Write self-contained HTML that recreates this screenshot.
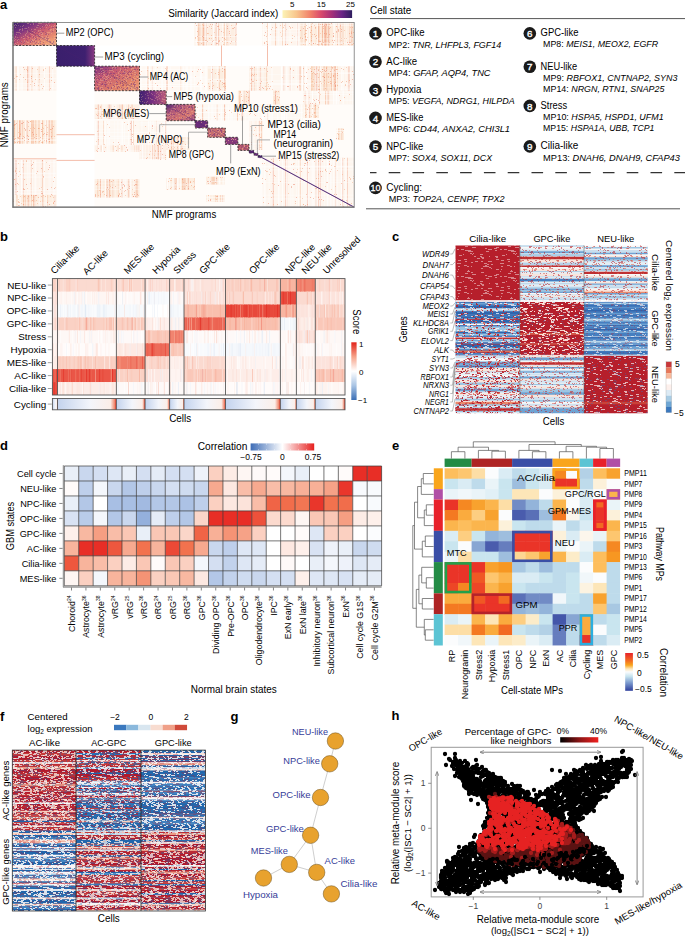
<!DOCTYPE html>
<html><head><meta charset="utf-8"><style>
html,body{margin:0;padding:0;background:#fff;width:685px;height:938px;overflow:hidden}
svg{display:block;font-family:"Liberation Sans",sans-serif}
</style></head><body>
<svg width="685" height="938" viewBox="0 0 685 938">
<text x="0.0" y="9.0" font-size="13" font-weight="bold" fill="#000">a</text>
<defs>
<linearGradient id="magma" x1="0" x2="1" y1="0" y2="0">
<stop offset="0" stop-color="#fcf3b6"/><stop offset="0.2" stop-color="#f8c58c"/>
<stop offset="0.4" stop-color="#f1806a"/><stop offset="0.55" stop-color="#da4a6c"/>
<stop offset="0.7" stop-color="#a83078"/><stop offset="0.85" stop-color="#6a2486"/>
<stop offset="1" stop-color="#2d1d5e"/></linearGradient>
</defs>
<rect x="282.50" y="10.20" width="69.60" height="7.80" fill="url(#magma)"/>
<text x="168.3" y="16.8" font-size="10" textLength="110.0" lengthAdjust="spacingAndGlyphs">Similarity (Jaccard index)</text>
<text x="292.3" y="7.3" font-size="8" text-anchor="middle">5</text>
<text x="321.2" y="7.3" font-size="8" text-anchor="middle">15</text>
<text x="350.5" y="7.3" font-size="8" text-anchor="middle">25</text>
<text x="370.0" y="13.7" font-size="10" textLength="41.3" lengthAdjust="spacingAndGlyphs">Cell state</text>
<line x1="370.00" y1="18.60" x2="685.00" y2="18.60" stroke="#555" stroke-width="1"/>
<circle cx="375.5" cy="33.4" r="6.3" fill="#1a1a1a"/>
<text x="375.5" y="37.1" font-size="9.8" text-anchor="middle" fill="#fff" stroke="#fff" stroke-width="0.35">1</text>
<text x="386.3" y="36.3" font-size="10" textLength="38.3" lengthAdjust="spacingAndGlyphs">OPC-like</text>
<text x="388.8" y="47.5" font-size="9.7" textLength="112.5" lengthAdjust="spacingAndGlyphs">MP2: <tspan font-style="italic">TNR, LHFPL3, FGF14</tspan></text>
<circle cx="375.5" cy="61.7" r="6.3" fill="#1a1a1a"/>
<text x="375.5" y="65.4" font-size="9.8" text-anchor="middle" fill="#fff" stroke="#fff" stroke-width="0.35">2</text>
<text x="386.3" y="64.6" font-size="10" textLength="30.8" lengthAdjust="spacingAndGlyphs">AC-like</text>
<text x="388.8" y="75.6" font-size="9.7" textLength="101.8" lengthAdjust="spacingAndGlyphs">MP4: <tspan font-style="italic">GFAP, AQP4, TNC</tspan></text>
<circle cx="375.5" cy="90.1" r="6.3" fill="#1a1a1a"/>
<text x="375.5" y="93.8" font-size="9.8" text-anchor="middle" fill="#fff" stroke="#fff" stroke-width="0.35">3</text>
<text x="386.3" y="93.0" font-size="10" textLength="35.0" lengthAdjust="spacingAndGlyphs">Hypoxia</text>
<text x="388.8" y="104.4" font-size="9.7" textLength="125.8" lengthAdjust="spacingAndGlyphs">MP5: <tspan font-style="italic">VEGFA, NDRG1, HILPDA</tspan></text>
<circle cx="375.5" cy="117.9" r="6.3" fill="#1a1a1a"/>
<text x="375.5" y="121.6" font-size="9.8" text-anchor="middle" fill="#fff" stroke="#fff" stroke-width="0.35">4</text>
<text x="386.3" y="120.8" font-size="10" textLength="37.0" lengthAdjust="spacingAndGlyphs">MES-like</text>
<text x="388.8" y="132.0" font-size="9.7" textLength="121.3" lengthAdjust="spacingAndGlyphs">MP6: <tspan font-style="italic">CD44, ANXA2, CHI3L1</tspan></text>
<circle cx="375.5" cy="146.6" r="6.3" fill="#1a1a1a"/>
<text x="375.5" y="150.3" font-size="9.8" text-anchor="middle" fill="#fff" stroke="#fff" stroke-width="0.35">5</text>
<text x="386.3" y="149.5" font-size="10" textLength="37.0" lengthAdjust="spacingAndGlyphs">NPC-like</text>
<text x="388.8" y="160.8" font-size="9.7" textLength="103.3" lengthAdjust="spacingAndGlyphs">MP7: <tspan font-style="italic">SOX4, SOX11, DCX</tspan></text>
<circle cx="529.8" cy="33.4" r="6.3" fill="#1a1a1a"/>
<text x="529.8" y="37.1" font-size="9.8" text-anchor="middle" fill="#fff" stroke="#fff" stroke-width="0.35">6</text>
<text x="540.6" y="36.3" font-size="10" textLength="37.8" lengthAdjust="spacingAndGlyphs">GPC-like</text>
<text x="543.1" y="47.2" font-size="9.7" textLength="115.0" lengthAdjust="spacingAndGlyphs">MP8: <tspan font-style="italic">MEIS1, MEOX2, EGFR</tspan></text>
<circle cx="529.8" cy="66.7" r="6.3" fill="#1a1a1a"/>
<text x="529.8" y="70.4" font-size="9.8" text-anchor="middle" fill="#fff" stroke="#fff" stroke-width="0.35">7</text>
<text x="540.6" y="69.6" font-size="10" textLength="36.5" lengthAdjust="spacingAndGlyphs">NEU-like</text>
<text x="543.1" y="81.2" font-size="9.7" textLength="134.3" lengthAdjust="spacingAndGlyphs">MP9: <tspan font-style="italic">RBFOX1, CNTNAP2, SYN3</tspan></text>
<text x="543.1" y="92.0" font-size="9.7" textLength="121.3" lengthAdjust="spacingAndGlyphs">MP14: <tspan font-style="italic">NRGN, RTN1, SNAP25</tspan></text>
<circle cx="529.8" cy="105.9" r="6.3" fill="#1a1a1a"/>
<text x="529.8" y="109.6" font-size="9.8" text-anchor="middle" fill="#fff" stroke="#fff" stroke-width="0.35">8</text>
<text x="540.6" y="108.8" font-size="10" textLength="26.5" lengthAdjust="spacingAndGlyphs">Stress</text>
<text x="543.1" y="120.0" font-size="9.7" textLength="120.5" lengthAdjust="spacingAndGlyphs">MP10: <tspan font-style="italic">HSPA5, HSPD1, UFM1</tspan></text>
<text x="543.1" y="131.3" font-size="9.7" textLength="111.3" lengthAdjust="spacingAndGlyphs">MP15: <tspan font-style="italic">HSPA1A, UBB, TCP1</tspan></text>
<circle cx="529.8" cy="146.4" r="6.3" fill="#1a1a1a"/>
<text x="529.8" y="150.1" font-size="9.8" text-anchor="middle" fill="#fff" stroke="#fff" stroke-width="0.35">9</text>
<text x="540.6" y="149.3" font-size="10" textLength="37.8" lengthAdjust="spacingAndGlyphs">Cilia-like</text>
<text x="543.1" y="160.5" font-size="9.7" textLength="136.8" lengthAdjust="spacingAndGlyphs">MP13: <tspan font-style="italic">DNAH6, DNAH9, CFAP43</tspan></text>
<line x1="370.00" y1="172.60" x2="685.00" y2="172.60" stroke="#333" stroke-width="1.1" stroke-dasharray="11.6 12.2" stroke-dashoffset="5.1"/>
<circle cx="375.5" cy="187.9" r="6.3" fill="#1a1a1a"/>
<text x="375.5" y="191.4" font-size="9" text-anchor="middle" textLength="10.0" lengthAdjust="spacingAndGlyphs" fill="#fff" stroke="#fff" stroke-width="0.3">10</text>
<text x="386.3" y="190.8" font-size="10" textLength="35.8" lengthAdjust="spacingAndGlyphs">Cycling:</text>
<text x="388.8" y="202.1" font-size="9.7" textLength="115.8" lengthAdjust="spacingAndGlyphs">MP3: <tspan font-style="italic">TOP2A, CENPF, TPX2</tspan></text>
<line x1="366.00" y1="208.80" x2="680.00" y2="208.80" stroke="#555" stroke-width="1"/>
<rect x="13.00" y="66.20" width="43.50" height="141.00" fill="#f8c8a0" fill-opacity="0.06"/>
<rect x="94.60" y="22.40" width="259.60" height="23.10" fill="#f8c8a0" fill-opacity="0.04"/>
<rect x="94.60" y="66.20" width="259.60" height="141.00" fill="#f8c8a0" fill-opacity="0.06"/>
<rect x="194.50" y="22.40" width="42.50" height="23.10" fill="#f8c8a0" fill-opacity="0.28"/>
<rect x="262.00" y="22.40" width="38.00" height="23.10" fill="#f8c8a0" fill-opacity="0.14"/>
<rect x="300.00" y="22.40" width="54.00" height="23.10" fill="#f8c8a0" fill-opacity="0.35"/>
<rect x="13.00" y="66.20" width="43.50" height="24.50" fill="#f8c8a0" fill-opacity="0.14"/>
<rect x="207.70" y="66.20" width="18.30" height="24.50" fill="#f8c8a0" fill-opacity="0.28"/>
<rect x="249.00" y="66.20" width="19.00" height="24.50" fill="#f8c8a0" fill-opacity="0.22"/>
<rect x="268.00" y="66.20" width="43.00" height="24.50" fill="#f8c8a0" fill-opacity="0.11"/>
<rect x="311.00" y="66.20" width="27.00" height="24.50" fill="#f8c8a0" fill-opacity="0.42"/>
<rect x="338.00" y="66.20" width="16.00" height="24.50" fill="#f8c8a0" fill-opacity="0.14"/>
<rect x="139.50" y="66.20" width="67.50" height="24.50" fill="#f8c8a0" fill-opacity="0.07"/>
<rect x="237.90" y="90.70" width="11.70" height="13.70" fill="#f8c8a0" fill-opacity="0.35"/>
<rect x="273.00" y="90.70" width="7.00" height="13.70" fill="#f8c8a0" fill-opacity="0.35"/>
<rect x="303.00" y="90.70" width="51.00" height="13.70" fill="#f8c8a0" fill-opacity="0.11"/>
<rect x="94.60" y="104.40" width="44.90" height="14.60" fill="#f8c8a0" fill-opacity="0.22"/>
<rect x="303.50" y="104.40" width="15.50" height="13.60" fill="#f8c8a0" fill-opacity="0.28"/>
<rect x="195.00" y="104.40" width="108.00" height="16.30" fill="#f8c8a0" fill-opacity="0.08"/>
<rect x="13.00" y="120.20" width="43.50" height="23.70" fill="#f8c8a0" fill-opacity="0.35"/>
<rect x="94.60" y="120.70" width="44.90" height="24.30" fill="#f8c8a0" fill-opacity="0.08"/>
<rect x="139.50" y="120.70" width="26.70" height="24.30" fill="#f8c8a0" fill-opacity="0.10"/>
<rect x="166.20" y="137.00" width="23.80" height="13.00" fill="#f8c8a0" fill-opacity="0.28"/>
<rect x="336.00" y="128.00" width="8.00" height="12.00" fill="#f8c8a0" fill-opacity="0.28"/>
<rect x="249.00" y="120.70" width="13.00" height="29.30" fill="#f8c8a0" fill-opacity="0.17"/>
<rect x="139.50" y="145.00" width="26.70" height="15.00" fill="#f8c8a0" fill-opacity="0.21"/>
<rect x="94.60" y="145.00" width="44.90" height="7.00" fill="#f8c8a0" fill-opacity="0.17"/>
<rect x="13.00" y="160.00" width="43.50" height="35.00" fill="#f8c8a0" fill-opacity="0.14"/>
<rect x="13.00" y="195.00" width="43.50" height="12.20" fill="#f8c8a0" fill-opacity="0.28"/>
<rect x="94.60" y="179.30" width="44.90" height="18.40" fill="#f8c8a0" fill-opacity="0.28"/>
<rect x="166.20" y="178.00" width="28.80" height="12.00" fill="#f8c8a0" fill-opacity="0.28"/>
<rect x="206.00" y="176.70" width="18.70" height="7.90" fill="#f8c8a0" fill-opacity="0.25"/>
<rect x="206.00" y="195.00" width="18.70" height="6.70" fill="#f8c8a0" fill-opacity="0.25"/>
<rect x="262.00" y="157.70" width="92.00" height="49.50" fill="#f8c8a0" fill-opacity="0.11"/>
<path d="M213.4 22.4h1v23.1h-1zM195.8 22.4h1v23.1h-1zM204.2 22.4h1v23.1h-1zM194.7 22.4h0.7v23.1h-0.7zM289.5 22.4h1v23.1h-1zM277.7 22.4h1v23.1h-1zM270.5 22.4h0.7v23.1h-0.7zM262.6 22.4h1v23.1h-1zM275.5 22.4h1v23.1h-1zM263.3 22.4h0.7v23.1h-0.7zM262.8 22.4h0.7v23.1h-0.7zM264.5 22.4h1v23.1h-1zM347.7 22.4h1v23.1h-1zM307.2 22.4h1v23.1h-1zM306 22.4h1v23.1h-1zM349.2 22.4h1v23.1h-1zM316.8 22.4h1v23.1h-1zM304 22.4h0.7v23.1h-0.7zM337.7 22.4h1v23.1h-1zM336.4 22.4h0.7v23.1h-0.7zM313.6 22.4h0.7v23.1h-0.7zM44 66.2h1v24.5h-1zM21.6 66.2h1v24.5h-1zM20.4 66.2h0.7v24.5h-0.7zM212.5 66.2h1v24.5h-1zM210.9 66.2h0.7v24.5h-0.7zM211.4 66.2h0.7v24.5h-0.7zM218.5 66.2h0.7v24.5h-0.7zM263.5 66.2h0.7v24.5h-0.7zM252.7 66.2h0.7v24.5h-0.7zM258.6 66.2h0.7v24.5h-0.7zM257.1 66.2h1v24.5h-1zM303.4 66.2h0.7v24.5h-0.7zM285.9 66.2h1v24.5h-1zM295.6 66.2h1v24.5h-1zM291.2 66.2h0.7v24.5h-0.7zM295.6 66.2h0.7v24.5h-0.7zM280.8 66.2h1v24.5h-1zM305.2 66.2h0.7v24.5h-0.7zM295.7 66.2h1v24.5h-1zM286.6 66.2h1v24.5h-1zM290.4 66.2h1v24.5h-1zM327.2 66.2h0.7v24.5h-0.7zM332.1 66.2h0.7v24.5h-0.7zM320.8 66.2h0.7v24.5h-0.7zM318.7 66.2h0.7v24.5h-0.7zM351.9 66.2h0.7v24.5h-0.7zM345.5 66.2h1v24.5h-1zM152.4 66.2h0.7v24.5h-0.7zM168.4 66.2h0.7v24.5h-0.7zM194.3 66.2h1v24.5h-1zM205.2 66.2h0.7v24.5h-0.7zM161.6 66.2h1v24.5h-1zM164.7 66.2h1v24.5h-1zM194.5 66.2h0.7v24.5h-0.7zM167.3 66.2h1v24.5h-1zM145.6 66.2h1v24.5h-1zM170.4 66.2h0.7v24.5h-0.7zM149.2 66.2h0.7v24.5h-0.7zM243.6 90.7h1v13.7h-1zM242 90.7h1v13.7h-1zM275 90.7h0.7v13.7h-0.7zM318.4 90.7h1v13.7h-1zM346.7 90.7h0.7v13.7h-0.7zM337.9 90.7h1v13.7h-1zM307 90.7h0.7v13.7h-0.7zM309.1 90.7h0.7v13.7h-0.7zM336.4 90.7h1v13.7h-1zM335.1 90.7h0.7v13.7h-0.7zM312 90.7h1v13.7h-1zM108.5 104.4h1v14.6h-1zM111.9 104.4h1v14.6h-1zM124.6 104.4h0.7v14.6h-0.7zM105.8 104.4h0.7v14.6h-0.7zM115 104.4h0.7v14.6h-0.7zM109.7 104.4h0.7v14.6h-0.7zM132.5 104.4h0.7v14.6h-0.7zM129.6 104.4h0.7v14.6h-0.7zM115.2 104.4h1v14.6h-1zM114.3 104.4h0.7v14.6h-0.7zM103.6 104.4h1v14.6h-1zM306.8 104.4h1v13.6h-1zM270.1 104.4h0.7v16.3h-0.7zM207.9 104.4h0.7v16.3h-0.7zM224.2 104.4h1v16.3h-1zM285.8 104.4h1v16.3h-1zM197.5 104.4h1v16.3h-1zM290.6 104.4h1v16.3h-1zM245.3 104.4h1v16.3h-1zM283.9 104.4h1v16.3h-1zM281.2 104.4h1v16.3h-1zM211.1 104.4h0.7v16.3h-0.7zM283.3 104.4h1v16.3h-1zM232.2 104.4h0.7v16.3h-0.7zM283.4 104.4h0.7v16.3h-0.7zM226.5 104.4h1v16.3h-1zM264.3 104.4h1v16.3h-1zM212.4 104.4h1v16.3h-1zM200.7 104.4h1v16.3h-1zM249.4 104.4h1v16.3h-1zM271.7 104.4h1v16.3h-1zM214.8 104.4h0.7v16.3h-0.7zM257.8 104.4h0.7v16.3h-0.7zM268.7 104.4h1v16.3h-1zM262.7 104.4h1v16.3h-1zM252.7 104.4h0.7v16.3h-0.7zM286.7 104.4h0.7v16.3h-0.7zM18.1 120.2h0.7v23.7h-0.7zM46.8 120.2h1v23.7h-1zM26.1 120.2h0.7v23.7h-0.7zM30.2 120.2h1v23.7h-1zM37.6 120.2h0.7v23.7h-0.7zM40.2 120.2h1v23.7h-1zM117.4 120.7h1v24.3h-1zM103.7 120.7h0.7v24.3h-0.7zM131.4 120.7h0.7v24.3h-0.7zM132 120.7h1v24.3h-1zM124.1 120.7h1v24.3h-1zM106.9 120.7h1v24.3h-1zM121.5 120.7h1v24.3h-1zM162.7 120.7h1v24.3h-1zM156.8 120.7h0.7v24.3h-0.7zM141.4 120.7h0.7v24.3h-0.7zM168.2 137h1v13h-1zM169.8 137h0.7v13h-0.7zM252.1 120.7h1v29.3h-1zM256.9 120.7h1v29.3h-1zM253.8 120.7h0.7v29.3h-0.7zM157.7 145h1v15h-1zM162.1 145h1v15h-1zM140.3 145h1v15h-1zM144.7 145h1v15h-1zM147.9 145h0.7v15h-0.7zM160.8 145h1v15h-1zM154.8 145h1v15h-1zM118.9 145h1v7h-1zM101.3 145h1v7h-1zM106.6 145h1v7h-1zM136.2 145h0.7v7h-0.7zM127.7 145h1v7h-1zM129.3 145h0.7v7h-0.7zM114.6 145h1v7h-1zM54.7 160h0.7v35h-0.7zM17.7 160h1v35h-1zM53.9 160h0.7v35h-0.7zM28.9 160h0.7v35h-0.7zM48.6 160h1v35h-1zM27.3 160h1v35h-1zM13.6 160h0.7v35h-0.7zM43.9 160h1v35h-1zM21.6 160h0.7v35h-0.7zM32.3 160h0.7v35h-0.7zM50.4 160h0.7v35h-0.7zM54.2 195h0.7v12.2h-0.7zM33.7 195h1v12.2h-1zM38.8 195h1v12.2h-1zM14.7 195h0.7v12.2h-0.7zM54.8 195h0.7v12.2h-0.7zM14 195h1v12.2h-1zM39.1 195h0.7v12.2h-0.7zM20.1 195h0.7v12.2h-0.7zM129.8 179.3h1v18.4h-1zM106.1 179.3h1v18.4h-1zM126.6 179.3h0.7v18.4h-0.7zM135.4 179.3h0.7v18.4h-0.7zM101.4 179.3h1v18.4h-1zM123.2 179.3h0.7v18.4h-0.7zM167.7 178h1v12h-1zM177.4 178h0.7v12h-0.7zM173.7 178h0.7v12h-0.7zM184.8 178h0.7v12h-0.7zM215.1 176.7h0.7v7.9h-0.7zM208.6 176.7h0.7v7.9h-0.7zM209.4 195h0.7v6.7h-0.7zM211.8 195h0.7v6.7h-0.7zM218.6 195h0.7v6.7h-0.7zM291.6 157.7h1v49.5h-1zM323.9 157.7h0.7v49.5h-0.7zM263.9 157.7h0.7v49.5h-0.7zM262.3 157.7h1v49.5h-1zM285.8 157.7h0.7v49.5h-0.7zM290.3 157.7h0.7v49.5h-0.7zM304.8 157.7h0.7v49.5h-0.7zM327.5 157.7h0.7v49.5h-0.7zM314.5 157.7h0.7v49.5h-0.7zM264 157.7h1v49.5h-1zM303.6 157.7h0.7v49.5h-0.7zM320.3 157.7h0.7v49.5h-0.7zM326.7 157.7h0.7v49.5h-0.7zM268.6 157.7h1v49.5h-1z" fill="#fff" fill-opacity="0.55"/>
<path d="M215.7 22.4h0.7v23.1h-0.7zM220.1 22.4h0.7v23.1h-0.7zM213.1 22.4h0.7v23.1h-0.7zM195.1 22.4h0.7v23.1h-0.7zM226.5 22.4h1v23.1h-1zM229.8 22.4h1v23.1h-1zM234.5 22.4h0.7v23.1h-0.7zM264.9 22.4h0.7v23.1h-0.7zM266.1 22.4h1v23.1h-1zM281.3 22.4h0.7v23.1h-0.7zM278.6 22.4h0.7v23.1h-0.7zM283.3 22.4h0.7v23.1h-0.7zM295.9 22.4h1v23.1h-1zM349.5 22.4h1v23.1h-1zM317.4 22.4h1v23.1h-1zM333.7 22.4h0.7v23.1h-0.7zM320.5 22.4h1v23.1h-1zM303.4 22.4h1v23.1h-1zM307.2 22.4h1v23.1h-1zM301.3 22.4h1v23.1h-1zM328.5 22.4h1v23.1h-1zM328.5 22.4h0.7v23.1h-0.7zM43.6 66.2h1v24.5h-1zM22.2 66.2h0.7v24.5h-0.7zM52.1 66.2h1v24.5h-1zM26.5 66.2h1v24.5h-1zM22.3 66.2h0.7v24.5h-0.7zM18.7 66.2h0.7v24.5h-0.7zM46.7 66.2h0.7v24.5h-0.7zM30.2 66.2h0.7v24.5h-0.7zM55.6 66.2h0.7v24.5h-0.7zM33.6 66.2h0.7v24.5h-0.7zM45.5 66.2h1v24.5h-1zM21.1 66.2h0.7v24.5h-0.7zM223.2 66.2h0.7v24.5h-0.7zM224.9 66.2h0.7v24.5h-0.7zM215.5 66.2h0.7v24.5h-0.7zM262.1 66.2h1v24.5h-1zM265.6 66.2h0.7v24.5h-0.7zM260 66.2h0.7v24.5h-0.7zM260.4 66.2h1v24.5h-1zM282.5 66.2h0.7v24.5h-0.7zM302.2 66.2h1v24.5h-1zM287.6 66.2h0.7v24.5h-0.7zM305.8 66.2h0.7v24.5h-0.7zM283.3 66.2h1v24.5h-1zM330.8 66.2h1v24.5h-1zM320.5 66.2h0.7v24.5h-0.7zM322 66.2h1v24.5h-1zM352.5 66.2h1v24.5h-1zM350 66.2h1v24.5h-1zM348.9 66.2h1v24.5h-1zM169.3 66.2h1v24.5h-1zM146.3 66.2h0.7v24.5h-0.7zM184.7 66.2h0.7v24.5h-0.7zM179 66.2h0.7v24.5h-0.7zM154.6 66.2h0.7v24.5h-0.7zM148.8 66.2h0.7v24.5h-0.7zM202.5 66.2h0.7v24.5h-0.7zM204.4 66.2h0.7v24.5h-0.7zM185.2 66.2h1v24.5h-1zM190.1 66.2h1v24.5h-1zM247.8 90.7h1v13.7h-1zM247.5 90.7h0.7v13.7h-0.7zM278.5 90.7h1v13.7h-1zM275.2 90.7h0.7v13.7h-0.7zM328.9 90.7h1v13.7h-1zM336.5 90.7h1v13.7h-1zM306.7 90.7h0.7v13.7h-0.7zM315.6 90.7h0.7v13.7h-0.7zM317.3 90.7h0.7v13.7h-0.7zM312 90.7h0.7v13.7h-0.7zM342.7 90.7h0.7v13.7h-0.7zM334.2 90.7h1v13.7h-1zM349.6 90.7h1v13.7h-1zM342.1 90.7h0.7v13.7h-0.7zM125.1 104.4h1v14.6h-1zM125.4 104.4h0.7v14.6h-0.7zM116.2 104.4h0.7v14.6h-0.7zM127.4 104.4h0.7v14.6h-0.7zM105.2 104.4h0.7v14.6h-0.7zM113.3 104.4h0.7v14.6h-0.7zM108.2 104.4h0.7v14.6h-0.7zM111.3 104.4h0.7v14.6h-0.7zM113.1 104.4h0.7v14.6h-0.7zM308.6 104.4h0.7v13.6h-0.7zM307.9 104.4h0.7v13.6h-0.7zM305.3 104.4h1v13.6h-1zM272.1 104.4h1v16.3h-1zM198.3 104.4h0.7v16.3h-0.7zM239.5 104.4h1v16.3h-1zM298.6 104.4h1v16.3h-1zM248.1 104.4h1v16.3h-1zM219.5 104.4h0.7v16.3h-0.7zM250.8 104.4h1v16.3h-1zM237.5 104.4h0.7v16.3h-0.7zM234.3 104.4h1v16.3h-1zM270.7 104.4h0.7v16.3h-0.7zM277.8 104.4h1v16.3h-1zM271.7 104.4h1v16.3h-1zM270.8 104.4h1v16.3h-1zM295.1 104.4h0.7v16.3h-0.7zM211.9 104.4h0.7v16.3h-0.7zM21.1 120.2h1v23.7h-1zM48.6 120.2h0.7v23.7h-0.7zM28.3 120.2h1v23.7h-1zM35 120.2h0.7v23.7h-0.7zM15.7 120.2h1v23.7h-1zM45.7 120.2h1v23.7h-1zM51.4 120.2h0.7v23.7h-0.7zM17 120.2h1v23.7h-1zM44.7 120.2h0.7v23.7h-0.7zM114 120.7h1v24.3h-1zM97.8 120.7h1v24.3h-1zM128.6 120.7h0.7v24.3h-0.7zM130.4 120.7h0.7v24.3h-0.7zM109.3 120.7h1v24.3h-1zM102.6 120.7h1v24.3h-1zM121.2 120.7h0.7v24.3h-0.7zM120.2 120.7h0.7v24.3h-0.7zM157.5 120.7h0.7v24.3h-0.7zM150.4 120.7h1v24.3h-1zM156.5 120.7h1v24.3h-1zM141.8 120.7h1v24.3h-1zM149.2 120.7h1v24.3h-1zM186 137h0.7v13h-0.7zM174.3 137h0.7v13h-0.7zM173.1 137h0.7v13h-0.7zM174.3 137h0.7v13h-0.7zM179.8 137h1v13h-1zM189 137h1v13h-1zM179 137h1v13h-1zM336.7 128h1v12h-1zM249.6 120.7h0.7v29.3h-0.7zM250.1 120.7h0.7v29.3h-0.7zM253 120.7h1v29.3h-1zM157.4 145h0.7v15h-0.7zM143.1 145h0.7v15h-0.7zM98.9 145h0.7v7h-0.7zM138.1 145h1v7h-1zM130.2 145h1v7h-1zM105.6 145h0.7v7h-0.7zM100.4 145h1v7h-1zM126.6 145h0.7v7h-0.7zM22.4 160h1v35h-1zM33.9 160h1v35h-1zM16.7 160h0.7v35h-0.7zM38.8 160h0.7v35h-0.7zM40.8 160h1v35h-1zM19.3 195h0.7v12.2h-0.7zM44 195h0.7v12.2h-0.7zM24.2 195h0.7v12.2h-0.7zM40.9 195h0.7v12.2h-0.7zM52.4 195h0.7v12.2h-0.7zM15.2 195h0.7v12.2h-0.7zM20.4 195h0.7v12.2h-0.7zM14.1 195h1v12.2h-1zM33.2 195h1v12.2h-1zM129.9 179.3h0.7v18.4h-0.7zM132.8 179.3h0.7v18.4h-0.7zM132.9 179.3h1v18.4h-1zM126 179.3h0.7v18.4h-0.7zM133.6 179.3h1v18.4h-1zM115.2 179.3h0.7v18.4h-0.7zM109.1 179.3h0.7v18.4h-0.7zM167.5 178h0.7v12h-0.7zM169.6 178h1v12h-1zM208.8 176.7h0.7v7.9h-0.7zM223.1 176.7h1v7.9h-1zM209.2 195h0.7v6.7h-0.7zM220.7 195h1v6.7h-1zM330 157.7h0.7v49.5h-0.7zM316.7 157.7h1v49.5h-1zM334.3 157.7h1v49.5h-1zM277.8 157.7h0.7v49.5h-0.7zM295.9 157.7h1v49.5h-1zM352.4 157.7h0.7v49.5h-0.7zM300.9 157.7h1v49.5h-1zM340.6 157.7h1v49.5h-1zM310.5 157.7h0.7v49.5h-0.7zM346.1 157.7h0.7v49.5h-0.7zM282.4 157.7h0.7v49.5h-0.7zM293.4 157.7h0.7v49.5h-0.7z" fill="#fff" fill-opacity="0.35"/>
<path d="M228 22.4h1v23.1h-1zM217 22.4h0.7v23.1h-0.7zM235.5 22.4h1v23.1h-1zM225.3 22.4h0.7v23.1h-0.7zM196 22.4h0.7v23.1h-0.7zM212.9 22.4h0.7v23.1h-0.7zM221.8 22.4h1v23.1h-1zM236 22.4h0.7v23.1h-0.7zM205.1 22.4h0.7v23.1h-0.7zM206.6 22.4h0.7v23.1h-0.7zM267.9 22.4h0.7v23.1h-0.7zM297.3 22.4h1v23.1h-1zM269.9 22.4h0.7v23.1h-0.7zM268.6 22.4h1v23.1h-1zM286.4 22.4h0.7v23.1h-0.7zM307.6 22.4h0.7v23.1h-0.7zM309 22.4h1v23.1h-1zM344.5 22.4h0.7v23.1h-0.7zM333.3 22.4h1v23.1h-1zM346.4 22.4h0.7v23.1h-0.7zM334.5 22.4h0.7v23.1h-0.7zM341.5 22.4h0.7v23.1h-0.7zM306.1 22.4h0.7v23.1h-0.7zM312 22.4h1v23.1h-1zM29 66.2h1v24.5h-1zM39.3 66.2h0.7v24.5h-0.7zM35.8 66.2h0.7v24.5h-0.7zM17.1 66.2h1v24.5h-1zM17.9 66.2h1v24.5h-1zM52.6 66.2h0.7v24.5h-0.7zM211.5 66.2h1v24.5h-1zM216.7 66.2h1v24.5h-1zM249.8 66.2h0.7v24.5h-0.7zM301.9 66.2h1v24.5h-1zM304.9 66.2h0.7v24.5h-0.7zM271.5 66.2h1v24.5h-1zM281.1 66.2h0.7v24.5h-0.7zM306.2 66.2h1v24.5h-1zM281.4 66.2h1v24.5h-1zM319.9 66.2h1v24.5h-1zM314.6 66.2h1v24.5h-1zM332.1 66.2h0.7v24.5h-0.7zM336.1 66.2h0.7v24.5h-0.7zM317.4 66.2h0.7v24.5h-0.7zM316.4 66.2h1v24.5h-1zM341.2 66.2h1v24.5h-1zM342.7 66.2h0.7v24.5h-0.7zM342.6 66.2h1v24.5h-1zM200.9 66.2h1v24.5h-1zM161.6 66.2h1v24.5h-1zM140.5 66.2h1v24.5h-1zM186.2 66.2h0.7v24.5h-0.7zM182.9 66.2h0.7v24.5h-0.7zM190.6 66.2h1v24.5h-1zM155.1 66.2h0.7v24.5h-0.7zM187.1 66.2h0.7v24.5h-0.7zM148.6 66.2h1v24.5h-1zM199.8 66.2h0.7v24.5h-0.7zM200.5 66.2h0.7v24.5h-0.7zM205.7 66.2h1v24.5h-1zM241.1 90.7h1v13.7h-1zM312.1 90.7h0.7v13.7h-0.7zM343.3 90.7h0.7v13.7h-0.7zM352.3 90.7h1v13.7h-1zM333.1 90.7h1v13.7h-1zM336 90.7h0.7v13.7h-0.7zM317.6 90.7h0.7v13.7h-0.7zM333.5 90.7h0.7v13.7h-0.7zM101.7 104.4h0.7v14.6h-0.7zM103.6 104.4h0.7v14.6h-0.7zM304.1 104.4h0.7v13.6h-0.7zM312.8 104.4h0.7v13.6h-0.7zM311.7 104.4h1v13.6h-1zM282.4 104.4h0.7v16.3h-0.7zM262.3 104.4h1v16.3h-1zM220.7 104.4h1v16.3h-1zM277 104.4h0.7v16.3h-0.7zM281.4 104.4h0.7v16.3h-0.7zM261.6 104.4h1v16.3h-1zM301 104.4h0.7v16.3h-0.7zM228.3 104.4h1v16.3h-1zM230.8 104.4h0.7v16.3h-0.7zM283.8 104.4h1v16.3h-1zM208.4 104.4h1v16.3h-1zM266.8 104.4h0.7v16.3h-0.7zM215.8 104.4h1v16.3h-1zM230.4 104.4h0.7v16.3h-0.7zM55.5 120.2h1v23.7h-1zM49.6 120.2h0.7v23.7h-0.7zM29.6 120.2h1v23.7h-1zM41.1 120.2h1v23.7h-1zM24.9 120.2h1v23.7h-1zM44.7 120.2h1v23.7h-1zM103.2 120.7h1v24.3h-1zM105.1 120.7h0.7v24.3h-0.7zM97.8 120.7h0.7v24.3h-0.7zM122.3 120.7h0.7v24.3h-0.7zM95.3 120.7h1v24.3h-1zM108.5 120.7h1v24.3h-1zM128.4 120.7h0.7v24.3h-0.7zM148.1 120.7h1v24.3h-1zM164.2 120.7h1v24.3h-1zM150.2 120.7h0.7v24.3h-0.7zM160.8 120.7h0.7v24.3h-0.7zM152.6 120.7h1v24.3h-1zM179.3 137h0.7v13h-0.7zM185.8 137h0.7v13h-0.7zM336.8 128h1v12h-1zM336.4 128h1v12h-1zM338.3 128h0.7v12h-0.7zM142 145h1v15h-1zM150.8 145h1v15h-1zM159.7 145h0.7v15h-0.7zM158.7 145h0.7v15h-0.7zM101.8 145h0.7v7h-0.7zM102 145h1v7h-1zM108.9 145h0.7v7h-0.7zM118.3 145h1v7h-1zM107.5 145h1v7h-1zM101.7 145h0.7v7h-0.7zM98.5 145h0.7v7h-0.7zM97 145h1v7h-1zM126.8 145h1v7h-1zM52.9 160h0.7v35h-0.7zM14.4 160h0.7v35h-0.7zM15 160h1v35h-1zM20.9 160h1v35h-1zM35.3 160h1v35h-1zM26.1 195h0.7v12.2h-0.7zM18.2 195h1v12.2h-1zM45.6 195h1v12.2h-1zM24.1 195h1v12.2h-1zM130.5 179.3h1v18.4h-1zM105.4 179.3h0.7v18.4h-0.7zM123.6 179.3h1v18.4h-1zM121.5 179.3h1v18.4h-1zM108.3 179.3h0.7v18.4h-0.7zM125.2 179.3h1v18.4h-1zM122.1 179.3h0.7v18.4h-0.7zM119.7 179.3h1v18.4h-1zM104.8 179.3h0.7v18.4h-0.7zM166.7 178h0.7v12h-0.7zM177.1 178h1v12h-1zM169.2 178h0.7v12h-0.7zM179.8 178h1v12h-1zM172.4 178h1v12h-1zM167.1 178h0.7v12h-0.7zM178.4 178h0.7v12h-0.7zM166.9 178h1v12h-1zM218.6 176.7h1v7.9h-1zM219.5 176.7h1v7.9h-1zM219.5 176.7h1v7.9h-1zM222.5 176.7h1v7.9h-1zM214.7 176.7h1v7.9h-1zM217.4 195h0.7v6.7h-0.7zM207 195h0.7v6.7h-0.7zM217.2 195h1v6.7h-1zM222.4 195h1v6.7h-1zM327.5 157.7h0.7v49.5h-0.7zM344.9 157.7h0.7v49.5h-0.7zM286.9 157.7h0.7v49.5h-0.7zM333.1 157.7h0.7v49.5h-0.7zM311.7 157.7h1v49.5h-1zM336.5 157.7h1v49.5h-1zM286.2 157.7h1v49.5h-1zM264.9 157.7h0.7v49.5h-0.7zM341.2 157.7h1v49.5h-1zM298.2 157.7h0.7v49.5h-0.7zM272 157.7h1v49.5h-1zM341 157.7h1v49.5h-1zM313.3 157.7h1v49.5h-1zM331.5 157.7h0.7v49.5h-0.7zM329.9 157.7h0.7v49.5h-0.7zM307.5 157.7h1v49.5h-1zM311.6 157.7h1v49.5h-1zM282.1 157.7h0.7v49.5h-0.7zM278.2 157.7h0.7v49.5h-0.7zM278.8 157.7h0.7v49.5h-0.7z" fill="#fff" fill-opacity="0.75"/>
<path d="M203.2 22.4h0.7v23.1h-0.7zM218.1 22.4h0.7v23.1h-0.7zM215.7 22.4h0.7v23.1h-0.7zM324.1 22.4h0.7v23.1h-0.7zM318.2 22.4h1v23.1h-1zM327.8 22.4h1v23.1h-1zM325.2 22.4h0.7v23.1h-0.7zM27 66.2h1v24.5h-1zM49.1 66.2h0.7v24.5h-0.7zM224 66.2h0.7v24.5h-0.7zM251.1 66.2h1v24.5h-1zM334.9 66.2h1v24.5h-1zM316.7 66.2h0.7v24.5h-0.7zM348.4 66.2h0.7v24.5h-0.7zM166.4 66.2h0.7v24.5h-0.7zM274.9 90.7h1v13.7h-1zM327.6 90.7h0.7v13.7h-0.7zM319.3 90.7h0.7v13.7h-0.7zM97.8 104.4h1v14.6h-1zM122 104.4h0.7v14.6h-0.7zM108.9 104.4h0.7v14.6h-0.7zM309.1 104.4h1v13.6h-1zM242.4 104.4h0.7v16.3h-0.7zM224 104.4h0.7v16.3h-0.7zM26.7 120.2h0.7v23.7h-0.7zM33.2 120.2h0.7v23.7h-0.7zM48.8 120.2h1v23.7h-1zM19.5 120.2h1v23.7h-1zM97.8 120.7h1v24.3h-1zM130.8 120.7h1v24.3h-1zM177.5 137h0.7v13h-0.7zM181.3 137h1v13h-1zM157.6 145h0.7v15h-0.7zM14.9 160h0.7v35h-0.7zM28.2 195h1v12.2h-1zM33.5 195h0.7v12.2h-0.7zM42.3 195h1v12.2h-1zM100 179.3h1v18.4h-1zM121.7 179.3h0.7v18.4h-0.7zM187.8 178h1v12h-1zM183.4 178h0.7v12h-0.7zM216.4 176.7h0.7v7.9h-0.7zM222.4 195h0.7v6.7h-0.7zM319.9 157.7h0.7v49.5h-0.7zM318.1 157.7h0.7v49.5h-0.7zM285 157.7h0.7v49.5h-0.7zM347.3 157.7h0.7v49.5h-0.7zM307 157.7h0.7v49.5h-0.7zM272.7 157.7h1v49.5h-1z" fill="#ec8060" fill-opacity="0.4"/>
<path d="M235.4 22.4h1v23.1h-1zM297.1 22.4h0.7v23.1h-0.7zM285.2 22.4h1v23.1h-1zM337.1 22.4h0.7v23.1h-0.7zM328.6 22.4h1v23.1h-1zM342.6 22.4h0.7v23.1h-0.7zM325 22.4h1v23.1h-1zM340.3 22.4h1v23.1h-1zM350.8 22.4h0.7v23.1h-0.7zM351.5 22.4h1v23.1h-1zM301.5 22.4h0.7v23.1h-0.7zM322 22.4h1v23.1h-1zM28.4 66.2h1v24.5h-1zM212.1 66.2h1v24.5h-1zM259.9 66.2h1v24.5h-1zM253.9 66.2h0.7v24.5h-0.7zM283.3 66.2h1v24.5h-1zM299.2 66.2h1v24.5h-1zM289.8 66.2h0.7v24.5h-0.7zM319.1 66.2h0.7v24.5h-0.7zM313.8 66.2h0.7v24.5h-0.7zM315.8 66.2h1v24.5h-1zM323.7 66.2h1v24.5h-1zM323.6 66.2h0.7v24.5h-0.7zM333.9 66.2h1v24.5h-1zM349.3 66.2h0.7v24.5h-0.7zM151.9 66.2h0.7v24.5h-0.7zM248.8 90.7h1v13.7h-1zM275 90.7h0.7v13.7h-0.7zM304.8 90.7h0.7v13.7h-0.7zM119.6 104.4h0.7v14.6h-0.7zM110.5 104.4h0.7v14.6h-0.7zM108.4 104.4h1v14.6h-1zM202.2 104.4h1v16.3h-1zM267.4 104.4h0.7v16.3h-0.7zM241.4 104.4h0.7v16.3h-0.7zM46.3 120.2h0.7v23.7h-0.7zM165.2 120.7h1v24.3h-1zM180.4 137h0.7v13h-0.7zM171.5 137h0.7v13h-0.7zM173 137h0.7v13h-0.7zM173.1 137h0.7v13h-0.7zM341.3 128h1v12h-1zM259 120.7h1v29.3h-1zM154.4 145h1v15h-1zM151.9 145h1v15h-1zM158.4 145h0.7v15h-0.7zM160.3 145h1v15h-1zM138.2 145h1v7h-1zM22.9 160h1v35h-1zM42.2 160h0.7v35h-0.7zM16 160h0.7v35h-0.7zM30.9 160h0.7v35h-0.7zM54.4 195h1v12.2h-1zM107.4 179.3h1v18.4h-1zM128 179.3h0.7v18.4h-0.7zM109 179.3h0.7v18.4h-0.7zM136.9 179.3h1v18.4h-1zM112.5 179.3h0.7v18.4h-0.7zM128.2 179.3h1v18.4h-1zM174.5 178h1v12h-1zM175.8 178h1v12h-1zM194 178h0.7v12h-0.7zM211.4 176.7h0.7v7.9h-0.7zM335.4 157.7h0.7v49.5h-0.7zM342.2 157.7h1v49.5h-1zM315.6 157.7h0.7v49.5h-0.7z" fill="#ec8060" fill-opacity="0.25"/>
<path d="M198.1 22.4h1v23.1h-1zM224 22.4h0.7v23.1h-0.7zM227.7 22.4h0.7v23.1h-0.7zM203.4 22.4h1v23.1h-1zM267.1 22.4h0.7v23.1h-0.7zM282.3 22.4h0.7v23.1h-0.7zM275.1 22.4h1v23.1h-1zM304.6 22.4h1v23.1h-1zM311.3 22.4h1v23.1h-1zM318.5 22.4h0.7v23.1h-0.7zM348.9 22.4h0.7v23.1h-0.7zM321.9 22.4h0.7v23.1h-0.7zM326.1 22.4h0.7v23.1h-0.7zM38.8 66.2h0.7v24.5h-0.7zM219 66.2h0.7v24.5h-0.7zM218.9 66.2h0.7v24.5h-0.7zM224.7 66.2h1v24.5h-1zM266.3 66.2h0.7v24.5h-0.7zM331.3 66.2h0.7v24.5h-0.7zM311.4 66.2h1v24.5h-1zM326.4 66.2h1v24.5h-1zM167 66.2h0.7v24.5h-0.7zM147.4 66.2h1v24.5h-1zM239.3 90.7h1v13.7h-1zM325.1 90.7h1v13.7h-1zM128.4 104.4h0.7v14.6h-0.7zM131.6 104.4h1v14.6h-1zM315 104.4h1v13.6h-1zM305.3 104.4h1v13.6h-1zM313.8 104.4h0.7v13.6h-0.7zM237 104.4h1v16.3h-1zM224.4 104.4h0.7v16.3h-0.7zM19.1 120.2h1v23.7h-1zM13.9 120.2h1v23.7h-1zM41.9 120.2h1v23.7h-1zM35.4 120.2h0.7v23.7h-0.7zM51.9 120.2h0.7v23.7h-0.7zM30.9 120.2h1v23.7h-1zM38.6 120.2h0.7v23.7h-0.7zM32.1 120.2h0.7v23.7h-0.7zM103.3 120.7h0.7v24.3h-0.7zM170.9 137h0.7v13h-0.7zM338.3 128h1v12h-1zM261.2 120.7h1v29.3h-1zM136.5 145h0.7v7h-0.7zM112.8 145h0.7v7h-0.7zM117.8 145h0.7v7h-0.7zM121.6 145h0.7v7h-0.7zM100.8 145h0.7v7h-0.7zM33 195h1v12.2h-1zM23 195h1v12.2h-1zM25.1 195h0.7v12.2h-0.7zM16.6 195h0.7v12.2h-0.7zM31.2 195h0.7v12.2h-0.7zM109.3 179.3h1v18.4h-1zM97.5 179.3h0.7v18.4h-0.7zM135.7 179.3h1v18.4h-1zM106.4 179.3h0.7v18.4h-0.7zM184.5 178h0.7v12h-0.7zM182 178h1v12h-1zM214.3 176.7h1v7.9h-1zM212.8 176.7h1v7.9h-1zM216.8 195h1v6.7h-1zM216.8 195h1v6.7h-1zM299.9 157.7h0.7v49.5h-0.7z" fill="#f0905e" fill-opacity="0.4"/>
<path d="M226.1 22.4h0.7v23.1h-0.7zM199.4 22.4h1v23.1h-1zM205.8 22.4h1v23.1h-1zM202.3 22.4h0.7v23.1h-0.7zM324.7 22.4h0.7v23.1h-0.7zM15.6 66.2h1v24.5h-1zM31.4 66.2h1v24.5h-1zM303.3 66.2h0.7v24.5h-0.7zM300 66.2h1v24.5h-1zM331.6 66.2h0.7v24.5h-0.7zM180.5 66.2h0.7v24.5h-0.7zM248.5 90.7h1v13.7h-1zM243.8 90.7h1v13.7h-1zM328.3 90.7h1v13.7h-1zM308.7 90.7h0.7v13.7h-0.7zM121.4 104.4h1v14.6h-1zM101.3 104.4h0.7v14.6h-0.7zM216.6 104.4h1v16.3h-1zM201.9 104.4h1v16.3h-1zM21.8 120.2h1v23.7h-1zM17 120.2h0.7v23.7h-0.7zM50.9 120.2h1v23.7h-1zM133 120.7h1v24.3h-1zM156.4 120.7h0.7v24.3h-0.7zM158.1 145h1v15h-1zM134.4 145h0.7v7h-0.7zM97.3 145h0.7v7h-0.7zM41.8 160h0.7v35h-0.7zM23.9 195h1v12.2h-1zM34.3 195h1v12.2h-1zM26.6 195h1v12.2h-1zM47.1 195h1v12.2h-1zM117.9 179.3h0.7v18.4h-0.7zM184.7 178h1v12h-1zM212.3 176.7h0.7v7.9h-0.7zM215 195h1v6.7h-1zM220.1 195h1v6.7h-1zM286.7 157.7h0.7v49.5h-0.7z" fill="#f0905e" fill-opacity="0.25"/>
<path d="M194.5 40.9h42.5v1h-42.5zM194.5 24.1h42.5v0.7h-42.5zM194.5 42.7h42.5v0.7h-42.5zM262 36h38v0.7h-38zM262 32.2h38v0.7h-38zM300 24.8h54v1h-54zM300 43h54v0.7h-54zM300 23.2h54v0.7h-54zM13 87.4h43.5v1h-43.5zM13 72.8h43.5v0.7h-43.5zM13 85.5h43.5v1h-43.5zM13 84.3h43.5v1h-43.5zM13 73.4h43.5v0.7h-43.5zM207.7 66.8h18.3v0.7h-18.3zM207.7 67.4h18.3v1h-18.3zM249 70.7h19v0.7h-19zM249 87h19v0.7h-19zM249 66.8h19v0.7h-19zM249 71.5h19v1h-19zM249 84.1h19v0.7h-19zM268 81.6h43v1h-43zM268 80h43v1h-43zM268 74.1h43v1h-43zM268 87.5h43v0.7h-43zM268 81.2h43v0.7h-43zM268 83.9h43v1h-43zM311 69.9h27v1h-27zM311 78.4h27v0.7h-27zM311 79.8h27v0.7h-27zM311 71h27v0.7h-27zM311 68.2h27v1h-27zM311 87.3h27v1h-27zM338 86.7h16v1h-16zM338 84.5h16v0.7h-16zM338 88.8h16v1h-16zM139.5 78.5h67.5v1h-67.5zM139.5 79.7h67.5v1h-67.5zM139.5 81.4h67.5v0.7h-67.5zM139.5 75.8h67.5v1h-67.5zM237.9 93.6h11.7v1h-11.7zM237.9 102.4h11.7v0.7h-11.7zM237.9 92.3h11.7v1h-11.7zM237.9 94.5h11.7v1h-11.7zM273 93.3h7v0.7h-7zM273 90.9h7v0.7h-7zM273 93.2h7v0.7h-7zM303 91.4h51v1h-51zM94.6 114.4h44.9v1h-44.9zM303.5 112.9h15.5v0.7h-15.5zM303.5 113.9h15.5v1h-15.5zM195 107.2h108v1h-108zM195 116.9h108v1h-108zM13 137.1h43.5v1h-43.5zM13 137.1h43.5v1h-43.5zM13 122.7h43.5v0.7h-43.5zM13 143h43.5v0.7h-43.5zM94.6 123.8h44.9v0.7h-44.9zM94.6 128.8h44.9v1h-44.9zM94.6 123.6h44.9v1h-44.9zM94.6 136.6h44.9v1h-44.9zM94.6 142.6h44.9v1h-44.9zM139.5 136h26.7v0.7h-26.7zM139.5 139.3h26.7v0.7h-26.7zM139.5 123h26.7v0.7h-26.7zM336 128.1h8v1h-8zM249 138.9h13v0.7h-13zM249 132.6h13v0.7h-13zM249 143h13v1h-13zM249 146.3h13v0.7h-13zM249 148h13v1h-13zM139.5 151.9h26.7v0.7h-26.7zM139.5 152.1h26.7v0.7h-26.7zM139.5 159.1h26.7v1h-26.7zM94.6 145.2h44.9v0.7h-44.9zM13 173h43.5v1h-43.5zM13 176.3h43.5v0.7h-43.5zM13 177.1h43.5v1h-43.5zM13 174.5h43.5v0.7h-43.5zM13 164.7h43.5v0.7h-43.5zM13 187.5h43.5v1h-43.5zM13 166.6h43.5v0.7h-43.5zM13 198.6h43.5v1h-43.5zM13 206.2h43.5v0.7h-43.5zM94.6 182.7h44.9v1h-44.9zM94.6 187.5h44.9v1h-44.9zM94.6 196.8h44.9v1h-44.9zM166.2 183.6h28.8v0.7h-28.8zM166.2 187.4h28.8v1h-28.8zM206 181.1h18.7v0.7h-18.7zM262 176.7h92v0.7h-92zM262 182.1h92v1h-92zM262 179.5h92v1h-92zM262 161.5h92v0.7h-92zM262 166.9h92v1h-92zM262 198.8h92v1h-92zM262 165.6h92v0.7h-92zM262 169.5h92v1h-92zM262 161.9h92v0.7h-92zM262 198.9h92v0.7h-92zM262 168.9h92v0.7h-92zM262 179.6h92v1h-92zM262 161.3h92v0.7h-92z" fill="#fff" fill-opacity="0.3"/>
<path d="M194.5 22.7h42.5v1h-42.5zM194.5 36.3h42.5v0.7h-42.5zM194.5 41h42.5v0.7h-42.5zM194.5 26.5h42.5v0.7h-42.5zM262 36.7h38v1h-38zM262 38.6h38v1h-38zM262 29.3h38v0.7h-38zM262 22.9h38v0.7h-38zM262 39.8h38v1h-38zM300 42.5h54v1h-54zM300 22.7h54v1h-54zM300 38.5h54v0.7h-54zM300 24.7h54v0.7h-54zM13 78.2h43.5v1h-43.5zM13 87.4h43.5v1h-43.5zM13 83.3h43.5v0.7h-43.5zM207.7 88.6h18.3v1h-18.3zM207.7 78.7h18.3v1h-18.3zM207.7 78.8h18.3v1h-18.3zM207.7 79.5h18.3v1h-18.3zM207.7 81.2h18.3v1h-18.3zM207.7 67.5h18.3v1h-18.3zM249 66.4h19v1h-19zM249 81.2h19v1h-19zM249 77.5h19v0.7h-19zM268 83.1h43v1h-43zM268 84.3h43v1h-43zM311 83.1h27v0.7h-27zM311 72.3h27v0.7h-27zM338 73.2h16v0.7h-16zM338 73.1h16v1h-16zM338 72.3h16v0.7h-16zM338 83.5h16v1h-16zM338 88.6h16v1h-16zM139.5 77.3h67.5v1h-67.5zM139.5 84h67.5v1h-67.5zM139.5 86.1h67.5v1h-67.5zM139.5 69h67.5v0.7h-67.5zM273 94.8h7v1h-7zM303 99.7h51v1h-51zM303 91.8h51v0.7h-51zM303 94h51v0.7h-51zM94.6 111.5h44.9v1h-44.9zM94.6 116.5h44.9v1h-44.9zM94.6 110h44.9v1h-44.9zM303.5 107h15.5v0.7h-15.5zM303.5 110.5h15.5v1h-15.5zM195 119.9h108v0.7h-108zM195 111.9h108v1h-108zM195 107.7h108v1h-108zM13 140.1h43.5v0.7h-43.5zM13 139.2h43.5v0.7h-43.5zM13 140.1h43.5v1h-43.5zM94.6 132.3h44.9v0.7h-44.9zM94.6 138.2h44.9v0.7h-44.9zM94.6 135.7h44.9v1h-44.9zM139.5 122.3h26.7v1h-26.7zM139.5 132.4h26.7v0.7h-26.7zM139.5 124.6h26.7v1h-26.7zM139.5 138.9h26.7v0.7h-26.7zM139.5 131.7h26.7v0.7h-26.7zM166.2 144.6h23.8v1h-23.8zM166.2 139.7h23.8v0.7h-23.8zM166.2 146.7h23.8v1h-23.8zM166.2 144.9h23.8v1h-23.8zM336 132.1h8v1h-8zM336 130.3h8v0.7h-8zM336 130.1h8v0.7h-8zM249 138.5h13v0.7h-13zM249 137.2h13v0.7h-13zM249 131.5h13v1h-13zM249 143.5h13v1h-13zM139.5 158.9h26.7v1h-26.7zM139.5 155.7h26.7v0.7h-26.7zM94.6 150.6h44.9v1h-44.9zM13 162.3h43.5v0.7h-43.5zM13 192.8h43.5v1h-43.5zM13 190.2h43.5v1h-43.5zM13 172.7h43.5v0.7h-43.5zM13 204.8h43.5v0.7h-43.5zM13 202.4h43.5v1h-43.5zM94.6 180.4h44.9v0.7h-44.9zM94.6 189h44.9v0.7h-44.9zM94.6 186.4h44.9v0.7h-44.9zM166.2 184.6h28.8v1h-28.8zM166.2 184.5h28.8v1h-28.8zM206 181.4h18.7v0.7h-18.7zM206 200.1h18.7v0.7h-18.7zM206 197.1h18.7v0.7h-18.7zM262 194.8h92v0.7h-92zM262 197.9h92v0.7h-92zM262 165.9h92v1h-92z" fill="#fff" fill-opacity="0.5"/>
<path d="M219 41h1M207 33h1M222 41h1M201 43h1M235 35h1M211 35h1M236 24h1M211 28h1M229 31h1M219 40h1M195 23h1M224 38h1M215 37h1M218 26h1M203 37h1M232 28h1M205 40h1M195 37h1M280 25h1M264 35h1M290 27h1M292 27h1M272 27h1M266 41h1M283 27h1M264 42h1M292 38h1M266 36h1M291 42h1M320 24h1M338 31h1M321 44h1M315 36h1M311 30h1M305 39h1M341 31h1M353 32h1M316 35h1M319 41h1M306 25h1M351 32h1M313 43h1M326 25h1M350 42h1M333 36h1M323 42h1M321 43h1M311 40h1M311 36h1M349 33h1M352 27h1M329 28h1M304 34h1M326 33h1M338 29h1M353 43h1M323 28h1M330 27h1M329 34h1M333 35h1M305 33h1M323 26h1M337 44h1M311 26h1M24 69h1M25 79h1M43 70h1M23 77h1M27 70h1M50 88h1M31 76h1M51 80h1M39 74h1M16 76h1M42 88h1M34 85h1M31 76h1M20 74h1M43 86h1M14 78h1M41 84h1M35 79h1M225 86h1M213 85h1M217 80h1M218 74h1M222 82h1M218 72h1M220 81h1M222 71h1M215 73h1M212 69h1M209 88h1M252 74h1M251 75h1M260 83h1M253 75h1M254 74h1M250 68h1M259 89h1M253 81h1M254 67h1M256 80h1M290 69h1M307 78h1M270 86h1M297 87h1M304 76h1M306 83h1M304 83h1M301 76h1M322 71h1M334 70h1M337 85h1M330 81h1M320 81h1M335 82h1M331 83h1M325 88h1M321 72h1M324 83h1M314 69h1M311 71h1M316 82h1M318 89h1M318 77h1M320 71h1M328 82h1M337 78h1M313 72h1M322 69h1M342 81h1M346 81h1M345 85h1M352 71h1M341 82h1M349 80h1M341 68h1M343 69h1M140 74h1M200 69h1M141 71h1M160 88h1M174 76h1M148 78h1M155 83h1M248 97h1M240 92h1M247 92h1M242 100h1M241 96h1M247 92h1M246 96h1M276 91h1M279 97h1M278 91h1M274 100h1M278 99h1M319 102h1M340 100h1M318 92h1M315 103h1M340 100h1M344 97h1M349 94h1M130 109h1M130 117h1M138 109h1M95 108h1M115 114h1M318 107h1M316 116h1M306 114h1M314 112h1M312 108h1M251 108h1M251 108h1M225 114h1M261 119h1M214 116h1M206 110h1M196 113h1M299 119h1M258 106h1M245 110h1M15 142h1M23 136h1M34 137h1M50 129h1M34 128h1M15 124h1M15 138h1M25 129h1M42 142h1M14 124h1M18 137h1M24 140h1M36 134h1M44 133h1M49 141h1M38 128h1M14 125h1M25 130h1M18 138h1M17 142h1M48 139h1M30 121h1M127 124h1M131 139h1M128 130h1M124 122h1M146 134h1M163 124h1M149 133h1M145 126h1M185 144h1M167 142h1M171 147h1M168 145h1M177 147h1M342 132h1M338 134h1M338 138h1M343 129h1M260 147h1M255 127h1M259 134h1M260 123h1M149 154h1M165 157h1M162 145h1M158 151h1M160 159h1M156 158h1M162 148h1M125 151h1M127 149h1M115 146h1M23 189h1M33 162h1M24 179h1M15 171h1M49 165h1M53 181h1M23 188h1M30 183h1M54 177h1M26 161h1M32 168h1M48 169h1M51 187h1M24 196h1M28 196h1M41 196h1M18 202h1M53 203h1M45 196h1M53 202h1M50 196h1M19 202h1M38 197h1M18 201h1M119 194h1M95 196h1M120 196h1M120 189h1M129 188h1M111 181h1M136 184h1M110 195h1M95 194h1M124 186h1M103 191h1M121 193h1M113 180h1M133 196h1M118 195h1M127 189h1M118 195h1M115 186h1M134 192h1M168 181h1M186 185h1M190 181h1M169 178h1M191 185h1M179 188h1M194 186h1M175 183h1M184 188h1M167 189h1M220 177h1M215 182h1M208 181h1M216 196h1M208 195h1M291 186h1M272 193h1M263 202h1M296 172h1M351 203h1M341 183h1M271 191h1M309 160h1M265 170h1M322 171h1M305 159h1M306 194h1M295 201h1M281 201h1M279 160h1M262 178h1M271 159h1M265 179h1M316 178h1M303 180h1M293 164h1M353 178h1M329 161h1M263 197h1M266 171h1M349 177h1M313 198h1M316 188h1M269 174h1M326 182h1M323 200h1M334 166h1M264 163h1M277 204h1M325 170h1M314 161h1M303 204h1M280 181h1M293 163h1M330 171h1M318 161h1M350 179h1M307 204h1M302 168h1M311 192h1M271 197h1M329 164h1M309 168h1" stroke="#ee9068" stroke-width="1" stroke-opacity="0.45" transform="translate(0 0.5)"/>
<path d="M227 26h1M197 31h1M202 36h1M218 41h1M231 41h1M212 41h1M219 29h1M216 23h1M216 43h1M196 25h1M221 31h1M234 27h1M207 27h1M233 28h1M197 36h1M207 41h1M217 43h1M211 44h1M236 23h1M217 26h1M210 24h1M229 33h1M222 37h1M227 28h1M212 24h1M270 34h1M285 44h1M267 44h1M289 26h1M276 27h1M262 23h1M271 29h1M265 32h1M264 43h1M326 24h1M315 27h1M332 40h1M333 33h1M306 30h1M338 30h1M333 42h1M350 36h1M317 44h1M309 43h1M340 25h1M316 38h1M351 33h1M300 30h1M336 26h1M306 39h1M310 32h1M302 38h1M307 28h1M333 36h1M347 42h1M352 37h1M303 28h1M336 31h1M349 42h1M324 25h1M348 44h1M341 29h1M334 40h1M331 23h1M313 43h1M320 41h1M309 27h1M322 24h1M305 36h1M314 34h1M324 33h1M32 68h1M34 83h1M31 78h1M23 67h1M54 82h1M212 88h1M224 83h1M209 86h1M220 89h1M222 68h1M224 69h1M211 72h1M223 83h1M219 88h1M252 81h1M259 87h1M252 68h1M262 87h1M264 68h1M263 88h1M251 79h1M261 81h1M267 71h1M269 88h1M306 72h1M287 86h1M303 68h1M297 86h1M306 87h1M288 86h1M293 77h1M293 70h1M319 89h1M322 69h1M330 71h1M335 86h1M325 71h1M332 67h1M324 77h1M328 73h1M333 75h1M336 69h1M315 74h1M334 83h1M311 71h1M324 77h1M335 85h1M337 75h1M326 68h1M330 77h1M323 76h1M324 80h1M324 70h1M330 83h1M337 73h1M326 70h1M318 70h1M350 84h1M353 74h1M352 79h1M197 84h1M172 87h1M157 85h1M202 72h1M148 88h1M204 86h1M192 71h1M198 69h1M248 100h1M246 91h1M275 95h1M316 99h1M304 95h1M305 95h1M310 103h1M312 103h1M314 100h1M318 100h1M339 95h1M96 108h1M133 118h1M97 115h1M133 108h1M100 116h1M100 107h1M106 114h1M138 114h1M125 112h1M104 109h1M124 113h1M128 108h1M108 109h1M130 107h1M105 111h1M134 108h1M138 113h1M315 105h1M307 109h1M264 112h1M195 117h1M271 111h1M229 110h1M260 118h1M200 119h1M225 112h1M255 115h1M264 116h1M274 109h1M250 113h1M28 139h1M28 136h1M20 134h1M16 123h1M28 122h1M53 126h1M41 131h1M52 128h1M40 137h1M29 130h1M41 129h1M33 134h1M36 138h1M19 136h1M32 132h1M13 136h1M23 122h1M42 123h1M27 135h1M14 139h1M24 137h1M24 128h1M51 136h1M49 139h1M43 134h1M28 139h1M22 138h1M41 123h1M46 134h1M21 123h1M22 123h1M46 140h1M104 135h1M132 142h1M132 134h1M130 123h1M118 142h1M135 125h1M130 129h1M154 144h1M152 125h1M151 142h1M152 126h1M182 141h1M177 143h1M178 137h1M168 147h1M171 143h1M181 140h1M188 147h1M182 148h1M188 138h1M336 138h1M251 142h1M260 137h1M257 148h1M251 144h1M256 135h1M157 145h1M165 155h1M160 151h1M146 158h1M162 154h1M116 150h1M127 150h1M104 151h1M124 145h1M97 151h1M126 147h1M98 148h1M37 171h1M24 189h1M16 173h1M47 189h1M32 164h1M17 183h1M49 167h1M15 184h1M26 184h1M54 188h1M42 160h1M41 168h1M42 193h1M31 165h1M51 194h1M17 191h1M41 193h1M43 176h1M45 206h1M32 200h1M54 201h1M47 202h1M13 201h1M31 195h1M18 205h1M23 204h1M49 204h1M36 195h1M43 206h1M35 195h1M134 194h1M129 186h1M123 184h1M97 183h1M122 187h1M121 182h1M124 185h1M106 195h1M135 184h1M109 180h1M107 187h1M96 184h1M133 196h1M112 187h1M134 180h1M125 190h1M95 195h1M137 194h1M118 196h1M134 185h1M135 196h1M182 179h1M188 188h1M170 188h1M190 182h1M186 183h1M216 178h1M208 183h1M210 181h1M207 181h1M208 200h1M210 199h1M217 196h1M210 200h1M322 161h1M273 161h1M319 199h1M318 197h1M294 184h1M320 171h1M327 182h1M278 158h1M288 184h1M304 165h1M307 162h1M343 206h1M329 173h1M349 205h1M262 183h1M293 169h1M305 205h1M329 163h1M334 194h1M301 171h1M336 194h1M278 185h1M325 169h1M293 184h1M291 187h1M274 175h1M268 203h1M329 164h1M310 197h1M321 199h1M291 164h1M321 176h1M340 204h1M296 197h1M344 180h1M305 163h1M342 199h1M262 163h1" stroke="#e87860" stroke-width="1" stroke-opacity="0.45" transform="translate(0 0.5)"/>
<path d="M195 38h1M197 42h1M213 40h1M203 28h1M218 26h1M214 32h1M211 26h1M209 38h1M231 25h1M235 41h1M208 33h1M223 44h1M227 42h1M225 39h1M209 38h1M230 35h1M206 40h1M230 37h1M202 24h1M209 26h1M203 25h1M236 34h1M230 43h1M223 32h1M211 38h1M294 36h1M287 44h1M287 44h1M284 25h1M280 32h1M286 29h1M290 28h1M266 26h1M292 35h1M281 36h1M315 28h1M344 30h1M304 26h1M341 38h1M312 34h1M315 43h1M326 34h1M329 34h1M343 43h1M336 26h1M340 26h1M344 38h1M351 31h1M346 38h1M312 23h1M329 42h1M320 33h1M322 31h1M336 32h1M305 37h1M307 37h1M306 33h1M300 38h1M341 44h1M329 24h1M303 44h1M306 40h1M340 28h1M352 44h1M311 38h1M314 25h1M305 30h1M341 40h1M327 37h1M332 44h1M350 27h1M300 37h1M43 69h1M44 78h1M17 76h1M32 81h1M26 69h1M45 68h1M39 79h1M51 77h1M27 82h1M30 84h1M38 85h1M37 69h1M52 68h1M19 79h1M224 79h1M222 84h1M212 79h1M212 82h1M210 80h1M225 88h1M220 80h1M212 86h1M208 83h1M223 86h1M217 87h1M267 82h1M265 86h1M267 88h1M250 83h1M260 68h1M266 89h1M256 74h1M308 69h1M310 68h1M272 81h1M268 86h1M271 67h1M299 85h1M268 84h1M290 68h1M272 89h1M290 68h1M307 88h1M282 77h1M333 76h1M326 83h1M322 76h1M334 79h1M321 83h1M312 81h1M337 69h1M314 73h1M313 86h1M314 83h1M326 67h1M333 75h1M333 76h1M313 79h1M317 73h1M316 68h1M318 69h1M328 77h1M337 73h1M311 78h1M332 68h1M312 73h1M318 86h1M328 76h1M346 67h1M345 84h1M200 80h1M157 67h1M197 71h1M202 83h1M167 77h1M165 68h1M198 82h1M157 76h1M195 76h1M150 80h1M166 69h1M198 83h1M147 70h1M246 101h1M239 102h1M240 91h1M246 94h1M241 94h1M277 96h1M278 100h1M313 99h1M320 94h1M303 101h1M309 97h1M102 111h1M102 114h1M114 106h1M96 114h1M128 112h1M106 117h1M101 114h1M134 109h1M118 117h1M126 116h1M104 113h1M128 110h1M100 106h1M126 114h1M314 113h1M305 115h1M311 116h1M315 107h1M312 114h1M308 107h1M305 115h1M215 118h1M242 112h1M295 106h1M219 114h1M231 112h1M239 114h1M254 114h1M241 109h1M286 111h1M282 109h1M251 111h1M249 114h1M198 117h1M197 107h1M196 115h1M44 140h1M36 136h1M43 128h1M30 128h1M19 128h1M42 127h1M18 141h1M47 127h1M20 133h1M17 137h1M38 128h1M13 136h1M45 125h1M50 129h1M14 128h1M51 137h1M47 134h1M51 129h1M40 140h1M18 132h1M27 121h1M39 141h1M47 132h1M28 141h1M51 132h1M28 126h1M13 125h1M42 131h1M49 141h1M41 142h1M46 141h1M33 127h1M39 128h1M30 121h1M54 136h1M35 141h1M109 136h1M113 142h1M98 139h1M119 144h1M97 131h1M109 127h1M132 136h1M130 139h1M104 144h1M107 124h1M96 141h1M149 142h1M163 143h1M152 128h1M149 132h1M161 123h1M165 132h1M162 126h1M173 138h1M181 143h1M169 149h1M167 144h1M174 147h1M183 141h1M178 142h1M337 133h1M251 130h1M261 137h1M254 130h1M253 134h1M258 125h1M250 126h1M155 150h1M147 157h1M156 157h1M150 151h1M140 150h1M165 159h1M157 145h1M154 155h1M155 151h1M119 148h1M96 150h1M105 147h1M46 162h1M19 171h1M44 171h1M55 187h1M22 167h1M18 163h1M20 174h1M18 184h1M13 171h1M15 170h1M27 188h1M23 164h1M18 176h1M39 188h1M41 191h1M14 179h1M16 168h1M14 179h1M26 160h1M41 187h1M43 177h1M36 173h1M53 203h1M13 199h1M53 197h1M36 200h1M33 199h1M37 203h1M43 195h1M19 205h1M18 199h1M40 201h1M52 195h1M20 196h1M27 198h1M21 203h1M99 190h1M132 189h1M98 195h1M108 189h1M110 195h1M132 194h1M104 194h1M119 193h1M106 189h1M124 191h1M102 191h1M125 195h1M110 186h1M138 195h1M102 192h1M100 194h1M122 188h1M193 187h1M171 187h1M183 182h1M171 180h1M190 182h1M170 180h1M175 188h1M171 178h1M193 181h1M222 177h1M208 177h1M216 199h1M344 158h1M335 166h1M319 191h1M304 206h1M326 171h1M315 188h1M294 163h1M275 176h1M267 171h1M269 169h1M318 178h1M331 165h1M297 169h1M346 200h1M331 189h1M273 191h1M303 204h1M274 184h1M336 197h1M318 174h1M331 169h1M337 170h1M325 186h1M350 178h1M308 172h1M295 203h1M335 186h1M352 182h1M302 198h1M344 189h1M273 204h1M269 189h1M307 162h1M336 161h1M304 163h1M353 176h1M348 204h1M288 193h1M272 183h1M270 172h1M342 174h1" stroke="#f4a880" stroke-width="1" stroke-opacity="0.45" transform="translate(0 0.5)"/>
<line x1="56.5" y1="134.7" x2="94.6" y2="134.7" stroke="#ec8a6a" stroke-width="0.7" stroke-opacity="0.8"/>
<line x1="56.5" y1="160.4" x2="94.6" y2="160.4" stroke="#ec8a6a" stroke-width="0.7" stroke-opacity="0.8"/>
<line x1="221.5" y1="45.5" x2="221.5" y2="66.2" stroke="#ec8a6a" stroke-width="0.7" stroke-opacity="0.8"/>
<line x1="267.5" y1="45.5" x2="267.5" y2="66.2" stroke="#ec8a6a" stroke-width="0.7" stroke-opacity="0.8"/>
<line x1="13" y1="158.8" x2="56.5" y2="158.8" stroke="#ec8a6a" stroke-width="0.7" stroke-opacity="0.8"/>
<defs>
<linearGradient id="bMP2" x1="0" y1="0" x2="1" y2="1"><stop offset="0" stop-color="#34206c"/><stop offset="0.28" stop-color="#7e3580"/><stop offset="0.5" stop-color="#c85a70"/><stop offset="0.78" stop-color="#ec9270"/><stop offset="1" stop-color="#f4b48a"/></linearGradient>
<linearGradient id="bMP3" x1="0" y1="0" x2="1" y2="0"><stop offset="0" stop-color="#3a1f6c"/><stop offset="0.75" stop-color="#3e2070"/><stop offset="1" stop-color="#8a3a82"/></linearGradient>
<linearGradient id="bMP4" x1="0" y1="0" x2="1" y2="1"><stop offset="0" stop-color="#7a3080"/><stop offset="0.3" stop-color="#c45a72"/><stop offset="0.7" stop-color="#e08068"/><stop offset="1" stop-color="#f0a07a"/></linearGradient>
<linearGradient id="bMP5" x1="0" y1="0" x2="1" y2="0"><stop offset="0" stop-color="#3c2070"/><stop offset="0.5" stop-color="#7a3080"/><stop offset="1" stop-color="#c0607a"/></linearGradient>
<linearGradient id="bMP6" x1="0" y1="0" x2="1" y2="1"><stop offset="0" stop-color="#4a2474"/><stop offset="0.3" stop-color="#b05878"/><stop offset="0.7" stop-color="#d87870"/><stop offset="1" stop-color="#8a3a80"/></linearGradient>
</defs>
<rect x="13.00" y="22.40" width="43.50" height="23.10" fill="url(#bMP2)"/>
<rect x="56.50" y="45.50" width="38.10" height="20.70" fill="url(#bMP3)"/>
<rect x="94.60" y="66.20" width="44.90" height="24.50" fill="url(#bMP4)"/>
<rect x="139.50" y="90.70" width="26.70" height="13.70" fill="url(#bMP5)"/>
<rect x="166.20" y="104.40" width="28.90" height="16.30" fill="url(#bMP6)"/>
<rect x="195.10" y="120.70" width="12.60" height="7.30" fill="#6a2c7a"/>
<rect x="207.70" y="128.00" width="17.60" height="9.30" fill="#c86e70"/>
<rect x="225.30" y="137.30" width="12.60" height="7.10" fill="#8a3a7a"/>
<rect x="237.90" y="144.40" width="11.10" height="6.00" fill="#c0606e"/>
<rect x="249.00" y="150.40" width="5.00" height="2.80" fill="#5a2876"/>
<rect x="254.00" y="153.20" width="4.00" height="2.30" fill="#6a2c7a"/>
<rect x="258.00" y="155.50" width="4.00" height="2.20" fill="#4a2270"/>
<defs><pattern id="mP" width="29" height="23" patternUnits="userSpaceOnUse"><path d="M10 16h1v1h-1zM19 0h1v1h-1zM8 4h1v1h-1zM26 6h1v1h-1zM8 2h1v1h-1zM6 16h1v1h-1zM1 19h1v1h-1zM6 16h1v1h-1zM0 22h1v1h-1zM16 11h1v1h-1zM26 14h1v1h-1zM24 4h1v1h-1zM11 20h1v1h-1zM5 1h1v1h-1zM11 19h1v1h-1zM0 12h1v1h-1zM20 18h1v1h-1zM6 4h1v1h-1zM10 13h1v1h-1zM14 3h1v1h-1zM21 0h1v1h-1zM7 19h1v1h-1zM4 4h1v1h-1zM7 16h1v1h-1zM11 9h1v1h-1zM18 0h1v1h-1zM8 11h1v1h-1zM6 12h1v1h-1zM0 2h1v1h-1zM3 7h1v1h-1zM3 9h1v1h-1zM4 13h1v1h-1zM15 15h1v1h-1zM24 18h1v1h-1zM19 11h1v1h-1zM9 3h1v1h-1zM6 9h1v1h-1zM19 6h1v1h-1zM5 18h1v1h-1zM14 15h1v1h-1zM17 10h1v1h-1zM8 3h1v1h-1zM21 19h1v1h-1zM24 19h1v1h-1zM8 22h1v1h-1zM23 0h1v1h-1zM1 6h1v1h-1zM7 15h1v1h-1zM10 22h1v1h-1zM26 16h1v1h-1zM26 16h1v1h-1zM27 9h1v1h-1zM7 8h1v1h-1zM27 4h1v1h-1zM1 15h1v1h-1zM17 14h1v1h-1zM7 4h1v1h-1zM19 2h1v1h-1zM6 20h1v1h-1zM14 8h1v1h-1zM26 14h1v1h-1zM13 8h1v1h-1zM9 12h1v1h-1zM17 10h1v1h-1zM19 15h1v1h-1zM17 15h1v1h-1zM0 13h1v1h-1zM6 14h1v1h-1zM9 20h1v1h-1zM18 16h1v1h-1zM21 9h1v1h-1zM21 0h1v1h-1zM1 13h1v1h-1zM13 2h1v1h-1zM10 7h1v1h-1zM10 19h1v1h-1zM26 22h1v1h-1zM4 14h1v1h-1zM21 18h1v1h-1zM17 11h1v1h-1zM18 15h1v1h-1zM1 9h1v1h-1zM12 3h1v1h-1zM18 17h1v1h-1zM23 20h1v1h-1zM9 9h1v1h-1zM27 17h1v1h-1zM16 9h1v1h-1zM23 20h1v1h-1zM0 8h1v1h-1zM12 10h1v1h-1zM13 21h1v1h-1zM27 8h1v1h-1zM11 18h1v1h-1zM3 18h1v1h-1zM14 19h1v1h-1zM15 2h1v1h-1zM23 8h1v1h-1zM15 5h1v1h-1zM15 21h1v1h-1zM18 13h1v1h-1zM12 5h1v1h-1zM14 21h1v1h-1zM15 14h1v1h-1zM4 19h1v1h-1zM26 4h1v1h-1zM1 18h1v1h-1zM2 17h1v1h-1zM23 14h1v1h-1zM7 4h1v1h-1zM20 5h1v1h-1zM6 14h1v1h-1zM24 0h1v1h-1zM11 4h1v1h-1zM0 15h1v1h-1zM28 22h1v1h-1zM4 4h1v1h-1zM23 4h1v1h-1zM20 21h1v1h-1zM0 15h1v1h-1z" fill="#6a2c80"/></pattern></defs>
<defs><pattern id="mO" width="31" height="19" patternUnits="userSpaceOnUse"><path d="M2 5h1v1h-1zM11 17h1v1h-1zM19 11h1v1h-1zM9 4h1v1h-1zM22 10h1v1h-1zM7 12h1v1h-1zM4 0h1v1h-1zM22 7h1v1h-1zM14 0h1v1h-1zM14 2h1v1h-1zM24 9h1v1h-1zM2 16h1v1h-1zM10 0h1v1h-1zM27 13h1v1h-1zM28 8h1v1h-1zM8 11h1v1h-1zM11 7h1v1h-1zM11 15h1v1h-1zM20 7h1v1h-1zM11 18h1v1h-1zM15 5h1v1h-1zM9 13h1v1h-1zM28 18h1v1h-1zM10 4h1v1h-1zM14 6h1v1h-1zM1 1h1v1h-1zM10 13h1v1h-1zM1 12h1v1h-1zM2 4h1v1h-1zM9 1h1v1h-1zM30 14h1v1h-1zM15 1h1v1h-1zM27 17h1v1h-1zM15 17h1v1h-1zM27 12h1v1h-1zM7 3h1v1h-1zM25 15h1v1h-1zM17 2h1v1h-1zM8 14h1v1h-1zM10 15h1v1h-1zM1 2h1v1h-1zM9 9h1v1h-1zM22 11h1v1h-1zM7 6h1v1h-1zM25 16h1v1h-1zM8 4h1v1h-1zM24 3h1v1h-1zM13 0h1v1h-1zM1 15h1v1h-1zM6 18h1v1h-1zM0 10h1v1h-1zM6 6h1v1h-1zM3 10h1v1h-1zM26 14h1v1h-1zM7 11h1v1h-1zM18 6h1v1h-1zM24 0h1v1h-1zM16 15h1v1h-1zM28 4h1v1h-1zM12 3h1v1h-1zM19 10h1v1h-1zM22 9h1v1h-1zM15 18h1v1h-1zM5 8h1v1h-1zM0 15h1v1h-1zM5 16h1v1h-1zM16 13h1v1h-1zM12 0h1v1h-1zM11 2h1v1h-1zM6 16h1v1h-1zM18 13h1v1h-1zM11 14h1v1h-1zM1 17h1v1h-1zM23 6h1v1h-1zM19 10h1v1h-1zM23 0h1v1h-1zM22 11h1v1h-1zM21 18h1v1h-1zM24 2h1v1h-1zM4 3h1v1h-1zM13 1h1v1h-1zM3 1h1v1h-1zM10 17h1v1h-1zM20 10h1v1h-1zM27 11h1v1h-1zM23 0h1v1h-1zM18 1h1v1h-1zM16 6h1v1h-1zM21 3h1v1h-1zM6 8h1v1h-1zM27 12h1v1h-1zM2 2h1v1h-1zM26 9h1v1h-1zM7 4h1v1h-1zM0 3h1v1h-1zM4 10h1v1h-1zM30 0h1v1h-1zM23 17h1v1h-1zM10 2h1v1h-1zM17 4h1v1h-1zM14 2h1v1h-1zM20 7h1v1h-1zM20 14h1v1h-1zM3 13h1v1h-1zM26 3h1v1h-1zM17 13h1v1h-1zM17 18h1v1h-1zM25 16h1v1h-1zM25 9h1v1h-1zM19 13h1v1h-1zM9 11h1v1h-1zM27 4h1v1h-1zM30 5h1v1h-1zM13 3h1v1h-1zM3 18h1v1h-1zM8 16h1v1h-1zM15 8h1v1h-1z" fill="#f9c89a"/></pattern></defs>
<rect x="13" y="22.4" width="43.5" height="23.1" fill="url(#mP)" opacity="0.35"/>
<rect x="13" y="22.4" width="43.5" height="23.1" fill="url(#mO)" opacity="0.35"/>
<rect x="94.6" y="66.2" width="44.9" height="24.5" fill="url(#mP)" opacity="0.45"/>
<rect x="94.6" y="66.2" width="44.9" height="24.5" fill="url(#mO)" opacity="0.35"/>
<rect x="139.5" y="90.7" width="26.7" height="13.7" fill="url(#mP)" opacity="0.25"/>
<rect x="139.5" y="90.7" width="26.7" height="13.7" fill="url(#mO)" opacity="0.3"/>
<rect x="166.2" y="104.4" width="28.9" height="16.3" fill="url(#mP)" opacity="0.45"/>
<rect x="166.2" y="104.4" width="28.9" height="16.3" fill="url(#mO)" opacity="0.3"/>
<rect x="195.1" y="120.7" width="12.6" height="7.3" fill="url(#mP)" opacity="0.3"/>
<rect x="195.1" y="120.7" width="12.6" height="7.3" fill="url(#mO)" opacity="0.5"/>
<rect x="207.7" y="128" width="17.6" height="9.3" fill="url(#mP)" opacity="0.5"/>
<rect x="207.7" y="128" width="17.6" height="9.3" fill="url(#mO)" opacity="0.4"/>
<rect x="225.3" y="137.3" width="12.6" height="7.1" fill="url(#mP)" opacity="0.3"/>
<rect x="225.3" y="137.3" width="12.6" height="7.1" fill="url(#mO)" opacity="0.6"/>
<rect x="237.9" y="144.4" width="11.1" height="6.0" fill="url(#mP)" opacity="0.4"/>
<rect x="237.9" y="144.4" width="11.1" height="6.0" fill="url(#mO)" opacity="0.5"/>
<line x1="13" y1="22.4" x2="354.2" y2="207.2" stroke="#4a2070" stroke-width="0.5" stroke-opacity="0.6"/>
<line x1="262" y1="157.7" x2="354.2" y2="207.2" stroke="#4a2070" stroke-width="0.9"/>
<rect x="13.0" y="22.4" width="43.5" height="23.1" fill="none" stroke="#222" stroke-width="0.8" stroke-dasharray="2 1.4"/>
<rect x="56.5" y="45.5" width="38.1" height="20.7" fill="none" stroke="#222" stroke-width="0.8" stroke-dasharray="2 1.4"/>
<rect x="94.6" y="66.2" width="44.9" height="24.5" fill="none" stroke="#222" stroke-width="0.8" stroke-dasharray="2 1.4"/>
<rect x="139.5" y="90.7" width="26.7" height="13.7" fill="none" stroke="#222" stroke-width="0.8" stroke-dasharray="2 1.4"/>
<rect x="166.2" y="104.4" width="28.9" height="16.3" fill="none" stroke="#222" stroke-width="0.8" stroke-dasharray="2 1.4"/>
<rect x="195.1" y="120.7" width="12.6" height="7.3" fill="none" stroke="#222" stroke-width="0.8" stroke-dasharray="2 1.4"/>
<rect x="207.7" y="128.0" width="17.6" height="9.3" fill="none" stroke="#222" stroke-width="0.8" stroke-dasharray="2 1.4"/>
<rect x="225.3" y="137.3" width="12.6" height="7.1" fill="none" stroke="#222" stroke-width="0.8" stroke-dasharray="2 1.4"/>
<rect x="237.9" y="144.4" width="11.1" height="6.0" fill="none" stroke="#222" stroke-width="0.8" stroke-dasharray="2 1.4"/>
<rect x="249.0" y="150.4" width="5.0" height="2.8" fill="none" stroke="#222" stroke-width="0.5" stroke-dasharray="2 1.4"/>
<rect x="254.0" y="153.2" width="4.0" height="2.3" fill="none" stroke="#222" stroke-width="0.5" stroke-dasharray="2 1.4"/>
<rect x="258.0" y="155.5" width="4.0" height="2.2" fill="none" stroke="#222" stroke-width="0.5" stroke-dasharray="2 1.4"/>
<rect x="13" y="22.4" width="341.2" height="184.8" fill="none" stroke="#777" stroke-width="0.8"/>
<line x1="13.00" y1="22.40" x2="13.00" y2="207.70" stroke="#777" stroke-width="1.3"/>
<line x1="12.50" y1="207.20" x2="354.20" y2="207.20" stroke="#777" stroke-width="1.3"/>
<text x="184.0" y="217.8" font-size="10.5" text-anchor="middle" textLength="64.5" lengthAdjust="spacingAndGlyphs">NMF programs</text>
<text x="8.2" y="114.8" font-size="10.5" text-anchor="middle" textLength="65.0" lengthAdjust="spacingAndGlyphs" transform="rotate(-90 8.2 114.8)">NMF programs</text>
<text x="65.7" y="36.3" font-size="10" textLength="47.8" lengthAdjust="spacingAndGlyphs">MP2 (OPC)</text>
<line x1="56.80" y1="33.20" x2="64.30" y2="33.20" stroke="#888" stroke-width="0.8"/>
<text x="104.6" y="60.2" font-size="10" textLength="59.5" lengthAdjust="spacingAndGlyphs">MP3 (cycling)</text>
<line x1="94.90" y1="57.00" x2="103.20" y2="57.00" stroke="#888" stroke-width="0.8"/>
<text x="149.8" y="80.1" font-size="10" textLength="38.5" lengthAdjust="spacingAndGlyphs">MP4 (AC)</text>
<line x1="139.80" y1="77.00" x2="148.40" y2="77.00" stroke="#888" stroke-width="0.8"/>
<text x="173.5" y="99.8" font-size="10" textLength="60.5" lengthAdjust="spacingAndGlyphs">MP5 (hypoxia)</text>
<line x1="166.50" y1="96.60" x2="172.20" y2="96.60" stroke="#888" stroke-width="0.8"/>
<text x="103.1" y="116.8" font-size="10" textLength="46.0" lengthAdjust="spacingAndGlyphs">MP6 (MES)</text>
<line x1="149.30" y1="113.60" x2="166.00" y2="113.60" stroke="#888" stroke-width="0.8"/>
<text x="136.8" y="142.5" font-size="10" textLength="45.5" lengthAdjust="spacingAndGlyphs">MP7 (NPC)</text>
<polyline points="159.6,132.5 159.6,124.7 195,124.7" fill="none" stroke="#999" stroke-width="0.8"/>
<text x="168.8" y="157.6" font-size="10" textLength="45.0" lengthAdjust="spacingAndGlyphs">MP8 (GPC)</text>
<polyline points="188.5,148.3 188.5,132.2 207.7,132.2" fill="none" stroke="#999" stroke-width="0.8"/>
<text x="216.1" y="174.7" font-size="10" textLength="44.5" lengthAdjust="spacingAndGlyphs">MP9 (ExN)</text>
<line x1="230.70" y1="144.40" x2="230.70" y2="163.40" stroke="#888" stroke-width="0.8"/>
<text x="233.9" y="111.9" font-size="10" textLength="64.0" lengthAdjust="spacingAndGlyphs">MP10 (stress1)</text>
<line x1="242.50" y1="116.30" x2="242.50" y2="144.40" stroke="#888" stroke-width="0.8"/>
<text x="267.4" y="128.2" font-size="10" textLength="53.5" lengthAdjust="spacingAndGlyphs">MP13 (cilia)</text>
<polyline points="251.7,150.4 251.7,125.5 264,125.5" fill="none" stroke="#999" stroke-width="0.8"/>
<text x="273.5" y="138.4" font-size="10" textLength="22.5" lengthAdjust="spacingAndGlyphs">MP14</text>
<text x="273.5" y="147.4" font-size="10" textLength="59.5" lengthAdjust="spacingAndGlyphs">(neurogranin)</text>
<polyline points="257.4,153.2 257.4,139.9 270,139.9" fill="none" stroke="#999" stroke-width="0.8"/>
<text x="278.2" y="159.3" font-size="10" textLength="61.0" lengthAdjust="spacingAndGlyphs">MP15 (stress2)</text>
<line x1="262.00" y1="156.20" x2="276.00" y2="156.20" stroke="#888" stroke-width="0.8"/>
<text x="0.0" y="241.2" font-size="13" font-weight="bold" fill="#000">b</text>
<rect x="52.40" y="278.60" width="5.10" height="13.43" fill="#fad1c4"/>
<rect x="52.40" y="291.53" width="5.10" height="13.43" fill="#fce3dc"/>
<rect x="52.40" y="304.47" width="5.10" height="13.43" fill="#fce3dc"/>
<rect x="52.40" y="317.40" width="5.10" height="13.43" fill="#fce3dc"/>
<rect x="52.40" y="330.33" width="5.10" height="13.43" fill="#fef6f3"/>
<rect x="52.40" y="343.27" width="5.10" height="13.43" fill="#fef6f3"/>
<rect x="52.40" y="356.20" width="5.10" height="13.43" fill="#fdede8"/>
<rect x="52.40" y="369.13" width="5.10" height="13.43" fill="#ec6352"/>
<rect x="52.40" y="382.07" width="5.10" height="12.93" fill="#e8493c"/>
<rect x="57.50" y="278.60" width="58.90" height="13.43" fill="#fbdad0"/>
<rect x="57.50" y="291.53" width="58.90" height="13.43" fill="#fef6f3"/>
<rect x="57.50" y="304.47" width="58.90" height="13.43" fill="#f6f9fc"/>
<rect x="57.50" y="317.40" width="58.90" height="13.43" fill="#fad1c4"/>
<rect x="57.50" y="330.33" width="58.90" height="13.43" fill="#fef8f6"/>
<rect x="57.50" y="343.27" width="58.90" height="13.43" fill="#fffbfa"/>
<rect x="57.50" y="356.20" width="58.90" height="13.43" fill="#fad1c4"/>
<rect x="57.50" y="369.13" width="58.90" height="13.43" fill="#ea5647"/>
<rect x="57.50" y="382.07" width="58.90" height="12.93" fill="#fdede8"/>
<rect x="116.40" y="278.60" width="28.70" height="13.43" fill="#fbdad0"/>
<rect x="116.40" y="291.53" width="28.70" height="13.43" fill="#fef9f8"/>
<rect x="116.40" y="304.47" width="28.70" height="13.43" fill="#f6f9fc"/>
<rect x="116.40" y="317.40" width="28.70" height="13.43" fill="#fad1c4"/>
<rect x="116.40" y="330.33" width="28.70" height="13.43" fill="#fef9f8"/>
<rect x="116.40" y="343.27" width="28.70" height="13.43" fill="#fde9e3"/>
<rect x="116.40" y="356.20" width="28.70" height="13.43" fill="#f07d68"/>
<rect x="116.40" y="369.13" width="28.70" height="13.43" fill="#fad1c4"/>
<rect x="116.40" y="382.07" width="28.70" height="12.93" fill="#fef9f8"/>
<rect x="145.10" y="278.60" width="24.50" height="13.43" fill="#fce3dc"/>
<rect x="145.10" y="291.53" width="24.50" height="13.43" fill="#f8fafd"/>
<rect x="145.10" y="304.47" width="24.50" height="13.43" fill="#ffffff"/>
<rect x="145.10" y="317.40" width="24.50" height="13.43" fill="#fef0ec"/>
<rect x="145.10" y="330.33" width="24.50" height="13.43" fill="#fac8b9"/>
<rect x="145.10" y="343.27" width="24.50" height="13.43" fill="#ed6b59"/>
<rect x="145.10" y="356.20" width="24.50" height="13.43" fill="#fbd7cc"/>
<rect x="145.10" y="369.13" width="24.50" height="13.43" fill="#fde7e1"/>
<rect x="145.10" y="382.07" width="24.50" height="12.93" fill="#fef9f8"/>
<rect x="169.60" y="278.60" width="14.40" height="13.43" fill="#fbdad0"/>
<rect x="169.60" y="291.53" width="14.40" height="13.43" fill="#fef9f8"/>
<rect x="169.60" y="304.47" width="14.40" height="13.43" fill="#f6f9fc"/>
<rect x="169.60" y="317.40" width="14.40" height="13.43" fill="#fef6f3"/>
<rect x="169.60" y="330.33" width="14.40" height="13.43" fill="#f1846f"/>
<rect x="169.60" y="343.27" width="14.40" height="13.43" fill="#fac8b9"/>
<rect x="169.60" y="356.20" width="14.40" height="13.43" fill="#fef0ec"/>
<rect x="169.60" y="369.13" width="14.40" height="13.43" fill="#fef4f1"/>
<rect x="169.60" y="382.07" width="14.40" height="12.93" fill="#fef9f8"/>
<rect x="184.00" y="278.60" width="41.50" height="13.43" fill="#fce3dc"/>
<rect x="184.00" y="291.53" width="41.50" height="13.43" fill="#fce3dc"/>
<rect x="184.00" y="304.47" width="41.50" height="13.43" fill="#f9bfad"/>
<rect x="184.00" y="317.40" width="41.50" height="13.43" fill="#ec6352"/>
<rect x="184.00" y="330.33" width="41.50" height="13.43" fill="#fef9f8"/>
<rect x="184.00" y="343.27" width="41.50" height="13.43" fill="#f8fafd"/>
<rect x="184.00" y="356.20" width="41.50" height="13.43" fill="#fbdad0"/>
<rect x="184.00" y="369.13" width="41.50" height="13.43" fill="#fac8b9"/>
<rect x="184.00" y="382.07" width="41.50" height="12.93" fill="#fef9f8"/>
<rect x="225.50" y="278.60" width="54.90" height="13.43" fill="#fad1c4"/>
<rect x="225.50" y="291.53" width="54.90" height="13.43" fill="#fbdad0"/>
<rect x="225.50" y="304.47" width="54.90" height="13.43" fill="#e8493c"/>
<rect x="225.50" y="317.40" width="54.90" height="13.43" fill="#f9bfad"/>
<rect x="225.50" y="330.33" width="54.90" height="13.43" fill="#fef9f8"/>
<rect x="225.50" y="343.27" width="54.90" height="13.43" fill="#f5f8fc"/>
<rect x="225.50" y="356.20" width="54.90" height="13.43" fill="#fef4f1"/>
<rect x="225.50" y="369.13" width="54.90" height="13.43" fill="#fdede8"/>
<rect x="225.50" y="382.07" width="54.90" height="12.93" fill="#fffbfa"/>
<rect x="280.40" y="278.60" width="16.00" height="13.43" fill="#f8b5a1"/>
<rect x="280.40" y="291.53" width="16.00" height="13.43" fill="#e8493c"/>
<rect x="280.40" y="304.47" width="16.00" height="13.43" fill="#f8b5a1"/>
<rect x="280.40" y="317.40" width="16.00" height="13.43" fill="#f6f9fc"/>
<rect x="280.40" y="330.33" width="16.00" height="13.43" fill="#fef8f6"/>
<rect x="280.40" y="343.27" width="16.00" height="13.43" fill="#fef9f8"/>
<rect x="280.40" y="356.20" width="16.00" height="13.43" fill="#fef9f8"/>
<rect x="280.40" y="369.13" width="16.00" height="13.43" fill="#fef4f1"/>
<rect x="280.40" y="382.07" width="16.00" height="12.93" fill="#fffbfa"/>
<rect x="296.40" y="278.60" width="18.90" height="13.43" fill="#f1846f"/>
<rect x="296.40" y="291.53" width="18.90" height="13.43" fill="#fbdad0"/>
<rect x="296.40" y="304.47" width="18.90" height="13.43" fill="#fce3dc"/>
<rect x="296.40" y="317.40" width="18.90" height="13.43" fill="#fdede8"/>
<rect x="296.40" y="330.33" width="18.90" height="13.43" fill="#fce3dc"/>
<rect x="296.40" y="343.27" width="18.90" height="13.43" fill="#fef9f8"/>
<rect x="296.40" y="356.20" width="18.90" height="13.43" fill="#fef4f1"/>
<rect x="296.40" y="369.13" width="18.90" height="13.43" fill="#fef6f3"/>
<rect x="296.40" y="382.07" width="18.90" height="12.93" fill="#fffbfa"/>
<rect x="315.30" y="278.60" width="29.70" height="13.43" fill="#fbdad0"/>
<rect x="315.30" y="291.53" width="29.70" height="13.43" fill="#fce3dc"/>
<rect x="315.30" y="304.47" width="29.70" height="13.43" fill="#fad1c4"/>
<rect x="315.30" y="317.40" width="29.70" height="13.43" fill="#fac8b9"/>
<rect x="315.30" y="330.33" width="29.70" height="13.43" fill="#fef8f6"/>
<rect x="315.30" y="343.27" width="29.70" height="13.43" fill="#fef9f8"/>
<rect x="315.30" y="356.20" width="29.70" height="13.43" fill="#fce3dc"/>
<rect x="315.30" y="369.13" width="29.70" height="13.43" fill="#fac8b9"/>
<rect x="315.30" y="382.07" width="29.70" height="12.93" fill="#fef6f3"/>
<path d="M55.1 278.6h0.8v12.9h-0.8zM55.7 291.5h0.8v12.9h-0.8zM54.5 317.4h0.8v12.9h-0.8zM55.8 343.3h0.8v12.9h-0.8zM53 343.3h0.8v12.9h-0.8zM109.5 278.6h0.8v12.9h-0.8zM92.6 278.6h0.8v12.9h-0.8zM57.7 278.6h0.8v12.9h-0.8zM85.5 278.6h0.8v12.9h-0.8zM101.1 278.6h0.8v12.9h-0.8zM103.3 278.6h0.8v12.9h-0.8zM78.8 278.6h0.8v12.9h-0.8zM60.2 278.6h0.8v12.9h-0.8zM101.5 278.6h0.8v12.9h-0.8zM78.1 278.6h0.8v12.9h-0.8zM88 278.6h0.8v12.9h-0.8zM103.9 278.6h0.8v12.9h-0.8zM112.5 278.6h0.8v12.9h-0.8zM75.9 278.6h0.8v12.9h-0.8zM66.2 278.6h0.8v12.9h-0.8zM60.3 278.6h0.8v12.9h-0.8zM106.3 291.5h0.8v12.9h-0.8zM112.8 291.5h0.8v12.9h-0.8zM115.7 291.5h0.8v12.9h-0.8zM108 291.5h0.8v12.9h-0.8zM74.6 291.5h0.8v12.9h-0.8zM89.2 317.4h0.8v12.9h-0.8zM77.9 317.4h0.8v12.9h-0.8zM79.4 317.4h0.8v12.9h-0.8zM92.2 317.4h0.8v12.9h-0.8zM74.2 317.4h0.8v12.9h-0.8zM83.3 317.4h0.8v12.9h-0.8zM111.9 317.4h0.8v12.9h-0.8zM115 317.4h0.8v12.9h-0.8zM77.1 330.3h0.8v12.9h-0.8zM84 330.3h0.8v12.9h-0.8zM68.9 330.3h0.8v12.9h-0.8zM114.5 330.3h0.8v12.9h-0.8zM112.9 330.3h0.8v12.9h-0.8zM95.6 343.3h0.8v12.9h-0.8zM85.5 343.3h0.8v12.9h-0.8zM60.6 343.3h0.8v12.9h-0.8zM97.1 343.3h0.8v12.9h-0.8zM70.5 343.3h0.8v12.9h-0.8zM96.2 343.3h0.8v12.9h-0.8zM71.2 356.2h0.8v12.9h-0.8zM80.5 356.2h0.8v12.9h-0.8zM72.3 356.2h0.8v12.9h-0.8zM71.2 356.2h0.8v12.9h-0.8zM96.7 356.2h0.8v12.9h-0.8zM96.4 356.2h0.8v12.9h-0.8zM74.4 356.2h0.8v12.9h-0.8zM75.6 356.2h0.8v12.9h-0.8zM62.3 382.1h0.8v12.9h-0.8zM71.8 382.1h0.8v12.9h-0.8zM91.1 382.1h0.8v12.9h-0.8zM60.3 382.1h0.8v12.9h-0.8zM63.2 382.1h0.8v12.9h-0.8zM83.2 382.1h0.8v12.9h-0.8zM78.6 382.1h0.8v12.9h-0.8zM76.7 382.1h0.8v12.9h-0.8zM99.8 382.1h0.8v12.9h-0.8zM67.5 382.1h0.8v12.9h-0.8zM103.8 382.1h0.8v12.9h-0.8zM119.3 278.6h0.8v12.9h-0.8zM139.2 278.6h0.8v12.9h-0.8zM143.8 278.6h0.8v12.9h-0.8zM127.4 278.6h0.8v12.9h-0.8zM126.2 278.6h0.8v12.9h-0.8zM140.6 291.5h0.8v12.9h-0.8zM124.1 304.5h0.8v12.9h-0.8zM137.1 317.4h0.8v12.9h-0.8zM130.9 317.4h0.8v12.9h-0.8zM125 317.4h0.8v12.9h-0.8zM125.3 343.3h0.8v12.9h-0.8zM119 343.3h0.8v12.9h-0.8zM137 343.3h0.8v12.9h-0.8zM119.3 343.3h0.8v12.9h-0.8zM125.8 369.1h0.8v12.9h-0.8zM140.1 369.1h0.8v12.9h-0.8zM128.2 369.1h0.8v12.9h-0.8zM123.1 369.1h0.8v12.9h-0.8zM124 369.1h0.8v12.9h-0.8zM126.4 369.1h0.8v12.9h-0.8zM116.9 369.1h0.8v12.9h-0.8zM161 278.6h0.8v12.9h-0.8zM156 278.6h0.8v12.9h-0.8zM168 278.6h0.8v12.9h-0.8zM159.4 278.6h0.8v12.9h-0.8zM167 278.6h0.8v12.9h-0.8zM167.4 278.6h0.8v12.9h-0.8zM155.3 278.6h0.8v12.9h-0.8zM152.2 317.4h0.8v12.9h-0.8zM146.5 317.4h0.8v12.9h-0.8zM163.8 317.4h0.8v12.9h-0.8zM151.4 330.3h0.8v12.9h-0.8zM162.3 330.3h0.8v12.9h-0.8zM150.4 330.3h0.8v12.9h-0.8zM148.6 356.2h0.8v12.9h-0.8zM155.1 356.2h0.8v12.9h-0.8zM160.1 369.1h0.8v12.9h-0.8zM146.6 369.1h0.8v12.9h-0.8zM152.3 369.1h0.8v12.9h-0.8zM150.5 382.1h0.8v12.9h-0.8zM156.2 382.1h0.8v12.9h-0.8zM158 382.1h0.8v12.9h-0.8zM168.3 382.1h0.8v12.9h-0.8zM175.5 278.6h0.8v12.9h-0.8zM170.3 278.6h0.8v12.9h-0.8zM182.2 278.6h0.8v12.9h-0.8zM179.6 291.5h0.8v12.9h-0.8zM171.4 317.4h0.8v12.9h-0.8zM171.4 317.4h0.8v12.9h-0.8zM176.9 343.3h0.8v12.9h-0.8zM181 343.3h0.8v12.9h-0.8zM178.5 343.3h0.8v12.9h-0.8zM173.4 356.2h0.8v12.9h-0.8zM180 356.2h0.8v12.9h-0.8zM180.1 369.1h0.8v12.9h-0.8zM185.1 278.6h0.8v12.9h-0.8zM202.6 278.6h0.8v12.9h-0.8zM211.9 278.6h0.8v12.9h-0.8zM210.9 278.6h0.8v12.9h-0.8zM195.8 278.6h0.8v12.9h-0.8zM201.4 278.6h0.8v12.9h-0.8zM223.1 291.5h0.8v12.9h-0.8zM190.1 291.5h0.8v12.9h-0.8zM208.6 291.5h0.8v12.9h-0.8zM202.4 291.5h0.8v12.9h-0.8zM193.4 291.5h0.8v12.9h-0.8zM196 291.5h0.8v12.9h-0.8zM218.9 291.5h0.8v12.9h-0.8zM221.4 291.5h0.8v12.9h-0.8zM203.2 291.5h0.8v12.9h-0.8zM187.7 304.5h0.8v12.9h-0.8zM187.9 304.5h0.8v12.9h-0.8zM202.4 304.5h0.8v12.9h-0.8zM200.5 304.5h0.8v12.9h-0.8zM196.5 304.5h0.8v12.9h-0.8zM189.3 317.4h0.8v12.9h-0.8zM207.7 330.3h0.8v12.9h-0.8zM204.5 330.3h0.8v12.9h-0.8zM214.2 330.3h0.8v12.9h-0.8zM208.2 356.2h0.8v12.9h-0.8zM212.8 356.2h0.8v12.9h-0.8zM209.7 356.2h0.8v12.9h-0.8zM191.6 356.2h0.8v12.9h-0.8zM214.3 356.2h0.8v12.9h-0.8zM218.2 356.2h0.8v12.9h-0.8zM196.7 356.2h0.8v12.9h-0.8zM204.3 356.2h0.8v12.9h-0.8zM195 356.2h0.8v12.9h-0.8zM193.3 369.1h0.8v12.9h-0.8zM185.8 369.1h0.8v12.9h-0.8zM204.6 369.1h0.8v12.9h-0.8zM211.9 369.1h0.8v12.9h-0.8zM199 369.1h0.8v12.9h-0.8zM211.3 369.1h0.8v12.9h-0.8zM221.8 369.1h0.8v12.9h-0.8zM193.4 369.1h0.8v12.9h-0.8zM186.5 369.1h0.8v12.9h-0.8zM201.4 382.1h0.8v12.9h-0.8zM243.3 278.6h0.8v12.9h-0.8zM239.5 278.6h0.8v12.9h-0.8zM233.6 278.6h0.8v12.9h-0.8zM249.3 278.6h0.8v12.9h-0.8zM242.7 278.6h0.8v12.9h-0.8zM225.7 278.6h0.8v12.9h-0.8zM242.1 278.6h0.8v12.9h-0.8zM230 278.6h0.8v12.9h-0.8zM242.3 278.6h0.8v12.9h-0.8zM238.7 278.6h0.8v12.9h-0.8zM233.5 291.5h0.8v12.9h-0.8zM262.1 291.5h0.8v12.9h-0.8zM241.3 291.5h0.8v12.9h-0.8zM273.7 291.5h0.8v12.9h-0.8zM276.3 291.5h0.8v12.9h-0.8zM248.6 291.5h0.8v12.9h-0.8zM238.2 291.5h0.8v12.9h-0.8zM249.6 291.5h0.8v12.9h-0.8zM229.5 291.5h0.8v12.9h-0.8zM244.9 317.4h0.8v12.9h-0.8zM241.1 317.4h0.8v12.9h-0.8zM243 317.4h0.8v12.9h-0.8zM239.9 317.4h0.8v12.9h-0.8zM251 317.4h0.8v12.9h-0.8zM279 317.4h0.8v12.9h-0.8zM252.4 317.4h0.8v12.9h-0.8zM257.4 317.4h0.8v12.9h-0.8zM266 330.3h0.8v12.9h-0.8zM249.1 330.3h0.8v12.9h-0.8zM254.6 330.3h0.8v12.9h-0.8zM270.7 343.3h0.8v12.9h-0.8zM233.3 356.2h0.8v12.9h-0.8zM231.3 356.2h0.8v12.9h-0.8zM242.6 356.2h0.8v12.9h-0.8zM234.5 356.2h0.8v12.9h-0.8zM240 356.2h0.8v12.9h-0.8zM245.4 356.2h0.8v12.9h-0.8zM257.1 369.1h0.8v12.9h-0.8zM236 369.1h0.8v12.9h-0.8zM232.6 369.1h0.8v12.9h-0.8zM246.1 369.1h0.8v12.9h-0.8zM246.7 369.1h0.8v12.9h-0.8zM259.7 369.1h0.8v12.9h-0.8zM246.7 382.1h0.8v12.9h-0.8zM255.5 382.1h0.8v12.9h-0.8zM245.6 382.1h0.8v12.9h-0.8zM291.5 304.5h0.8v12.9h-0.8zM295.2 330.3h0.8v12.9h-0.8zM289.8 330.3h0.8v12.9h-0.8zM285.4 343.3h0.8v12.9h-0.8zM295.6 343.3h0.8v12.9h-0.8zM293.4 343.3h0.8v12.9h-0.8zM295.1 356.2h0.8v12.9h-0.8zM285.6 356.2h0.8v12.9h-0.8zM282 369.1h0.8v12.9h-0.8zM288.2 382.1h0.8v12.9h-0.8zM313.8 291.5h0.8v12.9h-0.8zM298.7 291.5h0.8v12.9h-0.8zM307.5 291.5h0.8v12.9h-0.8zM302.3 291.5h0.8v12.9h-0.8zM313.2 291.5h0.8v12.9h-0.8zM312.5 304.5h0.8v12.9h-0.8zM300.1 304.5h0.8v12.9h-0.8zM313.7 304.5h0.8v12.9h-0.8zM303.8 317.4h0.8v12.9h-0.8zM299.4 317.4h0.8v12.9h-0.8zM306.8 317.4h0.8v12.9h-0.8zM299.2 330.3h0.8v12.9h-0.8zM298.5 343.3h0.8v12.9h-0.8zM311.8 356.2h0.8v12.9h-0.8zM302.1 356.2h0.8v12.9h-0.8zM308.5 356.2h0.8v12.9h-0.8zM307.6 369.1h0.8v12.9h-0.8zM301.3 369.1h0.8v12.9h-0.8zM303 369.1h0.8v12.9h-0.8zM304.1 382.1h0.8v12.9h-0.8zM319.7 278.6h0.8v12.9h-0.8zM319.3 278.6h0.8v12.9h-0.8zM322.1 278.6h0.8v12.9h-0.8zM332.5 278.6h0.8v12.9h-0.8zM332.1 278.6h0.8v12.9h-0.8zM338.4 278.6h0.8v12.9h-0.8zM329.2 278.6h0.8v12.9h-0.8zM321 291.5h0.8v12.9h-0.8zM339.7 291.5h0.8v12.9h-0.8zM338.5 291.5h0.8v12.9h-0.8zM325.2 291.5h0.8v12.9h-0.8zM322.3 291.5h0.8v12.9h-0.8zM336.3 304.5h0.8v12.9h-0.8zM323 304.5h0.8v12.9h-0.8zM340.9 304.5h0.8v12.9h-0.8zM322.7 317.4h0.8v12.9h-0.8zM323.6 317.4h0.8v12.9h-0.8zM342.4 317.4h0.8v12.9h-0.8zM335.7 317.4h0.8v12.9h-0.8zM326.5 330.3h0.8v12.9h-0.8zM327.4 330.3h0.8v12.9h-0.8zM329.6 343.3h0.8v12.9h-0.8zM341.5 343.3h0.8v12.9h-0.8zM324 356.2h0.8v12.9h-0.8zM331 356.2h0.8v12.9h-0.8zM341.2 356.2h0.8v12.9h-0.8zM324.3 356.2h0.8v12.9h-0.8zM339.6 356.2h0.8v12.9h-0.8zM341.9 356.2h0.8v12.9h-0.8zM321.1 369.1h0.8v12.9h-0.8zM338.5 369.1h0.8v12.9h-0.8zM316.4 382.1h0.8v12.9h-0.8z" fill="#fbdad0" fill-opacity="0.6"/>
<path d="M56.5 278.6h0.8v12.9h-0.8zM56.6 304.5h0.8v12.9h-0.8zM71.3 291.5h0.8v12.9h-0.8zM86.2 291.5h0.8v12.9h-0.8zM82.8 291.5h0.8v12.9h-0.8zM83.9 291.5h0.8v12.9h-0.8zM85.9 291.5h0.8v12.9h-0.8zM113.4 291.5h0.8v12.9h-0.8zM77.2 291.5h0.8v12.9h-0.8zM62.7 291.5h0.8v12.9h-0.8zM91.3 291.5h0.8v12.9h-0.8zM58.2 291.5h0.8v12.9h-0.8zM96.6 291.5h0.8v12.9h-0.8zM84.4 304.5h0.8v12.9h-0.8zM93.8 304.5h0.8v12.9h-0.8zM59.1 304.5h0.8v12.9h-0.8zM95.3 304.5h0.8v12.9h-0.8zM84.9 304.5h0.8v12.9h-0.8zM65.3 304.5h0.8v12.9h-0.8zM76 304.5h0.8v12.9h-0.8zM59.6 304.5h0.8v12.9h-0.8zM91.8 304.5h0.8v12.9h-0.8zM71.3 304.5h0.8v12.9h-0.8zM105.9 304.5h0.8v12.9h-0.8zM63 304.5h0.8v12.9h-0.8zM105.1 317.4h0.8v12.9h-0.8zM114.1 317.4h0.8v12.9h-0.8zM101.8 330.3h0.8v12.9h-0.8zM78.5 330.3h0.8v12.9h-0.8zM100.9 330.3h0.8v12.9h-0.8zM72.2 330.3h0.8v12.9h-0.8zM98.7 330.3h0.8v12.9h-0.8zM110.6 330.3h0.8v12.9h-0.8zM106.2 330.3h0.8v12.9h-0.8zM97.9 330.3h0.8v12.9h-0.8zM86.5 330.3h0.8v12.9h-0.8zM103.6 330.3h0.8v12.9h-0.8zM99.6 330.3h0.8v12.9h-0.8zM60.3 330.3h0.8v12.9h-0.8zM66.9 343.3h0.8v12.9h-0.8zM79.6 343.3h0.8v12.9h-0.8zM79.3 343.3h0.8v12.9h-0.8zM60.7 343.3h0.8v12.9h-0.8zM94.2 343.3h0.8v12.9h-0.8zM93.6 343.3h0.8v12.9h-0.8zM101.2 343.3h0.8v12.9h-0.8zM62.5 343.3h0.8v12.9h-0.8zM64.8 343.3h0.8v12.9h-0.8zM92.1 343.3h0.8v12.9h-0.8zM76.3 343.3h0.8v12.9h-0.8zM99.7 343.3h0.8v12.9h-0.8zM104.3 356.2h0.8v12.9h-0.8zM109.3 356.2h0.8v12.9h-0.8zM79.3 356.2h0.8v12.9h-0.8zM82 382.1h0.8v12.9h-0.8zM109.7 382.1h0.8v12.9h-0.8zM113.1 382.1h0.8v12.9h-0.8zM104.8 382.1h0.8v12.9h-0.8zM61.2 382.1h0.8v12.9h-0.8zM65.1 382.1h0.8v12.9h-0.8zM128.6 278.6h0.8v12.9h-0.8zM140.2 291.5h0.8v12.9h-0.8zM120.4 291.5h0.8v12.9h-0.8zM139.7 291.5h0.8v12.9h-0.8zM121.1 291.5h0.8v12.9h-0.8zM119.2 291.5h0.8v12.9h-0.8zM138.7 291.5h0.8v12.9h-0.8zM130.7 291.5h0.8v12.9h-0.8zM127.3 291.5h0.8v12.9h-0.8zM127.1 291.5h0.8v12.9h-0.8zM131.4 304.5h0.8v12.9h-0.8zM135.2 304.5h0.8v12.9h-0.8zM141 330.3h0.8v12.9h-0.8zM141.7 330.3h0.8v12.9h-0.8zM143.5 330.3h0.8v12.9h-0.8zM132.2 330.3h0.8v12.9h-0.8zM121.7 330.3h0.8v12.9h-0.8zM142.3 343.3h0.8v12.9h-0.8zM122.8 343.3h0.8v12.9h-0.8zM128.8 382.1h0.8v12.9h-0.8zM124.2 382.1h0.8v12.9h-0.8zM143.1 382.1h0.8v12.9h-0.8zM127.4 382.1h0.8v12.9h-0.8zM117.1 382.1h0.8v12.9h-0.8zM144.4 382.1h0.8v12.9h-0.8zM138.3 382.1h0.8v12.9h-0.8zM146.9 278.6h0.8v12.9h-0.8zM151.4 291.5h0.8v12.9h-0.8zM168.1 291.5h0.8v12.9h-0.8zM162.5 291.5h0.8v12.9h-0.8zM161.9 291.5h0.8v12.9h-0.8zM145.3 291.5h0.8v12.9h-0.8zM159.6 304.5h0.8v12.9h-0.8zM157 304.5h0.8v12.9h-0.8zM167.1 304.5h0.8v12.9h-0.8zM167.4 304.5h0.8v12.9h-0.8zM149.1 304.5h0.8v12.9h-0.8zM153.5 317.4h0.8v12.9h-0.8zM156.9 317.4h0.8v12.9h-0.8zM155.9 317.4h0.8v12.9h-0.8zM154.3 317.4h0.8v12.9h-0.8zM166 330.3h0.8v12.9h-0.8zM166.5 356.2h0.8v12.9h-0.8zM154.2 369.1h0.8v12.9h-0.8zM151.3 369.1h0.8v12.9h-0.8zM166.4 382.1h0.8v12.9h-0.8zM155 382.1h0.8v12.9h-0.8zM167.6 382.1h0.8v12.9h-0.8zM155.5 382.1h0.8v12.9h-0.8zM174.8 278.6h0.8v12.9h-0.8zM174.1 278.6h0.8v12.9h-0.8zM179.8 291.5h0.8v12.9h-0.8zM171.9 291.5h0.8v12.9h-0.8zM181.3 304.5h0.8v12.9h-0.8zM179.5 304.5h0.8v12.9h-0.8zM171.3 304.5h0.8v12.9h-0.8zM170.2 343.3h0.8v12.9h-0.8zM179.8 356.2h0.8v12.9h-0.8zM179.7 356.2h0.8v12.9h-0.8zM173.2 356.2h0.8v12.9h-0.8zM178 382.1h0.8v12.9h-0.8zM170.5 382.1h0.8v12.9h-0.8zM170.8 382.1h0.8v12.9h-0.8zM175.5 382.1h0.8v12.9h-0.8zM190.8 278.6h0.8v12.9h-0.8zM192.9 278.6h0.8v12.9h-0.8zM200.4 278.6h0.8v12.9h-0.8zM219.1 278.6h0.8v12.9h-0.8zM216.4 278.6h0.8v12.9h-0.8zM191.8 278.6h0.8v12.9h-0.8zM218 291.5h0.8v12.9h-0.8zM221.5 291.5h0.8v12.9h-0.8zM187.8 291.5h0.8v12.9h-0.8zM209 330.3h0.8v12.9h-0.8zM202.5 330.3h0.8v12.9h-0.8zM210.9 330.3h0.8v12.9h-0.8zM197.8 330.3h0.8v12.9h-0.8zM222.1 330.3h0.8v12.9h-0.8zM205.5 330.3h0.8v12.9h-0.8zM193 330.3h0.8v12.9h-0.8zM189 330.3h0.8v12.9h-0.8zM194.1 330.3h0.8v12.9h-0.8zM190.9 330.3h0.8v12.9h-0.8zM191.2 343.3h0.8v12.9h-0.8zM196.4 343.3h0.8v12.9h-0.8zM195.5 343.3h0.8v12.9h-0.8zM202.7 343.3h0.8v12.9h-0.8zM188.9 343.3h0.8v12.9h-0.8zM199 343.3h0.8v12.9h-0.8zM214.4 343.3h0.8v12.9h-0.8zM193.3 343.3h0.8v12.9h-0.8zM192.4 343.3h0.8v12.9h-0.8zM196.3 356.2h0.8v12.9h-0.8zM190.6 356.2h0.8v12.9h-0.8zM215.7 382.1h0.8v12.9h-0.8zM219.1 382.1h0.8v12.9h-0.8zM212.5 382.1h0.8v12.9h-0.8zM197.6 382.1h0.8v12.9h-0.8zM206.9 382.1h0.8v12.9h-0.8zM204.4 382.1h0.8v12.9h-0.8zM211.2 382.1h0.8v12.9h-0.8zM267 278.6h0.8v12.9h-0.8zM264.9 291.5h0.8v12.9h-0.8zM266.9 330.3h0.8v12.9h-0.8zM237.2 330.3h0.8v12.9h-0.8zM257 330.3h0.8v12.9h-0.8zM252.6 330.3h0.8v12.9h-0.8zM260.8 330.3h0.8v12.9h-0.8zM240 330.3h0.8v12.9h-0.8zM262.5 330.3h0.8v12.9h-0.8zM234.7 330.3h0.8v12.9h-0.8zM245 330.3h0.8v12.9h-0.8zM269.7 330.3h0.8v12.9h-0.8zM243.3 330.3h0.8v12.9h-0.8zM271.5 343.3h0.8v12.9h-0.8zM277 343.3h0.8v12.9h-0.8zM245.5 343.3h0.8v12.9h-0.8zM270.1 343.3h0.8v12.9h-0.8zM272.4 343.3h0.8v12.9h-0.8zM258.5 343.3h0.8v12.9h-0.8zM236.9 356.2h0.8v12.9h-0.8zM265.1 356.2h0.8v12.9h-0.8zM240.3 356.2h0.8v12.9h-0.8zM237.5 356.2h0.8v12.9h-0.8zM270.8 356.2h0.8v12.9h-0.8zM278.4 356.2h0.8v12.9h-0.8zM248.9 356.2h0.8v12.9h-0.8zM262.3 356.2h0.8v12.9h-0.8zM239.3 356.2h0.8v12.9h-0.8zM237.8 356.2h0.8v12.9h-0.8zM273.4 356.2h0.8v12.9h-0.8zM227.2 369.1h0.8v12.9h-0.8zM240.1 369.1h0.8v12.9h-0.8zM262.8 369.1h0.8v12.9h-0.8zM279.7 369.1h0.8v12.9h-0.8zM268.3 369.1h0.8v12.9h-0.8zM255.4 369.1h0.8v12.9h-0.8zM261.5 369.1h0.8v12.9h-0.8zM270.3 369.1h0.8v12.9h-0.8zM270.7 369.1h0.8v12.9h-0.8zM268.8 369.1h0.8v12.9h-0.8zM240.6 382.1h0.8v12.9h-0.8zM255.8 382.1h0.8v12.9h-0.8zM243.3 382.1h0.8v12.9h-0.8zM259.5 382.1h0.8v12.9h-0.8zM261.7 382.1h0.8v12.9h-0.8zM233.4 382.1h0.8v12.9h-0.8zM250 382.1h0.8v12.9h-0.8zM288.8 317.4h0.8v12.9h-0.8zM292.7 317.4h0.8v12.9h-0.8zM289.2 317.4h0.8v12.9h-0.8zM288.7 330.3h0.8v12.9h-0.8zM288.8 330.3h0.8v12.9h-0.8zM291.1 330.3h0.8v12.9h-0.8zM286 330.3h0.8v12.9h-0.8zM283 343.3h0.8v12.9h-0.8zM286.8 343.3h0.8v12.9h-0.8zM284.1 343.3h0.8v12.9h-0.8zM283.6 356.2h0.8v12.9h-0.8zM289.7 356.2h0.8v12.9h-0.8zM290.7 356.2h0.8v12.9h-0.8zM282.7 369.1h0.8v12.9h-0.8zM291.5 382.1h0.8v12.9h-0.8zM291.9 382.1h0.8v12.9h-0.8zM307.9 304.5h0.8v12.9h-0.8zM309.5 304.5h0.8v12.9h-0.8zM309.3 317.4h0.8v12.9h-0.8zM302.7 330.3h0.8v12.9h-0.8zM310.3 343.3h0.8v12.9h-0.8zM306.3 343.3h0.8v12.9h-0.8zM297.7 343.3h0.8v12.9h-0.8zM302.4 343.3h0.8v12.9h-0.8zM314.1 343.3h0.8v12.9h-0.8zM298.6 356.2h0.8v12.9h-0.8zM304.2 356.2h0.8v12.9h-0.8zM296.5 356.2h0.8v12.9h-0.8zM300 369.1h0.8v12.9h-0.8zM305.2 369.1h0.8v12.9h-0.8zM314.2 369.1h0.8v12.9h-0.8zM300.3 369.1h0.8v12.9h-0.8zM303.1 382.1h0.8v12.9h-0.8zM304.7 382.1h0.8v12.9h-0.8zM307 382.1h0.8v12.9h-0.8zM305.2 382.1h0.8v12.9h-0.8zM298.7 382.1h0.8v12.9h-0.8zM304.8 382.1h0.8v12.9h-0.8zM339.8 278.6h0.8v12.9h-0.8zM335.4 291.5h0.8v12.9h-0.8zM321.7 291.5h0.8v12.9h-0.8zM340.5 291.5h0.8v12.9h-0.8zM339.4 291.5h0.8v12.9h-0.8zM330.4 291.5h0.8v12.9h-0.8zM342 291.5h0.8v12.9h-0.8zM320.9 291.5h0.8v12.9h-0.8zM339.5 304.5h0.8v12.9h-0.8zM327.7 304.5h0.8v12.9h-0.8zM325 304.5h0.8v12.9h-0.8zM317.6 330.3h0.8v12.9h-0.8zM333.9 330.3h0.8v12.9h-0.8zM325.3 330.3h0.8v12.9h-0.8zM319.1 330.3h0.8v12.9h-0.8zM343.4 330.3h0.8v12.9h-0.8zM320.1 343.3h0.8v12.9h-0.8zM340.7 343.3h0.8v12.9h-0.8zM336.1 343.3h0.8v12.9h-0.8zM317.3 343.3h0.8v12.9h-0.8zM323.6 343.3h0.8v12.9h-0.8zM329.5 343.3h0.8v12.9h-0.8zM330.7 343.3h0.8v12.9h-0.8zM333.1 356.2h0.8v12.9h-0.8zM338.6 356.2h0.8v12.9h-0.8zM331.7 382.1h0.8v12.9h-0.8zM341.4 382.1h0.8v12.9h-0.8zM338.8 382.1h0.8v12.9h-0.8zM331.2 382.1h0.8v12.9h-0.8zM339.7 382.1h0.8v12.9h-0.8z" fill="#ffffff" fill-opacity="0.6"/>
<path d="M54.4 291.5h0.8v12.9h-0.8zM52.5 330.3h0.8v12.9h-0.8zM56.4 330.3h0.8v12.9h-0.8zM55.1 356.2h0.8v12.9h-0.8zM56.2 356.2h0.8v12.9h-0.8zM113.8 278.6h0.8v12.9h-0.8zM75.5 278.6h0.8v12.9h-0.8zM105.1 278.6h0.8v12.9h-0.8zM101.1 278.6h0.8v12.9h-0.8zM62.8 278.6h0.8v12.9h-0.8zM75.7 278.6h0.8v12.9h-0.8zM92.1 291.5h0.8v12.9h-0.8zM60.7 291.5h0.8v12.9h-0.8zM94.2 291.5h0.8v12.9h-0.8zM66.2 291.5h0.8v12.9h-0.8zM81 291.5h0.8v12.9h-0.8zM115 291.5h0.8v12.9h-0.8zM78.5 291.5h0.8v12.9h-0.8zM96.1 291.5h0.8v12.9h-0.8zM97.7 291.5h0.8v12.9h-0.8zM77.9 304.5h0.8v12.9h-0.8zM114.3 304.5h0.8v12.9h-0.8zM67.2 304.5h0.8v12.9h-0.8zM79.3 304.5h0.8v12.9h-0.8zM81.7 317.4h0.8v12.9h-0.8zM58.3 317.4h0.8v12.9h-0.8zM95 317.4h0.8v12.9h-0.8zM64.4 317.4h0.8v12.9h-0.8zM58.3 330.3h0.8v12.9h-0.8zM74.8 330.3h0.8v12.9h-0.8zM102.9 330.3h0.8v12.9h-0.8zM110.5 330.3h0.8v12.9h-0.8zM89.5 330.3h0.8v12.9h-0.8zM91.6 330.3h0.8v12.9h-0.8zM104.7 330.3h0.8v12.9h-0.8zM105.2 330.3h0.8v12.9h-0.8zM106.5 330.3h0.8v12.9h-0.8zM99 330.3h0.8v12.9h-0.8zM110.9 330.3h0.8v12.9h-0.8zM93.7 343.3h0.8v12.9h-0.8zM61.7 343.3h0.8v12.9h-0.8zM100.7 343.3h0.8v12.9h-0.8zM108.6 343.3h0.8v12.9h-0.8zM75.8 343.3h0.8v12.9h-0.8zM86.9 343.3h0.8v12.9h-0.8zM87.6 343.3h0.8v12.9h-0.8zM79.1 343.3h0.8v12.9h-0.8zM100.4 343.3h0.8v12.9h-0.8zM105.3 343.3h0.8v12.9h-0.8zM78.1 343.3h0.8v12.9h-0.8zM92 356.2h0.8v12.9h-0.8zM82.4 356.2h0.8v12.9h-0.8zM67 356.2h0.8v12.9h-0.8zM105.2 382.1h0.8v12.9h-0.8zM69.1 382.1h0.8v12.9h-0.8zM99.9 382.1h0.8v12.9h-0.8zM79.8 382.1h0.8v12.9h-0.8zM67.4 382.1h0.8v12.9h-0.8zM72.8 382.1h0.8v12.9h-0.8zM102 382.1h0.8v12.9h-0.8zM60.4 382.1h0.8v12.9h-0.8zM93.1 382.1h0.8v12.9h-0.8zM105.6 382.1h0.8v12.9h-0.8zM119.7 278.6h0.8v12.9h-0.8zM117.3 278.6h0.8v12.9h-0.8zM141.1 278.6h0.8v12.9h-0.8zM132.1 278.6h0.8v12.9h-0.8zM133.8 291.5h0.8v12.9h-0.8zM125.3 291.5h0.8v12.9h-0.8zM139.2 304.5h0.8v12.9h-0.8zM137.7 304.5h0.8v12.9h-0.8zM136.4 304.5h0.8v12.9h-0.8zM143.2 304.5h0.8v12.9h-0.8zM139.9 317.4h0.8v12.9h-0.8zM133.6 317.4h0.8v12.9h-0.8zM136.4 317.4h0.8v12.9h-0.8zM131.2 330.3h0.8v12.9h-0.8zM133.4 330.3h0.8v12.9h-0.8zM119.6 330.3h0.8v12.9h-0.8zM143.2 343.3h0.8v12.9h-0.8zM119.2 343.3h0.8v12.9h-0.8zM120.7 343.3h0.8v12.9h-0.8zM137.6 343.3h0.8v12.9h-0.8zM143.4 343.3h0.8v12.9h-0.8zM122.2 343.3h0.8v12.9h-0.8zM139.5 382.1h0.8v12.9h-0.8zM137.6 382.1h0.8v12.9h-0.8zM150.3 278.6h0.8v12.9h-0.8zM155.1 278.6h0.8v12.9h-0.8zM147.2 291.5h0.8v12.9h-0.8zM154 291.5h0.8v12.9h-0.8zM145.6 304.5h0.8v12.9h-0.8zM167.7 304.5h0.8v12.9h-0.8zM167.3 304.5h0.8v12.9h-0.8zM162.6 304.5h0.8v12.9h-0.8zM158.2 317.4h0.8v12.9h-0.8zM148.5 317.4h0.8v12.9h-0.8zM168.1 317.4h0.8v12.9h-0.8zM162.7 317.4h0.8v12.9h-0.8zM161.5 356.2h0.8v12.9h-0.8zM147.7 356.2h0.8v12.9h-0.8zM151.3 356.2h0.8v12.9h-0.8zM163.4 369.1h0.8v12.9h-0.8zM165.2 369.1h0.8v12.9h-0.8zM168.2 369.1h0.8v12.9h-0.8zM154.8 369.1h0.8v12.9h-0.8zM152 382.1h0.8v12.9h-0.8zM147.8 382.1h0.8v12.9h-0.8zM180.7 278.6h0.8v12.9h-0.8zM182.5 278.6h0.8v12.9h-0.8zM177.9 291.5h0.8v12.9h-0.8zM171.4 291.5h0.8v12.9h-0.8zM171 291.5h0.8v12.9h-0.8zM182.2 317.4h0.8v12.9h-0.8zM178.6 317.4h0.8v12.9h-0.8zM177.6 356.2h0.8v12.9h-0.8zM173.8 356.2h0.8v12.9h-0.8zM175.7 356.2h0.8v12.9h-0.8zM181.1 369.1h0.8v12.9h-0.8zM169.8 369.1h0.8v12.9h-0.8zM175.6 369.1h0.8v12.9h-0.8zM169.9 369.1h0.8v12.9h-0.8zM180.5 369.1h0.8v12.9h-0.8zM174.7 382.1h0.8v12.9h-0.8zM196.2 278.6h0.8v12.9h-0.8zM220 278.6h0.8v12.9h-0.8zM197.4 278.6h0.8v12.9h-0.8zM198.9 278.6h0.8v12.9h-0.8zM187.9 278.6h0.8v12.9h-0.8zM189.9 278.6h0.8v12.9h-0.8zM191 291.5h0.8v12.9h-0.8zM205.9 291.5h0.8v12.9h-0.8zM193 291.5h0.8v12.9h-0.8zM213.8 291.5h0.8v12.9h-0.8zM215.8 291.5h0.8v12.9h-0.8zM198.1 304.5h0.8v12.9h-0.8zM217.4 330.3h0.8v12.9h-0.8zM185.9 330.3h0.8v12.9h-0.8zM191.8 330.3h0.8v12.9h-0.8zM221.6 330.3h0.8v12.9h-0.8zM218.7 343.3h0.8v12.9h-0.8zM196.9 343.3h0.8v12.9h-0.8zM209.9 343.3h0.8v12.9h-0.8zM190.1 343.3h0.8v12.9h-0.8zM219.6 356.2h0.8v12.9h-0.8zM203 356.2h0.8v12.9h-0.8zM198.1 356.2h0.8v12.9h-0.8zM210.7 356.2h0.8v12.9h-0.8zM198.3 356.2h0.8v12.9h-0.8zM184.8 369.1h0.8v12.9h-0.8zM194.5 369.1h0.8v12.9h-0.8zM205.9 369.1h0.8v12.9h-0.8zM212.7 369.1h0.8v12.9h-0.8zM222.3 369.1h0.8v12.9h-0.8zM197.2 369.1h0.8v12.9h-0.8zM213.1 382.1h0.8v12.9h-0.8zM223.1 382.1h0.8v12.9h-0.8zM210 382.1h0.8v12.9h-0.8zM186 382.1h0.8v12.9h-0.8zM185.7 382.1h0.8v12.9h-0.8zM196.2 382.1h0.8v12.9h-0.8zM207.2 382.1h0.8v12.9h-0.8zM233.6 278.6h0.8v12.9h-0.8zM279 278.6h0.8v12.9h-0.8zM248.6 278.6h0.8v12.9h-0.8zM276.9 278.6h0.8v12.9h-0.8zM279.5 278.6h0.8v12.9h-0.8zM262 291.5h0.8v12.9h-0.8zM261.9 291.5h0.8v12.9h-0.8zM270.9 291.5h0.8v12.9h-0.8zM229 291.5h0.8v12.9h-0.8zM268 291.5h0.8v12.9h-0.8zM251.7 291.5h0.8v12.9h-0.8zM273.5 291.5h0.8v12.9h-0.8zM278.5 317.4h0.8v12.9h-0.8zM266.7 330.3h0.8v12.9h-0.8zM278.9 330.3h0.8v12.9h-0.8zM255.2 330.3h0.8v12.9h-0.8zM258.4 330.3h0.8v12.9h-0.8zM266.2 330.3h0.8v12.9h-0.8zM226.9 330.3h0.8v12.9h-0.8zM246.6 330.3h0.8v12.9h-0.8zM229.3 343.3h0.8v12.9h-0.8zM254.1 343.3h0.8v12.9h-0.8zM245.2 343.3h0.8v12.9h-0.8zM279 356.2h0.8v12.9h-0.8zM236.2 356.2h0.8v12.9h-0.8zM262.6 356.2h0.8v12.9h-0.8zM275.2 356.2h0.8v12.9h-0.8zM234.6 356.2h0.8v12.9h-0.8zM233.2 356.2h0.8v12.9h-0.8zM229.6 356.2h0.8v12.9h-0.8zM253.8 356.2h0.8v12.9h-0.8zM250.7 356.2h0.8v12.9h-0.8zM254.8 356.2h0.8v12.9h-0.8zM277.2 369.1h0.8v12.9h-0.8zM276.4 369.1h0.8v12.9h-0.8zM277 369.1h0.8v12.9h-0.8zM243.9 369.1h0.8v12.9h-0.8zM231 369.1h0.8v12.9h-0.8zM239.1 369.1h0.8v12.9h-0.8zM265.9 369.1h0.8v12.9h-0.8zM265.1 369.1h0.8v12.9h-0.8zM256.8 369.1h0.8v12.9h-0.8zM268.3 369.1h0.8v12.9h-0.8zM245.9 382.1h0.8v12.9h-0.8zM258.5 382.1h0.8v12.9h-0.8zM234.2 382.1h0.8v12.9h-0.8zM272.5 382.1h0.8v12.9h-0.8zM255.6 382.1h0.8v12.9h-0.8zM252.4 382.1h0.8v12.9h-0.8zM260.3 382.1h0.8v12.9h-0.8zM256 382.1h0.8v12.9h-0.8zM275.5 382.1h0.8v12.9h-0.8zM277.4 382.1h0.8v12.9h-0.8zM227.6 382.1h0.8v12.9h-0.8zM236.1 382.1h0.8v12.9h-0.8zM290.7 330.3h0.8v12.9h-0.8zM286.3 343.3h0.8v12.9h-0.8zM282.4 356.2h0.8v12.9h-0.8zM282.6 356.2h0.8v12.9h-0.8zM291.9 369.1h0.8v12.9h-0.8zM291.1 369.1h0.8v12.9h-0.8zM286 369.1h0.8v12.9h-0.8zM284.7 369.1h0.8v12.9h-0.8zM283 369.1h0.8v12.9h-0.8zM291.6 382.1h0.8v12.9h-0.8zM281.9 382.1h0.8v12.9h-0.8zM311.7 291.5h0.8v12.9h-0.8zM310.1 291.5h0.8v12.9h-0.8zM308.1 304.5h0.8v12.9h-0.8zM314.5 304.5h0.8v12.9h-0.8zM304.7 304.5h0.8v12.9h-0.8zM312.8 304.5h0.8v12.9h-0.8zM300 304.5h0.8v12.9h-0.8zM308.1 317.4h0.8v12.9h-0.8zM308.4 317.4h0.8v12.9h-0.8zM303.8 317.4h0.8v12.9h-0.8zM306.6 330.3h0.8v12.9h-0.8zM309 330.3h0.8v12.9h-0.8zM313.8 343.3h0.8v12.9h-0.8zM301.7 343.3h0.8v12.9h-0.8zM299.6 343.3h0.8v12.9h-0.8zM297.4 343.3h0.8v12.9h-0.8zM306.3 356.2h0.8v12.9h-0.8zM298.5 356.2h0.8v12.9h-0.8zM305.6 369.1h0.8v12.9h-0.8zM297 369.1h0.8v12.9h-0.8zM300 382.1h0.8v12.9h-0.8zM324.5 278.6h0.8v12.9h-0.8zM330.7 278.6h0.8v12.9h-0.8zM316.5 278.6h0.8v12.9h-0.8zM325 291.5h0.8v12.9h-0.8zM322.2 291.5h0.8v12.9h-0.8zM316.3 291.5h0.8v12.9h-0.8zM343.4 304.5h0.8v12.9h-0.8zM342.5 304.5h0.8v12.9h-0.8zM316.1 317.4h0.8v12.9h-0.8zM317.1 317.4h0.8v12.9h-0.8zM328.8 330.3h0.8v12.9h-0.8zM326.5 330.3h0.8v12.9h-0.8zM325.2 330.3h0.8v12.9h-0.8zM325.9 330.3h0.8v12.9h-0.8zM341.7 330.3h0.8v12.9h-0.8zM341.3 330.3h0.8v12.9h-0.8zM343.7 343.3h0.8v12.9h-0.8zM321.3 343.3h0.8v12.9h-0.8zM317.4 343.3h0.8v12.9h-0.8zM331.1 343.3h0.8v12.9h-0.8zM321 356.2h0.8v12.9h-0.8zM338.1 356.2h0.8v12.9h-0.8zM320.8 356.2h0.8v12.9h-0.8zM325 356.2h0.8v12.9h-0.8zM323.8 356.2h0.8v12.9h-0.8zM333.4 369.1h0.8v12.9h-0.8zM324.9 369.1h0.8v12.9h-0.8zM338.4 382.1h0.8v12.9h-0.8zM320.6 382.1h0.8v12.9h-0.8zM323.5 382.1h0.8v12.9h-0.8zM343.2 382.1h0.8v12.9h-0.8zM316.2 382.1h0.8v12.9h-0.8zM325.5 382.1h0.8v12.9h-0.8z" fill="#fdede8" fill-opacity="0.6"/>
<path d="M52.9 304.5h0.8v12.9h-0.8zM114.9 291.5h0.8v12.9h-0.8zM82 291.5h0.8v12.9h-0.8zM74.4 291.5h0.8v12.9h-0.8zM97.9 291.5h0.8v12.9h-0.8zM98.5 291.5h0.8v12.9h-0.8zM73.8 291.5h0.8v12.9h-0.8zM88.3 304.5h0.8v12.9h-0.8zM97.7 304.5h0.8v12.9h-0.8zM82 304.5h0.8v12.9h-0.8zM70.2 304.5h0.8v12.9h-0.8zM81.1 304.5h0.8v12.9h-0.8zM73.7 304.5h0.8v12.9h-0.8zM74.8 330.3h0.8v12.9h-0.8zM89.3 330.3h0.8v12.9h-0.8zM91 330.3h0.8v12.9h-0.8zM79.9 330.3h0.8v12.9h-0.8zM66.2 343.3h0.8v12.9h-0.8zM72.8 343.3h0.8v12.9h-0.8zM90.9 382.1h0.8v12.9h-0.8zM98.8 382.1h0.8v12.9h-0.8zM116.7 291.5h0.8v12.9h-0.8zM129.7 304.5h0.8v12.9h-0.8zM135.2 304.5h0.8v12.9h-0.8zM133 304.5h0.8v12.9h-0.8zM135.4 304.5h0.8v12.9h-0.8zM118.6 304.5h0.8v12.9h-0.8zM118.8 304.5h0.8v12.9h-0.8zM136.4 304.5h0.8v12.9h-0.8zM121.1 330.3h0.8v12.9h-0.8zM122.7 330.3h0.8v12.9h-0.8zM118.2 330.3h0.8v12.9h-0.8zM136.8 330.3h0.8v12.9h-0.8zM133 330.3h0.8v12.9h-0.8zM136.8 330.3h0.8v12.9h-0.8zM129.7 343.3h0.8v12.9h-0.8zM136.4 343.3h0.8v12.9h-0.8zM119.1 369.1h0.8v12.9h-0.8zM117.9 382.1h0.8v12.9h-0.8zM133 382.1h0.8v12.9h-0.8zM141.7 382.1h0.8v12.9h-0.8zM117.4 382.1h0.8v12.9h-0.8zM140.9 382.1h0.8v12.9h-0.8zM163.5 291.5h0.8v12.9h-0.8zM161.8 291.5h0.8v12.9h-0.8zM150.8 291.5h0.8v12.9h-0.8zM158.1 291.5h0.8v12.9h-0.8zM157.1 304.5h0.8v12.9h-0.8zM146 304.5h0.8v12.9h-0.8zM152.2 304.5h0.8v12.9h-0.8zM157.7 317.4h0.8v12.9h-0.8zM160.1 369.1h0.8v12.9h-0.8zM147.9 369.1h0.8v12.9h-0.8zM162.2 369.1h0.8v12.9h-0.8zM177.5 291.5h0.8v12.9h-0.8zM173.1 291.5h0.8v12.9h-0.8zM171.8 304.5h0.8v12.9h-0.8zM177.6 304.5h0.8v12.9h-0.8zM173.1 304.5h0.8v12.9h-0.8zM177.7 304.5h0.8v12.9h-0.8zM173.5 317.4h0.8v12.9h-0.8zM169.6 317.4h0.8v12.9h-0.8zM180.6 369.1h0.8v12.9h-0.8zM181 369.1h0.8v12.9h-0.8zM221.4 278.6h0.8v12.9h-0.8zM191.8 278.6h0.8v12.9h-0.8zM214.9 291.5h0.8v12.9h-0.8zM201.4 291.5h0.8v12.9h-0.8zM194.4 330.3h0.8v12.9h-0.8zM196.5 330.3h0.8v12.9h-0.8zM185.9 330.3h0.8v12.9h-0.8zM194.4 330.3h0.8v12.9h-0.8zM213.4 343.3h0.8v12.9h-0.8zM221.2 343.3h0.8v12.9h-0.8zM207.4 343.3h0.8v12.9h-0.8zM208.2 343.3h0.8v12.9h-0.8zM184.2 343.3h0.8v12.9h-0.8zM211.1 343.3h0.8v12.9h-0.8zM213.8 343.3h0.8v12.9h-0.8zM202.1 369.1h0.8v12.9h-0.8zM210.6 382.1h0.8v12.9h-0.8zM190 382.1h0.8v12.9h-0.8zM214.8 382.1h0.8v12.9h-0.8zM211.2 382.1h0.8v12.9h-0.8zM223.6 382.1h0.8v12.9h-0.8zM204.1 382.1h0.8v12.9h-0.8zM240.3 330.3h0.8v12.9h-0.8zM225.6 330.3h0.8v12.9h-0.8zM257.4 330.3h0.8v12.9h-0.8zM252.1 330.3h0.8v12.9h-0.8zM236 330.3h0.8v12.9h-0.8zM252.5 343.3h0.8v12.9h-0.8zM274.5 343.3h0.8v12.9h-0.8zM273.4 343.3h0.8v12.9h-0.8zM265.1 343.3h0.8v12.9h-0.8zM274.6 343.3h0.8v12.9h-0.8zM258.6 343.3h0.8v12.9h-0.8zM277.3 343.3h0.8v12.9h-0.8zM236.5 343.3h0.8v12.9h-0.8zM259.7 343.3h0.8v12.9h-0.8zM245.8 343.3h0.8v12.9h-0.8zM239.5 343.3h0.8v12.9h-0.8zM255.8 343.3h0.8v12.9h-0.8zM262.1 343.3h0.8v12.9h-0.8zM256.1 343.3h0.8v12.9h-0.8zM271.9 343.3h0.8v12.9h-0.8zM266.9 343.3h0.8v12.9h-0.8zM255.1 356.2h0.8v12.9h-0.8zM225.8 369.1h0.8v12.9h-0.8zM279.5 369.1h0.8v12.9h-0.8zM264.8 369.1h0.8v12.9h-0.8zM274.2 382.1h0.8v12.9h-0.8zM241.6 382.1h0.8v12.9h-0.8zM273.1 382.1h0.8v12.9h-0.8zM252.1 382.1h0.8v12.9h-0.8zM290 317.4h0.8v12.9h-0.8zM292.6 317.4h0.8v12.9h-0.8zM292.4 343.3h0.8v12.9h-0.8zM293.7 356.2h0.8v12.9h-0.8zM285.1 369.1h0.8v12.9h-0.8zM287.3 382.1h0.8v12.9h-0.8zM285.9 382.1h0.8v12.9h-0.8zM306.6 317.4h0.8v12.9h-0.8zM308 330.3h0.8v12.9h-0.8zM304.2 330.3h0.8v12.9h-0.8zM311.2 369.1h0.8v12.9h-0.8zM303.8 382.1h0.8v12.9h-0.8zM309.2 382.1h0.8v12.9h-0.8zM319.3 304.5h0.8v12.9h-0.8zM341 330.3h0.8v12.9h-0.8zM334.5 330.3h0.8v12.9h-0.8zM316.2 343.3h0.8v12.9h-0.8zM341.2 343.3h0.8v12.9h-0.8zM322.2 343.3h0.8v12.9h-0.8zM328.3 382.1h0.8v12.9h-0.8zM321.8 382.1h0.8v12.9h-0.8zM319.5 382.1h0.8v12.9h-0.8z" fill="#eef3fa" fill-opacity="0.6"/>
<path d="M54.9 317.4h0.8v12.9h-0.8zM67.2 278.6h0.8v12.9h-0.8zM66 278.6h0.8v12.9h-0.8zM58.8 278.6h0.8v12.9h-0.8zM68 278.6h0.8v12.9h-0.8zM111.6 278.6h0.8v12.9h-0.8zM110.9 278.6h0.8v12.9h-0.8zM77.3 278.6h0.8v12.9h-0.8zM97.6 278.6h0.8v12.9h-0.8zM109.5 317.4h0.8v12.9h-0.8zM90.4 317.4h0.8v12.9h-0.8zM74.5 317.4h0.8v12.9h-0.8zM93.7 317.4h0.8v12.9h-0.8zM103 317.4h0.8v12.9h-0.8zM63.1 356.2h0.8v12.9h-0.8zM59.8 356.2h0.8v12.9h-0.8zM57.5 356.2h0.8v12.9h-0.8zM84.6 356.2h0.8v12.9h-0.8zM66.8 356.2h0.8v12.9h-0.8zM74.2 356.2h0.8v12.9h-0.8zM111.3 356.2h0.8v12.9h-0.8zM85 356.2h0.8v12.9h-0.8zM69.2 356.2h0.8v12.9h-0.8zM62.1 356.2h0.8v12.9h-0.8zM95.1 369.1h0.8v12.9h-0.8zM71.8 382.1h0.8v12.9h-0.8zM89.9 382.1h0.8v12.9h-0.8zM112.7 382.1h0.8v12.9h-0.8zM142.6 278.6h0.8v12.9h-0.8zM122 278.6h0.8v12.9h-0.8zM139.9 291.5h0.8v12.9h-0.8zM141.5 317.4h0.8v12.9h-0.8zM121.4 317.4h0.8v12.9h-0.8zM142.3 343.3h0.8v12.9h-0.8zM131.6 369.1h0.8v12.9h-0.8zM127.2 369.1h0.8v12.9h-0.8zM126.5 369.1h0.8v12.9h-0.8zM130.9 369.1h0.8v12.9h-0.8zM143.7 369.1h0.8v12.9h-0.8zM151.9 278.6h0.8v12.9h-0.8zM166.2 278.6h0.8v12.9h-0.8zM160 317.4h0.8v12.9h-0.8zM147.9 330.3h0.8v12.9h-0.8zM167.7 330.3h0.8v12.9h-0.8zM161.4 330.3h0.8v12.9h-0.8zM159.9 356.2h0.8v12.9h-0.8zM160.6 356.2h0.8v12.9h-0.8zM156.8 356.2h0.8v12.9h-0.8zM166.8 356.2h0.8v12.9h-0.8zM163.8 356.2h0.8v12.9h-0.8zM146.6 369.1h0.8v12.9h-0.8zM163.9 382.1h0.8v12.9h-0.8zM157.9 382.1h0.8v12.9h-0.8zM182.2 278.6h0.8v12.9h-0.8zM179.6 330.3h0.8v12.9h-0.8zM180.4 343.3h0.8v12.9h-0.8zM172.4 343.3h0.8v12.9h-0.8zM169.9 382.1h0.8v12.9h-0.8zM222.9 278.6h0.8v12.9h-0.8zM215.4 278.6h0.8v12.9h-0.8zM188.3 278.6h0.8v12.9h-0.8zM189 291.5h0.8v12.9h-0.8zM205.2 291.5h0.8v12.9h-0.8zM210 291.5h0.8v12.9h-0.8zM186.9 304.5h0.8v12.9h-0.8zM195.8 304.5h0.8v12.9h-0.8zM212 304.5h0.8v12.9h-0.8zM193.3 304.5h0.8v12.9h-0.8zM195.7 304.5h0.8v12.9h-0.8zM207.2 304.5h0.8v12.9h-0.8zM186.8 317.4h0.8v12.9h-0.8zM222.4 317.4h0.8v12.9h-0.8zM216.2 330.3h0.8v12.9h-0.8zM186.7 330.3h0.8v12.9h-0.8zM192.4 356.2h0.8v12.9h-0.8zM208.5 356.2h0.8v12.9h-0.8zM210.3 356.2h0.8v12.9h-0.8zM206.9 356.2h0.8v12.9h-0.8zM190.1 369.1h0.8v12.9h-0.8zM211.2 369.1h0.8v12.9h-0.8zM214.8 369.1h0.8v12.9h-0.8zM213.5 369.1h0.8v12.9h-0.8zM195.3 382.1h0.8v12.9h-0.8zM232 278.6h0.8v12.9h-0.8zM244.7 278.6h0.8v12.9h-0.8zM233.3 278.6h0.8v12.9h-0.8zM248.5 278.6h0.8v12.9h-0.8zM265.5 278.6h0.8v12.9h-0.8zM267.6 278.6h0.8v12.9h-0.8zM238.4 278.6h0.8v12.9h-0.8zM227.1 291.5h0.8v12.9h-0.8zM226.1 291.5h0.8v12.9h-0.8zM242.5 291.5h0.8v12.9h-0.8zM252.2 291.5h0.8v12.9h-0.8zM256.8 291.5h0.8v12.9h-0.8zM274 291.5h0.8v12.9h-0.8zM262.4 291.5h0.8v12.9h-0.8zM257 317.4h0.8v12.9h-0.8zM273.7 317.4h0.8v12.9h-0.8zM258.6 317.4h0.8v12.9h-0.8zM270.6 317.4h0.8v12.9h-0.8zM239.7 317.4h0.8v12.9h-0.8zM266.7 317.4h0.8v12.9h-0.8zM277.3 317.4h0.8v12.9h-0.8zM254 317.4h0.8v12.9h-0.8zM271.9 356.2h0.8v12.9h-0.8zM287.2 278.6h0.8v12.9h-0.8zM287.5 304.5h0.8v12.9h-0.8zM287.9 330.3h0.8v12.9h-0.8zM286.6 382.1h0.8v12.9h-0.8zM311.6 317.4h0.8v12.9h-0.8zM308.8 330.3h0.8v12.9h-0.8zM313.8 330.3h0.8v12.9h-0.8zM306.6 330.3h0.8v12.9h-0.8zM302.7 356.2h0.8v12.9h-0.8zM338.7 278.6h0.8v12.9h-0.8zM319.3 278.6h0.8v12.9h-0.8zM339.2 278.6h0.8v12.9h-0.8zM337 278.6h0.8v12.9h-0.8zM328.9 291.5h0.8v12.9h-0.8zM327.7 304.5h0.8v12.9h-0.8zM326.9 304.5h0.8v12.9h-0.8zM319.7 304.5h0.8v12.9h-0.8zM336.5 317.4h0.8v12.9h-0.8zM324.2 317.4h0.8v12.9h-0.8zM341.5 317.4h0.8v12.9h-0.8zM341.3 317.4h0.8v12.9h-0.8zM326.1 317.4h0.8v12.9h-0.8zM326.8 317.4h0.8v12.9h-0.8zM339.7 356.2h0.8v12.9h-0.8zM337 356.2h0.8v12.9h-0.8zM329.8 356.2h0.8v12.9h-0.8zM342.5 369.1h0.8v12.9h-0.8zM340.8 369.1h0.8v12.9h-0.8zM321.2 369.1h0.8v12.9h-0.8zM333.4 369.1h0.8v12.9h-0.8z" fill="#fac8b9" fill-opacity="0.6"/>
<path d="M53.3 369.1h0.8v12.9h-0.8zM112 369.1h0.8v12.9h-0.8zM80.6 369.1h0.8v12.9h-0.8zM81.2 369.1h0.8v12.9h-0.8zM75.3 369.1h0.8v12.9h-0.8zM89 369.1h0.8v12.9h-0.8zM70.5 369.1h0.8v12.9h-0.8zM102.5 369.1h0.8v12.9h-0.8zM142.1 356.2h0.8v12.9h-0.8zM135.9 356.2h0.8v12.9h-0.8zM147.3 343.3h0.8v12.9h-0.8zM165.2 343.3h0.8v12.9h-0.8zM151.3 343.3h0.8v12.9h-0.8zM153.5 343.3h0.8v12.9h-0.8zM178.7 330.3h0.8v12.9h-0.8zM208.1 317.4h0.8v12.9h-0.8zM185.7 317.4h0.8v12.9h-0.8zM244.2 304.5h0.8v12.9h-0.8zM234.8 304.5h0.8v12.9h-0.8zM266.3 304.5h0.8v12.9h-0.8zM248.7 304.5h0.8v12.9h-0.8zM236 304.5h0.8v12.9h-0.8zM227.5 304.5h0.8v12.9h-0.8zM240.6 304.5h0.8v12.9h-0.8zM273.4 304.5h0.8v12.9h-0.8zM249.3 304.5h0.8v12.9h-0.8zM287.5 291.5h0.8v12.9h-0.8z" fill="#e63d30" fill-opacity="0.6"/>
<path d="M56.2 369.1h0.8v12.9h-0.8zM53.7 382.1h0.8v12.9h-0.8zM99.3 369.1h0.8v12.9h-0.8zM112.2 369.1h0.8v12.9h-0.8zM57.9 369.1h0.8v12.9h-0.8zM89.4 369.1h0.8v12.9h-0.8zM63 369.1h0.8v12.9h-0.8zM86.1 369.1h0.8v12.9h-0.8zM130.3 356.2h0.8v12.9h-0.8zM152.2 343.3h0.8v12.9h-0.8zM199.9 317.4h0.8v12.9h-0.8zM200.4 317.4h0.8v12.9h-0.8zM245.7 304.5h0.8v12.9h-0.8zM257.8 304.5h0.8v12.9h-0.8zM230.7 304.5h0.8v12.9h-0.8zM266.3 304.5h0.8v12.9h-0.8zM277.1 304.5h0.8v12.9h-0.8zM268.4 304.5h0.8v12.9h-0.8zM234 304.5h0.8v12.9h-0.8zM290.1 291.5h0.8v12.9h-0.8zM282.6 291.5h0.8v12.9h-0.8zM282.7 291.5h0.8v12.9h-0.8zM287 291.5h0.8v12.9h-0.8z" fill="#e2231a" fill-opacity="0.6"/>
<path d="M55.4 382.1h0.8v12.9h-0.8zM67 369.1h0.8v12.9h-0.8zM61 369.1h0.8v12.9h-0.8zM77.9 369.1h0.8v12.9h-0.8zM60.4 369.1h0.8v12.9h-0.8zM114 369.1h0.8v12.9h-0.8zM88.4 369.1h0.8v12.9h-0.8zM62.4 369.1h0.8v12.9h-0.8zM64.2 369.1h0.8v12.9h-0.8zM126.9 356.2h0.8v12.9h-0.8zM160.5 343.3h0.8v12.9h-0.8zM151.4 343.3h0.8v12.9h-0.8zM175.4 330.3h0.8v12.9h-0.8zM169.6 330.3h0.8v12.9h-0.8zM188.4 317.4h0.8v12.9h-0.8zM197.6 317.4h0.8v12.9h-0.8zM209.3 317.4h0.8v12.9h-0.8zM199.1 317.4h0.8v12.9h-0.8zM273.2 304.5h0.8v12.9h-0.8zM247.9 304.5h0.8v12.9h-0.8zM250.4 304.5h0.8v12.9h-0.8zM268.3 304.5h0.8v12.9h-0.8zM235.5 317.4h0.8v12.9h-0.8zM294.7 291.5h0.8v12.9h-0.8zM300.1 278.6h0.8v12.9h-0.8zM311.2 278.6h0.8v12.9h-0.8zM301.8 278.6h0.8v12.9h-0.8zM312.5 278.6h0.8v12.9h-0.8zM304.4 278.6h0.8v12.9h-0.8z" fill="#ea5647" fill-opacity="0.6"/>
<path d="M69.4 278.6h0.8v12.9h-0.8zM113.3 317.4h0.8v12.9h-0.8zM94.9 317.4h0.8v12.9h-0.8zM79 317.4h0.8v12.9h-0.8zM90.3 317.4h0.8v12.9h-0.8zM113.2 317.4h0.8v12.9h-0.8zM93.3 317.4h0.8v12.9h-0.8zM109.4 317.4h0.8v12.9h-0.8zM66.5 317.4h0.8v12.9h-0.8zM85.1 317.4h0.8v12.9h-0.8zM77.8 356.2h0.8v12.9h-0.8zM80 356.2h0.8v12.9h-0.8zM95.2 356.2h0.8v12.9h-0.8zM87.6 356.2h0.8v12.9h-0.8zM84.9 356.2h0.8v12.9h-0.8zM66.4 356.2h0.8v12.9h-0.8zM79 356.2h0.8v12.9h-0.8zM80.8 356.2h0.8v12.9h-0.8zM131.3 278.6h0.8v12.9h-0.8zM123.2 278.6h0.8v12.9h-0.8zM127.4 317.4h0.8v12.9h-0.8zM127.2 317.4h0.8v12.9h-0.8zM131.9 317.4h0.8v12.9h-0.8zM122.4 317.4h0.8v12.9h-0.8zM141.5 317.4h0.8v12.9h-0.8zM126.9 356.2h0.8v12.9h-0.8zM127.1 369.1h0.8v12.9h-0.8zM128.2 382.1h0.8v12.9h-0.8zM149.8 278.6h0.8v12.9h-0.8zM149.3 330.3h0.8v12.9h-0.8zM158.5 330.3h0.8v12.9h-0.8zM156.9 330.3h0.8v12.9h-0.8zM157.9 356.2h0.8v12.9h-0.8zM151.4 356.2h0.8v12.9h-0.8zM174.3 330.3h0.8v12.9h-0.8zM182.9 343.3h0.8v12.9h-0.8zM172.7 343.3h0.8v12.9h-0.8zM187.3 291.5h0.8v12.9h-0.8zM202.1 304.5h0.8v12.9h-0.8zM202.3 304.5h0.8v12.9h-0.8zM198 304.5h0.8v12.9h-0.8zM188 304.5h0.8v12.9h-0.8zM202.5 304.5h0.8v12.9h-0.8zM212.3 317.4h0.8v12.9h-0.8zM191.1 317.4h0.8v12.9h-0.8zM191.9 356.2h0.8v12.9h-0.8zM184.8 356.2h0.8v12.9h-0.8zM187.2 356.2h0.8v12.9h-0.8zM259.6 278.6h0.8v12.9h-0.8zM251.4 278.6h0.8v12.9h-0.8zM240.1 278.6h0.8v12.9h-0.8zM251.7 291.5h0.8v12.9h-0.8zM229.2 291.5h0.8v12.9h-0.8zM232.8 291.5h0.8v12.9h-0.8zM275.6 291.5h0.8v12.9h-0.8zM274.7 291.5h0.8v12.9h-0.8zM240 304.5h0.8v12.9h-0.8zM262.4 304.5h0.8v12.9h-0.8zM243.3 317.4h0.8v12.9h-0.8zM239.3 317.4h0.8v12.9h-0.8zM261.9 317.4h0.8v12.9h-0.8zM274.7 317.4h0.8v12.9h-0.8zM263.5 317.4h0.8v12.9h-0.8zM245.6 317.4h0.8v12.9h-0.8zM256.7 317.4h0.8v12.9h-0.8zM265.1 317.4h0.8v12.9h-0.8zM294.1 278.6h0.8v12.9h-0.8zM291.2 278.6h0.8v12.9h-0.8zM294.5 278.6h0.8v12.9h-0.8zM291.1 278.6h0.8v12.9h-0.8zM295.5 278.6h0.8v12.9h-0.8zM301.9 278.6h0.8v12.9h-0.8zM306.8 291.5h0.8v12.9h-0.8zM307.1 291.5h0.8v12.9h-0.8zM310.6 291.5h0.8v12.9h-0.8zM297.7 317.4h0.8v12.9h-0.8zM307 330.3h0.8v12.9h-0.8zM328.9 278.6h0.8v12.9h-0.8zM337.7 304.5h0.8v12.9h-0.8zM331.8 304.5h0.8v12.9h-0.8zM323.8 304.5h0.8v12.9h-0.8zM334 304.5h0.8v12.9h-0.8zM327.3 317.4h0.8v12.9h-0.8zM316.1 317.4h0.8v12.9h-0.8zM330.7 317.4h0.8v12.9h-0.8zM343.9 317.4h0.8v12.9h-0.8zM321.5 369.1h0.8v12.9h-0.8zM331.8 369.1h0.8v12.9h-0.8zM318.9 369.1h0.8v12.9h-0.8zM338.4 369.1h0.8v12.9h-0.8z" fill="#f8b5a1" fill-opacity="0.6"/>
<path d="M98.5 278.6h0.8v12.9h-0.8zM110.7 317.4h0.8v12.9h-0.8zM105.6 317.4h0.8v12.9h-0.8zM111.1 369.1h0.8v12.9h-0.8zM75.4 369.1h0.8v12.9h-0.8zM129.3 278.6h0.8v12.9h-0.8zM134.7 317.4h0.8v12.9h-0.8zM118.7 356.2h0.8v12.9h-0.8zM119.7 356.2h0.8v12.9h-0.8zM119.7 356.2h0.8v12.9h-0.8zM129.8 356.2h0.8v12.9h-0.8zM138.5 356.2h0.8v12.9h-0.8zM139.1 369.1h0.8v12.9h-0.8zM148.4 330.3h0.8v12.9h-0.8zM145.3 330.3h0.8v12.9h-0.8zM165.8 330.3h0.8v12.9h-0.8zM182.5 330.3h0.8v12.9h-0.8zM201.4 304.5h0.8v12.9h-0.8zM219.9 304.5h0.8v12.9h-0.8zM191.2 317.4h0.8v12.9h-0.8zM195.3 317.4h0.8v12.9h-0.8zM215.4 369.1h0.8v12.9h-0.8zM205.4 369.1h0.8v12.9h-0.8zM276.6 278.6h0.8v12.9h-0.8zM276.8 278.6h0.8v12.9h-0.8zM250.7 278.6h0.8v12.9h-0.8zM243 291.5h0.8v12.9h-0.8zM258.8 304.5h0.8v12.9h-0.8zM229.6 317.4h0.8v12.9h-0.8zM258 317.4h0.8v12.9h-0.8zM244.4 317.4h0.8v12.9h-0.8zM252 369.1h0.8v12.9h-0.8zM295.6 278.6h0.8v12.9h-0.8zM287.1 291.5h0.8v12.9h-0.8zM286.5 304.5h0.8v12.9h-0.8zM295.1 304.5h0.8v12.9h-0.8zM292.7 304.5h0.8v12.9h-0.8zM311.4 278.6h0.8v12.9h-0.8zM330.2 369.1h0.8v12.9h-0.8zM341.8 369.1h0.8v12.9h-0.8zM322.8 369.1h0.8v12.9h-0.8z" fill="#f6a38a" fill-opacity="0.6"/>
<path d="M83.9 291.5h0.8v12.9h-0.8zM103.9 304.5h0.8v12.9h-0.8zM77.7 304.5h0.8v12.9h-0.8zM105.7 304.5h0.8v12.9h-0.8zM97.6 304.5h0.8v12.9h-0.8zM67.5 304.5h0.8v12.9h-0.8zM102.9 304.5h0.8v12.9h-0.8zM99.4 304.5h0.8v12.9h-0.8zM59.9 304.5h0.8v12.9h-0.8zM84.6 304.5h0.8v12.9h-0.8zM92.4 343.3h0.8v12.9h-0.8zM122 291.5h0.8v12.9h-0.8zM143.9 304.5h0.8v12.9h-0.8zM118.1 330.3h0.8v12.9h-0.8zM153.9 291.5h0.8v12.9h-0.8zM153.9 304.5h0.8v12.9h-0.8zM147.7 382.1h0.8v12.9h-0.8zM170.8 304.5h0.8v12.9h-0.8zM178.4 317.4h0.8v12.9h-0.8zM175.4 317.4h0.8v12.9h-0.8zM178.1 382.1h0.8v12.9h-0.8zM172.4 382.1h0.8v12.9h-0.8zM213.8 343.3h0.8v12.9h-0.8zM223 343.3h0.8v12.9h-0.8zM196 343.3h0.8v12.9h-0.8zM186.6 382.1h0.8v12.9h-0.8zM262.3 330.3h0.8v12.9h-0.8zM269.3 330.3h0.8v12.9h-0.8zM261.5 330.3h0.8v12.9h-0.8zM243.9 330.3h0.8v12.9h-0.8zM238.6 343.3h0.8v12.9h-0.8zM268.3 343.3h0.8v12.9h-0.8zM231.7 343.3h0.8v12.9h-0.8zM240.2 343.3h0.8v12.9h-0.8zM275.9 356.2h0.8v12.9h-0.8zM250.4 382.1h0.8v12.9h-0.8zM236.2 382.1h0.8v12.9h-0.8zM281.5 317.4h0.8v12.9h-0.8zM293.6 317.4h0.8v12.9h-0.8zM284.2 317.4h0.8v12.9h-0.8zM299.6 356.2h0.8v12.9h-0.8zM323.7 330.3h0.8v12.9h-0.8zM321.9 382.1h0.8v12.9h-0.8z" fill="#dde7f4" fill-opacity="0.6"/>
<path d="M85.3 304.5h0.8v12.9h-0.8zM148.7 291.5h0.8v12.9h-0.8zM236.8 382.1h0.8v12.9h-0.8zM263.8 382.1h0.8v12.9h-0.8z" fill="#cbdcef" fill-opacity="0.6"/>
<path d="M86.4 317.4h0.8v12.9h-0.8zM86.1 317.4h0.8v12.9h-0.8zM60.1 369.1h0.8v12.9h-0.8zM67.9 369.1h0.8v12.9h-0.8zM70 369.1h0.8v12.9h-0.8zM58.5 369.1h0.8v12.9h-0.8zM79.4 369.1h0.8v12.9h-0.8zM110.6 369.1h0.8v12.9h-0.8zM131.6 317.4h0.8v12.9h-0.8zM135.5 356.2h0.8v12.9h-0.8zM118.4 356.2h0.8v12.9h-0.8zM137.7 356.2h0.8v12.9h-0.8zM127.1 356.2h0.8v12.9h-0.8zM166.6 343.3h0.8v12.9h-0.8zM178 330.3h0.8v12.9h-0.8zM187.6 304.5h0.8v12.9h-0.8zM202.8 304.5h0.8v12.9h-0.8zM204.5 304.5h0.8v12.9h-0.8zM187.3 317.4h0.8v12.9h-0.8zM210.8 317.4h0.8v12.9h-0.8zM185.4 317.4h0.8v12.9h-0.8zM202 369.1h0.8v12.9h-0.8zM264.3 278.6h0.8v12.9h-0.8zM234.7 304.5h0.8v12.9h-0.8zM292.4 304.5h0.8v12.9h-0.8zM292.9 304.5h0.8v12.9h-0.8zM313.6 278.6h0.8v12.9h-0.8zM300 278.6h0.8v12.9h-0.8z" fill="#f28974" fill-opacity="0.6"/>
<path d="M84.7 369.1h0.8v12.9h-0.8zM90.8 369.1h0.8v12.9h-0.8zM137.2 356.2h0.8v12.9h-0.8zM166.3 343.3h0.8v12.9h-0.8zM160.4 343.3h0.8v12.9h-0.8zM157.4 343.3h0.8v12.9h-0.8zM150.3 343.3h0.8v12.9h-0.8zM147.2 343.3h0.8v12.9h-0.8zM180.5 330.3h0.8v12.9h-0.8zM195.9 304.5h0.8v12.9h-0.8zM218.3 317.4h0.8v12.9h-0.8zM203.4 317.4h0.8v12.9h-0.8zM197 317.4h0.8v12.9h-0.8zM220.1 317.4h0.8v12.9h-0.8zM214.5 317.4h0.8v12.9h-0.8zM237.5 304.5h0.8v12.9h-0.8zM241.6 304.5h0.8v12.9h-0.8zM241.9 304.5h0.8v12.9h-0.8zM251.9 304.5h0.8v12.9h-0.8zM257.4 304.5h0.8v12.9h-0.8zM248.1 304.5h0.8v12.9h-0.8zM261.1 317.4h0.8v12.9h-0.8zM289.5 278.6h0.8v12.9h-0.8zM281.5 291.5h0.8v12.9h-0.8zM285.7 304.5h0.8v12.9h-0.8zM304.5 278.6h0.8v12.9h-0.8zM333.3 369.1h0.8v12.9h-0.8z" fill="#ee705d" fill-opacity="0.6"/>
<line x1="57.50" y1="278.60" x2="57.50" y2="395.00" stroke="#444" stroke-width="0.8"/>
<line x1="116.40" y1="278.60" x2="116.40" y2="395.00" stroke="#444" stroke-width="0.8"/>
<line x1="145.10" y1="278.60" x2="145.10" y2="395.00" stroke="#444" stroke-width="0.8"/>
<line x1="169.60" y1="278.60" x2="169.60" y2="395.00" stroke="#444" stroke-width="0.8"/>
<line x1="184.00" y1="278.60" x2="184.00" y2="395.00" stroke="#444" stroke-width="0.8"/>
<line x1="225.50" y1="278.60" x2="225.50" y2="395.00" stroke="#444" stroke-width="0.8"/>
<line x1="280.40" y1="278.60" x2="280.40" y2="395.00" stroke="#444" stroke-width="0.8"/>
<line x1="296.40" y1="278.60" x2="296.40" y2="395.00" stroke="#444" stroke-width="0.8"/>
<line x1="315.30" y1="278.60" x2="315.30" y2="395.00" stroke="#444" stroke-width="0.8"/>
<rect x="52.4" y="278.6" width="292.6" height="116.4" fill="none" stroke="#555" stroke-width="0.9"/>
<text x="46.2" y="288.5" font-size="9.9" text-anchor="end">NEU-like</text>
<line x1="47.80" y1="285.07" x2="51.80" y2="285.07" stroke="#888" stroke-width="0.8"/>
<text x="46.2" y="301.4" font-size="9.9" text-anchor="end">NPC-like</text>
<line x1="47.80" y1="298.00" x2="51.80" y2="298.00" stroke="#888" stroke-width="0.8"/>
<text x="46.2" y="314.3" font-size="9.9" text-anchor="end">OPC-like</text>
<line x1="47.80" y1="310.93" x2="51.80" y2="310.93" stroke="#888" stroke-width="0.8"/>
<text x="46.2" y="327.3" font-size="9.9" text-anchor="end">GPC-like</text>
<line x1="47.80" y1="323.87" x2="51.80" y2="323.87" stroke="#888" stroke-width="0.8"/>
<text x="46.2" y="340.2" font-size="9.9" text-anchor="end">Stress</text>
<line x1="47.80" y1="336.80" x2="51.80" y2="336.80" stroke="#888" stroke-width="0.8"/>
<text x="46.2" y="353.1" font-size="9.9" text-anchor="end">Hypoxia</text>
<line x1="47.80" y1="349.73" x2="51.80" y2="349.73" stroke="#888" stroke-width="0.8"/>
<text x="46.2" y="366.1" font-size="9.9" text-anchor="end">MES-like</text>
<line x1="47.80" y1="362.67" x2="51.80" y2="362.67" stroke="#888" stroke-width="0.8"/>
<text x="46.2" y="379.0" font-size="9.9" text-anchor="end">AC-like</text>
<line x1="47.80" y1="375.60" x2="51.80" y2="375.60" stroke="#888" stroke-width="0.8"/>
<text x="46.2" y="391.9" font-size="9.9" text-anchor="end">Cilia-like</text>
<line x1="47.80" y1="388.53" x2="51.80" y2="388.53" stroke="#888" stroke-width="0.8"/>
<text x="54.5" y="274.5" font-size="9.6" transform="rotate(-45 54.5 274.5)">Cilia-like</text>
<text x="86.7" y="275.6" font-size="9.6" transform="rotate(-45 86.7 275.6)">AC-like</text>
<text x="127.7" y="274.5" font-size="9.6" transform="rotate(-45 127.7 274.5)">MES-like</text>
<text x="156.3" y="274.5" font-size="9.6" transform="rotate(-45 156.3 274.5)">Hypoxia</text>
<text x="177.3" y="274.5" font-size="9.6" transform="rotate(-45 177.3 274.5)">Stress</text>
<text x="203.3" y="274.5" font-size="9.6" transform="rotate(-45 203.3 274.5)">GPC-like</text>
<text x="252.9" y="274.5" font-size="9.6" transform="rotate(-45 252.9 274.5)">OPC-like</text>
<text x="288.9" y="274.5" font-size="9.6" transform="rotate(-45 288.9 274.5)">NPC-like</text>
<text x="305.6" y="274.5" font-size="9.6" transform="rotate(-45 305.6 274.5)">NEU-like</text>
<text x="326.7" y="274.5" font-size="9.6" transform="rotate(-45 326.7 274.5)">Unresolved</text>
<defs><linearGradient id="cyc" x1="0" x2="1" y1="0" y2="0"><stop offset="0" stop-color="#c3d3ee"/><stop offset="0.55" stop-color="#f3f5fb"/><stop offset="0.9" stop-color="#fbeee8"/><stop offset="0.97" stop-color="#f08a70"/><stop offset="1" stop-color="#e0261c"/></linearGradient></defs>
<rect x="52.40" y="398.50" width="5.10" height="11.30" fill="url(#cyc)"/>
<rect x="57.50" y="398.50" width="58.90" height="11.30" fill="url(#cyc)"/>
<rect x="116.40" y="398.50" width="28.70" height="11.30" fill="url(#cyc)"/>
<rect x="145.10" y="398.50" width="24.50" height="11.30" fill="url(#cyc)"/>
<rect x="169.60" y="398.50" width="14.40" height="11.30" fill="url(#cyc)"/>
<rect x="184.00" y="398.50" width="41.50" height="11.30" fill="url(#cyc)"/>
<rect x="225.50" y="398.50" width="54.90" height="11.30" fill="url(#cyc)"/>
<rect x="280.40" y="398.50" width="16.00" height="11.30" fill="url(#cyc)"/>
<rect x="296.40" y="398.50" width="18.90" height="11.30" fill="url(#cyc)"/>
<rect x="315.30" y="398.50" width="29.70" height="11.30" fill="url(#cyc)"/>
<line x1="57.50" y1="398.50" x2="57.50" y2="409.80" stroke="#444" stroke-width="0.8"/>
<line x1="116.40" y1="398.50" x2="116.40" y2="409.80" stroke="#444" stroke-width="0.8"/>
<line x1="145.10" y1="398.50" x2="145.10" y2="409.80" stroke="#444" stroke-width="0.8"/>
<line x1="169.60" y1="398.50" x2="169.60" y2="409.80" stroke="#444" stroke-width="0.8"/>
<line x1="184.00" y1="398.50" x2="184.00" y2="409.80" stroke="#444" stroke-width="0.8"/>
<line x1="225.50" y1="398.50" x2="225.50" y2="409.80" stroke="#444" stroke-width="0.8"/>
<line x1="280.40" y1="398.50" x2="280.40" y2="409.80" stroke="#444" stroke-width="0.8"/>
<line x1="296.40" y1="398.50" x2="296.40" y2="409.80" stroke="#444" stroke-width="0.8"/>
<line x1="315.30" y1="398.50" x2="315.30" y2="409.80" stroke="#444" stroke-width="0.8"/>
<rect x="52.4" y="398.5" width="292.6" height="11.3" fill="none" stroke="#555" stroke-width="0.9"/>
<text x="46.2" y="407.5" font-size="9.9" text-anchor="end">Cycling</text>
<line x1="47.80" y1="404.10" x2="51.80" y2="404.10" stroke="#888" stroke-width="0.8"/>
<text x="180.2" y="421.9" font-size="10.2" text-anchor="middle" textLength="22.0" lengthAdjust="spacingAndGlyphs">Cells</text>
<defs><linearGradient id="score" x1="0" x2="0" y1="0" y2="1"><stop offset="0" stop-color="#e2231a"/><stop offset="0.25" stop-color="#f6a38a"/><stop offset="0.5" stop-color="#ffffff"/><stop offset="0.75" stop-color="#a9c4e4"/><stop offset="1" stop-color="#3b6fb6"/></linearGradient></defs>
<rect x="351.30" y="342.30" width="5.30" height="57.70" fill="url(#score)"/>
<text x="359.0" y="347.0" font-size="8">1</text>
<text x="359.0" y="374.5" font-size="8">0</text>
<text x="358.0" y="402.5" font-size="8">−1</text>
<text x="352.5" y="321.8" font-size="10.2" text-anchor="middle" textLength="25.0" lengthAdjust="spacingAndGlyphs" transform="rotate(90 352.5 321.8)">Score</text>
<defs><pattern id="pW" width="37" height="29" patternUnits="userSpaceOnUse"><path d="M36 27h2v1h-2zM16 3h1v1h-1zM28 15h3v1h-3zM13 3h3v1h-3zM1 28h3v1h-3zM27 19h3v1h-3zM28 8h1v1h-1zM6 28h2v1h-2zM1 0h2v1h-2zM34 0h1v1h-1zM13 13h3v1h-3zM33 7h1v1h-1zM31 17h3v1h-3zM22 7h2v1h-2zM29 9h2v1h-2zM26 26h1v1h-1zM11 20h1v1h-1zM7 23h2v1h-2zM32 13h2v1h-2zM19 9h2v1h-2zM32 12h3v1h-3zM30 7h1v1h-1zM26 21h3v1h-3zM23 17h2v1h-2zM5 14h2v1h-2zM10 16h1v1h-1zM23 15h3v1h-3zM30 1h1v1h-1zM25 20h2v1h-2zM10 16h2v1h-2zM0 24h2v1h-2zM34 27h2v1h-2zM25 16h2v1h-2zM36 11h2v1h-2zM17 21h3v1h-3zM24 25h1v1h-1zM33 24h2v1h-2zM27 1h2v1h-2zM23 18h3v1h-3zM32 13h2v1h-2zM22 13h3v1h-3zM0 17h2v1h-2zM29 19h2v1h-2zM14 20h1v1h-1zM35 18h2v1h-2zM5 25h2v1h-2zM2 26h2v1h-2zM5 27h1v1h-1zM28 0h1v1h-1zM15 8h2v1h-2zM11 11h1v1h-1zM4 5h2v1h-2zM16 16h2v1h-2zM17 20h2v1h-2zM29 22h2v1h-2zM31 15h2v1h-2zM1 9h1v1h-1zM21 13h3v1h-3zM16 3h2v1h-2zM32 6h2v1h-2zM1 7h3v1h-3zM25 4h1v1h-1zM10 14h1v1h-1zM34 26h3v1h-3zM33 14h2v1h-2zM33 20h2v1h-2zM25 21h1v1h-1zM27 1h2v1h-2zM8 6h2v1h-2zM19 2h1v1h-1zM19 9h1v1h-1zM26 18h2v1h-2zM8 0h2v1h-2zM13 28h1v1h-1zM10 26h3v1h-3zM24 6h1v1h-1zM6 6h2v1h-2zM12 15h3v1h-3zM24 9h1v1h-1zM1 10h3v1h-3zM18 0h3v1h-3zM12 27h2v1h-2zM36 25h2v1h-2zM21 13h2v1h-2zM17 21h2v1h-2zM24 17h1v1h-1zM34 15h2v1h-2zM4 23h2v1h-2zM5 4h1v1h-1zM10 17h2v1h-2zM17 24h2v1h-2zM32 26h2v1h-2zM23 10h2v1h-2zM7 9h2v1h-2zM31 4h2v1h-2zM20 1h1v1h-1zM4 12h3v1h-3zM8 10h2v1h-2zM24 2h1v1h-1zM36 2h2v1h-2zM23 28h2v1h-2zM36 17h2v1h-2zM29 28h1v1h-1zM6 25h2v1h-2zM18 0h1v1h-1zM5 13h1v1h-1zM2 6h1v1h-1zM26 5h2v1h-2zM28 5h1v1h-1zM10 23h2v1h-2zM27 12h1v1h-1zM35 8h2v1h-2zM20 3h3v1h-3zM20 1h2v1h-2zM0 25h1v1h-1zM20 14h2v1h-2zM20 12h3v1h-3zM4 10h1v1h-1z" fill="#ffffff"/></pattern></defs>
<defs><pattern id="pW2" width="41" height="31" patternUnits="userSpaceOnUse"><path d="M5 2h1v1h-1zM10 23h2v1h-2zM16 19h2v1h-2zM38 1h2v1h-2zM27 20h2v1h-2zM32 30h3v1h-3zM34 29h2v1h-2zM32 8h3v1h-3zM1 11h1v1h-1zM20 29h3v1h-3zM27 28h3v1h-3zM35 5h2v1h-2zM14 0h2v1h-2zM20 5h2v1h-2zM32 16h2v1h-2zM32 21h2v1h-2zM28 25h2v1h-2zM33 29h3v1h-3zM37 11h2v1h-2zM28 5h2v1h-2zM29 20h3v1h-3zM31 8h2v1h-2zM32 16h3v1h-3zM29 28h2v1h-2zM22 18h3v1h-3zM31 21h3v1h-3zM20 26h2v1h-2zM39 8h2v1h-2zM19 9h3v1h-3zM19 23h3v1h-3zM31 16h2v1h-2zM39 28h2v1h-2zM21 23h1v1h-1zM12 23h1v1h-1zM3 18h1v1h-1zM17 18h1v1h-1zM6 24h2v1h-2zM17 7h2v1h-2zM3 13h2v1h-2zM3 11h1v1h-1zM11 7h2v1h-2zM5 3h1v1h-1zM1 1h1v1h-1zM23 8h1v1h-1zM10 23h2v1h-2zM33 22h2v1h-2zM24 18h1v1h-1zM15 4h1v1h-1zM0 11h1v1h-1zM18 10h1v1h-1zM1 9h3v1h-3zM35 24h3v1h-3zM16 24h1v1h-1zM39 22h3v1h-3zM30 30h2v1h-2zM5 21h2v1h-2zM6 0h2v1h-2zM8 16h3v1h-3zM31 16h3v1h-3zM9 27h2v1h-2zM16 8h2v1h-2zM1 22h3v1h-3zM3 8h2v1h-2zM8 5h1v1h-1zM6 14h2v1h-2zM32 29h2v1h-2zM15 7h1v1h-1zM4 8h3v1h-3zM37 7h1v1h-1zM16 21h2v1h-2zM17 16h3v1h-3zM9 1h1v1h-1zM26 5h3v1h-3zM32 23h1v1h-1zM15 3h1v1h-1zM1 5h1v1h-1zM6 6h2v1h-2zM33 21h1v1h-1zM29 9h3v1h-3zM13 21h3v1h-3zM27 13h2v1h-2zM37 18h1v1h-1zM26 29h1v1h-1zM6 21h2v1h-2zM23 0h3v1h-3zM39 11h1v1h-1zM23 9h2v1h-2zM26 3h1v1h-1zM19 6h1v1h-1zM28 1h1v1h-1zM40 15h3v1h-3zM13 28h3v1h-3zM0 9h1v1h-1zM23 9h1v1h-1zM14 24h1v1h-1zM12 3h3v1h-3zM25 22h2v1h-2zM8 24h3v1h-3zM25 28h2v1h-2zM16 3h1v1h-1zM5 19h1v1h-1zM25 30h2v1h-2zM6 0h2v1h-2zM2 23h3v1h-3zM18 11h3v1h-3zM9 25h3v1h-3zM17 15h2v1h-2zM26 29h3v1h-3zM18 12h3v1h-3zM10 15h2v1h-2zM35 13h2v1h-2zM37 23h1v1h-1zM4 11h1v1h-1zM34 4h2v1h-2z" fill="#fbe3da"/></pattern></defs>
<defs><pattern id="pR" width="43" height="27" patternUnits="userSpaceOnUse"><path d="M37 17h2v1h-2zM23 19h2v1h-2zM40 18h3v1h-3zM38 0h1v1h-1zM16 17h3v1h-3zM12 22h2v1h-2zM34 26h3v1h-3zM25 20h3v1h-3zM14 20h2v1h-2zM33 12h2v1h-2zM42 24h1v1h-1zM10 24h1v1h-1zM19 24h1v1h-1zM17 15h1v1h-1zM27 12h3v1h-3zM8 11h3v1h-3zM2 4h1v1h-1zM13 8h3v1h-3zM40 9h3v1h-3zM32 26h3v1h-3zM36 11h3v1h-3zM37 7h3v1h-3zM1 8h2v1h-2zM20 17h2v1h-2zM41 6h1v1h-1zM18 3h2v1h-2zM30 20h1v1h-1zM5 11h3v1h-3zM26 4h1v1h-1zM18 13h1v1h-1zM7 1h3v1h-3zM24 22h1v1h-1zM35 8h2v1h-2zM2 9h2v1h-2zM4 3h1v1h-1zM12 13h1v1h-1zM39 8h2v1h-2zM2 10h2v1h-2zM23 4h2v1h-2zM24 14h3v1h-3zM41 19h3v1h-3zM39 25h1v1h-1zM27 20h2v1h-2zM19 13h2v1h-2zM33 9h2v1h-2zM0 25h2v1h-2zM37 10h3v1h-3zM24 19h1v1h-1zM3 20h2v1h-2zM29 11h2v1h-2zM38 22h2v1h-2zM31 0h2v1h-2zM1 11h1v1h-1zM40 14h2v1h-2zM37 19h2v1h-2zM11 11h2v1h-2zM20 24h2v1h-2zM38 8h2v1h-2zM24 3h2v1h-2zM36 21h1v1h-1zM19 16h2v1h-2zM41 25h2v1h-2zM15 10h2v1h-2zM27 20h2v1h-2zM6 19h1v1h-1zM21 21h2v1h-2zM28 25h2v1h-2zM5 10h2v1h-2zM36 14h2v1h-2zM14 25h2v1h-2zM2 16h1v1h-1zM20 25h2v1h-2zM17 10h2v1h-2zM39 11h1v1h-1zM26 9h2v1h-2zM29 11h2v1h-2zM18 13h3v1h-3zM2 13h3v1h-3zM12 0h2v1h-2zM39 16h3v1h-3zM35 22h3v1h-3zM2 23h2v1h-2zM42 23h3v1h-3zM34 10h2v1h-2zM4 18h2v1h-2zM7 25h2v1h-2zM2 1h2v1h-2zM27 18h2v1h-2zM0 15h1v1h-1zM10 16h1v1h-1zM15 21h2v1h-2zM33 17h1v1h-1zM3 19h3v1h-3zM21 4h1v1h-1zM34 15h2v1h-2zM22 7h1v1h-1zM7 17h2v1h-2zM10 7h1v1h-1zM8 26h2v1h-2zM31 20h1v1h-1zM3 24h3v1h-3zM15 8h2v1h-2zM3 15h3v1h-3zM0 1h2v1h-2zM2 3h2v1h-2zM4 15h1v1h-1zM5 16h1v1h-1zM20 5h3v1h-3zM4 11h2v1h-2zM41 12h3v1h-3zM23 8h2v1h-2zM21 13h2v1h-2zM8 17h1v1h-1zM24 25h1v1h-1zM36 5h1v1h-1zM23 14h1v1h-1zM40 25h3v1h-3zM39 13h1v1h-1zM23 20h1v1h-1zM20 13h3v1h-3zM29 0h3v1h-3zM13 17h2v1h-2zM37 2h2v1h-2zM14 13h3v1h-3zM1 10h2v1h-2zM35 25h2v1h-2zM7 14h2v1h-2z" fill="#b2182b"/></pattern></defs>
<defs><pattern id="pR2" width="39" height="33" patternUnits="userSpaceOnUse"><path d="M19 6h2v1h-2zM30 9h3v1h-3zM4 1h1v1h-1zM35 18h3v1h-3zM14 23h1v1h-1zM11 6h2v1h-2zM13 1h2v1h-2zM17 12h2v1h-2zM19 18h2v1h-2zM5 21h2v1h-2zM32 15h3v1h-3zM15 30h2v1h-2zM5 19h2v1h-2zM18 19h1v1h-1zM26 27h2v1h-2zM27 28h2v1h-2zM14 19h2v1h-2zM2 5h2v1h-2zM29 17h1v1h-1zM21 9h3v1h-3zM4 26h2v1h-2zM28 17h2v1h-2zM22 27h2v1h-2zM35 12h2v1h-2zM6 3h2v1h-2zM17 15h2v1h-2zM21 11h1v1h-1zM29 1h2v1h-2zM22 5h1v1h-1zM20 1h2v1h-2zM18 20h2v1h-2zM26 4h2v1h-2zM12 28h2v1h-2zM8 16h2v1h-2zM38 10h3v1h-3zM36 0h2v1h-2zM2 29h2v1h-2zM23 23h2v1h-2zM36 6h2v1h-2zM13 27h3v1h-3zM7 3h2v1h-2zM3 10h1v1h-1zM38 2h2v1h-2zM37 15h3v1h-3zM2 7h2v1h-2zM26 12h2v1h-2zM12 15h3v1h-3zM26 31h3v1h-3zM14 26h1v1h-1zM15 27h3v1h-3zM31 12h2v1h-2zM2 16h1v1h-1zM15 13h2v1h-2zM26 16h2v1h-2zM20 3h2v1h-2zM36 7h2v1h-2zM2 31h3v1h-3zM5 27h3v1h-3zM36 10h2v1h-2zM18 30h2v1h-2zM26 13h2v1h-2zM21 25h2v1h-2zM4 17h3v1h-3zM2 25h2v1h-2zM17 3h2v1h-2zM29 30h2v1h-2zM24 13h3v1h-3zM13 10h1v1h-1zM16 7h1v1h-1zM24 14h3v1h-3zM12 10h1v1h-1zM35 30h2v1h-2zM1 5h3v1h-3zM38 7h1v1h-1zM35 16h3v1h-3zM2 23h2v1h-2zM33 0h1v1h-1zM22 4h2v1h-2zM34 29h1v1h-1zM13 19h3v1h-3zM14 31h3v1h-3zM6 4h3v1h-3zM23 32h1v1h-1zM26 28h3v1h-3zM12 19h1v1h-1zM27 7h3v1h-3zM23 10h2v1h-2zM9 20h2v1h-2zM21 16h3v1h-3zM10 0h1v1h-1zM7 7h2v1h-2zM38 30h3v1h-3zM33 15h1v1h-1zM18 22h3v1h-3zM11 0h2v1h-2zM20 29h1v1h-1z" fill="#d6604d"/></pattern></defs>
<defs><pattern id="pB" width="35" height="31" patternUnits="userSpaceOnUse"><path d="M22 25h2v1h-2zM29 24h1v1h-1zM3 28h2v1h-2zM7 11h2v1h-2zM15 12h3v1h-3zM15 0h1v1h-1zM26 8h2v1h-2zM24 5h2v1h-2zM8 19h1v1h-1zM8 4h3v1h-3zM0 6h1v1h-1zM10 27h2v1h-2zM18 10h2v1h-2zM34 28h2v1h-2zM11 30h2v1h-2zM24 9h2v1h-2zM23 13h1v1h-1zM9 8h2v1h-2zM21 9h1v1h-1zM21 2h1v1h-1zM22 26h2v1h-2zM30 22h2v1h-2zM11 15h2v1h-2zM11 1h3v1h-3zM1 30h2v1h-2zM25 0h2v1h-2zM23 12h3v1h-3zM28 1h1v1h-1zM12 3h2v1h-2zM29 11h2v1h-2zM33 8h2v1h-2zM6 18h3v1h-3zM18 1h2v1h-2zM5 6h3v1h-3zM32 19h2v1h-2zM9 10h2v1h-2zM34 2h2v1h-2zM20 9h2v1h-2zM5 20h2v1h-2zM19 15h2v1h-2zM3 2h2v1h-2zM2 7h3v1h-3zM16 14h2v1h-2zM9 1h3v1h-3zM31 10h1v1h-1zM8 23h2v1h-2zM26 3h2v1h-2zM27 11h2v1h-2zM3 27h2v1h-2zM18 4h3v1h-3zM10 16h3v1h-3zM31 22h3v1h-3zM30 8h2v1h-2zM30 12h2v1h-2zM7 12h2v1h-2zM31 27h2v1h-2zM11 2h2v1h-2zM17 16h3v1h-3zM4 25h2v1h-2zM2 24h2v1h-2zM23 17h2v1h-2zM31 8h2v1h-2zM21 20h2v1h-2zM0 15h2v1h-2zM20 21h2v1h-2zM29 9h2v1h-2zM22 8h2v1h-2zM26 11h2v1h-2zM28 11h2v1h-2zM33 4h2v1h-2zM12 26h2v1h-2zM30 9h2v1h-2zM26 5h1v1h-1zM19 19h3v1h-3zM1 6h2v1h-2zM28 19h2v1h-2zM14 24h2v1h-2zM2 15h2v1h-2zM10 1h2v1h-2zM7 10h2v1h-2zM30 6h2v1h-2zM26 14h1v1h-1zM24 21h2v1h-2zM13 7h1v1h-1zM0 11h2v1h-2zM17 27h3v1h-3zM7 22h3v1h-3zM2 17h2v1h-2zM6 9h2v1h-2zM18 30h2v1h-2zM8 13h2v1h-2zM34 11h3v1h-3zM9 5h3v1h-3zM30 30h3v1h-3zM8 19h2v1h-2zM22 26h1v1h-1zM24 3h1v1h-1zM34 4h2v1h-2zM24 13h2v1h-2zM14 15h3v1h-3zM30 22h2v1h-2zM24 30h3v1h-3zM16 23h2v1h-2zM31 8h2v1h-2zM1 10h3v1h-3zM31 29h2v1h-2zM9 15h2v1h-2zM7 21h1v1h-1zM15 9h3v1h-3zM8 26h1v1h-1zM0 15h3v1h-3zM15 29h2v1h-2zM2 7h3v1h-3zM17 27h3v1h-3zM18 9h2v1h-2zM30 16h3v1h-3zM1 24h1v1h-1zM19 9h2v1h-2zM18 23h2v1h-2z" fill="#2f6db3"/></pattern></defs>
<defs><pattern id="pB2" width="47" height="23" patternUnits="userSpaceOnUse"><path d="M31 8h1v1h-1zM0 4h1v1h-1zM23 10h3v1h-3zM17 15h1v1h-1zM46 13h2v1h-2zM12 18h1v1h-1zM42 19h2v1h-2zM27 10h1v1h-1zM23 13h1v1h-1zM28 22h2v1h-2zM12 22h1v1h-1zM6 1h2v1h-2zM41 11h2v1h-2zM12 16h3v1h-3zM40 11h1v1h-1zM38 13h2v1h-2zM22 18h2v1h-2zM5 16h1v1h-1zM7 19h2v1h-2zM19 6h2v1h-2zM30 7h3v1h-3zM38 6h2v1h-2zM12 5h1v1h-1zM41 10h1v1h-1zM23 12h2v1h-2zM18 4h3v1h-3zM3 5h3v1h-3zM38 12h3v1h-3zM28 7h1v1h-1zM38 21h1v1h-1zM28 12h3v1h-3zM33 13h1v1h-1zM19 22h3v1h-3zM5 6h3v1h-3zM28 15h2v1h-2zM1 0h2v1h-2zM16 18h1v1h-1zM12 8h2v1h-2zM21 16h3v1h-3zM26 13h2v1h-2zM17 19h3v1h-3zM42 15h3v1h-3zM9 12h3v1h-3zM19 20h3v1h-3zM20 11h3v1h-3zM39 12h2v1h-2zM20 20h2v1h-2zM31 5h3v1h-3zM35 0h2v1h-2zM3 5h3v1h-3zM39 18h1v1h-1zM43 22h1v1h-1zM23 15h2v1h-2zM12 4h1v1h-1zM39 0h2v1h-2zM33 15h3v1h-3zM30 7h1v1h-1zM23 11h1v1h-1zM43 20h2v1h-2zM38 10h2v1h-2zM2 20h2v1h-2zM45 3h1v1h-1zM41 15h1v1h-1zM46 2h3v1h-3zM44 17h1v1h-1zM39 2h2v1h-2zM39 20h2v1h-2zM41 14h2v1h-2zM44 0h3v1h-3zM12 14h2v1h-2zM28 14h3v1h-3zM30 22h2v1h-2zM18 11h1v1h-1zM23 1h2v1h-2zM32 8h1v1h-1zM17 15h2v1h-2zM28 11h3v1h-3zM45 2h1v1h-1zM38 20h2v1h-2zM34 1h2v1h-2zM21 11h2v1h-2z" fill="#8cb8dc"/></pattern></defs>
<text x="392.0" y="241.2" font-size="13" font-weight="bold" fill="#000">c</text>
<path d="M455.5 245.4h64.4v1.6h-64.4zM455.5 246.6h64.4v2.4h-64.4zM455.5 248.6h64.4v1.9h-64.4zM455.5 250.1h64.4v1.6h-64.4zM455.5 251.3h64.4v1.9h-64.4zM455.5 252.8h64.4v1.4h-64.4zM455.5 253.8h64.4v2.4h-64.4zM455.5 255.8h64.4v1.4h-64.4zM455.5 256.8h64.4v2.4h-64.4zM455.5 258.8h64.4v2.4h-64.4zM455.5 260.8h64.4v1.4h-64.4zM455.5 261.8h64.4v1.6h-64.4zM455.5 263h64.4v1.9h-64.4zM455.5 264.5h64.4v1.4h-64.4zM455.5 265.5h64.4v1.6h-64.4zM455.5 266.7h64.4v2.4h-64.4zM455.5 268.7h64.4v2.4h-64.4zM455.5 270.7h64.4v1.4h-64.4zM455.5 271.7h64.4v2.4h-64.4zM455.5 273.7h64.4v2.4h-64.4zM455.5 275.7h64.4v1.9h-64.4zM455.5 277.2h64.4v1.9h-64.4zM455.5 278.7h64.4v2.4h-64.4zM455.5 280.7h64.4v1.6h-64.4zM455.5 281.9h64.4v1.6h-64.4zM455.5 283.1h64.4v1.6h-64.4zM455.5 284.3h64.4v2.4h-64.4zM455.5 286.3h64.4v1.6h-64.4zM455.5 287.5h64.4v1.4h-64.4zM455.5 288.5h64.4v1.6h-64.4zM455.5 289.7h64.4v2.4h-64.4zM455.5 291.7h64.4v1.4h-64.4zM455.5 292.7h64.4v1.9h-64.4zM455.5 294.2h64.4v1.6h-64.4zM455.5 295.4h64.4v1.4h-64.4zM455.5 296.4h64.4v2.4h-64.4zM455.5 298.4h64.4v1.4h-64.4zM455.5 299.4h64.4v2.3h-64.4zM519.9 301.3h64.1v1.4h-64.1zM519.9 302.3h64.1v2.4h-64.1zM519.9 304.3h64.1v1.9h-64.1zM519.9 305.8h64.1v1.4h-64.1zM519.9 306.8h64.1v1.4h-64.1zM519.9 307.8h64.1v2.4h-64.1zM519.9 309.8h64.1v1.9h-64.1zM519.9 311.3h64.1v1.9h-64.1zM519.9 312.8h64.1v1.9h-64.1zM519.9 314.3h64.1v2.4h-64.1zM519.9 316.3h64.1v1.9h-64.1zM519.9 317.8h64.1v1.4h-64.1zM455.5 318.8h64.4v1.6h-64.4zM519.9 318.8h64.1v1.6h-64.1zM519.9 320h64.1v2.4h-64.1zM519.9 322h64.1v1.4h-64.1zM519.9 323h64.1v2.4h-64.1zM519.9 325h64.1v1.6h-64.1zM519.9 326.2h64.1v2.4h-64.1zM519.9 328.2h64.1v1.9h-64.1zM519.9 329.7h64.1v1.6h-64.1zM519.9 330.9h64.1v1.4h-64.1zM519.9 331.9h64.1v1.6h-64.1zM519.9 334.3h64.1v1.6h-64.1zM519.9 335.5h64.1v1.4h-64.1zM519.9 336.5h64.1v1.4h-64.1zM519.9 337.5h64.1v1.4h-64.1zM519.9 338.5h64.1v1.4h-64.1zM519.9 339.5h64.1v1.6h-64.1zM519.9 340.7h64.1v1.9h-64.1zM519.9 342.2h64.1v1.6h-64.1zM519.9 344.6h64.1v1.6h-64.1zM519.9 345.8h64.1v1.9h-64.1zM519.9 347.3h64.1v2.4h-64.1zM519.9 349.3h64.1v1.6h-64.1zM519.9 350.5h64.1v1.4h-64.1zM519.9 351.5h64.1v1.6h-64.1zM519.9 352.7h64.1v1.9h-64.1zM519.9 354.2h64.1v1.5h-64.1zM584 355.3h63.7v1.9h-63.7zM584 356.8h63.7v1.4h-63.7zM584 357.8h63.7v2.4h-63.7zM584 359.8h63.7v1.4h-63.7zM584 360.8h63.7v1.9h-63.7zM584 362.3h63.7v2.4h-63.7zM584 364.3h63.7v1.6h-63.7zM584 365.5h63.7v1.4h-63.7zM584 366.5h63.7v1.9h-63.7zM584 368h63.7v2.4h-63.7zM584 370h63.7v1.6h-63.7zM584 371.2h63.7v1.6h-63.7zM584 372.4h63.7v1.4h-63.7zM584 373.4h63.7v1.6h-63.7zM584 374.6h63.7v1.4h-63.7zM584 375.6h63.7v1.4h-63.7zM584 376.6h63.7v2.4h-63.7zM584 378.6h63.7v1.9h-63.7zM584 380.1h63.7v2.4h-63.7zM584 382.1h63.7v1.9h-63.7zM584 383.6h63.7v1.9h-63.7zM584 385.1h63.7v1.9h-63.7zM584 386.6h63.7v1.6h-63.7zM584 387.8h63.7v1.4h-63.7zM584 388.8h63.7v2.4h-63.7zM584 390.8h63.7v1.9h-63.7zM584 392.3h63.7v1.6h-63.7zM584 393.5h63.7v1.6h-63.7zM584 394.7h63.7v2.4h-63.7zM584 396.7h63.7v1.9h-63.7zM584 398.2h63.7v1.6h-63.7zM584 399.4h63.7v1.6h-63.7zM584 400.6h63.7v1.6h-63.7zM584 403.8h63.7v2.4h-63.7zM584 405.8h63.7v1.4h-63.7zM584 406.8h63.7v1.9h-63.7zM584 408.3h63.7v2.4h-63.7zM584 410.3h63.7v2.4h-63.7zM584 412.3h63.7v0.9h-63.7z" fill="#b61f2b"/>
<path d="M519.9 245.4h64.1v1.6h-64.1zM584 246.6h63.7v2.4h-63.7zM584 250.1h63.7v1.6h-63.7zM519.9 253.8h64.1v2.4h-64.1zM584 258.8h63.7v2.4h-63.7zM519.9 263h64.1v1.9h-64.1zM584 264.5h63.7v1.4h-63.7zM584 268.7h63.7v2.4h-63.7zM519.9 270.7h64.1v1.4h-64.1zM584 277.2h63.7v1.9h-63.7zM519.9 280.7h64.1v1.6h-64.1zM519.9 283.1h64.1v1.6h-64.1zM519.9 286.3h64.1v1.6h-64.1zM584 286.3h63.7v1.6h-63.7zM519.9 289.7h64.1v2.4h-64.1zM584 295.4h63.7v1.4h-63.7zM584 296.4h63.7v2.4h-63.7zM519.9 298.4h64.1v1.4h-64.1zM584 302.3h63.7v2.4h-63.7zM455.5 309.8h64.4v1.9h-64.4zM455.5 326.2h64.4v2.4h-64.4zM455.5 328.2h64.4v1.9h-64.4zM455.5 329.7h64.4v1.6h-64.4zM455.5 333.1h64.4v1.6h-64.4zM455.5 334.3h64.4v1.6h-64.4zM455.5 340.7h64.4v1.9h-64.4zM584 343.4h63.7v1.6h-63.7zM455.5 347.3h64.4v2.4h-64.4zM519.9 356.8h64.1v1.4h-64.1zM455.5 360.8h64.4v1.9h-64.4zM455.5 364.3h64.4v1.6h-64.4zM455.5 366.5h64.4v1.9h-64.4zM455.5 371.2h64.4v1.6h-64.4zM455.5 376.6h64.4v2.4h-64.4zM455.5 382.1h64.4v1.9h-64.4zM455.5 383.6h64.4v1.9h-64.4zM519.9 383.6h64.1v1.9h-64.1zM519.9 388.8h64.1v2.4h-64.1zM519.9 390.8h64.1v1.9h-64.1zM455.5 398.2h64.4v1.6h-64.4zM455.5 399.4h64.4v1.6h-64.4zM519.9 399.4h64.1v1.6h-64.1zM519.9 400.6h64.1v1.6h-64.1zM455.5 403.8h64.4v2.4h-64.4zM455.5 406.8h64.4v1.9h-64.4zM519.9 406.8h64.1v1.9h-64.1zM455.5 410.3h64.4v2.4h-64.4z" fill="#9dc5e2"/>
<path d="M584 245.4h63.7v1.6h-63.7zM519.9 246.6h64.1v2.4h-64.1zM584 248.6h63.7v1.9h-63.7zM584 253.8h63.7v2.4h-63.7zM519.9 266.7h64.1v2.4h-64.1zM584 273.7h63.7v2.4h-63.7zM584 288.5h63.7v1.6h-63.7zM519.9 292.7h64.1v1.9h-64.1zM584 299.4h63.7v2.3h-63.7zM455.5 323h64.4v2.4h-64.4zM584 335.5h63.7v1.4h-63.7zM455.5 336.5h64.4v1.4h-64.4zM455.5 357.8h64.4v2.4h-64.4zM455.5 359.8h64.4v1.4h-64.4zM519.9 360.8h64.1v1.9h-64.1zM519.9 368h64.1v2.4h-64.1zM455.5 372.4h64.4v1.4h-64.4zM455.5 374.6h64.4v1.4h-64.4zM519.9 374.6h64.1v1.4h-64.1zM455.5 375.6h64.4v1.4h-64.4zM455.5 392.3h64.4v1.6h-64.4zM455.5 400.6h64.4v1.6h-64.4zM519.9 401.8h64.1v2.4h-64.1z" fill="#f7f7f7"/>
<path d="M519.9 248.6h64.1v1.9h-64.1zM519.9 252.8h64.1v1.4h-64.1zM584 261.8h63.7v1.6h-63.7zM584 263h63.7v1.9h-63.7zM584 270.7h63.7v1.4h-63.7zM519.9 271.7h64.1v2.4h-64.1zM519.9 277.2h64.1v1.9h-64.1zM584 280.7h63.7v1.6h-63.7zM519.9 281.9h64.1v1.6h-64.1zM519.9 284.3h64.1v2.4h-64.1zM584 287.5h63.7v1.4h-63.7zM519.9 359.8h64.1v1.4h-64.1zM519.9 372.4h64.1v1.4h-64.1zM455.5 373.4h64.4v1.6h-64.4zM519.9 382.1h64.1v1.9h-64.1zM519.9 385.1h64.1v1.9h-64.1zM455.5 394.7h64.4v2.4h-64.4zM455.5 396.7h64.4v1.9h-64.4zM455.5 405.8h64.4v1.4h-64.4zM455.5 412.3h64.4v0.9h-64.4z" fill="#e4eef4"/>
<path d="M519.9 250.1h64.1v1.6h-64.1zM584 251.3h63.7v1.9h-63.7zM519.9 255.8h64.1v1.4h-64.1zM584 260.8h63.7v1.4h-63.7zM519.9 261.8h64.1v1.6h-64.1zM519.9 264.5h64.1v1.4h-64.1zM584 266.7h63.7v2.4h-63.7zM519.9 275.7h64.1v1.9h-64.1zM584 284.3h63.7v2.4h-63.7zM519.9 287.5h64.1v1.4h-64.1zM519.9 294.2h64.1v1.6h-64.1zM584 294.2h63.7v1.6h-63.7zM519.9 296.4h64.1v2.4h-64.1zM584 298.4h63.7v1.4h-63.7zM519.9 299.4h64.1v2.3h-64.1zM455.5 307.8h64.4v2.4h-64.4zM455.5 338.5h64.4v1.4h-64.4zM455.5 355.3h64.4v1.9h-64.4zM455.5 356.8h64.4v1.4h-64.4zM519.9 364.3h64.1v1.6h-64.1zM519.9 370h64.1v1.6h-64.1zM519.9 373.4h64.1v1.6h-64.1zM519.9 375.6h64.1v1.4h-64.1zM455.5 378.6h64.4v1.9h-64.4zM519.9 380.1h64.1v2.4h-64.1zM455.5 386.6h64.4v1.6h-64.4zM455.5 387.8h64.4v1.4h-64.4zM519.9 387.8h64.1v1.4h-64.1zM455.5 390.8h64.4v1.9h-64.4zM519.9 396.7h64.1v1.9h-64.1zM519.9 398.2h64.1v1.6h-64.1zM519.9 403.8h64.1v2.4h-64.1z" fill="#cee2f0"/>
<path d="M519.9 251.3h64.1v1.9h-64.1zM584 252.8h63.7v1.4h-63.7zM584 256.8h63.7v2.4h-63.7zM584 265.5h63.7v1.6h-63.7zM584 278.7h63.7v2.4h-63.7zM584 283.1h63.7v1.6h-63.7zM519.9 288.5h64.1v1.6h-64.1zM519.9 291.7h64.1v1.4h-64.1zM584 292.7h63.7v1.9h-63.7zM455.5 302.3h64.4v2.4h-64.4zM584 306.8h63.7v1.4h-63.7zM584 312.8h63.7v1.9h-63.7zM455.5 317.8h64.4v1.4h-64.4zM584 317.8h63.7v1.4h-63.7zM584 320h63.7v2.4h-63.7zM584 323h63.7v2.4h-63.7zM455.5 330.9h64.4v1.4h-64.4zM584 330.9h63.7v1.4h-63.7zM584 331.9h63.7v1.6h-63.7zM584 338.5h63.7v1.4h-63.7zM455.5 339.5h64.4v1.6h-64.4zM584 345.8h63.7v1.9h-63.7zM584 347.3h63.7v2.4h-63.7zM584 354.2h63.7v1.5h-63.7zM519.9 357.8h64.1v2.4h-64.1zM455.5 362.3h64.4v2.4h-64.4zM519.9 366.5h64.1v1.9h-64.1zM519.9 371.2h64.1v1.6h-64.1zM519.9 376.6h64.1v2.4h-64.1zM455.5 388.8h64.4v2.4h-64.4zM519.9 392.3h64.1v1.6h-64.1zM519.9 393.5h64.1v1.6h-64.1zM519.9 408.3h64.1v2.4h-64.1zM519.9 410.3h64.1v2.4h-64.1zM519.9 412.3h64.1v0.9h-64.1z" fill="#6ea2d2"/>
<path d="M584 255.8h63.7v1.4h-63.7zM519.9 258.8h64.1v2.4h-64.1zM519.9 260.8h64.1v1.4h-64.1zM519.9 268.7h64.1v2.4h-64.1zM519.9 273.7h64.1v2.4h-64.1zM584 275.7h63.7v1.9h-63.7zM584 281.9h63.7v1.6h-63.7zM584 289.7h63.7v2.4h-63.7zM519.9 295.4h64.1v1.4h-64.1zM519.9 355.3h64.1v1.9h-64.1zM519.9 365.5h64.1v1.4h-64.1zM455.5 368h64.4v2.4h-64.4zM455.5 370h64.4v1.6h-64.4zM519.9 378.6h64.1v1.9h-64.1zM455.5 380.1h64.4v2.4h-64.4zM455.5 385.1h64.4v1.9h-64.4zM519.9 386.6h64.1v1.6h-64.1zM455.5 393.5h64.4v1.6h-64.4zM519.9 394.7h64.1v2.4h-64.1zM519.9 405.8h64.1v1.4h-64.1z" fill="#f8e4db"/>
<path d="M519.9 256.8h64.1v2.4h-64.1zM519.9 265.5h64.1v1.6h-64.1zM584 271.7h63.7v2.4h-63.7zM455.5 337.5h64.4v1.4h-64.4zM455.5 343.4h64.4v1.6h-64.4zM455.5 351.5h64.4v1.6h-64.4zM519.9 362.3h64.1v2.4h-64.1zM455.5 408.3h64.4v2.4h-64.4z" fill="#c03132"/>
<path d="M519.9 278.7h64.1v2.4h-64.1zM584 301.3h63.7v1.4h-63.7zM455.5 304.3h64.4v1.9h-64.4zM584 305.8h63.7v1.4h-63.7zM584 307.8h63.7v2.4h-63.7zM584 311.3h63.7v1.9h-63.7zM584 316.3h63.7v1.9h-63.7zM455.5 322h64.4v1.4h-64.4zM584 322h63.7v1.4h-63.7zM455.5 325h64.4v1.6h-64.4zM584 326.2h63.7v2.4h-63.7zM584 329.7h63.7v1.6h-63.7zM584 333.1h63.7v1.6h-63.7zM584 334.3h63.7v1.6h-63.7zM455.5 335.5h64.4v1.4h-64.4zM584 337.5h63.7v1.4h-63.7zM584 339.5h63.7v1.6h-63.7zM584 342.2h63.7v1.6h-63.7zM584 350.5h63.7v1.4h-63.7zM455.5 352.7h64.4v1.9h-64.4zM455.5 365.5h64.4v1.4h-64.4z" fill="#467fc0"/>
<path d="M584 291.7h63.7v1.4h-63.7zM455.5 401.8h64.4v2.4h-64.4z" fill="#e98a6d"/>
<path d="M455.5 301.3h64.4v1.4h-64.4zM455.5 305.8h64.4v1.4h-64.4zM455.5 306.8h64.4v1.4h-64.4zM584 309.8h63.7v1.9h-63.7zM455.5 311.3h64.4v1.9h-64.4zM455.5 312.8h64.4v1.9h-64.4zM455.5 316.3h64.4v1.9h-64.4zM455.5 320h64.4v2.4h-64.4zM584 328.2h63.7v1.9h-63.7zM455.5 331.9h64.4v1.6h-64.4zM455.5 342.2h64.4v1.6h-64.4zM455.5 344.6h64.4v1.6h-64.4zM455.5 345.8h64.4v1.9h-64.4zM455.5 354.2h64.4v1.5h-64.4z" fill="#2f66ae"/>
<path d="M584 304.3h63.7v1.9h-63.7zM455.5 314.3h64.4v2.4h-64.4zM584 314.3h63.7v2.4h-63.7zM584 325h63.7v1.6h-63.7zM584 336.5h63.7v1.4h-63.7zM584 344.6h63.7v1.6h-63.7zM455.5 349.3h64.4v1.6h-64.4zM584 351.5h63.7v1.6h-63.7zM584 352.7h63.7v1.9h-63.7z" fill="#3a72b7"/>
<path d="M584 318.8h63.7v1.6h-63.7zM584 340.7h63.7v1.9h-63.7zM584 349.3h63.7v1.6h-63.7z" fill="#b6d4e9"/>
<path d="M519.9 333.1h64.1v1.6h-64.1z" fill="#d45543"/>
<path d="M519.9 343.4h64.1v1.6h-64.1zM584 401.8h63.7v2.4h-63.7z" fill="#ca4239"/>
<path d="M455.5 350.5h64.4v1.4h-64.4z" fill="#de7058"/>
<defs><pattern id="cR" width="41" height="29" patternUnits="userSpaceOnUse"><path d="M35 27h1v1h-1zM28 16h1v1h-1zM12 5h2v1h-2zM30 20h2v1h-2zM11 3h2v1h-2zM19 4h1v1h-1zM34 25h1v1h-1zM40 1h2v1h-2zM25 14h2v1h-2zM39 20h2v1h-2zM39 0h1v1h-1zM4 1h2v1h-2zM12 28h1v1h-1zM38 0h1v1h-1zM20 14h1v1h-1zM12 16h2v1h-2zM40 9h1v1h-1zM0 21h1v1h-1zM29 20h1v1h-1zM26 17h1v1h-1zM16 10h1v1h-1zM32 9h1v1h-1zM4 18h1v1h-1zM25 3h1v1h-1zM24 2h1v1h-1zM0 6h1v1h-1zM3 15h1v1h-1zM25 13h1v1h-1zM36 20h1v1h-1zM17 10h1v1h-1zM19 10h1v1h-1zM26 24h1v1h-1zM8 7h1v1h-1zM6 0h2v1h-2zM29 25h1v1h-1zM11 21h1v1h-1zM12 14h2v1h-2zM12 23h2v1h-2zM26 20h1v1h-1zM7 12h1v1h-1zM13 0h1v1h-1zM37 9h1v1h-1zM13 5h1v1h-1zM38 20h1v1h-1zM6 1h2v1h-2zM13 14h1v1h-1zM0 24h1v1h-1zM21 26h2v1h-2zM24 2h1v1h-1zM5 6h1v1h-1zM40 7h2v1h-2zM38 11h1v1h-1zM39 14h1v1h-1zM37 15h1v1h-1zM8 27h2v1h-2zM11 20h1v1h-1zM19 7h1v1h-1zM15 23h2v1h-2zM10 23h1v1h-1zM35 6h2v1h-2zM24 28h2v1h-2zM38 2h1v1h-1zM3 3h1v1h-1zM2 16h1v1h-1zM15 23h1v1h-1zM25 8h2v1h-2zM38 15h1v1h-1zM33 5h1v1h-1zM4 4h2v1h-2zM30 17h1v1h-1zM39 19h2v1h-2zM17 6h1v1h-1zM1 2h1v1h-1zM26 14h1v1h-1zM3 1h1v1h-1zM18 11h1v1h-1zM36 4h2v1h-2zM23 4h1v1h-1zM21 21h1v1h-1zM33 18h2v1h-2zM37 1h1v1h-1zM30 11h1v1h-1zM19 1h2v1h-2zM38 20h1v1h-1zM30 2h1v1h-1zM19 10h2v1h-2zM4 2h1v1h-1zM34 11h1v1h-1zM2 28h2v1h-2zM8 25h2v1h-2zM22 2h1v1h-1zM30 28h2v1h-2zM26 25h1v1h-1zM31 18h1v1h-1zM39 21h1v1h-1zM24 18h1v1h-1zM38 2h1v1h-1zM5 20h1v1h-1zM16 28h1v1h-1zM21 12h1v1h-1zM37 14h2v1h-2zM29 26h1v1h-1zM5 16h2v1h-2zM1 9h2v1h-2zM5 15h2v1h-2zM14 22h1v1h-1zM31 24h1v1h-1zM31 8h2v1h-2zM23 9h1v1h-1zM39 6h1v1h-1zM10 24h2v1h-2zM28 15h1v1h-1zM20 12h1v1h-1zM16 6h2v1h-2zM27 25h2v1h-2zM13 12h1v1h-1zM37 10h1v1h-1zM8 4h1v1h-1z" fill="#b61f2b"/></pattern></defs>
<defs><pattern id="cR2" width="37" height="31" patternUnits="userSpaceOnUse"><path d="M17 21h2v1h-2zM9 12h2v1h-2zM23 15h1v1h-1zM29 22h2v1h-2zM35 0h1v1h-1zM28 11h1v1h-1zM21 28h1v1h-1zM3 18h1v1h-1zM4 16h1v1h-1zM25 25h2v1h-2zM1 29h1v1h-1zM32 7h1v1h-1zM27 30h1v1h-1zM7 21h2v1h-2zM8 17h2v1h-2zM35 5h2v1h-2zM35 5h1v1h-1zM25 19h1v1h-1zM30 15h2v1h-2zM34 0h2v1h-2zM12 25h1v1h-1zM22 30h2v1h-2zM24 21h2v1h-2zM7 8h2v1h-2zM21 11h1v1h-1zM32 18h2v1h-2zM1 12h1v1h-1zM2 16h2v1h-2zM14 21h1v1h-1zM2 12h2v1h-2zM6 24h1v1h-1zM11 2h1v1h-1zM2 13h2v1h-2zM31 11h2v1h-2zM32 14h1v1h-1zM13 10h2v1h-2zM29 15h2v1h-2zM15 30h2v1h-2zM29 29h1v1h-1zM11 6h2v1h-2zM0 30h1v1h-1zM21 5h2v1h-2zM0 16h1v1h-1zM15 19h1v1h-1zM23 17h1v1h-1zM1 29h1v1h-1zM17 20h2v1h-2zM14 25h1v1h-1zM31 20h2v1h-2zM16 21h2v1h-2zM10 14h2v1h-2zM2 8h2v1h-2zM32 20h2v1h-2zM13 23h2v1h-2zM33 8h2v1h-2zM0 22h1v1h-1zM8 17h1v1h-1z" fill="#e06a58"/></pattern></defs>
<defs><pattern id="cW" width="43" height="27" patternUnits="userSpaceOnUse"><path d="M18 21h2v1h-2zM11 20h3v1h-3zM42 4h1v1h-1zM41 23h1v1h-1zM8 2h1v1h-1zM13 23h3v1h-3zM1 13h2v1h-2zM38 0h1v1h-1zM9 2h2v1h-2zM28 23h2v1h-2zM8 25h2v1h-2zM22 7h2v1h-2zM35 18h2v1h-2zM42 11h2v1h-2zM40 10h2v1h-2zM7 11h3v1h-3zM40 8h3v1h-3zM28 17h3v1h-3zM8 14h3v1h-3zM28 17h3v1h-3zM18 6h1v1h-1zM33 11h1v1h-1zM23 14h2v1h-2zM38 8h2v1h-2zM8 18h2v1h-2zM35 7h2v1h-2zM15 6h3v1h-3zM23 4h3v1h-3zM27 20h1v1h-1zM29 12h3v1h-3zM27 1h1v1h-1zM9 15h1v1h-1zM28 20h3v1h-3zM10 23h2v1h-2zM16 24h2v1h-2zM12 22h2v1h-2zM23 16h3v1h-3zM42 4h3v1h-3zM38 7h3v1h-3zM31 6h3v1h-3zM2 18h3v1h-3zM37 1h3v1h-3zM37 23h2v1h-2zM21 5h3v1h-3zM12 5h2v1h-2zM35 3h3v1h-3zM10 2h1v1h-1zM41 19h2v1h-2zM34 22h3v1h-3zM28 26h1v1h-1zM41 2h2v1h-2zM0 4h3v1h-3zM7 13h2v1h-2zM17 18h2v1h-2zM4 15h3v1h-3zM23 26h3v1h-3zM0 10h1v1h-1zM9 15h2v1h-2zM34 16h3v1h-3zM14 21h2v1h-2zM18 25h1v1h-1zM24 16h1v1h-1zM10 23h3v1h-3zM16 13h1v1h-1zM13 8h3v1h-3zM37 7h2v1h-2zM15 18h2v1h-2zM27 6h2v1h-2zM22 13h3v1h-3z" fill="#ffffff"/></pattern></defs>
<defs><pattern id="cB" width="39" height="33" patternUnits="userSpaceOnUse"><path d="M33 15h1v1h-1zM16 18h2v1h-2zM28 19h1v1h-1zM25 25h2v1h-2zM16 14h1v1h-1zM22 16h2v1h-2zM33 9h2v1h-2zM35 17h1v1h-1zM0 4h1v1h-1zM38 21h1v1h-1zM5 17h1v1h-1zM24 25h1v1h-1zM38 6h2v1h-2zM37 23h1v1h-1zM6 31h1v1h-1zM17 28h1v1h-1zM31 18h1v1h-1zM6 7h2v1h-2zM17 17h1v1h-1zM1 10h1v1h-1zM7 5h2v1h-2zM30 10h2v1h-2zM29 19h2v1h-2zM29 27h2v1h-2zM38 6h2v1h-2zM30 25h2v1h-2zM28 31h1v1h-1zM36 9h1v1h-1zM17 28h2v1h-2zM25 27h1v1h-1zM22 23h1v1h-1zM16 22h2v1h-2zM33 12h2v1h-2zM35 30h1v1h-1zM6 24h2v1h-2zM2 12h1v1h-1zM1 0h2v1h-2zM33 22h2v1h-2zM7 2h2v1h-2zM12 0h1v1h-1zM16 32h1v1h-1zM11 15h2v1h-2zM38 21h1v1h-1zM23 2h2v1h-2zM32 12h1v1h-1zM31 24h2v1h-2zM24 20h1v1h-1zM2 15h2v1h-2zM30 21h2v1h-2zM16 6h1v1h-1zM12 3h1v1h-1zM13 16h1v1h-1zM28 8h2v1h-2zM3 6h2v1h-2zM23 27h2v1h-2zM8 28h2v1h-2zM5 9h1v1h-1zM9 1h1v1h-1zM22 2h1v1h-1zM29 17h2v1h-2zM20 4h2v1h-2zM3 6h2v1h-2zM27 7h1v1h-1zM10 4h1v1h-1zM19 2h1v1h-1zM24 9h1v1h-1zM28 29h1v1h-1zM33 1h2v1h-2zM5 17h2v1h-2zM18 32h1v1h-1zM35 15h1v1h-1zM22 7h1v1h-1zM25 24h1v1h-1zM18 22h2v1h-2zM1 16h2v1h-2zM18 19h1v1h-1zM33 28h1v1h-1zM4 28h1v1h-1zM36 24h2v1h-2zM16 26h2v1h-2zM1 24h1v1h-1zM15 24h2v1h-2zM14 15h1v1h-1zM16 4h1v1h-1zM5 29h1v1h-1zM1 12h1v1h-1zM27 29h2v1h-2zM4 4h1v1h-1zM23 29h1v1h-1zM24 6h1v1h-1z" fill="#3a70b8"/></pattern></defs>
<rect x="455.5" y="245.4" width="64.4" height="55.9" fill="url(#cW)" opacity="0.45"/>
<rect x="519.9" y="245.4" width="64.1" height="55.9" fill="url(#cR)" opacity="0.55"/>
<rect x="519.9" y="245.4" width="64.1" height="55.9" fill="url(#cR2)" opacity="0.6"/>
<rect x="584" y="245.4" width="63.7" height="55.9" fill="url(#cR)" opacity="0.55"/>
<rect x="584" y="245.4" width="63.7" height="55.9" fill="url(#cR2)" opacity="0.6"/>
<rect x="455.5" y="301.3" width="64.4" height="54" fill="url(#cR)" opacity="0.9"/>
<rect x="455.5" y="301.3" width="64.4" height="54" fill="url(#cR2)" opacity="0.8"/>
<rect x="455.5" y="301.3" width="64.4" height="54" fill="url(#cW)" opacity="0.7"/>
<rect x="519.9" y="301.3" width="64.1" height="54" fill="url(#pW2)" opacity="0.95"/>
<rect x="519.9" y="301.3" width="64.1" height="54" fill="url(#cW)" opacity="0.6"/>
<rect x="519.9" y="301.3" width="64.1" height="54" fill="url(#cB)" opacity="0.3"/>
<rect x="584" y="301.3" width="63.7" height="54" fill="url(#cR)" opacity="0.3"/>
<rect x="584" y="301.3" width="63.7" height="54" fill="url(#cW)" opacity="0.6"/>
<rect x="455.5" y="355.3" width="64.4" height="57.9" fill="url(#cR)" opacity="0.95"/>
<rect x="455.5" y="355.3" width="64.4" height="57.9" fill="url(#cR2)" opacity="0.8"/>
<rect x="455.5" y="355.3" width="64.4" height="57.9" fill="url(#pR)" opacity="0.5"/>
<rect x="519.9" y="355.3" width="64.1" height="57.9" fill="url(#cR)" opacity="0.55"/>
<rect x="519.9" y="355.3" width="64.1" height="57.9" fill="url(#cR2)" opacity="0.6"/>
<rect x="584" y="355.3" width="63.7" height="57.9" fill="url(#cW)" opacity="0.65"/>
<rect x="584" y="355.3" width="63.7" height="57.9" fill="url(#cB)" opacity="0.4"/>
<line x1="455.50" y1="300.80" x2="647.70" y2="300.80" stroke="#fff" stroke-width="1.2"/>
<line x1="519.90" y1="245.40" x2="519.90" y2="413.20" stroke="#555" stroke-width="0.5"/>
<line x1="584.00" y1="245.40" x2="584.00" y2="413.20" stroke="#555" stroke-width="0.5"/>
<line x1="455.50" y1="301.30" x2="647.70" y2="301.30" stroke="#fff" stroke-width="0.8"/>
<line x1="455.50" y1="355.30" x2="647.70" y2="355.30" stroke="#fff" stroke-width="0.6"/>
<text x="487.7" y="241.6" font-size="9.5" text-anchor="middle" textLength="37.0" lengthAdjust="spacingAndGlyphs">Cilia-like</text>
<text x="551.9" y="241.6" font-size="9.5" text-anchor="middle" textLength="37.0" lengthAdjust="spacingAndGlyphs">GPC-like</text>
<text x="615.8" y="241.6" font-size="9.5" text-anchor="middle" textLength="37.0" lengthAdjust="spacingAndGlyphs">NEU-like</text>
<text x="449.0" y="257.0" font-size="9" text-anchor="end" textLength="27.0" lengthAdjust="spacingAndGlyphs" font-style="italic">WDR49</text>
<polyline points="450.3,254.0 452.5,254.0 455,249.0" fill="none" stroke="#777" stroke-width="0.5"/>
<text x="449.0" y="267.6" font-size="9" text-anchor="end" textLength="26.4" lengthAdjust="spacingAndGlyphs" font-style="italic">DNAH7</text>
<polyline points="450.3,264.6 452.5,264.6 455,262.0" fill="none" stroke="#777" stroke-width="0.5"/>
<text x="449.0" y="278.0" font-size="9" text-anchor="end" textLength="27.0" lengthAdjust="spacingAndGlyphs" font-style="italic">DNAH6</text>
<polyline points="450.3,275.0 452.5,275.0 455,280.0" fill="none" stroke="#777" stroke-width="0.5"/>
<text x="449.0" y="289.0" font-size="9" text-anchor="end" textLength="29.0" lengthAdjust="spacingAndGlyphs" font-style="italic">CFAP54</text>
<polyline points="450.3,286.0 452.5,286.0 455,289.0" fill="none" stroke="#777" stroke-width="0.5"/>
<text x="449.0" y="299.6" font-size="9" text-anchor="end" textLength="29.0" lengthAdjust="spacingAndGlyphs" font-style="italic">CFAP43</text>
<polyline points="450.3,296.6 452.5,296.6 455,300.0" fill="none" stroke="#777" stroke-width="0.5"/>
<text x="449.0" y="309.0" font-size="9" text-anchor="end" textLength="26.6" lengthAdjust="spacingAndGlyphs" font-style="italic">MEOX2</text>
<polyline points="450.3,306.0 452.5,306.0 455,303.0" fill="none" stroke="#777" stroke-width="0.5"/>
<text x="449.0" y="317.0" font-size="9" text-anchor="end" textLength="21.4" lengthAdjust="spacingAndGlyphs" font-style="italic">MEIS1</text>
<polyline points="450.3,314.0 452.5,314.0 455,307.0" fill="none" stroke="#777" stroke-width="0.5"/>
<text x="449.0" y="326.0" font-size="9" text-anchor="end" textLength="36.0" lengthAdjust="spacingAndGlyphs" font-style="italic">KLHDC8A</text>
<polyline points="450.3,323.0 452.5,323.0 455,311.0" fill="none" stroke="#777" stroke-width="0.5"/>
<text x="449.0" y="334.3" font-size="9" text-anchor="end" textLength="21.0" lengthAdjust="spacingAndGlyphs" font-style="italic">GRIK1</text>
<polyline points="450.3,331.3 452.5,331.3 455,321.0" fill="none" stroke="#777" stroke-width="0.5"/>
<text x="449.0" y="343.6" font-size="9" text-anchor="end" textLength="28.0" lengthAdjust="spacingAndGlyphs" font-style="italic">ELOVL2</text>
<polyline points="450.3,340.6 452.5,340.6 455,331.0" fill="none" stroke="#777" stroke-width="0.5"/>
<text x="449.0" y="353.0" font-size="9" text-anchor="end" textLength="15.0" lengthAdjust="spacingAndGlyphs" font-style="italic">ALK</text>
<polyline points="450.3,350.0 452.5,350.0 455,353.0" fill="none" stroke="#777" stroke-width="0.5"/>
<text x="449.0" y="362.0" font-size="9" text-anchor="end" textLength="17.4" lengthAdjust="spacingAndGlyphs" font-style="italic">SYT1</text>
<polyline points="450.3,359.0 452.5,359.0 455,358.0" fill="none" stroke="#777" stroke-width="0.5"/>
<text x="449.0" y="371.0" font-size="9" text-anchor="end" textLength="20.0" lengthAdjust="spacingAndGlyphs" font-style="italic">SYN3</text>
<polyline points="450.3,368.0 452.5,368.0 455,362.0" fill="none" stroke="#777" stroke-width="0.5"/>
<text x="449.0" y="380.0" font-size="9" text-anchor="end" textLength="28.4" lengthAdjust="spacingAndGlyphs" font-style="italic">RBFOX1</text>
<polyline points="450.3,377.0 452.5,377.0 455,364.0" fill="none" stroke="#777" stroke-width="0.5"/>
<text x="449.0" y="388.2" font-size="9" text-anchor="end" textLength="26.0" lengthAdjust="spacingAndGlyphs" font-style="italic">NRXN3</text>
<polyline points="450.3,385.2 452.5,385.2 455,366.0" fill="none" stroke="#777" stroke-width="0.5"/>
<text x="449.0" y="396.5" font-size="9" text-anchor="end" textLength="20.0" lengthAdjust="spacingAndGlyphs" font-style="italic">NRG1</text>
<polyline points="450.3,393.5 452.5,393.5 455,368.0" fill="none" stroke="#777" stroke-width="0.5"/>
<text x="449.0" y="405.0" font-size="9" text-anchor="end" textLength="24.0" lengthAdjust="spacingAndGlyphs" font-style="italic">NEGR1</text>
<polyline points="450.3,402.0 452.5,402.0 455,372.0" fill="none" stroke="#777" stroke-width="0.5"/>
<text x="449.0" y="414.0" font-size="9" text-anchor="end" textLength="35.4" lengthAdjust="spacingAndGlyphs" font-style="italic">CNTNAP2</text>
<polyline points="450.3,411.0 452.5,411.0 455,399.0" fill="none" stroke="#777" stroke-width="0.5"/>
<text x="407.5" y="329.3" font-size="10.2" text-anchor="middle" textLength="26.0" lengthAdjust="spacingAndGlyphs" transform="rotate(-90 407.5 329.3)">Genes</text>
<text x="652.0" y="272.5" font-size="9.5" text-anchor="middle" textLength="37.0" lengthAdjust="spacingAndGlyphs" transform="rotate(90 652.0 272.5)">Cilia-like</text>
<text x="652.0" y="328.4" font-size="9.5" text-anchor="middle" textLength="36.5" lengthAdjust="spacingAndGlyphs" transform="rotate(90 652.0 328.4)">GPC-like</text>
<text x="652.0" y="384.5" font-size="9.5" text-anchor="middle" textLength="37.0" lengthAdjust="spacingAndGlyphs" transform="rotate(90 652.0 384.5)">NEU-like</text>
<text x="666" y="295.6" font-size="9.5" text-anchor="middle" transform="rotate(90 666 295.6)" textLength="111" lengthAdjust="spacingAndGlyphs">Centered log<tspan font-size="6.5" dy="2">2</tspan><tspan dy="-2"> expression</tspan></text>
<rect x="666.00" y="361.80" width="5.60" height="5.69" fill="#c8373a"/>
<rect x="666.00" y="367.44" width="5.60" height="5.69" fill="#e8785a"/>
<rect x="666.00" y="373.09" width="5.60" height="5.69" fill="#f8b89a"/>
<rect x="666.00" y="378.73" width="5.60" height="5.69" fill="#ffffff"/>
<rect x="666.00" y="384.38" width="5.60" height="5.69" fill="#fdf0ec"/>
<rect x="666.00" y="390.02" width="5.60" height="5.69" fill="#dceaf4"/>
<rect x="666.00" y="395.67" width="5.60" height="5.69" fill="#a8cce4"/>
<rect x="666.00" y="401.31" width="5.60" height="5.69" fill="#6ea6d4"/>
<rect x="666.00" y="406.96" width="5.60" height="5.69" fill="#3a78be"/>
<rect x="666" y="361.8" width="5.6" height="50.8" fill="none" stroke="#999" stroke-width="0.3"/>
<text x="675.0" y="366.5" font-size="8.5">5</text>
<text x="674.0" y="415.5" font-size="8.5">−5</text>
<text x="0.0" y="450.0" font-size="13" font-weight="bold" fill="#000">d</text>
<rect x="64.30" y="466.00" width="14.47" height="15.02" fill="#e9eff8"/>
<rect x="78.72" y="466.00" width="14.47" height="15.02" fill="#c9d7ee"/>
<rect x="93.15" y="466.00" width="14.47" height="15.02" fill="#d4dff2"/>
<rect x="107.57" y="466.00" width="14.47" height="15.02" fill="#dee7f5"/>
<rect x="121.99" y="466.00" width="14.47" height="15.02" fill="#e9eff8"/>
<rect x="136.41" y="466.00" width="14.47" height="15.02" fill="#d4dff2"/>
<rect x="150.84" y="466.00" width="14.47" height="15.02" fill="#e5ecf7"/>
<rect x="165.26" y="466.00" width="14.47" height="15.02" fill="#d4dff2"/>
<rect x="179.68" y="466.00" width="14.47" height="15.02" fill="#d4dff2"/>
<rect x="194.10" y="466.00" width="14.47" height="15.02" fill="#eef2fa"/>
<rect x="208.53" y="466.00" width="14.47" height="15.02" fill="#fbd0c1"/>
<rect x="222.95" y="466.00" width="14.47" height="15.02" fill="#fdece6"/>
<rect x="237.37" y="466.00" width="14.47" height="15.02" fill="#fef6f3"/>
<rect x="251.80" y="466.00" width="14.47" height="15.02" fill="#fef9f8"/>
<rect x="266.22" y="466.00" width="14.47" height="15.02" fill="#fffbfa"/>
<rect x="280.64" y="466.00" width="14.47" height="15.02" fill="#f4f7fc"/>
<rect x="295.06" y="466.00" width="14.47" height="15.02" fill="#e9eff8"/>
<rect x="309.49" y="466.00" width="14.47" height="15.02" fill="#ffffff"/>
<rect x="323.91" y="466.00" width="14.47" height="15.02" fill="#ffffff"/>
<rect x="338.33" y="466.00" width="14.47" height="15.02" fill="#fffbfa"/>
<rect x="352.75" y="466.00" width="14.47" height="15.02" fill="#e82e26"/>
<rect x="367.18" y="466.00" width="14.47" height="15.02" fill="#e82e26"/>
<rect x="64.30" y="480.98" width="14.47" height="15.02" fill="#fffbfa"/>
<rect x="78.72" y="480.98" width="14.47" height="15.02" fill="#becfeb"/>
<rect x="93.15" y="480.98" width="14.47" height="15.02" fill="#f4f7fc"/>
<rect x="107.57" y="480.98" width="14.47" height="15.02" fill="#c9d7ee"/>
<rect x="121.99" y="480.98" width="14.47" height="15.02" fill="#b3c7e7"/>
<rect x="136.41" y="480.98" width="14.47" height="15.02" fill="#becfeb"/>
<rect x="150.84" y="480.98" width="14.47" height="15.02" fill="#c9d7ee"/>
<rect x="165.26" y="480.98" width="14.47" height="15.02" fill="#d4dff2"/>
<rect x="179.68" y="480.98" width="14.47" height="15.02" fill="#cfdcf0"/>
<rect x="194.10" y="480.98" width="14.47" height="15.02" fill="#c9d7ee"/>
<rect x="208.53" y="480.98" width="14.47" height="15.02" fill="#f7a98f"/>
<rect x="222.95" y="480.98" width="14.47" height="15.02" fill="#fde8e1"/>
<rect x="237.37" y="480.98" width="14.47" height="15.02" fill="#f9bda8"/>
<rect x="251.80" y="480.98" width="14.47" height="15.02" fill="#f7a98f"/>
<rect x="266.22" y="480.98" width="14.47" height="15.02" fill="#f9bda8"/>
<rect x="280.64" y="480.98" width="14.47" height="15.02" fill="#f8b8a1"/>
<rect x="295.06" y="480.98" width="14.47" height="15.02" fill="#f8b097"/>
<rect x="309.49" y="480.98" width="14.47" height="15.02" fill="#f8b097"/>
<rect x="323.91" y="480.98" width="14.47" height="15.02" fill="#f6a287"/>
<rect x="338.33" y="480.98" width="14.47" height="15.02" fill="#e9362b"/>
<rect x="352.75" y="480.98" width="14.47" height="15.02" fill="#f8fafd"/>
<rect x="367.18" y="480.98" width="14.47" height="15.02" fill="#f8fafd"/>
<rect x="64.30" y="495.95" width="14.47" height="15.02" fill="#e9eff8"/>
<rect x="78.72" y="495.95" width="14.47" height="15.02" fill="#b3c7e7"/>
<rect x="93.15" y="495.95" width="14.47" height="15.02" fill="#ffffff"/>
<rect x="107.57" y="495.95" width="14.47" height="15.02" fill="#a8bfe4"/>
<rect x="121.99" y="495.95" width="14.47" height="15.02" fill="#a8bfe4"/>
<rect x="136.41" y="495.95" width="14.47" height="15.02" fill="#a2bae1"/>
<rect x="150.84" y="495.95" width="14.47" height="15.02" fill="#b3c7e7"/>
<rect x="165.26" y="495.95" width="14.47" height="15.02" fill="#b3c7e7"/>
<rect x="179.68" y="495.95" width="14.47" height="15.02" fill="#acc2e5"/>
<rect x="194.10" y="495.95" width="14.47" height="15.02" fill="#becfeb"/>
<rect x="208.53" y="495.95" width="14.47" height="15.02" fill="#fbd0c1"/>
<rect x="222.95" y="495.95" width="14.47" height="15.02" fill="#fde8e1"/>
<rect x="237.37" y="495.95" width="14.47" height="15.02" fill="#fce3da"/>
<rect x="251.80" y="495.95" width="14.47" height="15.02" fill="#f9bda8"/>
<rect x="266.22" y="495.95" width="14.47" height="15.02" fill="#f06446"/>
<rect x="280.64" y="495.95" width="14.47" height="15.02" fill="#f16d4b"/>
<rect x="295.06" y="495.95" width="14.47" height="15.02" fill="#f27653"/>
<rect x="309.49" y="495.95" width="14.47" height="15.02" fill="#e9362b"/>
<rect x="323.91" y="495.95" width="14.47" height="15.02" fill="#f2724e"/>
<rect x="338.33" y="495.95" width="14.47" height="15.02" fill="#f16d4b"/>
<rect x="352.75" y="495.95" width="14.47" height="15.02" fill="#ffffff"/>
<rect x="367.18" y="495.95" width="14.47" height="15.02" fill="#f8fafd"/>
<rect x="64.30" y="510.92" width="14.47" height="15.02" fill="#d8e2f3"/>
<rect x="78.72" y="510.92" width="14.47" height="15.02" fill="#b9cce9"/>
<rect x="93.15" y="510.92" width="14.47" height="15.02" fill="#f4f7fc"/>
<rect x="107.57" y="510.92" width="14.47" height="15.02" fill="#b3c7e7"/>
<rect x="121.99" y="510.92" width="14.47" height="15.02" fill="#c9d7ee"/>
<rect x="136.41" y="510.92" width="14.47" height="15.02" fill="#94b0dc"/>
<rect x="150.84" y="510.92" width="14.47" height="15.02" fill="#e5ecf7"/>
<rect x="165.26" y="510.92" width="14.47" height="15.02" fill="#becfeb"/>
<rect x="179.68" y="510.92" width="14.47" height="15.02" fill="#b3c7e7"/>
<rect x="194.10" y="510.92" width="14.47" height="15.02" fill="#fbd6c9"/>
<rect x="208.53" y="510.92" width="14.47" height="15.02" fill="#e82e26"/>
<rect x="222.95" y="510.92" width="14.47" height="15.02" fill="#e82e26"/>
<rect x="237.37" y="510.92" width="14.47" height="15.02" fill="#e82e26"/>
<rect x="251.80" y="510.92" width="14.47" height="15.02" fill="#ed513b"/>
<rect x="266.22" y="510.92" width="14.47" height="15.02" fill="#fcdace"/>
<rect x="280.64" y="510.92" width="14.47" height="15.02" fill="#fcdace"/>
<rect x="295.06" y="510.92" width="14.47" height="15.02" fill="#fef6f3"/>
<rect x="309.49" y="510.92" width="14.47" height="15.02" fill="#fac7b5"/>
<rect x="323.91" y="510.92" width="14.47" height="15.02" fill="#fac7b5"/>
<rect x="338.33" y="510.92" width="14.47" height="15.02" fill="#f69e82"/>
<rect x="352.75" y="510.92" width="14.47" height="15.02" fill="#fdece6"/>
<rect x="367.18" y="510.92" width="14.47" height="15.02" fill="#fef0eb"/>
<rect x="64.30" y="525.90" width="14.47" height="15.02" fill="#fef0eb"/>
<rect x="78.72" y="525.90" width="14.47" height="15.02" fill="#f8b8a1"/>
<rect x="93.15" y="525.90" width="14.47" height="15.02" fill="#f69e82"/>
<rect x="107.57" y="525.90" width="14.47" height="15.02" fill="#f9bda8"/>
<rect x="121.99" y="525.90" width="14.47" height="15.02" fill="#fac7b5"/>
<rect x="136.41" y="525.90" width="14.47" height="15.02" fill="#e9eff8"/>
<rect x="150.84" y="525.90" width="14.47" height="15.02" fill="#fac7b5"/>
<rect x="165.26" y="525.90" width="14.47" height="15.02" fill="#fac7b5"/>
<rect x="179.68" y="525.90" width="14.47" height="15.02" fill="#fbd6c9"/>
<rect x="194.10" y="525.90" width="14.47" height="15.02" fill="#f06446"/>
<rect x="208.53" y="525.90" width="14.47" height="15.02" fill="#f8b097"/>
<rect x="222.95" y="525.90" width="14.47" height="15.02" fill="#f59375"/>
<rect x="237.37" y="525.90" width="14.47" height="15.02" fill="#f6a287"/>
<rect x="251.80" y="525.90" width="14.47" height="15.02" fill="#fbd0c1"/>
<rect x="266.22" y="525.90" width="14.47" height="15.02" fill="#ffffff"/>
<rect x="280.64" y="525.90" width="14.47" height="15.02" fill="#ffffff"/>
<rect x="295.06" y="525.90" width="14.47" height="15.02" fill="#fffbfa"/>
<rect x="309.49" y="525.90" width="14.47" height="15.02" fill="#dee7f5"/>
<rect x="323.91" y="525.90" width="14.47" height="15.02" fill="#fbd0c1"/>
<rect x="338.33" y="525.90" width="14.47" height="15.02" fill="#fbd0c1"/>
<rect x="352.75" y="525.90" width="14.47" height="15.02" fill="#ffffff"/>
<rect x="367.18" y="525.90" width="14.47" height="15.02" fill="#fbfcfe"/>
<rect x="64.30" y="540.88" width="14.47" height="15.02" fill="#f8b49c"/>
<rect x="78.72" y="540.88" width="14.47" height="15.02" fill="#e82e26"/>
<rect x="93.15" y="540.88" width="14.47" height="15.02" fill="#e82e26"/>
<rect x="107.57" y="540.88" width="14.47" height="15.02" fill="#ee573e"/>
<rect x="121.99" y="540.88" width="14.47" height="15.02" fill="#f7a98f"/>
<rect x="136.41" y="540.88" width="14.47" height="15.02" fill="#f2724e"/>
<rect x="150.84" y="540.88" width="14.47" height="15.02" fill="#f8b49c"/>
<rect x="165.26" y="540.88" width="14.47" height="15.02" fill="#ec4936"/>
<rect x="179.68" y="540.88" width="14.47" height="15.02" fill="#f2724e"/>
<rect x="194.10" y="540.88" width="14.47" height="15.02" fill="#f7a98f"/>
<rect x="208.53" y="540.88" width="14.47" height="15.02" fill="#c9d7ee"/>
<rect x="222.95" y="540.88" width="14.47" height="15.02" fill="#becfeb"/>
<rect x="237.37" y="540.88" width="14.47" height="15.02" fill="#dee7f5"/>
<rect x="251.80" y="540.88" width="14.47" height="15.02" fill="#dee7f5"/>
<rect x="266.22" y="540.88" width="14.47" height="15.02" fill="#ffffff"/>
<rect x="280.64" y="540.88" width="14.47" height="15.02" fill="#fde8e1"/>
<rect x="295.06" y="540.88" width="14.47" height="15.02" fill="#fef0eb"/>
<rect x="309.49" y="540.88" width="14.47" height="15.02" fill="#d8e2f3"/>
<rect x="323.91" y="540.88" width="14.47" height="15.02" fill="#eef2fa"/>
<rect x="338.33" y="540.88" width="14.47" height="15.02" fill="#e9eff8"/>
<rect x="352.75" y="540.88" width="14.47" height="15.02" fill="#c9d7ee"/>
<rect x="367.18" y="540.88" width="14.47" height="15.02" fill="#cfdcf0"/>
<rect x="64.30" y="555.85" width="14.47" height="15.02" fill="#ee573e"/>
<rect x="78.72" y="555.85" width="14.47" height="15.02" fill="#f8b49c"/>
<rect x="93.15" y="555.85" width="14.47" height="15.02" fill="#f9bda8"/>
<rect x="107.57" y="555.85" width="14.47" height="15.02" fill="#fbd0c1"/>
<rect x="121.99" y="555.85" width="14.47" height="15.02" fill="#fdece6"/>
<rect x="136.41" y="555.85" width="14.47" height="15.02" fill="#fac7b5"/>
<rect x="150.84" y="555.85" width="14.47" height="15.02" fill="#fffbfa"/>
<rect x="165.26" y="555.85" width="14.47" height="15.02" fill="#fac7b5"/>
<rect x="179.68" y="555.85" width="14.47" height="15.02" fill="#fbd0c1"/>
<rect x="194.10" y="555.85" width="14.47" height="15.02" fill="#f4f7fc"/>
<rect x="208.53" y="555.85" width="14.47" height="15.02" fill="#d4dff2"/>
<rect x="222.95" y="555.85" width="14.47" height="15.02" fill="#c2d2ec"/>
<rect x="237.37" y="555.85" width="14.47" height="15.02" fill="#dee7f5"/>
<rect x="251.80" y="555.85" width="14.47" height="15.02" fill="#e5ecf7"/>
<rect x="266.22" y="555.85" width="14.47" height="15.02" fill="#ffffff"/>
<rect x="280.64" y="555.85" width="14.47" height="15.02" fill="#fef9f8"/>
<rect x="295.06" y="555.85" width="14.47" height="15.02" fill="#ffffff"/>
<rect x="309.49" y="555.85" width="14.47" height="15.02" fill="#e9eff8"/>
<rect x="323.91" y="555.85" width="14.47" height="15.02" fill="#f4f7fc"/>
<rect x="338.33" y="555.85" width="14.47" height="15.02" fill="#eef2fa"/>
<rect x="352.75" y="555.85" width="14.47" height="15.02" fill="#dee7f5"/>
<rect x="367.18" y="555.85" width="14.47" height="15.02" fill="#e5ecf7"/>
<rect x="64.30" y="570.82" width="14.47" height="15.02" fill="#fef6f3"/>
<rect x="78.72" y="570.82" width="14.47" height="15.02" fill="#fbd0c1"/>
<rect x="93.15" y="570.82" width="14.47" height="15.02" fill="#f4f7fc"/>
<rect x="107.57" y="570.82" width="14.47" height="15.02" fill="#f8b49c"/>
<rect x="121.99" y="570.82" width="14.47" height="15.02" fill="#f8b49c"/>
<rect x="136.41" y="570.82" width="14.47" height="15.02" fill="#f59375"/>
<rect x="150.84" y="570.82" width="14.47" height="15.02" fill="#fbd0c1"/>
<rect x="165.26" y="570.82" width="14.47" height="15.02" fill="#fac7b5"/>
<rect x="179.68" y="570.82" width="14.47" height="15.02" fill="#f8b8a1"/>
<rect x="194.10" y="570.82" width="14.47" height="15.02" fill="#fde8e1"/>
<rect x="208.53" y="570.82" width="14.47" height="15.02" fill="#b3c7e7"/>
<rect x="222.95" y="570.82" width="14.47" height="15.02" fill="#c2d2ec"/>
<rect x="237.37" y="570.82" width="14.47" height="15.02" fill="#cfdcf0"/>
<rect x="251.80" y="570.82" width="14.47" height="15.02" fill="#c9d7ee"/>
<rect x="266.22" y="570.82" width="14.47" height="15.02" fill="#d4dff2"/>
<rect x="280.64" y="570.82" width="14.47" height="15.02" fill="#d4dff2"/>
<rect x="295.06" y="570.82" width="14.47" height="15.02" fill="#fef0eb"/>
<rect x="309.49" y="570.82" width="14.47" height="15.02" fill="#dee7f5"/>
<rect x="323.91" y="570.82" width="14.47" height="15.02" fill="#dee7f5"/>
<rect x="338.33" y="570.82" width="14.47" height="15.02" fill="#d8e2f3"/>
<rect x="352.75" y="570.82" width="14.47" height="15.02" fill="#e5ecf7"/>
<rect x="367.18" y="570.82" width="14.47" height="15.02" fill="#e5ecf7"/>
<path d="M64.30 466.00V585.80M78.72 466.00V585.80M93.15 466.00V585.80M107.57 466.00V585.80M121.99 466.00V585.80M136.41 466.00V585.80M150.84 466.00V585.80M165.26 466.00V585.80M179.68 466.00V585.80M194.10 466.00V585.80M208.53 466.00V585.80M222.95 466.00V585.80M237.37 466.00V585.80M251.80 466.00V585.80M266.22 466.00V585.80M280.64 466.00V585.80M295.06 466.00V585.80M309.49 466.00V585.80M323.91 466.00V585.80M338.33 466.00V585.80M352.75 466.00V585.80M367.18 466.00V585.80M381.60 466.00V585.80M64.30 466.00H381.60M64.30 480.98H381.60M64.30 495.95H381.60M64.30 510.92H381.60M64.30 525.90H381.60M64.30 540.88H381.60M64.30 555.85H381.60M64.30 570.82H381.60M64.30 585.80H381.60" stroke="#3a3a3a" stroke-width="0.7" fill="none"/>
<line x1="63.40" y1="465.20" x2="63.40" y2="587.20" stroke="#999" stroke-width="1.3"/>
<line x1="63.00" y1="587.00" x2="381.60" y2="587.00" stroke="#999" stroke-width="1.3"/>
<text x="56.4" y="476.8" font-size="9.2" text-anchor="end">Cell cycle</text>
<line x1="59.30" y1="473.49" x2="62.60" y2="473.49" stroke="#666" stroke-width="0.8"/>
<text x="56.4" y="491.8" font-size="9.2" text-anchor="end">NEU-like</text>
<line x1="59.30" y1="488.46" x2="62.60" y2="488.46" stroke="#666" stroke-width="0.8"/>
<text x="56.4" y="506.7" font-size="9.2" text-anchor="end">NPC-like</text>
<line x1="59.30" y1="503.44" x2="62.60" y2="503.44" stroke="#666" stroke-width="0.8"/>
<text x="56.4" y="521.7" font-size="9.2" text-anchor="end">OPC-like</text>
<line x1="59.30" y1="518.41" x2="62.60" y2="518.41" stroke="#666" stroke-width="0.8"/>
<text x="56.4" y="536.7" font-size="9.2" text-anchor="end">GPC-like</text>
<line x1="59.30" y1="533.39" x2="62.60" y2="533.39" stroke="#666" stroke-width="0.8"/>
<text x="56.4" y="551.7" font-size="9.2" text-anchor="end">AC-like</text>
<line x1="59.30" y1="548.36" x2="62.60" y2="548.36" stroke="#666" stroke-width="0.8"/>
<text x="56.4" y="566.6" font-size="9.2" text-anchor="end">Cilia-like</text>
<line x1="59.30" y1="563.34" x2="62.60" y2="563.34" stroke="#666" stroke-width="0.8"/>
<text x="56.4" y="581.6" font-size="9.2" text-anchor="end">MES-like</text>
<line x1="59.30" y1="578.31" x2="62.60" y2="578.31" stroke="#666" stroke-width="0.8"/>
<text x="14.2" y="526.0" font-size="10.2" text-anchor="middle" textLength="48.5" lengthAdjust="spacingAndGlyphs" transform="rotate(-90 14.2 526.0)">GBM states</text>
<line x1="71.51" y1="587.50" x2="71.51" y2="590.50" stroke="#666" stroke-width="0.8"/>
<text x="74.8" y="595.5" font-size="8.8" text-anchor="end" transform="rotate(-90 74.8 595.5)">Choroid<tspan font-size="5" dy="-3.5">24</tspan></text>
<line x1="85.93" y1="587.50" x2="85.93" y2="590.50" stroke="#666" stroke-width="0.8"/>
<text x="89.2" y="595.5" font-size="8.8" text-anchor="end" transform="rotate(-90 89.2 595.5)">Astrocyte<tspan font-size="5" dy="-3.5">36</tspan></text>
<line x1="100.36" y1="587.50" x2="100.36" y2="590.50" stroke="#666" stroke-width="0.8"/>
<text x="103.7" y="595.5" font-size="8.8" text-anchor="end" transform="rotate(-90 103.7 595.5)">Astrocyte<tspan font-size="5" dy="-3.5">38</tspan></text>
<line x1="114.78" y1="587.50" x2="114.78" y2="590.50" stroke="#666" stroke-width="0.8"/>
<text x="118.1" y="595.5" font-size="8.8" text-anchor="end" transform="rotate(-90 118.1 595.5)">vRG<tspan font-size="5" dy="-3.5">24</tspan></text>
<line x1="129.20" y1="587.50" x2="129.20" y2="590.50" stroke="#666" stroke-width="0.8"/>
<text x="132.5" y="595.5" font-size="8.8" text-anchor="end" transform="rotate(-90 132.5 595.5)">vRG<tspan font-size="5" dy="-3.5">25</tspan></text>
<line x1="143.62" y1="587.50" x2="143.62" y2="590.50" stroke="#666" stroke-width="0.8"/>
<text x="146.9" y="595.5" font-size="8.8" text-anchor="end" transform="rotate(-90 146.9 595.5)">vRG<tspan font-size="5" dy="-3.5">36</tspan></text>
<line x1="158.05" y1="587.50" x2="158.05" y2="590.50" stroke="#666" stroke-width="0.8"/>
<text x="161.3" y="595.5" font-size="8.8" text-anchor="end" transform="rotate(-90 161.3 595.5)">oRG<tspan font-size="5" dy="-3.5">24</tspan></text>
<line x1="172.47" y1="587.50" x2="172.47" y2="590.50" stroke="#666" stroke-width="0.8"/>
<text x="175.8" y="595.5" font-size="8.8" text-anchor="end" transform="rotate(-90 175.8 595.5)">oRG<tspan font-size="5" dy="-3.5">25</tspan></text>
<line x1="186.89" y1="587.50" x2="186.89" y2="590.50" stroke="#666" stroke-width="0.8"/>
<text x="190.2" y="595.5" font-size="8.8" text-anchor="end" transform="rotate(-90 190.2 595.5)">oRG<tspan font-size="5" dy="-3.5">36</tspan></text>
<line x1="201.32" y1="587.50" x2="201.32" y2="590.50" stroke="#666" stroke-width="0.8"/>
<text x="204.6" y="595.5" font-size="8.8" text-anchor="end" transform="rotate(-90 204.6 595.5)">GPC<tspan font-size="5" dy="-3.5">36</tspan></text>
<line x1="215.74" y1="587.50" x2="215.74" y2="590.50" stroke="#666" stroke-width="0.8"/>
<text x="219.0" y="595.5" font-size="8.8" text-anchor="end" transform="rotate(-90 219.0 595.5)">Dividing OPC<tspan font-size="5" dy="-3.5">36</tspan></text>
<line x1="230.16" y1="587.50" x2="230.16" y2="590.50" stroke="#666" stroke-width="0.8"/>
<text x="233.5" y="595.5" font-size="8.8" text-anchor="end" transform="rotate(-90 233.5 595.5)">Pre-OPC<tspan font-size="5" dy="-3.5">36</tspan></text>
<line x1="244.58" y1="587.50" x2="244.58" y2="590.50" stroke="#666" stroke-width="0.8"/>
<text x="247.9" y="595.5" font-size="8.8" text-anchor="end" transform="rotate(-90 247.9 595.5)">OPC<tspan font-size="5" dy="-3.5">36</tspan></text>
<line x1="259.01" y1="587.50" x2="259.01" y2="590.50" stroke="#666" stroke-width="0.8"/>
<text x="262.3" y="595.5" font-size="8.8" text-anchor="end" transform="rotate(-90 262.3 595.5)">Oligodendrocyte<tspan font-size="5" dy="-3.5">36</tspan></text>
<line x1="273.43" y1="587.50" x2="273.43" y2="590.50" stroke="#666" stroke-width="0.8"/>
<text x="276.7" y="595.5" font-size="8.8" text-anchor="end" transform="rotate(-90 276.7 595.5)">IPC<tspan font-size="5" dy="-3.5">36</tspan></text>
<line x1="287.85" y1="587.50" x2="287.85" y2="590.50" stroke="#666" stroke-width="0.8"/>
<text x="291.2" y="595.5" font-size="8.8" text-anchor="end" transform="rotate(-90 291.2 595.5)">ExN early<tspan font-size="5" dy="-3.5">36</tspan></text>
<line x1="302.28" y1="587.50" x2="302.28" y2="590.50" stroke="#666" stroke-width="0.8"/>
<text x="305.6" y="595.5" font-size="8.8" text-anchor="end" transform="rotate(-90 305.6 595.5)">ExN late<tspan font-size="5" dy="-3.5">36</tspan></text>
<line x1="316.70" y1="587.50" x2="316.70" y2="590.50" stroke="#666" stroke-width="0.8"/>
<text x="320.0" y="595.5" font-size="8.8" text-anchor="end" transform="rotate(-90 320.0 595.5)">Inhibitory neuron<tspan font-size="5" dy="-3.5">36</tspan></text>
<line x1="331.12" y1="587.50" x2="331.12" y2="590.50" stroke="#666" stroke-width="0.8"/>
<text x="334.4" y="595.5" font-size="8.8" text-anchor="end" transform="rotate(-90 334.4 595.5)">Subcortical neuron<tspan font-size="5" dy="-3.5">36</tspan></text>
<line x1="345.54" y1="587.50" x2="345.54" y2="590.50" stroke="#666" stroke-width="0.8"/>
<text x="348.8" y="595.5" font-size="8.8" text-anchor="end" transform="rotate(-90 348.8 595.5)">ExN<tspan font-size="5" dy="-3.5">36</tspan></text>
<line x1="359.97" y1="587.50" x2="359.97" y2="590.50" stroke="#666" stroke-width="0.8"/>
<text x="363.3" y="595.5" font-size="8.8" text-anchor="end" transform="rotate(-90 363.3 595.5)">Cell cycle G1S<tspan font-size="5" dy="-3.5">36</tspan></text>
<line x1="374.39" y1="587.50" x2="374.39" y2="590.50" stroke="#666" stroke-width="0.8"/>
<text x="377.7" y="595.5" font-size="8.8" text-anchor="end" transform="rotate(-90 377.7 595.5)">Cell cycle G2M<tspan font-size="5" dy="-3.5">36</tspan></text>
<text x="233.8" y="693.4" font-size="10.2" text-anchor="middle" textLength="86.0" lengthAdjust="spacingAndGlyphs">Normal brain states</text>
<defs><linearGradient id="corrd" x1="0" x2="1" y1="0" y2="0"><stop offset="0" stop-color="#3d6cb6"/><stop offset="0.5" stop-color="#ffffff"/><stop offset="1" stop-color="#e6201e"/></linearGradient></defs>
<rect x="250.60" y="443.40" width="63.60" height="7.10" fill="url(#corrd)"/>
<line x1="258.50" y1="443.40" x2="258.50" y2="444.80" stroke="#fff" stroke-width="0.4"/>
<line x1="258.50" y1="449.10" x2="258.50" y2="450.50" stroke="#fff" stroke-width="0.4"/>
<line x1="266.50" y1="443.40" x2="266.50" y2="444.80" stroke="#fff" stroke-width="0.4"/>
<line x1="266.50" y1="449.10" x2="266.50" y2="450.50" stroke="#fff" stroke-width="0.4"/>
<line x1="274.50" y1="443.40" x2="274.50" y2="444.80" stroke="#fff" stroke-width="0.4"/>
<line x1="274.50" y1="449.10" x2="274.50" y2="450.50" stroke="#fff" stroke-width="0.4"/>
<line x1="290.50" y1="443.40" x2="290.50" y2="444.80" stroke="#fff" stroke-width="0.4"/>
<line x1="290.50" y1="449.10" x2="290.50" y2="450.50" stroke="#fff" stroke-width="0.4"/>
<line x1="298.50" y1="443.40" x2="298.50" y2="444.80" stroke="#fff" stroke-width="0.4"/>
<line x1="298.50" y1="449.10" x2="298.50" y2="450.50" stroke="#fff" stroke-width="0.4"/>
<line x1="306.50" y1="443.40" x2="306.50" y2="444.80" stroke="#fff" stroke-width="0.4"/>
<line x1="306.50" y1="449.10" x2="306.50" y2="450.50" stroke="#fff" stroke-width="0.4"/>
<text x="197.7" y="449.5" font-size="10.2" textLength="49.7" lengthAdjust="spacingAndGlyphs">Correlation</text>
<text x="251.0" y="460.0" font-size="8.5" text-anchor="middle">−0.75</text>
<text x="282.4" y="460.0" font-size="8.5" text-anchor="middle">0</text>
<text x="313.0" y="460.0" font-size="8.5" text-anchor="middle">0.75</text>
<text x="392.0" y="449.5" font-size="13" font-weight="bold" fill="#000">e</text>
<rect x="444.60" y="468.30" width="14.00" height="10.92" fill="#fdbe5d"/>
<rect x="458.10" y="468.30" width="14.00" height="10.92" fill="#fdc66f"/>
<rect x="471.60" y="468.30" width="14.00" height="10.92" fill="#fddea6"/>
<rect x="485.10" y="468.30" width="14.00" height="10.92" fill="#fbfcfd"/>
<rect x="498.60" y="468.30" width="14.00" height="10.92" fill="#daecf4"/>
<rect x="512.10" y="468.30" width="14.00" height="10.92" fill="#bedbeb"/>
<rect x="525.60" y="468.30" width="14.00" height="10.92" fill="#c9e5ef"/>
<rect x="539.10" y="468.30" width="14.00" height="10.92" fill="#daecf4"/>
<rect x="552.60" y="468.30" width="14.00" height="10.92" fill="#f58822"/>
<rect x="566.10" y="468.30" width="14.00" height="10.92" fill="#fbfcfd"/>
<rect x="579.60" y="468.30" width="14.00" height="10.92" fill="#b3d1e6"/>
<rect x="593.10" y="468.30" width="14.00" height="10.92" fill="#fdbe5d"/>
<rect x="606.60" y="468.30" width="13.50" height="10.92" fill="#f8a22e"/>
<rect x="444.60" y="478.72" width="14.00" height="10.92" fill="#c9e5ef"/>
<rect x="458.10" y="478.72" width="14.00" height="10.92" fill="#daecf4"/>
<rect x="471.60" y="478.72" width="14.00" height="10.92" fill="#bedbeb"/>
<rect x="485.10" y="478.72" width="14.00" height="10.92" fill="#eaf4f8"/>
<rect x="498.60" y="478.72" width="14.00" height="10.92" fill="#c9e5ef"/>
<rect x="512.10" y="478.72" width="14.00" height="10.92" fill="#9ebede"/>
<rect x="525.60" y="478.72" width="14.00" height="10.92" fill="#c9e5ef"/>
<rect x="539.10" y="478.72" width="14.00" height="10.92" fill="#daecf4"/>
<rect x="552.60" y="478.72" width="14.00" height="10.92" fill="#ea3428"/>
<rect x="566.10" y="478.72" width="14.00" height="10.92" fill="#ea3428"/>
<rect x="579.60" y="478.72" width="14.00" height="10.92" fill="#bedbeb"/>
<rect x="593.10" y="478.72" width="14.00" height="10.92" fill="#fcf1da"/>
<rect x="606.60" y="478.72" width="13.50" height="10.92" fill="#fbfcfd"/>
<rect x="444.60" y="489.14" width="14.00" height="10.92" fill="#eaf4f8"/>
<rect x="458.10" y="489.14" width="14.00" height="10.92" fill="#f1f7fa"/>
<rect x="471.60" y="489.14" width="14.00" height="10.92" fill="#eaf4f8"/>
<rect x="485.10" y="489.14" width="14.00" height="10.92" fill="#e1f0f6"/>
<rect x="498.60" y="489.14" width="14.00" height="10.92" fill="#c9e5ef"/>
<rect x="512.10" y="489.14" width="14.00" height="10.92" fill="#fde6b8"/>
<rect x="525.60" y="489.14" width="14.00" height="10.92" fill="#fde6b8"/>
<rect x="539.10" y="489.14" width="14.00" height="10.92" fill="#fbfcfd"/>
<rect x="552.60" y="489.14" width="14.00" height="10.92" fill="#fcf1da"/>
<rect x="566.10" y="489.14" width="14.00" height="10.92" fill="#fbfcfd"/>
<rect x="579.60" y="489.14" width="14.00" height="10.92" fill="#daecf4"/>
<rect x="593.10" y="489.14" width="14.00" height="10.92" fill="#fbfcfd"/>
<rect x="606.60" y="489.14" width="13.50" height="10.92" fill="#fbb54d"/>
<rect x="444.60" y="499.56" width="14.00" height="10.92" fill="#ea3428"/>
<rect x="458.10" y="499.56" width="14.00" height="10.92" fill="#f58822"/>
<rect x="471.60" y="499.56" width="14.00" height="10.92" fill="#f8a22e"/>
<rect x="485.10" y="499.56" width="14.00" height="10.92" fill="#fbb54d"/>
<rect x="498.60" y="499.56" width="14.00" height="10.92" fill="#fddea6"/>
<rect x="512.10" y="499.56" width="14.00" height="10.92" fill="#718bc5"/>
<rect x="525.60" y="499.56" width="14.00" height="10.92" fill="#93b4da"/>
<rect x="539.10" y="499.56" width="14.00" height="10.92" fill="#bedbeb"/>
<rect x="552.60" y="499.56" width="14.00" height="10.92" fill="#fbb54d"/>
<rect x="566.10" y="499.56" width="14.00" height="10.92" fill="#fbfcfd"/>
<rect x="579.60" y="499.56" width="14.00" height="10.92" fill="#daecf4"/>
<rect x="593.10" y="499.56" width="14.00" height="10.92" fill="#ea3428"/>
<rect x="606.60" y="499.56" width="13.50" height="10.92" fill="#eaf4f8"/>
<rect x="444.60" y="509.98" width="14.00" height="10.92" fill="#f47922"/>
<rect x="458.10" y="509.98" width="14.00" height="10.92" fill="#faab3e"/>
<rect x="471.60" y="509.98" width="14.00" height="10.92" fill="#fdce81"/>
<rect x="485.10" y="509.98" width="14.00" height="10.92" fill="#f8a22e"/>
<rect x="498.60" y="509.98" width="14.00" height="10.92" fill="#fbfcfd"/>
<rect x="512.10" y="509.98" width="14.00" height="10.92" fill="#4a5cad"/>
<rect x="525.60" y="509.98" width="14.00" height="10.92" fill="#5a70b7"/>
<rect x="539.10" y="509.98" width="14.00" height="10.92" fill="#9ebede"/>
<rect x="552.60" y="509.98" width="14.00" height="10.92" fill="#f47922"/>
<rect x="566.10" y="509.98" width="14.00" height="10.92" fill="#fcf6ec"/>
<rect x="579.60" y="509.98" width="14.00" height="10.92" fill="#c9e5ef"/>
<rect x="593.10" y="509.98" width="14.00" height="10.92" fill="#ea3428"/>
<rect x="606.60" y="509.98" width="13.50" height="10.92" fill="#fcf1da"/>
<rect x="444.60" y="520.40" width="14.00" height="10.92" fill="#fbb54d"/>
<rect x="458.10" y="520.40" width="14.00" height="10.92" fill="#fdbe5d"/>
<rect x="471.60" y="520.40" width="14.00" height="10.92" fill="#fbb54d"/>
<rect x="485.10" y="520.40" width="14.00" height="10.92" fill="#fbb54d"/>
<rect x="498.60" y="520.40" width="14.00" height="10.92" fill="#fcf1da"/>
<rect x="512.10" y="520.40" width="14.00" height="10.92" fill="#c9e5ef"/>
<rect x="525.60" y="520.40" width="14.00" height="10.92" fill="#bedbeb"/>
<rect x="539.10" y="520.40" width="14.00" height="10.92" fill="#bedbeb"/>
<rect x="552.60" y="520.40" width="14.00" height="10.92" fill="#eaf4f8"/>
<rect x="566.10" y="520.40" width="14.00" height="10.92" fill="#bedbeb"/>
<rect x="579.60" y="520.40" width="14.00" height="10.92" fill="#daecf4"/>
<rect x="593.10" y="520.40" width="14.00" height="10.92" fill="#ea3428"/>
<rect x="606.60" y="520.40" width="13.50" height="10.92" fill="#fbb54d"/>
<rect x="444.60" y="530.82" width="14.00" height="10.92" fill="#daecf4"/>
<rect x="458.10" y="530.82" width="14.00" height="10.92" fill="#fdce81"/>
<rect x="471.60" y="530.82" width="14.00" height="10.92" fill="#c9e5ef"/>
<rect x="485.10" y="530.82" width="14.00" height="10.92" fill="#93b4da"/>
<rect x="498.60" y="530.82" width="14.00" height="10.92" fill="#9ebede"/>
<rect x="512.10" y="530.82" width="14.00" height="10.92" fill="#ea3428"/>
<rect x="525.60" y="530.82" width="14.00" height="10.92" fill="#ea3428"/>
<rect x="539.10" y="530.82" width="14.00" height="10.92" fill="#ea3428"/>
<rect x="552.60" y="530.82" width="14.00" height="10.92" fill="#fcf1da"/>
<rect x="566.10" y="530.82" width="14.00" height="10.92" fill="#daecf4"/>
<rect x="579.60" y="530.82" width="14.00" height="10.92" fill="#fcf6ec"/>
<rect x="593.10" y="530.82" width="14.00" height="10.92" fill="#eaf4f8"/>
<rect x="606.60" y="530.82" width="13.50" height="10.92" fill="#fdc66f"/>
<rect x="444.60" y="541.24" width="14.00" height="10.92" fill="#c9e5ef"/>
<rect x="458.10" y="541.24" width="14.00" height="10.92" fill="#fbfcfd"/>
<rect x="471.60" y="541.24" width="14.00" height="10.92" fill="#88a6d3"/>
<rect x="485.10" y="541.24" width="14.00" height="10.92" fill="#4a5cad"/>
<rect x="498.60" y="541.24" width="14.00" height="10.92" fill="#667dbe"/>
<rect x="512.10" y="541.24" width="14.00" height="10.92" fill="#ea3428"/>
<rect x="525.60" y="541.24" width="14.00" height="10.92" fill="#ea3428"/>
<rect x="539.10" y="541.24" width="14.00" height="10.92" fill="#ea3428"/>
<rect x="552.60" y="541.24" width="14.00" height="10.92" fill="#eaf4f8"/>
<rect x="566.10" y="541.24" width="14.00" height="10.92" fill="#fbfcfd"/>
<rect x="579.60" y="541.24" width="14.00" height="10.92" fill="#eaf4f8"/>
<rect x="593.10" y="541.24" width="14.00" height="10.92" fill="#bedbeb"/>
<rect x="606.60" y="541.24" width="13.50" height="10.92" fill="#f58822"/>
<rect x="444.60" y="551.66" width="14.00" height="10.92" fill="#eaf4f8"/>
<rect x="458.10" y="551.66" width="14.00" height="10.92" fill="#fddea6"/>
<rect x="471.60" y="551.66" width="14.00" height="10.92" fill="#c9e5ef"/>
<rect x="485.10" y="551.66" width="14.00" height="10.92" fill="#c9e5ef"/>
<rect x="498.60" y="551.66" width="14.00" height="10.92" fill="#9ebede"/>
<rect x="512.10" y="551.66" width="14.00" height="10.92" fill="#fdd693"/>
<rect x="525.60" y="551.66" width="14.00" height="10.92" fill="#fdc66f"/>
<rect x="539.10" y="551.66" width="14.00" height="10.92" fill="#f8a22e"/>
<rect x="552.60" y="551.66" width="14.00" height="10.92" fill="#fbb54d"/>
<rect x="566.10" y="551.66" width="14.00" height="10.92" fill="#fcecc9"/>
<rect x="579.60" y="551.66" width="14.00" height="10.92" fill="#daecf4"/>
<rect x="593.10" y="551.66" width="14.00" height="10.92" fill="#fdbe5d"/>
<rect x="606.60" y="551.66" width="13.50" height="10.92" fill="#f79722"/>
<rect x="444.60" y="562.08" width="14.00" height="10.92" fill="#ea3428"/>
<rect x="458.10" y="562.08" width="14.00" height="10.92" fill="#ea3428"/>
<rect x="471.60" y="562.08" width="14.00" height="10.92" fill="#ea3428"/>
<rect x="485.10" y="562.08" width="14.00" height="10.92" fill="#f8a22e"/>
<rect x="498.60" y="562.08" width="14.00" height="10.92" fill="#f79722"/>
<rect x="512.10" y="562.08" width="14.00" height="10.92" fill="#a8c8e2"/>
<rect x="525.60" y="562.08" width="14.00" height="10.92" fill="#bedbeb"/>
<rect x="539.10" y="562.08" width="14.00" height="10.92" fill="#9ebede"/>
<rect x="552.60" y="562.08" width="14.00" height="10.92" fill="#bedbeb"/>
<rect x="566.10" y="562.08" width="14.00" height="10.92" fill="#bedbeb"/>
<rect x="579.60" y="562.08" width="14.00" height="10.92" fill="#fbfcfd"/>
<rect x="593.10" y="562.08" width="14.00" height="10.92" fill="#fdbe5d"/>
<rect x="606.60" y="562.08" width="13.50" height="10.92" fill="#bedbeb"/>
<rect x="444.60" y="572.50" width="14.00" height="10.92" fill="#ea3428"/>
<rect x="458.10" y="572.50" width="14.00" height="10.92" fill="#ea3428"/>
<rect x="471.60" y="572.50" width="14.00" height="10.92" fill="#f05824"/>
<rect x="485.10" y="572.50" width="14.00" height="10.92" fill="#fdc66f"/>
<rect x="498.60" y="572.50" width="14.00" height="10.92" fill="#fbb54d"/>
<rect x="512.10" y="572.50" width="14.00" height="10.92" fill="#daecf4"/>
<rect x="525.60" y="572.50" width="14.00" height="10.92" fill="#daecf4"/>
<rect x="539.10" y="572.50" width="14.00" height="10.92" fill="#c9e5ef"/>
<rect x="552.60" y="572.50" width="14.00" height="10.92" fill="#bedbeb"/>
<rect x="566.10" y="572.50" width="14.00" height="10.92" fill="#c9e5ef"/>
<rect x="579.60" y="572.50" width="14.00" height="10.92" fill="#f1f7fa"/>
<rect x="593.10" y="572.50" width="14.00" height="10.92" fill="#fbfcfd"/>
<rect x="606.60" y="572.50" width="13.50" height="10.92" fill="#bedbeb"/>
<rect x="444.60" y="582.92" width="14.00" height="10.92" fill="#ed4626"/>
<rect x="458.10" y="582.92" width="14.00" height="10.92" fill="#f58822"/>
<rect x="471.60" y="582.92" width="14.00" height="10.92" fill="#ed4626"/>
<rect x="485.10" y="582.92" width="14.00" height="10.92" fill="#fbb54d"/>
<rect x="498.60" y="582.92" width="14.00" height="10.92" fill="#f8a22e"/>
<rect x="512.10" y="582.92" width="14.00" height="10.92" fill="#c9e5ef"/>
<rect x="525.60" y="582.92" width="14.00" height="10.92" fill="#bedbeb"/>
<rect x="539.10" y="582.92" width="14.00" height="10.92" fill="#bedbeb"/>
<rect x="552.60" y="582.92" width="14.00" height="10.92" fill="#bedbeb"/>
<rect x="566.10" y="582.92" width="14.00" height="10.92" fill="#c9e5ef"/>
<rect x="579.60" y="582.92" width="14.00" height="10.92" fill="#fcf3e1"/>
<rect x="593.10" y="582.92" width="14.00" height="10.92" fill="#fde6b8"/>
<rect x="606.60" y="582.92" width="13.50" height="10.92" fill="#bedbeb"/>
<rect x="444.60" y="593.34" width="14.00" height="10.92" fill="#faab3e"/>
<rect x="458.10" y="593.34" width="14.00" height="10.92" fill="#faab3e"/>
<rect x="471.60" y="593.34" width="14.00" height="10.92" fill="#f05824"/>
<rect x="485.10" y="593.34" width="14.00" height="10.92" fill="#ea3428"/>
<rect x="498.60" y="593.34" width="14.00" height="10.92" fill="#f26a22"/>
<rect x="512.10" y="593.34" width="14.00" height="10.92" fill="#5a70b7"/>
<rect x="525.60" y="593.34" width="14.00" height="10.92" fill="#718bc5"/>
<rect x="539.10" y="593.34" width="14.00" height="10.92" fill="#718bc5"/>
<rect x="552.60" y="593.34" width="14.00" height="10.92" fill="#f1f7fa"/>
<rect x="566.10" y="593.34" width="14.00" height="10.92" fill="#c9e5ef"/>
<rect x="579.60" y="593.34" width="14.00" height="10.92" fill="#bedbeb"/>
<rect x="593.10" y="593.34" width="14.00" height="10.92" fill="#f8a22e"/>
<rect x="606.60" y="593.34" width="13.50" height="10.92" fill="#bedbeb"/>
<rect x="444.60" y="603.76" width="14.00" height="10.92" fill="#f47922"/>
<rect x="458.10" y="603.76" width="14.00" height="10.92" fill="#f47922"/>
<rect x="471.60" y="603.76" width="14.00" height="10.92" fill="#ea3428"/>
<rect x="485.10" y="603.76" width="14.00" height="10.92" fill="#ea3428"/>
<rect x="498.60" y="603.76" width="14.00" height="10.92" fill="#ea3428"/>
<rect x="512.10" y="603.76" width="14.00" height="10.92" fill="#93b4da"/>
<rect x="525.60" y="603.76" width="14.00" height="10.92" fill="#9ebede"/>
<rect x="539.10" y="603.76" width="14.00" height="10.92" fill="#93b4da"/>
<rect x="552.60" y="603.76" width="14.00" height="10.92" fill="#bedbeb"/>
<rect x="566.10" y="603.76" width="14.00" height="10.92" fill="#bedbeb"/>
<rect x="579.60" y="603.76" width="14.00" height="10.92" fill="#bedbeb"/>
<rect x="593.10" y="603.76" width="14.00" height="10.92" fill="#fdc66f"/>
<rect x="606.60" y="603.76" width="13.50" height="10.92" fill="#a8c8e2"/>
<rect x="444.60" y="614.18" width="14.00" height="10.92" fill="#daecf4"/>
<rect x="458.10" y="614.18" width="14.00" height="10.92" fill="#eaf4f8"/>
<rect x="471.60" y="614.18" width="14.00" height="10.92" fill="#fbb54d"/>
<rect x="485.10" y="614.18" width="14.00" height="10.92" fill="#fde6b8"/>
<rect x="498.60" y="614.18" width="14.00" height="10.92" fill="#faab3e"/>
<rect x="512.10" y="614.18" width="14.00" height="10.92" fill="#fdce81"/>
<rect x="525.60" y="614.18" width="14.00" height="10.92" fill="#fcecc9"/>
<rect x="539.10" y="614.18" width="14.00" height="10.92" fill="#c9e5ef"/>
<rect x="552.60" y="614.18" width="14.00" height="10.92" fill="#4456a9"/>
<rect x="566.10" y="614.18" width="14.00" height="10.92" fill="#88a6d3"/>
<rect x="579.60" y="614.18" width="14.00" height="10.92" fill="#faab3e"/>
<rect x="593.10" y="614.18" width="14.00" height="10.92" fill="#bedbeb"/>
<rect x="606.60" y="614.18" width="13.50" height="10.92" fill="#c9e5ef"/>
<rect x="444.60" y="624.60" width="14.00" height="10.92" fill="#fddea6"/>
<rect x="458.10" y="624.60" width="14.00" height="10.92" fill="#fddea6"/>
<rect x="471.60" y="624.60" width="14.00" height="10.92" fill="#f47922"/>
<rect x="485.10" y="624.60" width="14.00" height="10.92" fill="#faab3e"/>
<rect x="498.60" y="624.60" width="14.00" height="10.92" fill="#f26a22"/>
<rect x="512.10" y="624.60" width="14.00" height="10.92" fill="#c9e5ef"/>
<rect x="525.60" y="624.60" width="14.00" height="10.92" fill="#bedbeb"/>
<rect x="539.10" y="624.60" width="14.00" height="10.92" fill="#b3d1e6"/>
<rect x="552.60" y="624.60" width="14.00" height="10.92" fill="#667dbe"/>
<rect x="566.10" y="624.60" width="14.00" height="10.92" fill="#bedbeb"/>
<rect x="579.60" y="624.60" width="14.00" height="10.92" fill="#faab3e"/>
<rect x="593.10" y="624.60" width="14.00" height="10.92" fill="#fbfcfd"/>
<rect x="606.60" y="624.60" width="13.50" height="10.92" fill="#c9e5ef"/>
<rect x="444.60" y="635.02" width="14.00" height="10.42" fill="#fbfcfd"/>
<rect x="458.10" y="635.02" width="14.00" height="10.42" fill="#f1f7fa"/>
<rect x="471.60" y="635.02" width="14.00" height="10.42" fill="#fde6b8"/>
<rect x="485.10" y="635.02" width="14.00" height="10.42" fill="#eaf4f8"/>
<rect x="498.60" y="635.02" width="14.00" height="10.42" fill="#fde6b8"/>
<rect x="512.10" y="635.02" width="14.00" height="10.42" fill="#fcecc9"/>
<rect x="525.60" y="635.02" width="14.00" height="10.42" fill="#eaf4f8"/>
<rect x="539.10" y="635.02" width="14.00" height="10.42" fill="#daecf4"/>
<rect x="552.60" y="635.02" width="14.00" height="10.42" fill="#667dbe"/>
<rect x="566.10" y="635.02" width="14.00" height="10.42" fill="#bedbeb"/>
<rect x="579.60" y="635.02" width="14.00" height="10.42" fill="#ea3428"/>
<rect x="593.10" y="635.02" width="14.00" height="10.42" fill="#bedbeb"/>
<rect x="606.60" y="635.02" width="13.50" height="10.42" fill="#daecf4"/>
<rect x="596.50" y="502.16" width="6.70" height="5.22" fill="#f26a22"/>
<rect x="596.50" y="523.00" width="6.70" height="5.22" fill="#f26a22"/>
<rect x="444.60" y="458.60" width="27.05" height="8.30" fill="#238b45"/>
<rect x="471.60" y="458.60" width="40.55" height="8.30" fill="#ae2424"/>
<rect x="512.10" y="458.60" width="40.55" height="8.30" fill="#3a4ea6"/>
<rect x="552.60" y="458.60" width="27.05" height="8.30" fill="#f9a51b"/>
<rect x="579.60" y="458.60" width="13.55" height="8.30" fill="#5cc4d4"/>
<rect x="593.10" y="458.60" width="13.55" height="8.30" fill="#e8212a"/>
<rect x="606.60" y="458.60" width="13.55" height="8.30" fill="#b04fa6"/>
<rect x="433.80" y="468.30" width="9.00" height="20.89" fill="#f9a51b"/>
<rect x="433.80" y="489.14" width="9.00" height="10.47" fill="#b04fa6"/>
<rect x="433.80" y="499.56" width="9.00" height="31.31" fill="#e8212a"/>
<rect x="433.80" y="530.82" width="9.00" height="31.31" fill="#3a4ea6"/>
<rect x="433.80" y="562.08" width="9.00" height="31.31" fill="#238b45"/>
<rect x="433.80" y="593.34" width="9.00" height="20.89" fill="#ae2424"/>
<rect x="433.80" y="614.18" width="9.00" height="31.31" fill="#5cc4d4"/>
<rect x="553.90" y="469.60" width="24.40" height="18.24" fill="none" stroke="#f9a51b" stroke-width="2.6"/>
<rect x="607.90" y="490.44" width="10.90" height="7.82" fill="none" stroke="#b04fa6" stroke-width="2.6"/>
<rect x="594.40" y="500.86" width="10.90" height="28.66" fill="none" stroke="#e8212a" stroke-width="2.6"/>
<rect x="513.40" y="532.12" width="37.90" height="28.66" fill="none" stroke="#3a4ea6" stroke-width="2.6"/>
<rect x="445.90" y="563.38" width="24.40" height="28.66" fill="none" stroke="#22a04a" stroke-width="2.6"/>
<rect x="472.90" y="594.64" width="37.90" height="18.24" fill="none" stroke="#b5222a" stroke-width="2.6"/>
<rect x="580.90" y="615.48" width="10.90" height="28.66" fill="none" stroke="#2aaee0" stroke-width="2.6"/>
<text x="517.0" y="480.7" font-size="9.8" textLength="38.0" lengthAdjust="spacingAndGlyphs">AC/cilia</text>
<text x="564.8" y="496.9" font-size="9.8" textLength="41.0" lengthAdjust="spacingAndGlyphs">GPC/RGL</text>
<text x="548.0" y="513.6" font-size="9.8" textLength="43.0" lengthAdjust="spacingAndGlyphs">GPM-MES</text>
<text x="554.8" y="545.5" font-size="9.8" textLength="20.0" lengthAdjust="spacingAndGlyphs">NEU</text>
<text x="446.8" y="556.3" font-size="9.8" textLength="20.0" lengthAdjust="spacingAndGlyphs">MTC</text>
<text x="515.6" y="607.5" font-size="9.8" textLength="22.0" lengthAdjust="spacingAndGlyphs">GPM</text>
<text x="558.8" y="630.5" font-size="9.8" textLength="18.5" lengthAdjust="spacingAndGlyphs">PPR</text>
<text x="624.3" y="476.1" font-size="9.3" textLength="22.5" lengthAdjust="spacingAndGlyphs">PMP11</text>
<text x="624.3" y="486.5" font-size="9.3" textLength="18.0" lengthAdjust="spacingAndGlyphs">PMP7</text>
<text x="624.3" y="497.0" font-size="9.3" textLength="18.0" lengthAdjust="spacingAndGlyphs">PMP8</text>
<text x="624.3" y="507.4" font-size="9.3" textLength="18.0" lengthAdjust="spacingAndGlyphs">PMP9</text>
<text x="624.3" y="517.8" font-size="9.3" textLength="18.0" lengthAdjust="spacingAndGlyphs">PMP4</text>
<text x="624.3" y="528.2" font-size="9.3" textLength="22.5" lengthAdjust="spacingAndGlyphs">PMP15</text>
<text x="624.3" y="538.6" font-size="9.3" textLength="22.5" lengthAdjust="spacingAndGlyphs">PMP16</text>
<text x="624.3" y="549.1" font-size="9.3" textLength="18.0" lengthAdjust="spacingAndGlyphs">PMP3</text>
<text x="624.3" y="559.5" font-size="9.3" textLength="22.5" lengthAdjust="spacingAndGlyphs">PMP10</text>
<text x="624.3" y="569.9" font-size="9.3" textLength="22.5" lengthAdjust="spacingAndGlyphs">PMP13</text>
<text x="624.3" y="580.3" font-size="9.3" textLength="18.0" lengthAdjust="spacingAndGlyphs">PMP6</text>
<text x="624.3" y="590.7" font-size="9.3" textLength="18.0" lengthAdjust="spacingAndGlyphs">PMP1</text>
<text x="624.3" y="601.1" font-size="9.3" textLength="22.5" lengthAdjust="spacingAndGlyphs">PMP17</text>
<text x="624.3" y="611.6" font-size="9.3" textLength="22.5" lengthAdjust="spacingAndGlyphs">PMP12</text>
<text x="624.3" y="622.0" font-size="9.3" textLength="22.5" lengthAdjust="spacingAndGlyphs">PMP14</text>
<text x="624.3" y="632.4" font-size="9.3" textLength="18.0" lengthAdjust="spacingAndGlyphs">PMP5</text>
<text x="624.3" y="642.8" font-size="9.3" textLength="18.0" lengthAdjust="spacingAndGlyphs">PMP2</text>
<text x="454.6" y="649.8" font-size="9" text-anchor="end" transform="rotate(-90 454.6 649.8)">RP</text>
<text x="468.1" y="649.8" font-size="9" text-anchor="end" transform="rotate(-90 468.1 649.8)">Neurogranin</text>
<text x="481.6" y="649.8" font-size="9" text-anchor="end" transform="rotate(-90 481.6 649.8)">Stress2</text>
<text x="495.1" y="649.8" font-size="9" text-anchor="end" transform="rotate(-90 495.1 649.8)">Hypoxia</text>
<text x="508.6" y="649.8" font-size="9" text-anchor="end" transform="rotate(-90 508.6 649.8)">Stress1</text>
<text x="522.1" y="649.8" font-size="9" text-anchor="end" transform="rotate(-90 522.1 649.8)">OPC</text>
<text x="535.6" y="649.8" font-size="9" text-anchor="end" transform="rotate(-90 535.6 649.8)">NPC</text>
<text x="549.1" y="649.8" font-size="9" text-anchor="end" transform="rotate(-90 549.1 649.8)">ExN</text>
<text x="562.6" y="649.8" font-size="9" text-anchor="end" transform="rotate(-90 562.6 649.8)">AC</text>
<text x="576.1" y="649.8" font-size="9" text-anchor="end" transform="rotate(-90 576.1 649.8)">Cilia</text>
<text x="589.6" y="649.8" font-size="9" text-anchor="end" transform="rotate(-90 589.6 649.8)">Cycling</text>
<text x="603.1" y="649.8" font-size="9" text-anchor="end" transform="rotate(-90 603.1 649.8)">MES</text>
<text x="616.6" y="649.8" font-size="9" text-anchor="end" transform="rotate(-90 616.6 649.8)">GPC</text>
<text x="532.0" y="693.9" font-size="10.2" text-anchor="middle" textLength="62.0" lengthAdjust="spacingAndGlyphs">Cell-state MPs</text>
<text x="655.5" y="554.0" font-size="10.2" text-anchor="middle" textLength="54.0" lengthAdjust="spacingAndGlyphs" transform="rotate(90 655.5 554.0)">Pathway MPs</text>
<defs><linearGradient id="corre" x1="0" x2="0" y1="0" y2="1"><stop offset="0" stop-color="#e8222a"/><stop offset="0.2" stop-color="#f26a22"/><stop offset="0.32" stop-color="#f9a51b"/><stop offset="0.42" stop-color="#fde6b8"/><stop offset="0.5" stop-color="#fbfcfd"/><stop offset="0.62" stop-color="#c6e3ee"/><stop offset="0.78" stop-color="#7f9ed0"/><stop offset="1" stop-color="#2e3f9c"/></linearGradient></defs>
<rect x="625.20" y="653.00" width="7.70" height="37.80" fill="url(#corre)"/>
<text x="637.0" y="657.5" font-size="8.5">0.5</text>
<text x="637.0" y="675.5" font-size="8.5">0</text>
<text x="635.0" y="692.3" font-size="8.5">−0.5</text>
<text x="659.5" y="672.5" font-size="10.2" text-anchor="middle" textLength="49.0" lengthAdjust="spacingAndGlyphs" transform="rotate(90 659.5 672.5)">Correlation</text>
<path d="M451.4 458.6V451.7H464.9V458.6M491.9 458.6V451.2H505.4V458.6M478.4 458.6V450.4H498.6V451.2M458.1 451.7V447.2H488.5V450.4M532.4 458.6V451.7H545.9V458.6M518.9 458.6V450.4H539.1V451.7M559.4 458.6V451.7H572.9V458.6M599.9 458.6V448.5H613.4V458.6M586.4 458.6V447.2H606.6V448.5M566.1 451.7V446.3H596.5V447.2M529.0 450.4V444.5H581.3V446.3M473.3 447.2V441.8H555.1V444.5" fill="none" stroke="#555" stroke-width="0.7"/>
<path d="M433.6 473.5H423.3V483.9H433.6M423.3 478.7H421.3V494.4H433.6M433.6 504.8H426.3V515.2H433.6M426.3 510.0H424.3V525.6H433.6M421.3 486.5H417.6V517.8H424.3M433.6 536.0H425.3V546.5H433.6M425.3 541.2H422.3V556.9H433.6M417.6 502.2H414.5V549.1H422.3M433.6 577.7H426.3V588.1H433.6M433.6 567.3H421.7V582.9H426.3M433.6 598.5H422.3V609.0H433.6M421.7 575.1H418.9V603.8H422.3M433.6 629.8H425.3V640.2H433.6M433.6 619.4H424.3V635.0H425.3M418.9 589.4H416.3V627.2H424.3M414.5 525.6H412.8V608.3H416.3" fill="none" stroke="#555" stroke-width="0.7"/>
<text x="0.0" y="720.5" font-size="13" font-weight="bold" fill="#000">f</text>
<text x="27.6" y="719.9" font-size="9.5" textLength="40.0" lengthAdjust="spacingAndGlyphs">Centered</text>
<text x="27.6" y="731.5" font-size="9.5">log<tspan font-size="6.5" dy="2">2</tspan><tspan dy="-2"> expression</tspan></text>
<rect x="114.00" y="724.80" width="12.22" height="5.40" fill="#3a78be"/>
<rect x="126.17" y="724.80" width="12.22" height="5.40" fill="#8ab8dc"/>
<rect x="138.33" y="724.80" width="12.22" height="5.40" fill="#d8e6f0"/>
<rect x="150.50" y="724.80" width="12.22" height="5.40" fill="#f8dcd0"/>
<rect x="162.67" y="724.80" width="12.22" height="5.40" fill="#f0a088"/>
<rect x="174.83" y="724.80" width="12.22" height="5.40" fill="#d04a3a"/>
<text x="115.0" y="719.9" font-size="8.5" text-anchor="middle">−2</text>
<text x="150.8" y="719.9" font-size="8.5" text-anchor="middle">0</text>
<text x="186.4" y="719.9" font-size="8.5" text-anchor="middle">2</text>
<text x="44.5" y="746.0" font-size="9.5" text-anchor="middle" textLength="31.0" lengthAdjust="spacingAndGlyphs">AC-like</text>
<text x="108.8" y="746.0" font-size="9.5" text-anchor="middle" textLength="35.0" lengthAdjust="spacingAndGlyphs">AC-GPC</text>
<text x="173.2" y="746.0" font-size="9.5" text-anchor="middle" textLength="37.0" lengthAdjust="spacingAndGlyphs">GPC-like</text>
<path d="M12.3 750.1h63.7v1.9h-63.7zM76 751.6h65v1.9h-65zM12.3 754.6h63.7v1.9h-63.7zM76 754.6h65v1.9h-65zM76 756.1h65v1.9h-65zM141 756.1h64.4v1.9h-64.4zM12.3 759.1h63.7v1.4h-63.7zM76 761.1h65v1.6h-65zM12.3 763.3h63.7v1.9h-63.7zM12.3 766h63.7v1.4h-63.7zM76 766h65v1.4h-65zM12.3 771h63.7v1.9h-63.7zM12.3 774.7h63.7v1.4h-63.7zM12.3 775.7h63.7v1.6h-63.7zM76 790.4h65v1.6h-65zM12.3 792.8h63.7v1.6h-63.7zM12.3 795h63.7v1.4h-63.7zM76 795h65v1.4h-65zM141 796h64.4v1.6h-64.4zM12.3 797.2h63.7v1.4h-63.7zM76 799.4h65v1.4h-65zM12.3 801.4h63.7v1.6h-63.7zM12.3 805.1h63.7v1.9h-63.7zM12.3 806.6h63.7v1.6h-63.7zM12.3 815.3h63.7v1.9h-63.7zM12.3 826.6h63.7v1.4h-63.7zM12.3 828.6h63.7v1.9h-63.7zM76 830.1h65v0.7h-65zM141 831.6h64.4v1.9h-64.4zM141 837.1h64.4v1.4h-64.4zM76 838.1h65v1.9h-65zM141 841.1h64.4v1.6h-64.4zM76 843.3h65v1.6h-65zM76 850.6h65v1.4h-65zM141 850.6h64.4v1.4h-64.4zM76 851.6h65v1.4h-65zM141 851.6h64.4v1.4h-64.4zM141 852.6h64.4v1.6h-64.4zM141 854.8h64.4v1.9h-64.4zM76 860h65v1.6h-65zM76 861.2h65v1.6h-65zM141 866.3h64.4v1.6h-64.4zM76 869.7h65v1.4h-65zM76 874.7h65v1.9h-65zM76 878.4h65v1.6h-65zM76 880.8h65v1.9h-65zM141 880.8h64.4v1.9h-64.4zM12.3 882.3h63.7v1.6h-63.7zM76 886.5h65v1.9h-65zM76 891.4h65v1.9h-65zM76 894.4h65v1.9h-65zM141 895.9h64.4v1.9h-64.4zM76 898.9h65v1.6h-65zM141 898.9h64.4v1.6h-64.4zM141 905h64.4v1.4h-64.4zM76 906h65v1.9h-65zM141 906h64.4v1.9h-64.4zM76 908.7h65v1.4h-65z" fill="#bb2a34"/>
<path d="M76 750.1h65v1.9h-65zM12.3 751.6h63.7v1.9h-63.7zM12.3 756.1h63.7v1.9h-63.7zM12.3 757.6h63.7v1.9h-63.7zM141 759.1h64.4v1.4h-64.4zM141 761.1h64.4v1.6h-64.4zM12.3 768.5h63.7v1.9h-63.7zM76 768.5h65v1.9h-65zM12.3 770h63.7v1.4h-63.7zM76 770h65v1.4h-65zM76 771h65v1.9h-65zM12.3 772.5h63.7v1.4h-63.7zM76 773.5h65v1.6h-65zM76 774.7h65v1.4h-65zM76 775.7h65v1.6h-65zM12.3 776.9h63.7v1.6h-63.7zM12.3 778.1h63.7v1.6h-63.7zM76 778.1h65v1.6h-65zM12.3 779.3h63.7v1.9h-63.7zM12.3 781.8h63.7v1.9h-63.7zM12.3 786.5h63.7v1.6h-63.7zM76 787.7h65v1.6h-65zM12.3 788.9h63.7v1.9h-63.7zM12.3 791.6h63.7v1.6h-63.7zM12.3 796h63.7v1.6h-63.7zM76 796h65v1.6h-65zM12.3 798.2h63.7v1.6h-63.7zM12.3 799.4h63.7v1.4h-63.7zM12.3 800.4h63.7v1.4h-63.7zM76 801.4h65v1.6h-65zM12.3 803.6h63.7v1.9h-63.7zM12.3 807.8h63.7v1.9h-63.7zM12.3 809.3h63.7v1.9h-63.7zM12.3 811.8h63.7v1.9h-63.7zM12.3 813.3h63.7v1.4h-63.7zM141 813.3h64.4v1.4h-64.4zM12.3 819.3h63.7v1.6h-63.7zM12.3 823.2h63.7v1.6h-63.7zM12.3 824.4h63.7v1.6h-63.7zM12.3 830.1h63.7v0.7h-63.7zM141 830.1h64.4v0.7h-64.4zM76 834.6h65v1.4h-65zM141 834.6h64.4v1.4h-64.4zM141 835.6h64.4v1.9h-64.4zM76 837.1h65v1.4h-65zM141 843.3h64.4v1.6h-64.4zM141 844.5h64.4v1.6h-64.4zM141 845.7h64.4v1.6h-64.4zM141 847.9h64.4v1.9h-64.4zM76 852.6h65v1.6h-65zM141 853.8h64.4v1.4h-64.4zM76 856.3h65v1.6h-65zM141 856.3h64.4v1.6h-64.4zM141 857.5h64.4v1.4h-64.4zM141 858.5h64.4v1.9h-64.4zM141 860h64.4v1.6h-64.4zM141 861.2h64.4v1.6h-64.4zM76 862.4h65v1.9h-65zM141 862.4h64.4v1.9h-64.4zM76 863.9h65v1.6h-65zM141 863.9h64.4v1.6h-64.4zM141 867.5h64.4v1.6h-64.4zM141 869.7h64.4v1.4h-64.4zM76 870.7h65v1.4h-65zM141 873.2h64.4v1.9h-64.4zM141 874.7h64.4v1.9h-64.4zM141 876.2h64.4v1.4h-64.4zM76 877.2h65v1.6h-65zM76 885h65v1.9h-65zM141 885h64.4v1.9h-64.4zM141 886.5h64.4v1.9h-64.4zM76 888h65v1.6h-65zM141 889.2h64.4v1.6h-64.4zM141 890.4h64.4v1.4h-64.4zM141 891.4h64.4v1.9h-64.4zM141 894.4h64.4v1.9h-64.4zM76 895.9h65v1.9h-65zM141 897.4h64.4v1.9h-64.4zM76 900.1h65v1.9h-65zM141 900.1h64.4v1.9h-64.4zM76 901.6h65v1.6h-65zM141 901.6h64.4v1.6h-64.4zM76 905h65v1.4h-65zM76 907.5h65v1.6h-65zM141 907.5h64.4v1.6h-64.4z" fill="#b2182b"/>
<path d="M141 750.1h64.4v1.9h-64.4zM76 753.1h65v1.9h-65zM76 757.6h65v1.9h-65zM141 760.1h64.4v1.4h-64.4zM141 764.8h64.4v1.6h-64.4zM141 772.5h64.4v1.4h-64.4zM141 778.1h64.4v1.6h-64.4zM141 779.3h64.4v1.9h-64.4zM141 795h64.4v1.4h-64.4zM76 800.4h65v1.4h-65zM141 800.4h64.4v1.4h-64.4zM141 801.4h64.4v1.6h-64.4zM141 802.6h64.4v1.4h-64.4zM76 805.1h65v1.9h-65zM141 805.1h64.4v1.9h-64.4zM141 809.3h64.4v1.9h-64.4zM141 810.8h64.4v1.4h-64.4zM76 814.3h65v1.4h-65zM141 814.3h64.4v1.4h-64.4zM76 815.3h65v1.9h-65zM76 817.8h65v1.9h-65zM141 817.8h64.4v1.9h-64.4zM141 823.2h64.4v1.6h-64.4zM76 824.4h65v1.6h-65zM76 826.6h65v1.4h-65zM12.3 830.4h63.7v1.6h-63.7zM141 839.6h64.4v1.9h-64.4zM12.3 845.7h63.7v1.6h-63.7zM12.3 853.8h63.7v1.4h-63.7zM76 866.3h65v1.6h-65zM12.3 870.7h63.7v1.4h-63.7zM12.3 876.2h63.7v1.4h-63.7zM12.3 880.8h63.7v1.9h-63.7zM141 883.5h64.4v1.9h-64.4zM12.3 885h63.7v1.9h-63.7zM12.3 886.5h63.7v1.9h-63.7zM12.3 892.9h63.7v1.9h-63.7zM12.3 894.4h63.7v1.9h-63.7zM12.3 895.9h63.7v1.9h-63.7zM12.3 902.8h63.7v1.4h-63.7z" fill="#2b70b2"/>
<path d="M141 751.6h64.4v1.9h-64.4zM141 754.6h64.4v1.9h-64.4zM141 757.6h64.4v1.9h-64.4zM76 762.3h65v1.4h-65zM141 766h64.4v1.4h-64.4zM141 770h64.4v1.4h-64.4zM141 771h64.4v1.9h-64.4zM76 772.5h65v1.4h-65zM141 773.5h64.4v1.6h-64.4zM141 774.7h64.4v1.4h-64.4zM141 775.7h64.4v1.6h-64.4zM141 780.8h64.4v1.4h-64.4zM76 783.3h65v1.4h-65zM141 785.3h64.4v1.6h-64.4zM141 787.7h64.4v1.6h-64.4zM76 791.6h65v1.6h-65zM141 794h64.4v1.4h-64.4zM76 802.6h65v1.4h-65zM141 803.6h64.4v1.9h-64.4zM76 806.6h65v1.6h-65zM141 806.6h64.4v1.6h-64.4zM141 807.8h64.4v1.9h-64.4zM76 811.8h65v1.9h-65zM141 811.8h64.4v1.9h-64.4zM76 813.3h65v1.4h-65zM141 815.3h64.4v1.9h-64.4zM76 816.8h65v1.4h-65zM141 819.3h64.4v1.6h-64.4zM12.3 820.5h63.7v1.9h-63.7zM76 822h65v1.6h-65zM76 823.2h65v1.6h-65zM141 824.4h64.4v1.6h-64.4zM76 825.6h65v1.4h-65zM141 825.6h64.4v1.4h-64.4zM141 826.6h64.4v1.4h-64.4zM141 827.6h64.4v1.4h-64.4zM76 828.6h65v1.9h-65zM141 828.6h64.4v1.9h-64.4zM12.3 831.6h63.7v1.9h-63.7zM12.3 834.6h63.7v1.4h-63.7zM12.3 835.6h63.7v1.9h-63.7zM76 839.6h65v1.9h-65zM76 841.1h65v1.6h-65zM76 842.3h65v1.4h-65zM12.3 844.5h63.7v1.6h-63.7zM12.3 847.9h63.7v1.9h-63.7zM12.3 850.6h63.7v1.4h-63.7zM12.3 851.6h63.7v1.4h-63.7zM12.3 852.6h63.7v1.6h-63.7zM76 854.8h65v1.9h-65zM12.3 861.2h63.7v1.6h-63.7zM12.3 862.4h63.7v1.9h-63.7zM12.3 863.9h63.7v1.6h-63.7zM12.3 867.5h63.7v1.6h-63.7zM141 868.7h64.4v1.4h-64.4zM12.3 869.7h63.7v1.4h-63.7zM76 871.7h65v1.9h-65zM141 879.6h64.4v1.6h-64.4zM12.3 888h63.7v1.6h-63.7zM12.3 890.4h63.7v1.4h-63.7zM12.3 891.4h63.7v1.9h-63.7zM141 892.9h64.4v1.9h-64.4zM12.3 898.9h63.7v1.6h-63.7zM12.3 900.1h63.7v1.9h-63.7zM12.3 901.6h63.7v1.6h-63.7zM141 902.8h64.4v1.4h-64.4zM12.3 905h63.7v1.4h-63.7zM12.3 908.7h63.7v1.4h-63.7zM12.3 909.7h63.7v1.3h-63.7z" fill="#2166ac"/>
<path d="M12.3 753.1h63.7v1.9h-63.7zM76 759.1h65v1.4h-65zM12.3 760.1h63.7v1.4h-63.7zM12.3 761.1h63.7v1.6h-63.7zM76 763.3h65v1.9h-65zM12.3 764.8h63.7v1.6h-63.7zM76 764.8h65v1.6h-65zM12.3 773.5h63.7v1.6h-63.7zM76 776.9h65v1.6h-65zM76 779.3h65v1.9h-65zM12.3 780.8h63.7v1.4h-63.7zM12.3 783.3h63.7v1.4h-63.7zM12.3 785.3h63.7v1.6h-63.7zM12.3 787.7h63.7v1.6h-63.7zM12.3 790.4h63.7v1.6h-63.7zM141 790.4h64.4v1.6h-64.4zM12.3 794h63.7v1.4h-63.7zM76 807.8h65v1.9h-65zM12.3 814.3h63.7v1.4h-63.7zM12.3 817.8h63.7v1.9h-63.7zM12.3 822h63.7v1.6h-63.7zM12.3 827.6h63.7v1.4h-63.7zM76 831.6h65v1.9h-65zM76 835.6h65v1.9h-65zM141 838.1h64.4v1.9h-64.4zM76 845.7h65v1.6h-65zM141 846.9h64.4v1.4h-64.4zM76 847.9h65v1.9h-65zM76 853.8h65v1.4h-65zM76 858.5h65v1.9h-65zM76 865.1h65v1.6h-65zM141 870.7h64.4v1.4h-64.4zM76 876.2h65v1.4h-65zM141 877.2h64.4v1.6h-64.4zM141 878.4h64.4v1.6h-64.4zM76 879.6h65v1.6h-65zM76 882.3h65v1.6h-65zM141 882.3h64.4v1.6h-64.4zM141 888h64.4v1.6h-64.4zM76 890.4h65v1.4h-65zM76 892.9h65v1.9h-65zM141 908.7h64.4v1.4h-64.4z" fill="#c43c3c"/>
<path d="M141 753.1h64.4v1.9h-64.4zM76 760.1h65v1.4h-65zM141 768.5h64.4v1.9h-64.4zM141 816.8h64.4v1.4h-64.4zM12.3 825.6h63.7v1.4h-63.7zM12.3 842.3h63.7v1.4h-63.7zM12.3 857.5h63.7v1.4h-63.7zM76 889.2h65v1.6h-65zM12.3 897.4h63.7v1.9h-63.7z" fill="#f7e3db"/>
<path d="M12.3 762.3h63.7v1.4h-63.7zM141 762.3h64.4v1.4h-64.4zM76 781.8h65v1.9h-65zM141 781.8h64.4v1.9h-64.4zM76 784.3h65v1.4h-65zM76 786.5h65v1.6h-65zM76 792.8h65v1.6h-65zM141 797.2h64.4v1.4h-64.4zM141 798.2h64.4v1.6h-64.4zM12.3 802.6h63.7v1.4h-63.7zM76 810.8h65v1.4h-65zM141 842.3h64.4v1.4h-64.4zM12.3 846.9h63.7v1.4h-63.7zM12.3 854.8h63.7v1.9h-63.7zM12.3 865.1h63.7v1.6h-63.7zM141 865.1h64.4v1.6h-64.4zM12.3 866.3h63.7v1.6h-63.7zM76 867.5h65v1.6h-65zM12.3 871.7h63.7v1.9h-63.7zM12.3 879.6h63.7v1.6h-63.7zM12.3 883.5h63.7v1.9h-63.7zM12.3 889.2h63.7v1.6h-63.7zM76 902.8h65v1.4h-65zM76 903.8h65v1.6h-65zM141 909.7h64.4v1.3h-64.4z" fill="#f7f7f7"/>
<path d="M141 763.3h64.4v1.9h-64.4zM12.3 767h63.7v1.9h-63.7zM12.3 784.3h63.7v1.4h-63.7zM76 797.2h65v1.4h-65zM12.3 816.8h63.7v1.4h-63.7zM141 833.1h64.4v1.9h-64.4zM12.3 841.1h63.7v1.6h-63.7zM141 849.4h64.4v1.6h-64.4zM76 857.5h65v1.4h-65zM76 868.7h65v1.4h-65zM141 871.7h64.4v1.9h-64.4z" fill="#e99a86"/>
<path d="M76 767h65v1.9h-65zM141 767h64.4v1.9h-64.4zM76 780.8h65v1.4h-65zM76 794h65v1.4h-65zM76 827.6h65v1.4h-65zM76 830.4h65v1.6h-65zM141 830.4h64.4v1.6h-64.4zM76 833.1h65v1.9h-65zM12.3 849.4h63.7v1.6h-63.7zM76 849.4h65v1.6h-65zM12.3 868.7h63.7v1.4h-63.7zM12.3 873.2h63.7v1.9h-63.7zM76 897.4h65v1.9h-65z" fill="#c8dcec"/>
<path d="M141 776.9h64.4v1.6h-64.4zM141 783.3h64.4v1.4h-64.4zM141 784.3h64.4v1.4h-64.4zM76 785.3h65v1.6h-65zM141 786.5h64.4v1.6h-64.4zM76 788.9h65v1.9h-65zM141 788.9h64.4v1.9h-64.4zM141 791.6h64.4v1.6h-64.4zM141 792.8h64.4v1.6h-64.4zM76 798.2h65v1.6h-65zM141 799.4h64.4v1.4h-64.4zM76 803.6h65v1.9h-65zM76 809.3h65v1.9h-65zM76 819.3h65v1.6h-65zM141 820.5h64.4v1.9h-64.4zM141 822h64.4v1.6h-64.4zM12.3 837.1h63.7v1.4h-63.7zM12.3 838.1h63.7v1.9h-63.7zM12.3 843.3h63.7v1.6h-63.7zM76 844.5h65v1.6h-65zM12.3 856.3h63.7v1.6h-63.7zM12.3 858.5h63.7v1.9h-63.7zM12.3 860h63.7v1.6h-63.7zM76 873.2h65v1.9h-65zM12.3 874.7h63.7v1.9h-63.7zM12.3 877.2h63.7v1.6h-63.7zM76 883.5h65v1.9h-65zM12.3 906h63.7v1.9h-63.7zM12.3 907.5h63.7v1.6h-63.7z" fill="#4082c0"/>
<path d="M12.3 810.8h63.7v1.4h-63.7zM76 820.5h65v1.9h-65zM12.3 833.1h63.7v1.9h-63.7zM12.3 839.6h63.7v1.9h-63.7zM76 846.9h65v1.4h-65zM12.3 878.4h63.7v1.6h-63.7zM12.3 903.8h63.7v1.6h-63.7zM141 903.8h64.4v1.6h-64.4zM76 909.7h65v1.3h-65z" fill="#f8d0bf"/>
<defs><pattern id="fW" width="53" height="37" patternUnits="userSpaceOnUse"><path d="M21 14h3v1h-3zM24 36h2v1h-2zM35 17h2v1h-2zM46 36h3v1h-3zM49 15h1v1h-1zM28 9h1v1h-1zM46 20h2v1h-2zM16 3h2v1h-2zM50 2h1v1h-1zM18 13h3v1h-3zM46 23h1v1h-1zM8 35h3v1h-3zM7 6h1v1h-1zM44 11h2v1h-2zM17 20h1v1h-1zM39 1h2v1h-2zM27 3h2v1h-2zM25 9h2v1h-2zM42 5h1v1h-1zM1 31h3v1h-3zM14 1h3v1h-3zM8 4h1v1h-1zM46 25h3v1h-3zM34 17h3v1h-3zM0 29h1v1h-1zM11 8h2v1h-2zM45 2h1v1h-1zM42 8h1v1h-1zM41 5h3v1h-3zM38 6h3v1h-3zM14 27h2v1h-2zM46 29h2v1h-2zM50 28h3v1h-3zM42 17h1v1h-1zM43 15h2v1h-2zM24 20h2v1h-2zM50 18h3v1h-3zM46 5h3v1h-3zM35 10h2v1h-2zM1 14h2v1h-2zM30 15h2v1h-2zM15 35h1v1h-1zM31 21h2v1h-2zM14 24h1v1h-1zM52 28h1v1h-1zM35 31h2v1h-2zM22 17h3v1h-3zM1 11h2v1h-2zM40 9h2v1h-2zM26 4h2v1h-2zM32 22h1v1h-1zM43 25h2v1h-2zM18 9h2v1h-2zM24 14h2v1h-2zM45 17h1v1h-1zM19 25h3v1h-3zM44 15h3v1h-3zM32 30h1v1h-1zM14 30h3v1h-3zM30 18h2v1h-2zM15 31h1v1h-1zM36 24h3v1h-3zM39 34h1v1h-1zM48 12h1v1h-1zM51 31h3v1h-3zM23 11h2v1h-2zM1 14h3v1h-3zM39 32h2v1h-2zM9 1h3v1h-3zM1 14h3v1h-3zM39 1h2v1h-2zM24 11h2v1h-2zM33 20h1v1h-1zM31 4h2v1h-2zM12 23h1v1h-1zM17 31h2v1h-2zM48 28h1v1h-1zM45 19h1v1h-1zM19 24h1v1h-1zM34 20h1v1h-1zM48 23h3v1h-3zM5 4h2v1h-2zM24 22h2v1h-2zM29 11h2v1h-2zM10 5h2v1h-2zM0 20h1v1h-1zM20 20h2v1h-2zM12 3h1v1h-1zM52 7h3v1h-3zM9 17h1v1h-1zM22 10h2v1h-2zM49 33h3v1h-3zM30 16h3v1h-3zM36 10h2v1h-2zM51 1h2v1h-2zM33 3h2v1h-2zM42 20h2v1h-2zM18 16h2v1h-2zM17 18h2v1h-2zM4 16h1v1h-1zM9 25h2v1h-2zM23 14h1v1h-1zM50 26h2v1h-2zM26 14h3v1h-3zM52 12h1v1h-1zM18 23h1v1h-1zM11 31h1v1h-1zM44 5h3v1h-3zM51 3h3v1h-3zM40 25h1v1h-1zM42 5h3v1h-3zM52 1h1v1h-1zM43 36h1v1h-1zM28 27h2v1h-2zM17 2h3v1h-3zM39 5h2v1h-2zM24 22h3v1h-3zM12 23h3v1h-3zM33 32h1v1h-1zM43 18h2v1h-2zM11 17h2v1h-2zM31 31h2v1h-2zM15 33h1v1h-1zM10 1h2v1h-2zM5 17h1v1h-1zM51 15h2v1h-2zM8 16h2v1h-2zM10 22h2v1h-2zM50 31h1v1h-1zM5 4h1v1h-1zM50 22h1v1h-1zM5 12h2v1h-2zM23 15h2v1h-2zM9 19h1v1h-1zM10 4h1v1h-1zM45 29h2v1h-2zM34 13h2v1h-2zM30 13h2v1h-2zM5 22h2v1h-2zM31 22h3v1h-3zM30 22h3v1h-3zM39 19h3v1h-3zM6 1h2v1h-2zM9 18h3v1h-3zM30 29h3v1h-3zM30 20h2v1h-2zM5 22h2v1h-2zM7 34h1v1h-1zM18 16h2v1h-2zM21 13h2v1h-2zM32 33h1v1h-1zM47 27h3v1h-3zM38 32h1v1h-1zM14 6h3v1h-3zM9 25h3v1h-3zM35 6h2v1h-2zM49 28h1v1h-1zM12 26h2v1h-2zM52 25h2v1h-2zM45 26h2v1h-2zM18 17h3v1h-3zM2 27h3v1h-3zM12 22h2v1h-2zM43 10h2v1h-2zM50 20h1v1h-1zM44 3h3v1h-3zM3 34h3v1h-3zM50 26h3v1h-3zM10 34h2v1h-2zM8 28h3v1h-3zM49 7h3v1h-3zM51 30h2v1h-2zM5 12h1v1h-1zM19 3h2v1h-2zM42 22h1v1h-1zM38 23h1v1h-1zM21 16h3v1h-3zM23 14h2v1h-2zM36 13h1v1h-1zM0 27h1v1h-1zM0 5h3v1h-3zM8 0h3v1h-3zM31 25h2v1h-2zM34 6h1v1h-1zM40 8h1v1h-1zM42 12h3v1h-3zM43 11h2v1h-2zM45 24h1v1h-1zM10 3h2v1h-2zM11 2h1v1h-1zM7 25h1v1h-1zM4 35h2v1h-2zM50 16h2v1h-2zM11 22h1v1h-1zM52 28h2v1h-2zM29 28h1v1h-1zM15 18h2v1h-2zM0 4h3v1h-3zM27 30h1v1h-1zM21 12h3v1h-3zM1 34h2v1h-2zM0 28h2v1h-2zM16 11h2v1h-2zM28 10h2v1h-2zM30 12h2v1h-2zM40 4h1v1h-1zM17 9h2v1h-2zM28 6h2v1h-2zM18 33h2v1h-2zM2 29h2v1h-2zM48 21h2v1h-2zM51 19h3v1h-3zM3 6h3v1h-3zM33 14h3v1h-3zM49 0h2v1h-2zM34 22h1v1h-1zM16 29h1v1h-1zM47 32h2v1h-2zM12 12h2v1h-2zM5 22h2v1h-2zM12 3h2v1h-2zM36 12h2v1h-2zM52 17h3v1h-3zM13 23h2v1h-2zM25 33h2v1h-2zM18 28h1v1h-1zM33 17h3v1h-3zM24 2h1v1h-1zM33 7h2v1h-2zM40 26h3v1h-3zM38 35h1v1h-1zM35 25h1v1h-1zM6 18h1v1h-1zM40 8h1v1h-1zM16 12h1v1h-1zM13 27h2v1h-2zM28 6h3v1h-3zM36 7h2v1h-2zM14 9h2v1h-2zM26 22h2v1h-2zM12 35h3v1h-3zM9 34h3v1h-3zM45 6h2v1h-2zM37 16h2v1h-2zM25 23h1v1h-1zM44 25h1v1h-1zM42 23h2v1h-2zM0 5h1v1h-1zM37 26h1v1h-1zM51 29h2v1h-2zM37 14h2v1h-2zM35 11h2v1h-2zM44 36h3v1h-3zM43 24h3v1h-3zM27 5h2v1h-2zM40 27h2v1h-2zM47 0h2v1h-2zM13 27h2v1h-2zM24 6h2v1h-2zM14 28h3v1h-3zM36 3h2v1h-2zM29 32h3v1h-3zM4 9h2v1h-2zM38 8h2v1h-2zM44 15h1v1h-1zM21 28h2v1h-2zM15 22h3v1h-3zM42 8h2v1h-2zM1 26h3v1h-3zM13 18h2v1h-2zM1 19h3v1h-3zM14 27h3v1h-3zM45 18h3v1h-3zM46 14h1v1h-1zM52 12h1v1h-1zM13 25h2v1h-2zM11 28h3v1h-3zM19 10h2v1h-2zM23 24h1v1h-1zM30 29h2v1h-2zM51 0h2v1h-2zM6 18h1v1h-1zM47 20h2v1h-2zM9 31h2v1h-2zM39 7h3v1h-3zM28 36h2v1h-2zM29 25h3v1h-3zM17 31h1v1h-1zM38 7h2v1h-2zM32 32h2v1h-2zM28 5h3v1h-3zM45 28h1v1h-1zM14 13h3v1h-3zM52 27h1v1h-1zM0 7h2v1h-2zM37 26h1v1h-1zM17 5h3v1h-3zM7 11h2v1h-2zM40 35h2v1h-2zM37 5h1v1h-1zM43 6h2v1h-2zM50 8h2v1h-2zM35 19h2v1h-2zM24 14h2v1h-2zM30 30h2v1h-2zM24 23h2v1h-2zM41 18h2v1h-2zM43 24h2v1h-2zM41 28h2v1h-2zM36 17h3v1h-3zM24 1h1v1h-1zM44 4h3v1h-3zM5 1h2v1h-2z" fill="#f7f7f7"/></pattern></defs>
<defs><pattern id="fW2" width="47" height="31" patternUnits="userSpaceOnUse"><path d="M7 0h3v1h-3zM17 7h3v1h-3zM8 23h1v1h-1zM43 23h1v1h-1zM5 18h3v1h-3zM2 0h2v1h-2zM13 7h1v1h-1zM38 0h3v1h-3zM12 22h3v1h-3zM44 17h3v1h-3zM14 14h2v1h-2zM17 25h3v1h-3zM10 22h1v1h-1zM21 8h2v1h-2zM13 30h1v1h-1zM6 2h2v1h-2zM6 11h2v1h-2zM38 8h2v1h-2zM46 14h1v1h-1zM7 29h3v1h-3zM5 17h2v1h-2zM40 19h2v1h-2zM36 6h2v1h-2zM4 1h3v1h-3zM14 24h3v1h-3zM5 27h2v1h-2zM6 12h1v1h-1zM29 20h2v1h-2zM10 11h2v1h-2zM13 21h2v1h-2zM44 29h2v1h-2zM41 2h3v1h-3zM40 5h3v1h-3zM46 7h3v1h-3zM29 12h1v1h-1zM40 22h2v1h-2zM14 21h3v1h-3zM3 7h2v1h-2zM20 12h1v1h-1zM4 6h2v1h-2zM45 10h3v1h-3zM41 15h1v1h-1zM41 14h2v1h-2zM16 4h1v1h-1zM35 17h1v1h-1zM37 13h2v1h-2zM25 11h3v1h-3zM8 16h1v1h-1zM5 24h2v1h-2zM7 4h1v1h-1zM10 25h3v1h-3zM27 19h3v1h-3zM24 12h1v1h-1zM29 16h3v1h-3zM35 27h2v1h-2zM43 23h1v1h-1zM43 28h1v1h-1zM17 24h3v1h-3zM21 3h3v1h-3zM27 5h2v1h-2zM0 30h2v1h-2zM46 8h3v1h-3zM11 16h3v1h-3zM40 9h1v1h-1zM32 19h3v1h-3zM9 11h1v1h-1zM34 30h1v1h-1zM0 19h3v1h-3zM31 0h2v1h-2zM23 28h1v1h-1zM15 1h2v1h-2zM36 30h1v1h-1zM5 23h1v1h-1zM4 24h2v1h-2zM8 4h3v1h-3zM30 30h3v1h-3zM10 8h3v1h-3zM38 13h3v1h-3zM34 24h1v1h-1zM44 6h3v1h-3zM19 12h3v1h-3zM41 11h3v1h-3zM33 14h2v1h-2zM15 7h1v1h-1zM21 0h1v1h-1zM35 7h3v1h-3zM14 0h3v1h-3zM45 20h1v1h-1zM14 2h1v1h-1zM21 2h1v1h-1zM15 8h3v1h-3zM31 6h3v1h-3zM8 23h3v1h-3zM36 15h3v1h-3zM30 25h1v1h-1zM12 3h2v1h-2zM42 13h1v1h-1zM27 13h2v1h-2zM46 1h2v1h-2zM41 20h3v1h-3zM3 12h1v1h-1zM21 25h3v1h-3zM15 6h1v1h-1zM34 14h1v1h-1zM27 5h1v1h-1zM29 7h2v1h-2zM28 25h1v1h-1zM6 1h3v1h-3zM34 26h3v1h-3zM5 29h1v1h-1zM10 13h1v1h-1zM30 6h2v1h-2zM3 5h2v1h-2zM0 12h2v1h-2zM29 9h2v1h-2zM44 30h2v1h-2z" fill="#f6c6b2"/></pattern></defs>
<defs><pattern id="fR" width="51" height="35" patternUnits="userSpaceOnUse"><path d="M18 9h1v1h-1zM23 6h3v1h-3zM38 31h3v1h-3zM32 27h1v1h-1zM39 27h2v1h-2zM11 3h3v1h-3zM7 24h1v1h-1zM6 10h2v1h-2zM8 24h3v1h-3zM36 11h2v1h-2zM4 3h3v1h-3zM11 3h1v1h-1zM18 17h2v1h-2zM33 6h1v1h-1zM6 29h1v1h-1zM21 33h2v1h-2zM10 8h3v1h-3zM49 20h1v1h-1zM37 17h1v1h-1zM46 11h2v1h-2zM35 7h1v1h-1zM31 23h2v1h-2zM2 30h3v1h-3zM38 5h3v1h-3zM8 5h2v1h-2zM36 19h2v1h-2zM44 34h1v1h-1zM28 2h3v1h-3zM0 6h2v1h-2zM8 1h1v1h-1zM7 34h2v1h-2zM16 29h3v1h-3zM24 5h2v1h-2zM5 13h1v1h-1zM12 25h3v1h-3zM38 26h2v1h-2zM25 22h2v1h-2zM11 34h1v1h-1zM50 12h2v1h-2zM42 14h1v1h-1zM14 22h2v1h-2zM49 13h2v1h-2zM24 14h3v1h-3zM29 32h1v1h-1zM6 1h1v1h-1zM34 32h1v1h-1zM37 22h1v1h-1zM14 8h2v1h-2zM48 25h3v1h-3zM15 0h2v1h-2zM44 14h1v1h-1zM36 26h1v1h-1zM24 27h2v1h-2zM0 11h1v1h-1zM7 21h3v1h-3zM16 34h2v1h-2zM34 9h2v1h-2zM12 15h2v1h-2zM5 17h1v1h-1zM44 17h3v1h-3zM30 21h1v1h-1zM20 14h2v1h-2zM46 13h1v1h-1zM40 9h3v1h-3zM36 28h2v1h-2zM46 30h2v1h-2zM19 31h3v1h-3zM46 27h3v1h-3zM13 9h1v1h-1zM41 6h1v1h-1zM49 14h1v1h-1zM12 33h2v1h-2zM16 10h1v1h-1zM29 26h3v1h-3zM4 21h2v1h-2zM28 17h3v1h-3zM8 7h3v1h-3zM22 21h2v1h-2zM6 24h2v1h-2zM20 19h3v1h-3zM15 29h2v1h-2zM23 19h2v1h-2zM15 18h3v1h-3zM11 19h1v1h-1zM50 9h2v1h-2zM8 11h2v1h-2zM16 31h2v1h-2zM33 11h3v1h-3zM6 32h2v1h-2zM8 6h2v1h-2zM19 32h3v1h-3zM6 9h2v1h-2zM3 24h3v1h-3zM40 29h3v1h-3zM34 6h3v1h-3zM43 31h1v1h-1zM4 18h3v1h-3zM42 13h1v1h-1zM44 5h3v1h-3zM30 9h3v1h-3zM22 0h2v1h-2zM16 21h1v1h-1zM5 20h1v1h-1zM1 22h2v1h-2zM20 7h2v1h-2zM29 3h3v1h-3zM40 5h1v1h-1zM6 12h2v1h-2zM15 2h2v1h-2zM2 7h3v1h-3zM19 1h1v1h-1zM39 32h1v1h-1zM16 17h2v1h-2zM38 11h3v1h-3zM40 20h2v1h-2zM36 26h3v1h-3zM42 21h3v1h-3zM23 13h3v1h-3zM27 31h3v1h-3zM33 9h1v1h-1zM2 11h3v1h-3zM4 28h1v1h-1zM29 6h1v1h-1zM1 16h1v1h-1zM14 31h3v1h-3zM15 20h1v1h-1zM6 25h2v1h-2zM8 0h1v1h-1zM41 7h1v1h-1zM2 4h3v1h-3zM47 6h2v1h-2zM32 1h3v1h-3zM44 20h2v1h-2zM18 27h2v1h-2zM28 5h1v1h-1zM39 0h1v1h-1zM1 27h1v1h-1zM16 34h2v1h-2zM1 22h2v1h-2zM19 2h3v1h-3zM41 25h1v1h-1zM50 17h2v1h-2zM5 22h2v1h-2zM50 13h1v1h-1zM26 21h1v1h-1zM36 28h2v1h-2zM7 31h2v1h-2zM32 11h2v1h-2zM28 27h1v1h-1zM30 11h3v1h-3zM42 17h2v1h-2zM31 26h2v1h-2zM20 20h1v1h-1zM6 32h2v1h-2zM48 30h3v1h-3zM49 24h2v1h-2zM2 1h3v1h-3zM10 18h1v1h-1zM47 22h2v1h-2zM9 33h2v1h-2zM26 0h3v1h-3zM40 15h2v1h-2zM19 0h2v1h-2zM3 19h2v1h-2zM7 28h2v1h-2zM16 9h2v1h-2zM1 5h2v1h-2zM16 11h2v1h-2zM32 2h3v1h-3zM5 24h2v1h-2zM34 8h2v1h-2zM48 4h2v1h-2zM39 28h2v1h-2zM5 30h2v1h-2zM48 7h1v1h-1zM8 31h2v1h-2zM18 22h3v1h-3zM3 25h2v1h-2zM40 29h2v1h-2zM20 1h2v1h-2zM15 11h2v1h-2zM5 34h2v1h-2zM45 0h3v1h-3zM21 18h3v1h-3zM15 12h2v1h-2zM35 33h3v1h-3zM21 14h3v1h-3zM20 14h2v1h-2zM5 18h3v1h-3zM7 30h2v1h-2zM7 24h2v1h-2zM1 18h1v1h-1zM13 18h2v1h-2zM24 2h1v1h-1zM3 2h2v1h-2zM25 7h3v1h-3zM43 8h2v1h-2zM44 27h1v1h-1zM5 33h2v1h-2zM7 17h2v1h-2zM28 6h1v1h-1zM20 31h2v1h-2zM35 22h3v1h-3zM5 27h2v1h-2zM15 22h2v1h-2zM30 5h3v1h-3zM13 6h1v1h-1zM18 12h3v1h-3zM29 10h3v1h-3zM22 10h1v1h-1zM29 15h1v1h-1zM35 20h1v1h-1zM20 10h3v1h-3zM26 11h3v1h-3zM34 3h3v1h-3zM29 2h1v1h-1zM0 18h3v1h-3zM17 8h3v1h-3zM14 16h2v1h-2zM46 23h3v1h-3zM6 21h3v1h-3zM22 8h2v1h-2zM34 29h2v1h-2zM32 0h3v1h-3zM43 1h2v1h-2zM0 1h3v1h-3zM7 10h2v1h-2zM24 13h1v1h-1zM29 32h3v1h-3zM9 28h2v1h-2zM5 11h2v1h-2zM35 16h2v1h-2zM5 11h1v1h-1zM16 31h2v1h-2zM33 0h2v1h-2zM23 2h3v1h-3zM4 7h2v1h-2zM19 5h1v1h-1zM16 1h2v1h-2zM47 26h2v1h-2zM1 7h2v1h-2zM21 29h2v1h-2zM33 16h2v1h-2zM2 17h2v1h-2zM31 1h1v1h-1zM21 13h2v1h-2zM25 24h2v1h-2zM2 19h3v1h-3zM16 27h3v1h-3zM41 6h1v1h-1zM29 26h1v1h-1zM12 12h2v1h-2zM27 7h3v1h-3zM47 23h2v1h-2zM13 11h3v1h-3zM14 4h1v1h-1zM24 3h1v1h-1zM29 23h1v1h-1zM47 14h2v1h-2zM7 24h2v1h-2zM2 19h1v1h-1zM49 23h3v1h-3zM45 8h2v1h-2zM41 15h2v1h-2zM2 0h3v1h-3zM30 7h2v1h-2zM21 12h1v1h-1zM28 20h2v1h-2zM32 1h2v1h-2zM45 32h2v1h-2zM32 24h1v1h-1zM19 4h3v1h-3zM8 14h2v1h-2zM23 30h2v1h-2zM7 1h3v1h-3zM0 8h3v1h-3zM28 16h3v1h-3zM48 24h2v1h-2zM40 26h3v1h-3zM2 32h2v1h-2zM41 1h3v1h-3zM36 3h3v1h-3zM0 11h1v1h-1zM31 22h2v1h-2zM13 5h2v1h-2zM20 5h2v1h-2zM45 1h1v1h-1zM31 22h2v1h-2zM10 33h3v1h-3zM48 20h2v1h-2zM3 0h1v1h-1zM9 23h1v1h-1zM48 5h1v1h-1zM38 13h2v1h-2zM40 6h2v1h-2zM37 34h1v1h-1zM36 12h3v1h-3zM3 21h2v1h-2zM32 4h2v1h-2zM24 9h3v1h-3zM1 7h1v1h-1zM10 7h3v1h-3zM33 3h1v1h-1z" fill="#b2182b"/></pattern></defs>
<defs><pattern id="fB" width="49" height="39" patternUnits="userSpaceOnUse"><path d="M33 34h3v1h-3zM11 24h1v1h-1zM18 1h2v1h-2zM7 36h2v1h-2zM6 10h1v1h-1zM44 24h2v1h-2zM44 20h3v1h-3zM4 21h2v1h-2zM39 10h2v1h-2zM32 4h1v1h-1zM17 20h1v1h-1zM40 18h1v1h-1zM22 24h1v1h-1zM30 30h1v1h-1zM12 8h2v1h-2zM47 15h2v1h-2zM2 27h1v1h-1zM47 21h1v1h-1zM30 29h2v1h-2zM14 30h2v1h-2zM47 22h3v1h-3zM17 10h1v1h-1zM14 0h1v1h-1zM22 36h2v1h-2zM25 7h2v1h-2zM21 7h2v1h-2zM38 3h2v1h-2zM48 3h3v1h-3zM7 9h3v1h-3zM41 0h2v1h-2zM41 4h2v1h-2zM4 0h2v1h-2zM17 11h3v1h-3zM3 17h2v1h-2zM16 4h3v1h-3zM34 31h2v1h-2zM18 31h1v1h-1zM25 25h2v1h-2zM35 28h2v1h-2zM20 16h1v1h-1zM8 8h2v1h-2zM28 25h1v1h-1zM28 5h2v1h-2zM36 8h2v1h-2zM47 34h2v1h-2zM15 2h2v1h-2zM35 31h2v1h-2zM32 17h1v1h-1zM44 8h3v1h-3zM16 8h3v1h-3zM38 23h2v1h-2zM20 20h1v1h-1zM9 0h3v1h-3zM25 25h1v1h-1zM36 32h3v1h-3zM14 14h3v1h-3zM44 9h2v1h-2zM21 19h1v1h-1zM34 13h1v1h-1zM10 12h2v1h-2zM4 7h1v1h-1zM25 34h1v1h-1zM40 19h1v1h-1zM8 17h3v1h-3zM43 4h2v1h-2zM34 37h2v1h-2zM41 18h2v1h-2zM2 13h1v1h-1zM12 1h1v1h-1zM4 11h2v1h-2zM10 27h1v1h-1zM24 23h2v1h-2zM37 17h2v1h-2zM19 16h2v1h-2zM10 11h3v1h-3zM11 18h3v1h-3zM31 30h3v1h-3zM19 36h2v1h-2zM31 24h3v1h-3zM29 7h3v1h-3zM37 12h2v1h-2zM14 30h2v1h-2zM22 2h2v1h-2zM14 27h2v1h-2zM19 2h3v1h-3zM34 27h2v1h-2zM0 14h1v1h-1zM1 11h2v1h-2zM42 20h2v1h-2zM28 31h2v1h-2zM36 37h1v1h-1zM18 10h1v1h-1zM48 36h2v1h-2zM42 0h2v1h-2zM10 3h2v1h-2zM3 4h3v1h-3zM24 7h2v1h-2zM28 16h2v1h-2zM14 33h1v1h-1zM22 4h1v1h-1zM3 1h1v1h-1zM41 31h2v1h-2zM34 21h1v1h-1zM14 34h3v1h-3zM1 2h3v1h-3zM25 1h1v1h-1zM7 38h1v1h-1zM40 38h2v1h-2zM35 3h3v1h-3zM30 37h3v1h-3zM4 34h2v1h-2zM7 33h3v1h-3zM13 6h2v1h-2zM17 17h2v1h-2zM34 21h2v1h-2zM39 32h1v1h-1zM44 35h3v1h-3zM21 12h1v1h-1zM0 28h3v1h-3zM8 0h3v1h-3zM15 12h3v1h-3zM48 36h2v1h-2zM27 21h2v1h-2zM21 2h3v1h-3zM20 29h3v1h-3zM37 23h2v1h-2zM2 30h2v1h-2zM45 38h3v1h-3zM17 19h1v1h-1zM46 18h2v1h-2zM29 0h2v1h-2zM12 31h1v1h-1zM15 33h2v1h-2zM20 10h2v1h-2zM0 1h2v1h-2zM26 30h1v1h-1zM38 14h2v1h-2zM31 19h2v1h-2zM9 25h2v1h-2zM40 35h2v1h-2zM23 33h3v1h-3zM23 17h1v1h-1zM2 5h1v1h-1zM33 1h2v1h-2zM35 31h3v1h-3zM43 10h2v1h-2zM10 16h1v1h-1zM46 26h3v1h-3zM16 34h1v1h-1zM0 20h1v1h-1zM41 16h3v1h-3zM11 6h1v1h-1zM40 16h3v1h-3zM19 1h2v1h-2zM11 22h1v1h-1zM27 18h3v1h-3zM33 5h3v1h-3zM0 26h2v1h-2zM7 29h2v1h-2zM28 32h3v1h-3zM12 20h2v1h-2zM24 1h2v1h-2zM20 33h2v1h-2zM18 33h3v1h-3zM3 36h3v1h-3zM38 27h2v1h-2zM1 32h2v1h-2zM6 21h3v1h-3zM39 29h2v1h-2zM43 19h1v1h-1zM32 3h1v1h-1zM39 5h2v1h-2zM44 5h1v1h-1zM11 8h1v1h-1zM16 0h2v1h-2zM21 3h3v1h-3zM32 1h2v1h-2zM27 1h2v1h-2zM10 7h1v1h-1zM23 29h3v1h-3zM23 23h2v1h-2zM45 5h2v1h-2zM2 3h3v1h-3zM15 17h3v1h-3zM26 22h2v1h-2zM47 35h3v1h-3zM1 29h2v1h-2zM23 37h2v1h-2zM20 9h2v1h-2zM17 2h2v1h-2zM6 35h2v1h-2zM42 27h1v1h-1zM37 26h2v1h-2zM2 25h3v1h-3zM47 5h2v1h-2zM42 14h3v1h-3zM35 5h1v1h-1zM13 23h2v1h-2zM38 1h1v1h-1zM2 27h2v1h-2zM38 22h1v1h-1zM14 9h2v1h-2zM18 26h2v1h-2zM10 7h1v1h-1zM19 5h2v1h-2zM8 6h2v1h-2zM2 25h3v1h-3zM46 18h1v1h-1zM39 2h2v1h-2zM3 18h2v1h-2zM44 37h3v1h-3zM12 15h2v1h-2zM20 3h2v1h-2zM47 11h2v1h-2zM14 30h3v1h-3zM39 20h1v1h-1zM5 15h2v1h-2zM32 0h1v1h-1zM37 23h2v1h-2zM26 27h1v1h-1zM36 27h3v1h-3zM34 24h3v1h-3zM40 36h2v1h-2zM2 27h3v1h-3zM25 28h1v1h-1zM47 27h3v1h-3zM27 26h3v1h-3zM46 26h2v1h-2zM31 7h2v1h-2zM8 11h2v1h-2zM33 32h2v1h-2zM48 4h3v1h-3zM2 32h3v1h-3zM36 30h2v1h-2zM0 23h3v1h-3zM5 3h2v1h-2zM38 23h2v1h-2zM11 21h3v1h-3zM30 22h2v1h-2zM1 5h1v1h-1zM44 18h2v1h-2zM39 35h3v1h-3zM43 18h3v1h-3zM46 14h2v1h-2zM23 21h1v1h-1zM26 23h3v1h-3zM29 30h1v1h-1zM29 32h2v1h-2zM46 12h2v1h-2zM40 4h2v1h-2zM1 14h3v1h-3zM19 2h3v1h-3zM40 37h3v1h-3zM20 29h2v1h-2zM10 13h2v1h-2zM21 13h3v1h-3zM28 24h2v1h-2zM18 16h1v1h-1zM26 27h2v1h-2zM5 29h1v1h-1zM45 21h1v1h-1zM40 33h2v1h-2zM11 15h1v1h-1zM15 11h2v1h-2zM48 17h1v1h-1zM35 27h2v1h-2zM21 0h2v1h-2zM2 12h1v1h-1zM35 9h3v1h-3zM35 23h3v1h-3zM40 23h2v1h-2zM1 22h2v1h-2zM42 21h1v1h-1zM47 19h2v1h-2zM46 34h1v1h-1zM0 7h2v1h-2zM21 1h3v1h-3zM8 27h2v1h-2zM31 30h1v1h-1zM23 20h2v1h-2zM29 36h2v1h-2zM34 15h1v1h-1zM19 31h2v1h-2zM25 25h2v1h-2zM11 14h2v1h-2zM1 31h2v1h-2zM29 36h1v1h-1zM41 5h3v1h-3zM20 37h2v1h-2zM38 32h2v1h-2zM18 11h3v1h-3zM31 6h2v1h-2zM41 0h2v1h-2zM13 11h1v1h-1zM0 36h2v1h-2zM38 9h3v1h-3zM13 28h1v1h-1zM5 35h1v1h-1zM19 4h3v1h-3zM10 38h1v1h-1zM37 2h2v1h-2zM15 29h1v1h-1zM43 8h1v1h-1zM15 11h2v1h-2zM48 30h2v1h-2zM36 22h2v1h-2zM38 23h3v1h-3zM6 17h1v1h-1zM20 34h3v1h-3zM44 22h1v1h-1zM32 17h2v1h-2zM40 6h1v1h-1zM37 37h2v1h-2zM33 29h3v1h-3zM18 6h3v1h-3zM4 2h2v1h-2zM46 13h3v1h-3zM3 5h3v1h-3zM13 20h2v1h-2zM19 29h1v1h-1zM1 16h1v1h-1zM39 2h2v1h-2zM3 17h2v1h-2zM32 16h1v1h-1z" fill="#2166ac"/></pattern></defs>
<rect x="12.3" y="750.1" width="63.7" height="80.3" fill="url(#fB)" opacity="0.35"/>
<rect x="12.3" y="750.1" width="63.7" height="80.3" fill="url(#fW2)" opacity="0.9"/>
<rect x="12.3" y="750.1" width="63.7" height="80.3" fill="url(#fW)" opacity="0.7"/>
<rect x="76" y="750.1" width="65" height="80.3" fill="url(#fR)" opacity="0.6"/>
<rect x="76" y="750.1" width="65" height="80.3" fill="url(#fB)" opacity="0.6"/>
<rect x="76" y="750.1" width="65" height="80.3" fill="url(#fW)" opacity="0.75"/>
<rect x="141" y="750.1" width="64.4" height="80.3" fill="url(#fR)" opacity="0.3"/>
<rect x="141" y="750.1" width="64.4" height="80.3" fill="url(#fW)" opacity="0.85"/>
<rect x="12.3" y="830.4" width="63.7" height="80.6" fill="url(#fR)" opacity="0.3"/>
<rect x="12.3" y="830.4" width="63.7" height="80.6" fill="url(#fW)" opacity="0.85"/>
<rect x="76" y="830.4" width="65" height="80.6" fill="url(#fB)" opacity="0.35"/>
<rect x="76" y="830.4" width="65" height="80.6" fill="url(#fW2)" opacity="0.9"/>
<rect x="76" y="830.4" width="65" height="80.6" fill="url(#fW)" opacity="0.7"/>
<rect x="141" y="830.4" width="64.4" height="80.6" fill="url(#fB)" opacity="0.35"/>
<rect x="141" y="830.4" width="64.4" height="80.6" fill="url(#fW2)" opacity="0.9"/>
<rect x="141" y="830.4" width="64.4" height="80.6" fill="url(#fW)" opacity="0.7"/>
<line x1="76.00" y1="750.10" x2="76.00" y2="911.00" stroke="#222" stroke-width="0.8"/>
<line x1="141.00" y1="750.10" x2="141.00" y2="911.00" stroke="#222" stroke-width="0.8"/>
<rect x="12.3" y="750.1" width="193.1" height="160.9" fill="none" stroke="#333" stroke-width="0.8"/>
<text x="108.8" y="922.4" font-size="10.2" text-anchor="middle" textLength="22.0" lengthAdjust="spacingAndGlyphs">Cells</text>
<text x="9.5" y="790.6" font-size="9.5" text-anchor="middle" textLength="60.0" lengthAdjust="spacingAndGlyphs" transform="rotate(-90 9.5 790.6)">AC-like genes</text>
<text x="9.5" y="871.8" font-size="9.5" text-anchor="middle" textLength="66.0" lengthAdjust="spacingAndGlyphs" transform="rotate(-90 9.5 871.8)">GPC-like genes</text>
<text x="230.4" y="721.1" font-size="13" font-weight="bold" fill="#000">g</text>
<line x1="335.40" y1="741.00" x2="329.70" y2="763.80" stroke="#c8c8c8" stroke-width="0.9"/>
<line x1="329.70" y1="763.80" x2="320.50" y2="797.50" stroke="#c8c8c8" stroke-width="0.9"/>
<line x1="320.50" y1="797.50" x2="310.60" y2="835.30" stroke="#c8c8c8" stroke-width="0.9"/>
<line x1="310.60" y1="835.30" x2="289.30" y2="864.40" stroke="#c8c8c8" stroke-width="0.9"/>
<line x1="310.60" y1="835.30" x2="316.70" y2="872.40" stroke="#c8c8c8" stroke-width="0.9"/>
<line x1="289.30" y1="864.40" x2="316.70" y2="872.40" stroke="#c8c8c8" stroke-width="0.9"/>
<line x1="289.30" y1="864.40" x2="263.50" y2="878.00" stroke="#c8c8c8" stroke-width="0.9"/>
<line x1="316.70" y1="872.40" x2="331.40" y2="893.90" stroke="#c8c8c8" stroke-width="0.9"/>
<circle cx="335.4" cy="741" r="8.2" fill="#e8a22e" stroke="#6a5020" stroke-width="0.5"/>
<circle cx="329.7" cy="763.8" r="8.2" fill="#e8a22e" stroke="#6a5020" stroke-width="0.5"/>
<circle cx="320.5" cy="797.5" r="8.2" fill="#e8a22e" stroke="#6a5020" stroke-width="0.5"/>
<circle cx="310.6" cy="835.3" r="8.2" fill="#e8a22e" stroke="#6a5020" stroke-width="0.5"/>
<circle cx="289.3" cy="864.4" r="8.2" fill="#e8a22e" stroke="#6a5020" stroke-width="0.5"/>
<circle cx="316.7" cy="872.4" r="8.2" fill="#e8a22e" stroke="#6a5020" stroke-width="0.5"/>
<circle cx="263.5" cy="878" r="8.2" fill="#e8a22e" stroke="#6a5020" stroke-width="0.5"/>
<circle cx="331.4" cy="893.9" r="8.2" fill="#e8a22e" stroke="#6a5020" stroke-width="0.5"/>
<text x="292.0" y="734.7" font-size="9.5" textLength="36.0" lengthAdjust="spacingAndGlyphs" fill="#353c98">NEU-like</text>
<text x="283.3" y="764.0" font-size="9.5" textLength="36.5" lengthAdjust="spacingAndGlyphs" fill="#353c98">NPC-like</text>
<text x="272.6" y="798.0" font-size="9.5" textLength="38.0" lengthAdjust="spacingAndGlyphs" fill="#353c98">OPC-like</text>
<text x="265.9" y="831.5" font-size="9.5" textLength="38.0" lengthAdjust="spacingAndGlyphs" fill="#353c98">GPC-like</text>
<text x="250.8" y="854.0" font-size="9.5" textLength="37.0" lengthAdjust="spacingAndGlyphs" fill="#353c98">MES-like</text>
<text x="324.6" y="864.4" font-size="9.5" textLength="30.4" lengthAdjust="spacingAndGlyphs" fill="#353c98">AC-like</text>
<text x="340.4" y="887.0" font-size="9.5" textLength="37.1" lengthAdjust="spacingAndGlyphs" fill="#353c98">Cilia-like</text>
<text x="242.9" y="897.7" font-size="9.5" textLength="35.1" lengthAdjust="spacingAndGlyphs" fill="#353c98">Hypoxia</text>
<text x="391.6" y="719.7" font-size="13" font-weight="bold" fill="#000">h</text>
<rect x="431.2" y="747.3" width="211.9" height="149.6" fill="none" stroke="#999" stroke-width="1"/>
<path d="M529 849h0M494 854h0M454 863h0M501 845h0M523 800h0M571 848h0M511 816h0M543 805h0M467 763h0M467 851h0M564 823h0M498 875h0M602 773h0M597 866h0M594 858h0M613 777h0M545 852h0M493 871h0M488 787h0M561 875h0M595 791h0M545 832h0M494 850h0M509 818h0M572 807h0M500 849h0M523 820h0M447 892h0M568 793h0M526 795h0M585 875h0M489 843h0M594 804h0M578 815h0M480 867h0M475 779h0M458 763h0M463 767h0M483 857h0M468 874h0M477 779h0M619 877h0M475 864h0M444 880h0M567 845h0M604 765h0M567 808h0M624 764h0M602 884h0M593 858h0M580 852h0M574 796h0M464 887h0M458 862h0M598 871h0M592 875h0M583 862h0M583 837h0M578 830h0M582 770h0M600 775h0M497 778h0M593 781h0M487 849h0M468 789h0M485 876h0M552 805h0M500 836h0M468 883h0M612 877h0M571 877h0M471 775h0M558 853h0M607 870h0M579 784h0M575 825h0M587 846h0M499 816h0M533 867h0M628 765h0M496 796h0M539 796h0M611 777h0M498 796h0M519 827h0M510 871h0M609 769h0M575 831h0M456 871h0M503 814h0M545 863h0M493 858h0M468 859h0M578 795h0M569 856h0M478 785h0M521 809h0M595 875h0M517 831h0M487 835h0M448 882h0M503 824h0M557 845h0M460 870h0M588 791h0M592 875h0M595 873h0M577 843h0M595 765h0M491 867h0M524 840h0M520 858h0M598 784h0M531 834h0M527 797h0M554 852h0M595 792h0M577 792h0M568 830h0M493 776h0M489 793h0M529 845h0M491 837h0M471 888h0M551 855h0M461 778h0M619 875h0M498 829h0M487 875h0M509 835h0M492 781h0M500 826h0M582 813h0M532 802h0M591 765h0M487 838h0M617 762h0M532 851h0M467 890h0M602 865h0M535 841h0M495 871h0M492 795h0M509 866h0M557 805h0M561 827h0M536 822h0M567 780h0M581 814h0M505 809h0M558 819h0M575 818h0M471 852h0M596 867h0M590 874h0M621 767h0M459 868h0M579 859h0M604 865h0M578 859h0M562 869h0M572 841h0M619 778h0M547 851h0M565 870h0M515 858h0M590 769h0M488 842h0M512 864h0M553 805h0M546 849h0M514 835h0M612 773h0M486 864h0M573 794h0M600 872h0M597 880h0M595 804h0M576 826h0M575 778h0M534 864h0M539 858h0M594 864h0M568 852h0M608 879h0M460 885h0M442 874h0M551 851h0M490 774h0M562 839h0M525 828h0M534 850h0M612 783h0M555 858h0M485 831h0M506 814h0M537 866h0M503 823h0M580 853h0M606 863h0M489 858h0M444 889h0M455 885h0M561 836h0M587 813h0M605 789h0M475 856h0M593 788h0M494 825h0M570 810h0M491 811h0M593 789h0M497 804h0M515 860h0M473 878h0M527 803h0M492 780h0M458 861h0M572 791h0M490 782h0M481 867h0M509 845h0M490 836h0M585 873h0M561 857h0M548 799h0M473 852h0M603 774h0M605 872h0M530 827h0M523 862h0M488 840h0M574 793h0M497 844h0M534 818h0M492 812h0M525 820h0M609 861h0M463 888h0M584 799h0M553 814h0M483 799h0M504 877h0M564 852h0M443 884h0M566 876h0M523 791h0M625 777h0M466 864h0M481 795h0M606 866h0M492 816h0M539 823h0M511 816h0M588 780h0M570 819h0M484 775h0M524 863h0M501 782h0M544 865h0M577 849h0M571 827h0M620 775h0M468 773h0M545 858h0M448 868h0M600 851h0M505 810h0M564 824h0M509 826h0M455 889h0M578 869h0M564 862h0M591 804h0M590 797h0M544 839h0M606 782h0M527 820h0M546 853h0M486 874h0M608 770h0M447 869h0M584 776h0M469 875h0M583 863h0M584 865h0M515 816h0M517 816h0M599 855h0M478 788h0M623 764h0M595 776h0M498 866h0M551 863h0M615 881h0M501 862h0M556 799h0M466 856h0M582 799h0M524 853h0M558 854h0M561 852h0M443 873h0M550 821h0M530 813h0M524 828h0M530 800h0M451 869h0M477 860h0M602 883h0M578 812h0M518 822h0M562 817h0M588 773h0M589 811h0M466 777h0M576 792h0M616 776h0M628 767h0M557 798h0M560 803h0M536 795h0M472 868h0M572 874h0M581 775h0M612 871h0M488 842h0M552 843h0M557 833h0M513 809h0M482 773h0M461 873h0M593 858h0M608 789h0M475 876h0M467 878h0M586 880h0M560 784h0M494 803h0M600 785h0M572 847h0M603 881h0M458 879h0M497 831h0M578 794h0M516 847h0M507 864h0M607 765h0M592 793h0M519 825h0M482 851h0M472 782h0M628 765h0M511 789h0M591 844h0M598 884h0M456 884h0M494 838h0M617 765h0M509 794h0M561 803h0M582 790h0M568 826h0M545 864h0M504 859h0M607 883h0M546 813h0M497 840h0M547 816h0M560 783h0M575 855h0M567 809h0M494 868h0M493 816h0M499 877h0M456 760h0M496 867h0M514 871h0M496 867h0M565 832h0M577 840h0M460 858h0M552 826h0M488 813h0M593 860h0M503 809h0M499 858h0M569 792h0M448 881h0M505 783h0M487 849h0M515 856h0M616 775h0M591 857h0M599 782h0M530 827h0M609 865h0M484 797h0M510 843h0M613 868h0M494 879h0M629 765h0M579 840h0M556 811h0M490 799h0M553 840h0M569 822h0M541 866h0M512 871h0M517 824h0M576 873h0M510 850h0M494 856h0M501 834h0M445 880h0M462 769h0M487 836h0M602 885h0M571 778h0M499 804h0M497 817h0M478 884h0M464 866h0M520 836h0M558 793h0M582 879h0M470 846h0M565 855h0M571 813h0M539 827h0M497 875h0M541 863h0M543 863h0M508 854h0M463 771h0M514 794h0M528 851h0M588 782h0M539 861h0M476 887h0M537 859h0M585 839h0M586 793h0M590 854h0M588 878h0M490 819h0M563 838h0M602 797h0M508 824h0M587 838h0M593 860h0M545 858h0M580 810h0M460 770h0M467 876h0M583 876h0M541 812h0M601 850h0M561 821h0M607 788h0M521 821h0M472 853h0M516 848h0M510 862h0M453 764h0M572 800h0M476 772h0M522 866h0M521 804h0M631 760h0M523 819h0M472 772h0M521 858h0M539 825h0M492 869h0M602 883h0M609 769h0M514 805h0M614 763h0M558 803h0M551 811h0M586 877h0M488 859h0M573 855h0M510 869h0M547 823h0M607 785h0M454 769h0M453 867h0M464 866h0M576 777h0M516 853h0M600 880h0M522 847h0M598 857h0M483 865h0M548 802h0M574 820h0M487 853h0M579 779h0M468 774h0M608 781h0M605 884h0M494 830h0M506 847h0M473 879h0M442 878h0M525 865h0M513 821h0M508 835h0M530 821h0M462 872h0M587 811h0M575 802h0M580 779h0M562 843h0M486 780h0M528 817h0M473 865h0M553 852h0M465 761h0M614 873h0M500 870h0M472 787h0M502 852h0M555 819h0M481 882h0M526 857h0M567 848h0M476 794h0M592 805h0M488 778h0M500 862h0M504 824h0M492 863h0M559 852h0M484 796h0M511 798h0M606 883h0M550 845h0M579 800h0M527 824h0M613 787h0M561 831h0M597 869h0M498 810h0M497 842h0M489 867h0M495 784h0M467 863h0M585 874h0M510 843h0M495 839h0M592 797h0M566 790h0M559 844h0M473 776h0M596 795h0M489 786h0M562 871h0M449 867h0M547 811h0M551 812h0M554 865h0M491 809h0M546 829h0M512 792h0M598 861h0M573 858h0M539 868h0M587 857h0M515 812h0M550 836h0M574 829h0M504 844h0M542 857h0M553 867h0M489 876h0M465 773h0M513 869h0M556 856h0M564 873h0M551 793h0M491 814h0M574 797h0M578 829h0M508 819h0M494 841h0M471 882h0M488 841h0M630 767h0M464 878h0M505 785h0M607 772h0M448 891h0M598 768h0M612 775h0M563 802h0M558 828h0M562 869h0M503 781h0M603 875h0M543 830h0M498 808h0M555 865h0M577 830h0M601 783h0M587 775h0M509 860h0M510 827h0M584 866h0M514 858h0M585 785h0M527 849h0M497 843h0M489 773h0M535 825h0M590 878h0M518 864h0M494 804h0M493 808h0M629 772h0M612 784h0M520 816h0M617 767h0M592 803h0M517 869h0M519 830h0M624 765h0M548 865h0M467 889h0M492 791h0M602 856h0M514 859h0M598 777h0M452 880h0M473 767h0M484 854h0M461 765h0M508 798h0M515 855h0M537 811h0M630 768h0M485 861h0M551 857h0M514 815h0M545 810h0M548 789h0M560 851h0M507 852h0M605 767h0M551 791h0M575 772h0M603 764h0M543 805h0M502 844h0M548 806h0M522 855h0M473 856h0M468 871h0M502 850h0M555 820h0M588 806h0M523 824h0M535 821h0M541 847h0M605 767h0M513 872h0M508 803h0M551 817h0M574 864h0M552 817h0M612 782h0M580 807h0M464 869h0M618 881h0M573 834h0M529 844h0M577 850h0M558 860h0M561 821h0M573 814h0M549 826h0M561 798h0M477 795h0M565 847h0M596 878h0M453 885h0M466 871h0M539 863h0M598 861h0M530 864h0M497 778h0M521 803h0M607 790h0M505 873h0M556 846h0M584 804h0M510 803h0M488 871h0M537 860h0M553 852h0M519 828h0M557 820h0M560 865h0M592 786h0M595 793h0M511 836h0M530 820h0M494 873h0M507 835h0M557 801h0M591 782h0M499 874h0M581 811h0M457 773h0M569 789h0M544 869h0M615 867h0M465 872h0M489 865h0M508 786h0M486 771h0M499 862h0M509 870h0M557 824h0M617 772h0M508 809h0M607 865h0M605 862h0M456 880h0M482 879h0M500 868h0M574 859h0M455 758h0M538 840h0M551 825h0M539 837h0M590 855h0M501 831h0M467 783h0M587 846h0M490 789h0M565 823h0M589 799h0M464 848h0M616 770h0M479 769h0M503 858h0M538 796h0M464 892h0M491 776h0M485 787h0M522 835h0M493 874h0M547 851h0M583 818h0M611 776h0M545 823h0M509 865h0M507 834h0M450 880h0M465 778h0M581 803h0M575 800h0M614 864h0M575 782h0M552 819h0M542 835h0M538 833h0M592 773h0M630 764h0M500 824h0M549 798h0M439 887h0M566 846h0M468 765h0M527 803h0M624 773h0M591 859h0M442 873h0M602 783h0M572 818h0M477 876h0M497 852h0M456 885h0M548 843h0M587 768h0M491 825h0M569 844h0M603 784h0M504 828h0M611 863h0M596 769h0M506 797h0M565 855h0M577 850h0M591 867h0M476 885h0M536 805h0M610 781h0M548 823h0M470 778h0M465 871h0M469 792h0M528 835h0M612 786h0M492 793h0M452 870h0M498 781h0M569 800h0M480 854h0M489 875h0M616 761h0M477 852h0M550 860h0M554 829h0M611 878h0M572 867h0M488 826h0M585 775h0M585 780h0M593 804h0M475 768h0M549 846h0M491 859h0M588 799h0M483 878h0M508 803h0M599 789h0M535 853h0M508 866h0M553 806h0M548 851h0M514 795h0M476 848h0M559 857h0M548 839h0M611 876h0M542 794h0M518 808h0M506 835h0M451 872h0M488 785h0M601 784h0M544 838h0M568 822h0M512 808h0M585 839h0M524 833h0M573 820h0M496 791h0M471 852h0M494 858h0M509 860h0M563 781h0M602 797h0M609 768h0M556 874h0M602 790h0M506 829h0M598 774h0M480 882h0M574 824h0M622 777h0M510 840h0M463 853h0M502 797h0M591 847h0M532 862h0M461 771h0M574 827h0M573 812h0M509 838h0M574 803h0M524 809h0M498 830h0M545 835h0M565 862h0M567 865h0M477 785h0M581 772h0M584 811h0M575 792h0M462 779h0M459 763h0M579 877h0M478 870h0M463 778h0M611 878h0M574 802h0M451 863h0M530 807h0M457 770h0M491 815h0M454 858h0M482 767h0M566 778h0M577 774h0M590 766h0M613 764h0M492 861h0M563 796h0M572 860h0M485 835h0M534 828h0M586 804h0M495 822h0M497 862h0M483 871h0M478 887h0M592 796h0M558 864h0M488 802h0M533 856h0M514 788h0M484 787h0M471 871h0M629 762h0M555 811h0M588 793h0M573 800h0M611 786h0M555 803h0M540 855h0M614 886h0M452 884h0M613 776h0M588 804h0M539 839h0M495 876h0M546 861h0M549 849h0M495 821h0M570 787h0M556 828h0M575 824h0M519 863h0M449 875h0M485 853h0M614 881h0M584 776h0M492 870h0M481 876h0M593 772h0M498 818h0M533 852h0M556 831h0M581 835h0M491 851h0M537 825h0M469 884h0M532 802h0M573 779h0M467 871h0M545 827h0M486 850h0M534 859h0M539 819h0M480 791h0M625 773h0M481 851h0M517 869h0M556 847h0M494 844h0M581 785h0M574 854h0M484 783h0M515 807h0M480 782h0M609 863h0M521 850h0M617 870h0M537 860h0M611 877h0M548 791h0M571 774h0M581 833h0M584 852h0M585 848h0M486 846h0M484 849h0M598 881h0M467 857h0M533 866h0M472 886h0M567 842h0M521 839h0M481 858h0M521 846h0M458 862h0M599 874h0M574 836h0M541 829h0M517 786h0M549 817h0M508 788h0M587 788h0M457 763h0M490 843h0M613 864h0M460 772h0M583 855h0M530 808h0M563 847h0M491 873h0M576 780h0M569 783h0M489 841h0M506 801h0M507 824h0M500 836h0M491 835h0M491 836h0M542 862h0M574 795h0M462 768h0M566 794h0M480 784h0M470 777h0M510 800h0M491 839h0M461 860h0M468 769h0M564 794h0M505 792h0M511 834h0M523 824h0M591 802h0M520 819h0M613 777h0M579 784h0M570 796h0M552 850h0M553 814h0M587 850h0M599 871h0M562 827h0M569 786h0M579 865h0M525 850h0M560 872h0M500 871h0M487 834h0M583 772h0M506 844h0M463 878h0M577 815h0M606 866h0M608 789h0M524 851h0M477 846h0M551 829h0M471 868h0M543 863h0M460 892h0M494 779h0M582 870h0M593 782h0M607 880h0M562 872h0M541 840h0M465 888h0M561 871h0M497 837h0M587 861h0M549 842h0M552 845h0M551 817h0M536 799h0M553 789h0M445 868h0M485 799h0M584 869h0M491 820h0M493 782h0M485 884h0M576 830h0M561 829h0M514 848h0M588 849h0M470 855h0M571 831h0M466 887h0M585 849h0M532 809h0M476 769h0M522 843h0M535 850h0M490 838h0M547 865h0M497 851h0M496 860h0M556 813h0M595 874h0M516 864h0M486 783h0M468 778h0M605 784h0M498 811h0M553 789h0M503 803h0M590 859h0M590 809h0M464 785h0M554 861h0M485 800h0M458 768h0M468 848h0M502 878h0M483 856h0M472 793h0M471 789h0M515 806h0M529 810h0M487 878h0M570 790h0M478 773h0M617 779h0M507 862h0M588 809h0M470 859h0M609 768h0M618 771h0M511 849h0M524 846h0M501 831h0M483 836h0M554 862h0M493 864h0M599 873h0M480 838h0M512 855h0M600 792h0M551 807h0M570 844h0M455 858h0M469 871h0M573 820h0M486 837h0M508 837h0M478 780h0M559 800h0M470 790h0M523 810h0M568 865h0M587 854h0M596 782h0M565 792h0M540 812h0M557 858h0M556 873h0M503 863h0M474 849h0M477 885h0M592 793h0M595 881h0M492 855h0M449 886h0M515 839h0M543 801h0M571 802h0M471 791h0M609 772h0M516 828h0M601 855h0M463 876h0M580 800h0M478 770h0M496 842h0M499 861h0M515 801h0M499 803h0M538 808h0M527 806h0M501 848h0M554 816h0M559 821h0M535 813h0M588 877h0M497 855h0M516 791h0M627 770h0M470 849h0M545 804h0M559 852h0M564 807h0M478 770h0M603 781h0M511 873h0M564 840h0M494 825h0M612 787h0M489 863h0M474 849h0M489 883h0M516 790h0M482 848h0M509 871h0M547 826h0M528 822h0M586 859h0M560 798h0M476 874h0M582 778h0M527 815h0M474 873h0M573 779h0M557 866h0M591 795h0M599 797h0M609 883h0M572 869h0M448 869h0M578 854h0M561 847h0M617 773h0M468 779h0M604 879h0M578 789h0M620 764h0M604 882h0M472 777h0M589 790h0M577 859h0M453 762h0M536 833h0M609 861h0M555 837h0M544 834h0M474 789h0M591 782h0M467 882h0M587 785h0M528 811h0M446 869h0M537 797h0M599 764h0M564 818h0M479 864h0M605 868h0M583 834h0M506 830h0M487 864h0M598 858h0M509 857h0M542 805h0M566 856h0M589 880h0M482 853h0M505 833h0M456 871h0M457 864h0M631 769h0M520 871h0M547 803h0M549 843h0M609 860h0M495 781h0M580 790h0M471 883h0M589 795h0M587 854h0M486 867h0M504 848h0M511 848h0M580 811h0M489 828h0M539 862h0M592 793h0M473 779h0M549 837h0M478 852h0M582 867h0M456 884h0M528 819h0M598 879h0M502 864h0M466 773h0M585 778h0M589 843h0M593 807h0M466 770h0M478 876h0M546 809h0M629 759h0M496 819h0M485 823h0M516 823h0M521 849h0M453 862h0M583 853h0M464 856h0M512 803h0M552 801h0M558 786h0M527 843h0M600 799h0M498 789h0M614 877h0M465 783h0M491 874h0M553 798h0M615 869h0M538 833h0M521 824h0M463 777h0M499 854h0M616 880h0M487 835h0M614 763h0M558 862h0M496 839h0M561 823h0M499 821h0M446 889h0M504 839h0M555 795h0M613 760h0M599 881h0M561 819h0M590 801h0M600 766h0M452 766h0M568 781h0M591 772h0M517 872h0M615 880h0M552 805h0M455 764h0M485 878h0M569 777h0M557 829h0M591 771h0M465 875h0M625 761h0M558 810h0M554 805h0M443 886h0M602 874h0M492 785h0M443 876h0M502 828h0M612 785h0M546 801h0M545 859h0M589 871h0M572 826h0M508 790h0M561 783h0M557 861h0M538 828h0M551 815h0M625 766h0M598 875h0M537 840h0M477 862h0M609 877h0M609 777h0M523 833h0M465 772h0M571 784h0M484 829h0M601 788h0M543 804h0M466 887h0M493 872h0M565 875h0M493 783h0M494 869h0M464 777h0M581 791h0M441 878h0M480 854h0M543 816h0M502 796h0M523 815h0M550 838h0M574 837h0M459 877h0M608 858h0M440 886h0M566 822h0M498 827h0M504 870h0M591 866h0M600 776h0M584 786h0M468 864h0M474 786h0M495 833h0M605 881h0M617 768h0M582 867h0M558 846h0M563 815h0M495 880h0M578 867h0M601 870h0M533 832h0M470 783h0M578 852h0M487 836h0M501 847h0M529 816h0M487 842h0M536 865h0M531 807h0M521 870h0M614 772h0M530 845h0M552 833h0M569 846h0M574 806h0M489 780h0M469 852h0M505 782h0M590 767h0M521 867h0M492 842h0M606 870h0M492 816h0M542 852h0M604 885h0M479 783h0M625 762h0M461 856h0M485 837h0M576 804h0M590 856h0M591 798h0M580 858h0M505 822h0M588 859h0M546 794h0M584 880h0M595 778h0M492 876h0M582 867h0M601 849h0M605 765h0M512 797h0M460 776h0M489 812h0M540 794h0M502 797h0M511 810h0M485 867h0M449 890h0M500 802h0M627 768h0M489 801h0M587 875h0M500 784h0M560 817h0M540 854h0M523 871h0M522 828h0M483 870h0M548 832h0M551 795h0M581 867h0M491 855h0M489 834h0M487 842h0M568 781h0M594 850h0M592 877h0M607 864h0M606 765h0M440 886h0M594 871h0M496 782h0M523 809h0M576 863h0M528 807h0M569 797h0M531 867h0M631 765h0M536 845h0M549 800h0M541 846h0M561 835h0M461 775h0M502 873h0M606 863h0M582 873h0M552 847h0M525 847h0M441 889h0M527 792h0M546 843h0M516 869h0M526 806h0M596 877h0M534 805h0M506 871h0M587 784h0M540 805h0M539 814h0M553 856h0M555 834h0M446 893h0M518 795h0M520 827h0M455 881h0M583 804h0M599 786h0M581 842h0M482 845h0M574 846h0M508 807h0M483 845h0M575 779h0M579 856h0M499 872h0M562 829h0M520 855h0M559 830h0M574 802h0M527 821h0M556 853h0M523 813h0M588 845h0M537 796h0M499 831h0M605 768h0M571 870h0M566 788h0M539 854h0M513 856h0M594 771h0M563 847h0M513 847h0M495 853h0M591 864h0M521 862h0M529 794h0M445 890h0M600 864h0M549 828h0M464 888h0M619 880h0M603 858h0M598 872h0M540 847h0M591 796h0M474 847h0M498 784h0M519 813h0M450 871h0M594 801h0M618 765h0M615 774h0M477 872h0M621 765h0M521 824h0M577 803h0M488 805h0M597 871h0M477 884h0M517 840h0M568 823h0M591 802h0M537 832h0M457 769h0M610 783h0M550 842h0M581 819h0M442 884h0M483 776h0M607 866h0M480 871h0M515 858h0M575 852h0M481 795h0M598 853h0M484 868h0M602 882h0M494 857h0M519 795h0M535 837h0M539 865h0M512 864h0M527 813h0M566 806h0M452 872h0M591 871h0M535 817h0M472 786h0M561 785h0M501 876h0M488 799h0M539 855h0M486 860h0M561 850h0M539 817h0M491 874h0M545 845h0M491 776h0M507 821h0M615 773h0M529 843h0M460 860h0M468 851h0M490 854h0M507 811h0M467 870h0M586 800h0M466 776h0M615 768h0M595 770h0M483 826h0M499 823h0M603 865h0M559 831h0M526 810h0M511 828h0M572 857h0M534 812h0M489 790h0M490 841h0M555 833h0M504 877h0M489 797h0M509 833h0M475 787h0M578 861h0M569 854h0M538 850h0M443 880h0M591 880h0M461 769h0M580 842h0M547 838h0M607 863h0M571 840h0M581 846h0M611 879h0M606 876h0M613 776h0M483 772h0M545 841h0M553 857h0M520 798h0M603 858h0M540 853h0M460 871h0M500 819h0M498 804h0M541 848h0M515 821h0M468 887h0M588 786h0M496 809h0M514 796h0M606 860h0M451 884h0M558 813h0M547 820h0M562 847h0M548 864h0M609 768h0M499 820h0M556 809h0M512 801h0M465 887h0M490 846h0M471 783h0M594 769h0M454 877h0M456 882h0M564 860h0M504 789h0M556 828h0M590 845h0M543 819h0M556 864h0M560 829h0M514 851h0M502 832h0M487 842h0M602 880h0M482 797h0M457 890h0M468 875h0M468 865h0M591 868h0M455 865h0M510 864h0M603 860h0M570 794h0M483 785h0M608 762h0M466 770h0M559 838h0M608 778h0M504 856h0M489 872h0M530 804h0M596 876h0M500 807h0M505 797h0M503 824h0M563 854h0M496 871h0M570 866h0M580 781h0M491 777h0M580 789h0M584 776h0M512 846h0M519 835h0M494 837h0M501 822h0M512 814h0M496 813h0M571 848h0M579 879h0M585 812h0M585 839h0M612 768h0M504 786h0M558 861h0M470 862h0M582 866h0M486 879h0M527 821h0M592 862h0M563 841h0M472 873h0M461 867h0M559 868h0M540 839h0M519 794h0M594 860h0M536 802h0M472 890h0M567 848h0M597 785h0M557 830h0M586 850h0M562 814h0M501 791h0M547 839h0M477 886h0M509 841h0M511 842h0M444 889h0M496 854h0M622 758h0M490 877h0M543 837h0M600 789h0M464 874h0M548 861h0M562 839h0M497 786h0M464 872h0M572 834h0M491 838h0M596 773h0M498 802h0M460 865h0M613 885h0M614 871h0M480 858h0M564 854h0M454 879h0M545 793h0M587 805h0M496 835h0M469 875h0M538 828h0M567 787h0M616 761h0M467 863h0M476 767h0M574 823h0M606 884h0M457 865h0M546 851h0M523 840h0M628 766h0M572 787h0M555 809h0M601 779h0M537 836h0M488 807h0M556 819h0M451 869h0M540 850h0M502 782h0M590 856h0M577 815h0M480 854h0M490 827h0M587 860h0M560 840h0M615 782h0M541 858h0M546 837h0M577 874h0M545 863h0M486 775h0M600 766h0M581 809h0M485 885h0M496 799h0M509 865h0M560 783h0M605 858h0M554 863h0M504 840h0M558 796h0M608 765h0M493 788h0M598 882h0M571 826h0M557 784h0M470 866h0M488 784h0M516 821h0M515 824h0M477 795h0M499 852h0M496 853h0M554 841h0M553 862h0M550 870h0M604 773h0M569 837h0M553 815h0M574 846h0M576 861h0M565 780h0M577 847h0M465 784h0M492 854h0M530 817h0M539 848h0M617 772h0M587 863h0M560 851h0M571 845h0M552 808h0M508 826h0M518 865h0M578 848h0M545 860h0M500 877h0M506 824h0M501 829h0M570 794h0M592 799h0M486 879h0M579 870h0M479 886h0M552 793h0M462 851h0M575 849h0M465 879h0M579 833h0M617 885h0M586 784h0M548 826h0M554 842h0M545 825h0M506 823h0M446 870h0M548 861h0M560 791h0M524 793h0M551 814h0M471 853h0M607 876h0M530 845h0M563 825h0M597 861h0M542 824h0M569 830h0M474 794h0M498 795h0M465 850h0M489 823h0M540 805h0M474 872h0M562 812h0M486 834h0M517 807h0M488 870h0M607 762h0M580 771h0M542 860h0M566 865h0M584 846h0M565 787h0M471 787h0M566 874h0M491 828h0M577 775h0M569 802h0M576 788h0M578 850h0M508 864h0M511 837h0M502 789h0M562 798h0M486 825h0M537 828h0M551 854h0M473 782h0M552 787h0M465 781h0M551 849h0M484 825h0M622 763h0M564 847h0M592 805h0M508 814h0M494 852h0M588 774h0M500 805h0M453 869h0M451 877h0M468 862h0M479 792h0M560 819h0M536 801h0M503 809h0M479 878h0M554 828h0M461 767h0M482 859h0M502 876h0M602 769h0M616 876h0M546 842h0M607 769h0M465 862h0M474 863h0M460 879h0M551 795h0M445 881h0M584 782h0M458 862h0M589 779h0M486 854h0M511 870h0M482 866h0M624 764h0M539 857h0M474 875h0M488 851h0M558 827h0M585 786h0M606 776h0M533 853h0M577 819h0M595 876h0M559 809h0M581 867h0M486 849h0M520 865h0M622 759h0M463 768h0M537 862h0M585 811h0M586 813h0M496 858h0M488 801h0M569 814h0M540 803h0M511 864h0M517 810h0M497 785h0M489 868h0M529 811h0M564 782h0M553 830h0M507 863h0M443 880h0M509 832h0M619 769h0M565 873h0M622 777h0M477 844h0M489 809h0M597 794h0M562 817h0M475 880h0M523 836h0M465 787h0M562 851h0M494 851h0M531 860h0M541 813h0M505 841h0M484 796h0M575 793h0M535 848h0M567 860h0M584 811h0M606 765h0M614 864h0M593 772h0M480 863h0M605 860h0M516 866h0M562 821h0M604 770h0M550 826h0M505 848h0M512 819h0M508 864h0M609 763h0M571 806h0M474 867h0M492 775h0M497 872h0M487 801h0M583 788h0M576 834h0M493 872h0M558 791h0M569 844h0M555 806h0M616 760h0M493 823h0M539 860h0M563 832h0M576 872h0M582 780h0M589 766h0M597 772h0M592 853h0M498 835h0M535 830h0M626 760h0M530 817h0M576 845h0M536 861h0M476 858h0M579 854h0M598 789h0M618 885h0M558 859h0M591 859h0M569 814h0M598 786h0M563 783h0M513 826h0M598 766h0M513 849h0M576 860h0M624 760h0M584 806h0M465 782h0M481 777h0M493 789h0M524 828h0M565 784h0M580 874h0M585 877h0M493 801h0M566 832h0M528 835h0M499 783h0M488 790h0M484 790h0M517 871h0M615 773h0M469 890h0M541 825h0M603 849h0M599 774h0M446 869h0M498 821h0M573 876h0M598 798h0M476 859h0M565 867h0M548 794h0M520 793h0M558 830h0M536 827h0M615 874h0M491 825h0M491 871h0M480 781h0M449 884h0M529 859h0M543 805h0M476 766h0M510 799h0M455 861h0M600 848h0M575 786h0M466 882h0M564 792h0M574 811h0M485 781h0M601 792h0M491 824h0M497 789h0M505 807h0M496 811h0M489 864h0M587 861h0M563 859h0M587 841h0M588 860h0M469 784h0M522 853h0M570 785h0M457 858h0M523 845h0M596 873h0M570 857h0M521 857h0M498 867h0M507 799h0M453 881h0M507 804h0M452 879h0M576 853h0M516 850h0M531 856h0M464 786h0M564 848h0M517 798h0M494 777h0M578 792h0M610 768h0M499 812h0M472 787h0M505 790h0M558 842h0M593 881h0M565 837h0M591 801h0M579 850h0M602 877h0M585 788h0M578 790h0M627 768h0M591 773h0M574 809h0M618 885h0M562 842h0M451 886h0M550 826h0M574 824h0M508 843h0M551 851h0M516 799h0M514 828h0M502 825h0M493 785h0M503 822h0M579 816h0M494 808h0M511 854h0M496 808h0M530 863h0M605 868h0M588 783h0M521 811h0M611 784h0M520 790h0M463 863h0M565 853h0M541 831h0M574 821h0M498 867h0M501 790h0M483 789h0M543 801h0M550 861h0M518 828h0M529 848h0M452 868h0M562 867h0M526 844h0M575 784h0M495 807h0M480 879h0M475 872h0M604 773h0M605 785h0M584 795h0M550 845h0M513 824h0M548 798h0M507 818h0M537 867h0M538 797h0M529 859h0M507 839h0M463 877h0M506 831h0M593 771h0M574 858h0M559 829h0M461 880h0M558 792h0M508 834h0M583 850h0M489 811h0M495 811h0M528 849h0M583 853h0M515 839h0M475 793h0M607 768h0M507 840h0M601 770h0M582 875h0M603 878h0M533 839h0M471 882h0M473 881h0M571 836h0M594 793h0M540 844h0M533 805h0M587 782h0M581 853h0M565 871h0M505 825h0M497 800h0M594 853h0M503 828h0M497 778h0M568 873h0M472 869h0M560 824h0M558 829h0M495 878h0M496 805h0M500 835h0M523 854h0M564 809h0M445 878h0M499 802h0M583 840h0M571 817h0M510 873h0M518 815h0M554 853h0M568 863h0M471 846h0M544 841h0M514 866h0M548 797h0M447 871h0M552 847h0M483 842h0M577 812h0M479 769h0M624 774h0M560 855h0M576 829h0M446 868h0M542 805h0M489 861h0M443 880h0M574 775h0M598 800h0M570 776h0M522 792h0M502 874h0M602 765h0M482 774h0M575 823h0M515 789h0M571 783h0M581 834h0M518 822h0M577 843h0M474 853h0M588 774h0M479 867h0M617 781h0M458 864h0M445 881h0M567 875h0M575 855h0M589 804h0M493 836h0M508 789h0M532 837h0M484 792h0M532 848h0M507 874h0M620 886h0M470 851h0M627 771h0M590 795h0M585 876h0M522 837h0M500 840h0M563 811h0M525 795h0M444 886h0M509 792h0M544 850h0M585 802h0M618 881h0M488 856h0M566 801h0M600 868h0M539 811h0M505 845h0M515 856h0M441 877h0M495 793h0M594 850h0M475 875h0M594 858h0M537 812h0M592 770h0M514 791h0M575 795h0M557 846h0M563 807h0M454 763h0M461 772h0M584 839h0M618 873h0M485 770h0M495 801h0M589 766h0M522 819h0M508 856h0M619 877h0M609 778h0M572 849h0M579 784h0M569 826h0M593 767h0M477 873h0M509 805h0M449 890h0M522 841h0M605 853h0M575 874h0M516 853h0M554 839h0M456 877h0M518 821h0M500 827h0M591 774h0M498 794h0M547 847h0M488 837h0M471 887h0M547 864h0M491 818h0M579 879h0M557 816h0M479 849h0M545 794h0M513 828h0M579 787h0M540 803h0M602 869h0M595 780h0M587 879h0M544 863h0M493 839h0M468 850h0M538 826h0M551 827h0M448 864h0M560 834h0M455 857h0M568 825h0M503 847h0M466 867h0M468 859h0M556 796h0M482 864h0M598 776h0M594 878h0M590 795h0M510 853h0M523 809h0M481 837h0M573 862h0M594 796h0M547 815h0M548 868h0M605 878h0M496 879h0M466 853h0M627 774h0M467 777h0M600 860h0M493 870h0M548 798h0M463 769h0M573 846h0M594 783h0M490 803h0M563 858h0M486 849h0M513 811h0M540 819h0M548 852h0M463 882h0M597 766h0M591 876h0M472 779h0M496 778h0M495 791h0M597 798h0M567 805h0M574 814h0M479 844h0M472 768h0M487 880h0M578 802h0M560 872h0M528 792h0M592 850h0M488 793h0M547 863h0M485 785h0M534 844h0M499 779h0M587 799h0M506 856h0M538 817h0M530 802h0M456 859h0M611 863h0M477 882h0M555 836h0M469 780h0M486 844h0M577 773h0M519 826h0M509 858h0M596 847h0M505 859h0M563 833h0M553 812h0M504 828h0M498 778h0M528 794h0M465 869h0M611 788h0M591 774h0M587 848h0M590 875h0M490 795h0M493 840h0M532 834h0M531 858h0M485 827h0M488 802h0M499 861h0M607 878h0M575 865h0M612 862h0M587 878h0M574 835h0M488 795h0M518 802h0M563 823h0M490 807h0M497 806h0M527 842h0M605 788h0M518 864h0M459 870h0M528 822h0M492 860h0M541 815h0M467 849h0M627 765h0M580 781h0M498 879h0M519 836h0M530 818h0M467 768h0M589 811h0M616 888h0M540 845h0M592 803h0M584 867h0M555 852h0M589 863h0M577 798h0M592 846h0M445 884h0M575 800h0M612 867h0M586 851h0M504 842h0M481 857h0M532 843h0M564 823h0M519 804h0M472 878h0M587 793h0M498 861h0M579 781h0M575 813h0M587 805h0M575 860h0M580 834h0M587 785h0M540 816h0M593 774h0M574 833h0M460 891h0M534 814h0M590 849h0M470 871h0M495 851h0M611 867h0M591 808h0M491 863h0M550 834h0M587 867h0M528 843h0M468 860h0M605 871h0M495 835h0M508 798h0M520 796h0M474 877h0M487 838h0M572 812h0M505 793h0M491 865h0M519 789h0M584 873h0M613 784h0M571 841h0M559 784h0M479 789h0M480 850h0M604 854h0M602 781h0M550 855h0M489 784h0M567 841h0M479 864h0M451 881h0M563 847h0M485 793h0M495 835h0M530 821h0M562 834h0M527 821h0M506 845h0M466 878h0M483 858h0M480 877h0M574 809h0M489 877h0M550 803h0M502 810h0M571 775h0M565 795h0M497 834h0M530 810h0M505 802h0M559 820h0M629 762h0M602 871h0M596 790h0M518 870h0M453 890h0M509 816h0M505 844h0M562 814h0M598 872h0M485 878h0M592 797h0M589 869h0M596 858h0M519 848h0M579 783h0M501 824h0M538 842h0M609 790h0M595 804h0M502 838h0M555 835h0M595 795h0M575 773h0M517 793h0M593 798h0M537 835h0M593 775h0M587 776h0M461 774h0M493 838h0M550 864h0M568 799h0M598 875h0M468 860h0M542 854h0M514 835h0M607 884h0M494 822h0M480 867h0M489 816h0M441 876h0M473 880h0M604 876h0M561 835h0M566 848h0M490 830h0M521 817h0M511 804h0M624 761h0M585 791h0M574 790h0M552 792h0M585 810h0M605 880h0M513 812h0M570 805h0M581 810h0M470 887h0M560 863h0M453 861h0M494 791h0M501 847h0M498 778h0M485 855h0M475 785h0M575 860h0M509 837h0M491 866h0M547 843h0M458 868h0M546 852h0M575 773h0M463 854h0M560 867h0M498 792h0M559 811h0M568 783h0M584 864h0M526 815h0M580 787h0M581 844h0M617 765h0M570 828h0M599 854h0M495 831h0M562 835h0M506 872h0M455 865h0M528 819h0M606 885h0M500 855h0M512 803h0M518 859h0M590 879h0M505 871h0M460 765h0M600 776h0M457 873h0M527 869h0M576 771h0M457 876h0M501 778h0M573 797h0M611 886h0M467 764h0M556 849h0M610 773h0M573 793h0M529 829h0M500 850h0M570 874h0M460 761h0M500 861h0M579 877h0M490 778h0M528 807h0M463 873h0M455 761h0M538 868h0M574 784h0M490 775h0M489 852h0M577 782h0M573 834h0M553 794h0M516 871h0M552 793h0M475 854h0M503 799h0M596 803h0M482 848h0M533 858h0M567 836h0M454 864h0M593 860h0M525 819h0M495 826h0M459 890h0M540 815h0M618 782h0M492 825h0M513 875h0M459 874h0M540 842h0M486 796h0M454 865h0M452 864h0M521 790h0M511 857h0M623 763h0M472 783h0M500 841h0M550 818h0M562 835h0M549 848h0M595 801h0M577 819h0M494 854h0M505 826h0M483 879h0M481 785h0M524 858h0M490 780h0M474 773h0M477 876h0M532 853h0M491 800h0M473 843h0M493 867h0M553 842h0M593 865h0M520 842h0M587 794h0M488 871h0M462 871h0M608 791h0M584 871h0M591 769h0M594 848h0M490 807h0M561 816h0M488 867h0M485 859h0M459 868h0M540 814h0M501 785h0M495 849h0M448 871h0M471 773h0M542 816h0M537 831h0M562 849h0M615 886h0M458 885h0M573 853h0M610 768h0M506 868h0M589 867h0M505 819h0M486 770h0M470 848h0M550 848h0M535 825h0M523 866h0M575 849h0M448 886h0M601 861h0M599 873h0M480 773h0M489 875h0M590 851h0M478 868h0M537 797h0M503 829h0M564 778h0M557 873h0M559 821h0M526 861h0M587 801h0M451 876h0M571 814h0M516 834h0M503 785h0M457 864h0M499 855h0M517 854h0M615 879h0M587 769h0M513 793h0M551 859h0M555 842h0M554 852h0M569 784h0M529 819h0M526 812h0M525 817h0M534 840h0M473 884h0M596 773h0M489 827h0M498 787h0M522 815h0M601 869h0M514 786h0M489 775h0M489 773h0M525 817h0M488 870h0M521 848h0M499 814h0M520 853h0M549 815h0M452 883h0M581 862h0M588 849h0M573 813h0M525 814h0M485 822h0M486 882h0M581 791h0M522 869h0M486 770h0M508 846h0M489 858h0M514 796h0M529 865h0M579 867h0M576 788h0M511 842h0M539 849h0M472 881h0M444 876h0M574 837h0M499 839h0M580 770h0M617 772h0M500 848h0M494 789h0M496 825h0M579 858h0M564 828h0M488 825h0M611 762h0M603 881h0M464 860h0M504 867h0M572 874h0M569 869h0M591 802h0M583 797h0M586 790h0M526 828h0M486 857h0M456 874h0M486 862h0M544 806h0M577 803h0M557 849h0M553 856h0M528 798h0M468 874h0M518 861h0M529 869h0M467 771h0M495 825h0M539 860h0M582 801h0M515 801h0M498 875h0M579 815h0M505 852h0M548 859h0M587 811h0M509 834h0M550 815h0M522 842h0M499 853h0M546 852h0M445 891h0M470 887h0M560 829h0M612 874h0M572 797h0M516 810h0M528 815h0M463 781h0M590 857h0M458 889h0M544 867h0M529 824h0M592 769h0M547 838h0M518 807h0M551 854h0M491 808h0M595 795h0M572 878h0M579 834h0M496 862h0M502 826h0M531 823h0M514 786h0M514 842h0M523 871h0M448 866h0M573 779h0M580 831h0M471 844h0M533 800h0M472 850h0M610 885h0M557 871h0M484 853h0M472 877h0M510 821h0M484 833h0M478 781h0M615 773h0M550 818h0M520 821h0M525 859h0M463 889h0M514 827h0M550 824h0M558 815h0M520 841h0M461 890h0M493 818h0M568 870h0M600 859h0M573 859h0M541 853h0M597 859h0M589 784h0M512 807h0M479 851h0M486 861h0M498 780h0M520 833h0M506 838h0M570 841h0M563 788h0M538 805h0M454 769h0M571 821h0M472 774h0M581 775h0M515 807h0M538 826h0M578 848h0M459 883h0M506 855h0M537 850h0M516 850h0M537 808h0M575 790h0M579 818h0M456 888h0M610 861h0M471 868h0M578 863h0M549 796h0M582 861h0M513 870h0M538 840h0M564 794h0M603 770h0M480 842h0M591 857h0M572 842h0M493 865h0M589 844h0M592 870h0M596 874h0M480 792h0M490 871h0M511 792h0M571 775h0M497 785h0M569 794h0M516 865h0M533 829h0M494 830h0M495 777h0M548 798h0M536 830h0M562 788h0M517 846h0M547 861h0M476 779h0M599 782h0M477 782h0M555 862h0M596 862h0M511 795h0M479 841h0M588 853h0M611 867h0M535 837h0M494 872h0M509 804h0M583 836h0M568 796h0M510 794h0M494 814h0M547 858h0M524 861h0M545 833h0M504 873h0M495 870h0M557 831h0M525 804h0M586 848h0M519 858h0M504 856h0M462 776h0M567 796h0M572 823h0M523 866h0M526 842h0M462 763h0M508 821h0M545 845h0M548 868h0M586 845h0M551 865h0M565 869h0M606 769h0M500 792h0M493 834h0M513 841h0M478 887h0M456 890h0M574 875h0M455 765h0M599 872h0M465 849h0M482 796h0M618 761h0M528 807h0M575 826h0M467 871h0M549 863h0M541 844h0M550 868h0M551 843h0M527 799h0M600 770h0M571 862h0M577 877h0M466 781h0M628 773h0M490 857h0M503 864h0M501 802h0M608 884h0M518 839h0M610 769h0M558 826h0M489 844h0M458 860h0M490 787h0M588 881h0M609 867h0M588 773h0M476 859h0M474 880h0M531 844h0M513 825h0M466 788h0M550 851h0M594 806h0M546 840h0M527 844h0M492 796h0M568 808h0M512 784h0M558 826h0M477 785h0M468 771h0M551 844h0M560 857h0M465 860h0M546 853h0M581 840h0M580 843h0M610 762h0M523 800h0M555 870h0M528 814h0M554 853h0M600 864h0M483 794h0M553 824h0M441 886h0M483 772h0M514 869h0M492 792h0M576 872h0M577 869h0M502 853h0M488 825h0M589 791h0M620 877h0M547 806h0M448 875h0M582 780h0M512 857h0M508 825h0M580 793h0M493 872h0M569 862h0M483 846h0M582 809h0M520 794h0M550 809h0M472 780h0M501 801h0M539 822h0M600 764h0M461 890h0M538 848h0M599 871h0M497 848h0M510 860h0M604 872h0M486 792h0M556 785h0M553 837h0M559 815h0M528 816h0M489 848h0M470 884h0M471 865h0M590 767h0M583 770h0M459 852h0M491 817h0M505 836h0M494 879h0M515 832h0M478 844h0M476 791h0M452 889h0M503 834h0M506 793h0M618 760h0M510 836h0M568 822h0M593 881h0M497 789h0M483 847h0M545 816h0M493 817h0M457 879h0M464 786h0M485 868h0M475 873h0M496 797h0M596 780h0M483 771h0M460 765h0M541 825h0M594 783h0M592 776h0M587 808h0M561 782h0M468 784h0M466 879h0M630 764h0M553 868h0M466 766h0M520 821h0M548 857h0M609 863h0M570 805h0M550 849h0M571 777h0M575 842h0M621 774h0M579 849h0M515 811h0M540 865h0M571 849h0M567 787h0M507 841h0M497 787h0M568 833h0M518 826h0M530 837h0M477 865h0M505 783h0M512 874h0M562 874h0M487 854h0M507 800h0M445 872h0M553 872h0M487 845h0M529 846h0M572 863h0M582 864h0M528 795h0M534 843h0M466 786h0M597 876h0M449 877h0M598 771h0M567 788h0M467 765h0M469 771h0M468 784h0M576 870h0M557 804h0M497 816h0M608 764h0M534 833h0M610 763h0M597 851h0M564 810h0M477 788h0M458 866h0M578 813h0M463 867h0M564 855h0M606 773h0M536 828h0M535 833h0M550 865h0M517 816h0M557 841h0M578 867h0M514 827h0M468 788h0M474 788h0M499 844h0M600 792h0M569 829h0M485 876h0M487 799h0M477 781h0M514 834h0M563 806h0M491 879h0M508 800h0M497 830h0M604 791h0M468 764h0M482 791h0M537 865h0M516 815h0M480 850h0M564 831h0M550 800h0M595 852h0M498 850h0M544 852h0M537 809h0M439 883h0M521 803h0M485 822h0M545 808h0M551 849h0M561 808h0M467 774h0M585 871h0M583 781h0M568 854h0M463 884h0M476 874h0M556 788h0M528 846h0M608 869h0M554 789h0M601 884h0M552 835h0M602 883h0M511 821h0M513 806h0M498 792h0M458 879h0M584 871h0M589 873h0M561 869h0M470 785h0M541 802h0M568 837h0M490 789h0M535 828h0M449 894h0M514 830h0M502 807h0M532 807h0M552 849h0M479 788h0M589 882h0M585 861h0M504 786h0M580 784h0M441 875h0M582 850h0M563 861h0M493 774h0M534 839h0M497 860h0M525 803h0M582 876h0M469 851h0M442 883h0M510 864h0M574 806h0M553 852h0M452 871h0M546 846h0M539 865h0M577 799h0M617 764h0M537 836h0M587 788h0M487 858h0M623 764h0M543 826h0M506 857h0M508 834h0M553 868h0M574 858h0M556 866h0M484 863h0M488 842h0M594 874h0M579 793h0M524 798h0M511 809h0M585 870h0M580 797h0M581 848h0M559 798h0M544 806h0M493 832h0M526 827h0M495 876h0M518 806h0M458 854h0M621 773h0M487 818h0M492 809h0M514 821h0M558 789h0M619 875h0M538 832h0M556 834h0M558 810h0M586 880h0M584 783h0M462 769h0M585 803h0M574 784h0M510 832h0M488 883h0M501 830h0M533 840h0M528 836h0M490 826h0M443 887h0M518 798h0M460 764h0M465 786h0M476 847h0M482 850h0M556 813h0M505 851h0M461 863h0M572 786h0M559 841h0M548 843h0M497 812h0M580 797h0M517 832h0M585 802h0M520 793h0M552 833h0M550 834h0M551 827h0M553 834h0M547 862h0M492 863h0M537 835h0M536 853h0M500 778h0M540 824h0M571 870h0M524 799h0M530 801h0M607 790h0M622 774h0M483 787h0M565 869h0M462 775h0M596 782h0M489 877h0M481 793h0M544 801h0M504 876h0M571 867h0M623 777h0M608 763h0M530 853h0M494 821h0M581 880h0M484 786h0M504 863h0M509 842h0M501 854h0M570 789h0M477 769h0M567 806h0M579 812h0M497 805h0M475 856h0M619 773h0M609 878h0M492 830h0M462 891h0M521 803h0M599 775h0M606 786h0M598 794h0M596 850h0M543 841h0M559 826h0M612 882h0M447 862h0M486 863h0M537 831h0M522 831h0M501 852h0M598 874h0M451 878h0M588 773h0M543 843h0M596 792h0M601 761h0M475 880h0M534 809h0M507 799h0M487 780h0M555 789h0M608 882h0M570 779h0M453 858h0M621 761h0M592 874h0M470 881h0M510 821h0M546 837h0M471 783h0M503 786h0M445 873h0M495 828h0M506 842h0M464 887h0M570 846h0M531 799h0M494 850h0M450 875h0M559 822h0M566 824h0M459 878h0M582 855h0M506 852h0M563 807h0M545 838h0M506 874h0M569 855h0M601 853h0M526 864h0M545 826h0M504 795h0M618 878h0M522 840h0M618 887h0M473 769h0M550 849h0M595 848h0M538 855h0M490 776h0M544 841h0M547 843h0M535 855h0M497 780h0M590 780h0M465 881h0M617 769h0M559 786h0M514 819h0M510 798h0M519 861h0M545 847h0M487 822h0M573 777h0M525 862h0M571 804h0M465 889h0M494 801h0M539 836h0M478 781h0M508 838h0M484 835h0M498 864h0M502 852h0M536 842h0M448 891h0M549 848h0M459 890h0M495 879h0M488 796h0M592 803h0M594 871h0M560 850h0M579 820h0M567 808h0M616 773h0M612 785h0M496 797h0M460 876h0M502 797h0M499 789h0M466 868h0M514 853h0M603 880h0M592 779h0M489 871h0M587 851h0M588 782h0M443 886h0M505 816h0M578 828h0M610 786h0M483 875h0M458 869h0M512 863h0M446 871h0M487 772h0M569 838h0M582 772h0M577 809h0M546 791h0M553 798h0M503 827h0M489 876h0M604 784h0M488 836h0M612 884h0M526 863h0M495 781h0M618 878h0M599 793h0M559 812h0M492 868h0M537 858h0M496 792h0M561 801h0M618 888h0M575 868h0M573 792h0M525 795h0M566 785h0M585 787h0M543 814h0M615 878h0M457 765h0M578 866h0M503 792h0M574 852h0M544 828h0M511 814h0M545 850h0M547 794h0M550 799h0M508 858h0M455 875h0M578 864h0M544 825h0M567 871h0M508 835h0M551 858h0M501 791h0M613 888h0M466 847h0M471 800h0M590 810h0M540 872h0M450 760h0M477 765h0M614 877h0M594 811h0M629 764h0M609 859h0M601 849h0M623 751h0M447 861h0M590 845h0M620 883h0M455 754h0M458 770h0M606 885h0M448 862h0M460 774h0M632 761h0M520 786h0M487 803h0M481 835h0M459 777h0M446 893h0M475 835h0M587 843h0M596 877h0M506 882h0M567 879h0M474 889h0M446 765h0M589 843h0M590 878h0M540 792h0M440 887h0M596 758h0M476 760h0M606 797h0M524 868h0M622 878h0M449 759h0M442 889h0M629 763h0M583 768h0M468 894h0M534 790h0M441 881h0M536 799h0M575 820h0M473 843h0M622 876h0M470 844h0M600 880h0M455 776h0M631 769h0M518 786h0M622 758h0M444 887h0M624 758h0M478 804h0M627 777h0M474 837h0M534 867h0M449 866h0M535 800h0M472 887h0M504 880h0M560 875h0M574 770h0M635 775h0M620 891h0M459 847h0M620 762h0M618 885h0M469 794h0M605 764h0M615 764h0M443 880h0M442 871h0M435 890h0M494 777h0M464 783h0M571 827h0M619 888h0M606 767h0M588 842h0M506 878h0M445 754h0M560 771h0M566 774h0M552 770h0M586 765h0M601 757h0M622 752h0M597 880h0M588 880h0M560 878h0M470 893h0M456 892h0" stroke="#000" stroke-width="4.3" stroke-linecap="round"/>
<path d="M484 855h0M528 861h0M489 851h0M499 855h0M548 830h0M570 843h0M501 856h0M573 850h0M586 838h0M562 851h0M568 855h0M508 861h0M554 849h0M578 841h0M529 833h0M493 855h0M569 857h0M582 854h0M579 848h0M578 859h0M568 837h0M554 864h0M530 851h0M569 859h0M571 829h0M557 850h0M553 853h0M577 858h0M579 842h0M589 844h0M513 859h0M510 856h0M574 863h0M580 854h0M570 851h0M561 855h0M491 849h0M515 854h0M564 849h0M559 838h0M554 855h0M570 832h0M586 852h0M568 846h0M523 851h0M562 850h0M547 857h0M541 850h0M522 857h0M534 855h0M579 835h0M517 859h0M513 849h0M569 852h0M548 860h0M537 852h0M504 848h0M516 851h0M481 852h0M577 855h0M575 839h0M532 857h0M538 851h0M533 852h0M519 854h0M517 863h0M570 854h0M535 858h0M520 862h0M497 854h0M539 864h0M488 849h0M532 860h0M479 851h0M527 860h0M495 856h0M574 833h0M532 865h0M573 830h0M571 843h0M513 865h0M582 841h0M547 864h0M484 853h0M583 840h0M576 837h0M585 846h0M519 864h0M578 836h0M569 851h0M521 858h0M571 829h0M576 847h0M536 857h0M512 861h0M524 855h0M497 854h0M563 851h0M578 838h0M554 855h0M560 860h0M517 855h0M579 860h0M490 859h0M547 862h0M574 848h0M578 843h0M491 853h0M563 850h0M508 858h0M571 829h0M519 860h0M499 857h0M556 851h0M528 852h0M540 860h0M562 848h0M578 840h0M585 843h0M519 861h0M573 845h0M571 828h0M560 839h0M506 855h0M518 855h0M588 841h0M530 857h0M562 860h0M562 852h0M507 860h0M527 860h0M531 854h0M487 854h0M572 837h0M544 867h0M576 844h0M526 856h0M530 850h0M504 858h0M579 839h0M527 849h0M570 837h0M561 836h0M487 852h0M484 855h0M560 825h0M552 856h0M569 835h0M556 865h0M580 858h0M585 841h0M525 850h0M501 859h0M571 854h0M530 853h0M502 850h0M561 854h0M571 847h0M501 856h0M497 860h0M581 848h0M559 866h0M524 852h0M495 850h0M500 851h0M496 860h0M511 859h0M539 860h0M510 855h0M568 847h0M500 853h0M496 852h0M573 836h0M545 865h0M577 832h0M526 847h0M527 855h0M520 856h0M543 856h0M578 860h0M554 861h0M547 856h0M509 858h0M541 859h0M569 854h0M556 863h0M561 857h0M581 839h0M575 859h0M572 835h0M545 864h0M554 846h0M532 856h0M480 847h0M521 854h0M480 851h0M565 864h0M494 853h0M562 844h0M539 858h0M537 862h0M548 855h0M567 851h0M565 855h0M570 855h0M566 855h0M487 853h0M554 856h0M500 859h0M538 864h0M481 852h0M510 855h0M542 850h0M565 855h0M577 862h0M490 851h0M481 852h0M495 794h0M584 839h0M543 847h0M567 830h0M486 858h0M503 849h0M568 861h0M533 856h0M500 858h0M512 852h0M489 855h0M574 847h0M531 857h0M537 863h0M550 851h0M566 862h0M553 864h0M575 847h0M511 858h0M570 863h0M508 851h0M501 856h0M507 858h0M532 856h0M484 853h0M550 863h0M514 863h0M564 827h0M569 856h0M561 838h0M495 861h0M534 847h0M549 853h0M573 857h0M582 835h0M550 864h0M561 856h0M507 860h0M549 863h0M582 849h0M565 857h0M560 862h0M566 832h0M575 832h0M543 855h0M499 861h0M568 861h0M567 833h0M524 855h0M525 854h0M513 859h0M553 863h0M479 849h0M577 845h0M525 850h0M570 840h0M566 845h0M571 855h0M549 862h0M578 849h0M525 860h0M510 864h0M537 863h0M521 850h0M524 858h0M585 845h0M568 828h0M552 857h0M571 852h0M571 854h0M490 856h0M565 829h0M581 839h0M529 818h0M514 861h0M496 861h0M550 859h0M556 855h0M536 865h0M533 856h0M509 856h0M583 838h0M523 860h0M525 854h0M534 852h0M541 861h0M502 857h0M490 852h0M543 860h0M580 843h0M496 859h0M548 853h0M558 845h0M572 858h0M494 852h0M556 850h0M559 849h0M573 832h0M500 850h0M576 838h0M526 854h0M554 857h0M564 846h0M554 847h0M564 853h0M575 837h0M542 860h0M569 854h0M580 845h0M544 863h0M587 845h0M518 860h0M566 848h0M519 855h0M498 849h0M524 854h0M589 847h0M483 854h0M516 858h0M581 844h0M580 846h0M556 848h0M527 852h0M486 857h0M556 863h0M563 850h0M578 848h0M570 840h0M552 859h0M549 857h0M547 858h0M570 847h0" stroke="#5a1212" stroke-width="4.3" stroke-linecap="round"/>
<path d="M538 852h0M500 803h0M565 829h0M546 833h0M574 836h0M505 800h0M532 830h0M549 821h0M508 843h0M541 848h0M517 850h0M490 834h0M501 853h0M560 839h0M532 816h0M500 798h0M522 849h0M566 843h0M570 839h0M552 847h0M566 828h0M536 848h0M525 847h0M485 849h0M495 850h0M495 849h0M500 831h0M541 827h0M511 844h0M486 850h0M496 797h0M550 833h0M531 844h0M516 827h0M489 797h0M560 850h0M568 827h0M531 853h0M503 797h0M569 830h0M519 828h0M567 826h0M521 803h0M503 818h0M503 852h0M485 851h0M543 854h0M520 848h0M525 835h0M511 857h0M563 833h0M564 833h0M555 845h0M496 850h0M544 849h0M512 853h0M551 846h0M493 824h0M532 846h0M556 830h0M517 805h0M556 820h0M554 837h0M553 846h0M558 840h0M490 813h0M493 849h0M531 842h0M566 840h0M547 833h0M550 846h0M513 853h0M487 844h0M532 848h0M554 843h0M577 842h0M566 836h0M562 824h0M564 828h0M526 832h0M568 843h0M558 821h0M561 834h0M560 832h0M560 827h0M518 850h0M538 834h0M565 843h0M528 847h0M507 842h0M557 821h0M493 851h0M496 844h0M495 810h0M490 847h0M574 837h0M557 845h0M545 846h0M543 813h0M552 832h0M495 852h0M563 843h0M574 834h0M552 853h0M514 809h0M480 837h0M570 832h0M524 810h0M533 844h0M513 849h0M522 858h0M518 850h0M564 843h0M507 798h0M497 798h0M559 837h0M546 847h0M518 846h0M549 839h0M495 805h0M563 838h0M491 832h0M566 834h0M560 840h0M495 806h0M506 806h0M486 835h0M511 806h0M535 849h0M518 846h0M505 848h0M495 845h0M549 821h0M519 844h0M537 855h0M562 825h0M492 798h0M520 819h0M509 850h0M542 850h0M531 853h0M512 849h0M505 848h0M480 850h0M579 840h0M535 817h0M480 840h0M562 836h0M513 822h0M526 827h0M511 822h0M523 843h0M570 828h0M527 830h0M558 832h0M482 849h0M479 848h0M546 849h0M506 822h0M569 842h0M489 848h0M511 849h0" stroke="#a51c1c" stroke-width="4.3" stroke-linecap="round"/>
<path d="M525 820h0M525 842h0M556 821h0M543 834h0M504 830h0M531 845h0M533 843h0M516 842h0M481 839h0M519 827h0M537 824h0M510 809h0M520 843h0M511 819h0M530 824h0M515 831h0M490 802h0M556 837h0M557 823h0M554 841h0M522 837h0M496 837h0M491 824h0M529 816h0M533 846h0M509 802h0M498 804h0M491 806h0M503 818h0M491 821h0M500 807h0M523 823h0M532 831h0M550 839h0M500 827h0M548 817h0M543 820h0M500 818h0M534 819h0M532 808h0M521 833h0M498 802h0M501 806h0M543 816h0M565 829h0M491 808h0M521 834h0M504 803h0M540 815h0M516 826h0M542 812h0M505 820h0M505 850h0M501 827h0M525 805h0M523 825h0M514 824h0M523 839h0M509 802h0M524 826h0M508 841h0M496 841h0M535 810h0M533 825h0M529 804h0M503 836h0M541 848h0M537 835h0M497 831h0M543 821h0M508 843h0M546 832h0M537 814h0M518 812h0M538 835h0M547 815h0M485 834h0M513 831h0M526 812h0M537 842h0M501 821h0M533 821h0M539 824h0M544 830h0M537 832h0M493 806h0M527 824h0M533 826h0M496 808h0M555 821h0M508 842h0M500 819h0M532 817h0M499 836h0M538 845h0M527 833h0M537 843h0M502 830h0M493 845h0M507 835h0M546 837h0M519 810h0M529 835h0M536 837h0M511 843h0M546 823h0M547 822h0M539 843h0M512 811h0M522 805h0M504 846h0M493 845h0M493 802h0M541 821h0M515 811h0M512 803h0M484 833h0M503 848h0M522 846h0M534 818h0M490 805h0M498 822h0M535 831h0M529 834h0M508 830h0M559 836h0M501 804h0M521 817h0M545 837h0M530 812h0M526 816h0M527 816h0M537 831h0M517 817h0M485 843h0M507 807h0M529 820h0M518 811h0M495 823h0M489 833h0M529 830h0M519 837h0M524 803h0M502 823h0M534 843h0M522 845h0M496 843h0M531 840h0M505 839h0M539 836h0M499 828h0M497 817h0M478 842h0M498 805h0M546 839h0M511 844h0M529 817h0M487 840h0M555 844h0M521 805h0M532 821h0M498 811h0M555 836h0M520 839h0M505 829h0M521 810h0M530 839h0M543 835h0M509 832h0M531 813h0M508 798h0M518 847h0M543 831h0M497 826h0M519 828h0M521 838h0M493 823h0M553 838h0M502 810h0M492 804h0M527 804h0M481 840h0M551 823h0M530 810h0M535 814h0M503 803h0M541 813h0M493 806h0M491 828h0M502 841h0M496 822h0M511 801h0M552 844h0M499 825h0M503 804h0M499 807h0M542 822h0M514 817h0M489 824h0M530 829h0M537 840h0M499 818h0M545 843h0M520 830h0M539 841h0M522 801h0M530 818h0M522 828h0M506 806h0M505 809h0M529 834h0M507 844h0M495 814h0M497 825h0M556 840h0M493 838h0M555 837h0M505 813h0M488 845h0M515 834h0M495 803h0M556 826h0M551 824h0M495 804h0M511 808h0M539 809h0M532 841h0M523 846h0M493 810h0M541 826h0M547 842h0M486 842h0M528 837h0M483 843h0M491 835h0M530 820h0M508 806h0M510 807h0M548 837h0M527 832h0M522 812h0M508 808h0M480 836h0M508 825h0M483 842h0M562 839h0M533 849h0M494 798h0M490 840h0M534 818h0M516 801h0M511 828h0M498 829h0M528 839h0M563 834h0M504 798h0M544 814h0M555 837h0M525 831h0M496 810h0M508 804h0M502 800h0M518 847h0M538 850h0M515 814h0M491 827h0M491 827h0M544 832h0M538 837h0M480 839h0M535 818h0M561 834h0M533 828h0M488 843h0M510 814h0M483 835h0M517 804h0M548 841h0M494 809h0M535 812h0M485 831h0M562 843h0M510 833h0M502 799h0M555 845h0M494 845h0M543 819h0M530 804h0M496 831h0M520 848h0M525 844h0M501 799h0M515 818h0M491 820h0M542 824h0M520 846h0M504 831h0M529 818h0M494 817h0M524 848h0M498 817h0M510 815h0M533 820h0M555 845h0M554 826h0M512 820h0M535 810h0M515 813h0M534 828h0M536 833h0M550 822h0M498 809h0M508 802h0M493 806h0M551 835h0M518 831h0M535 823h0M506 835h0M533 808h0M499 843h0M543 842h0M548 828h0M542 816h0M538 847h0M518 815h0M493 814h0M556 831h0M501 810h0M492 842h0M523 841h0M502 846h0M513 842h0M533 842h0M509 835h0M523 806h0M512 845h0M522 837h0M496 809h0M509 801h0M508 823h0M539 843h0M522 843h0M504 840h0M502 821h0M538 839h0M546 839h0M531 825h0M527 830h0M499 815h0M494 809h0M496 825h0M528 843h0M543 816h0M549 833h0M494 799h0M534 822h0M545 825h0M521 841h0M535 839h0M507 808h0M541 824h0M531 822h0M562 831h0M509 841h0M525 811h0M503 837h0M547 818h0M518 846h0M517 807h0M505 812h0M491 800h0M552 832h0M525 814h0M497 822h0M508 810h0M546 823h0M500 827h0M551 833h0M480 839h0M515 826h0M536 813h0M513 813h0M551 824h0M517 807h0M500 807h0M483 840h0M532 823h0M541 845h0M541 822h0M503 805h0M503 808h0M540 838h0M531 830h0M523 849h0M493 841h0M548 841h0M512 850h0M509 827h0M540 836h0M497 839h0M502 818h0M526 832h0M524 808h0M510 813h0M516 835h0M522 828h0M509 802h0M521 806h0M497 841h0M497 821h0M533 829h0M518 803h0M555 819h0M533 839h0M503 835h0M527 835h0M556 839h0M534 806h0M507 844h0M507 842h0M532 840h0M497 822h0M525 815h0M517 819h0M517 802h0M528 807h0M507 836h0M505 831h0M554 828h0M509 820h0M498 801h0M512 830h0M517 806h0M524 842h0M540 832h0M513 830h0M533 825h0M526 840h0M511 797h0M513 811h0M533 840h0M524 833h0M520 835h0M501 820h0M523 832h0M489 828h0M487 831h0M556 824h0M546 843h0M523 803h0M552 843h0M538 819h0M535 825h0M537 844h0M495 806h0M490 831h0M549 818h0M495 849h0M508 803h0M529 822h0M528 830h0M522 819h0M483 839h0M487 847h0M548 818h0M505 830h0M530 814h0M543 839h0M571 830h0M534 818h0M496 821h0M552 842h0M564 829h0M497 825h0M489 822h0M518 832h0M538 812h0M518 827h0M518 818h0M490 831h0M516 829h0M510 811h0M538 844h0M508 818h0M528 825h0M514 840h0M498 842h0M557 825h0M560 829h0M567 827h0M512 798h0M512 839h0M534 837h0M509 838h0M492 829h0M507 804h0M500 804h0M488 843h0M512 845h0M491 822h0M530 838h0M525 822h0M514 838h0M495 803h0M496 818h0M532 817h0M530 837h0M495 801h0M479 845h0M553 828h0M497 836h0M555 836h0M535 830h0M513 843h0M527 844h0M535 816h0M496 822h0M517 818h0M498 799h0M522 814h0M532 824h0M484 842h0M560 829h0M501 832h0M557 825h0M501 812h0M521 827h0M513 819h0M499 824h0M526 847h0M501 805h0M519 822h0M529 829h0M516 838h0M546 846h0M512 818h0M528 844h0M498 836h0M487 843h0M493 808h0M522 805h0M524 839h0M553 844h0M485 833h0M501 844h0M522 848h0M495 821h0M544 826h0M526 831h0M512 813h0M502 798h0M541 815h0M502 843h0M545 825h0M502 819h0M512 845h0M527 809h0M543 837h0M512 802h0M480 841h0M513 830h0M539 838h0M531 831h0M486 846h0M504 811h0M538 810h0M505 812h0M529 808h0M524 836h0M548 841h0M530 834h0M522 839h0M498 841h0M523 821h0M509 801h0M527 845h0M491 841h0M511 800h0" stroke="#e62222" stroke-width="4.3" stroke-linecap="round"/>
<path d="M580 852h0M558 858h0M512 864h0M525 857h0M564 860h0M541 858h0M544 863h0M578 851h0M509 861h0M552 860h0M538 862h0M493 859h0M556 864h0M490 860h0M582 849h0M565 856h0M533 865h0M577 855h0M537 864h0M561 853h0M584 851h0M567 856h0M584 851h0M568 863h0M521 864h0M546 865h0M577 832h0M522 863h0M577 857h0M560 856h0M566 853h0M515 860h0M572 857h0M571 859h0M499 862h0M531 864h0M533 859h0M549 855h0M509 863h0M553 861h0M564 858h0M580 849h0M572 856h0M538 862h0M517 860h0M587 846h0M571 857h0M523 861h0M584 852h0M554 859h0M578 856h0M512 860h0M514 859h0M563 855h0M583 849h0M581 851h0M544 855h0M573 852h0M552 865h0M497 859h0M574 855h0" stroke="#000" stroke-width="4.3" stroke-linecap="round"/>
<defs><marker id="ah" viewBox="0 0 6 6" refX="5" refY="3" markerWidth="5" markerHeight="5" orient="auto-start-reverse"><path d="M0 0.6L6 3L0 5.4" fill="none" stroke="#777" stroke-width="1"/></marker></defs>
<line x1="480.4" y1="752.2" x2="600.5" y2="752.2" stroke="#777" stroke-width="0.9" marker-start="url(#ah)" marker-end="url(#ah)"/>
<line x1="480.4" y1="892" x2="600.5" y2="892" stroke="#777" stroke-width="0.9" marker-start="url(#ah)" marker-end="url(#ah)"/>
<line x1="437.1" y1="772.2" x2="437.1" y2="885.3" stroke="#777" stroke-width="0.9" marker-start="url(#ah)" marker-end="url(#ah)"/>
<line x1="637.1" y1="772.2" x2="637.1" y2="884.2" stroke="#777" stroke-width="0.9" marker-start="url(#ah)" marker-end="url(#ah)"/>
<line x1="428.20" y1="783.30" x2="431.20" y2="783.30" stroke="#777" stroke-width="0.8"/>
<text x="425.5" y="786.3" font-size="8.5" text-anchor="end" fill="#444">1</text>
<line x1="428.20" y1="828.30" x2="431.20" y2="828.30" stroke="#777" stroke-width="0.8"/>
<text x="425.5" y="831.3" font-size="8.5" text-anchor="end" fill="#444">0</text>
<line x1="428.20" y1="873.10" x2="431.20" y2="873.10" stroke="#777" stroke-width="0.8"/>
<text x="425.5" y="876.1" font-size="8.5" text-anchor="end" fill="#444">−1</text>
<line x1="473.30" y1="896.90" x2="473.30" y2="899.90" stroke="#777" stroke-width="0.8"/>
<text x="473.3" y="908.5" font-size="8.5" text-anchor="middle" fill="#444">−1</text>
<line x1="539.90" y1="896.90" x2="539.90" y2="899.90" stroke="#777" stroke-width="0.8"/>
<text x="539.9" y="908.5" font-size="8.5" text-anchor="middle" fill="#444">0</text>
<line x1="606.70" y1="896.90" x2="606.70" y2="899.90" stroke="#777" stroke-width="0.8"/>
<text x="606.7" y="908.5" font-size="8.5" text-anchor="middle" fill="#444">1</text>
<text x="538.0" y="923.0" font-size="10.2" text-anchor="middle" textLength="122.5" lengthAdjust="spacingAndGlyphs">Relative meta-module score</text>
<text x="540" y="934.2" font-size="9.5" text-anchor="middle">(log<tspan font-size="6.5" dy="2">2</tspan><tspan dy="-2">(|SC1 − SC2| + 1))</tspan></text>
<text x="399.2" y="823.0" font-size="10.2" text-anchor="middle" textLength="122.5" lengthAdjust="spacingAndGlyphs" transform="rotate(-90 399.2 823.0)">Relative meta-module score</text>
<text x="410.8" y="823" font-size="9.5" text-anchor="middle" transform="rotate(-90 410.8 823)">(log<tspan font-size="6.5" dy="2">2</tspan><tspan dy="-2">(|SC1 − SC2| + 1))</tspan></text>
<text x="411.0" y="752.0" font-size="9.5" textLength="37.0" lengthAdjust="spacingAndGlyphs" transform="rotate(-30 411.0 752.0)">OPC-like</text>
<text x="411.0" y="905.0" font-size="9.5" textLength="31.0" lengthAdjust="spacingAndGlyphs" transform="rotate(30 411.0 905.0)">AC-like</text>
<text x="613.5" y="721.0" font-size="9.5" textLength="78.0" lengthAdjust="spacingAndGlyphs" transform="rotate(30 613.5 721.0)">NPC-like/NEU-like</text>
<text x="617.0" y="925.0" font-size="9.5" textLength="76.0" lengthAdjust="spacingAndGlyphs" transform="rotate(-30 617.0 925.0)">MES-like/hypoxia</text>
<defs><linearGradient id="hcb" x1="0" x2="1" y1="0" y2="0"><stop offset="0" stop-color="#000"/><stop offset="0.5" stop-color="#8a1616"/><stop offset="1" stop-color="#f0201e"/></linearGradient></defs>
<rect x="560.20" y="737.20" width="38.10" height="5.30" fill="url(#hcb)"/>
<text x="563.0" y="734.2" font-size="8.5" text-anchor="middle">0%</text>
<text x="598.5" y="734.2" font-size="8.5" text-anchor="middle">40%</text>
<text x="551.4" y="735.0" font-size="9.5" text-anchor="end" textLength="86.7" lengthAdjust="spacingAndGlyphs">Percentage of GPC-</text>
<text x="551.4" y="743.8" font-size="9.5" text-anchor="end" textLength="61.0" lengthAdjust="spacingAndGlyphs">like neighbors</text>
<text x="553.6" y="425.1" font-size="10.2" text-anchor="middle" textLength="21.5" lengthAdjust="spacingAndGlyphs">Cells</text>
</svg></body></html>
